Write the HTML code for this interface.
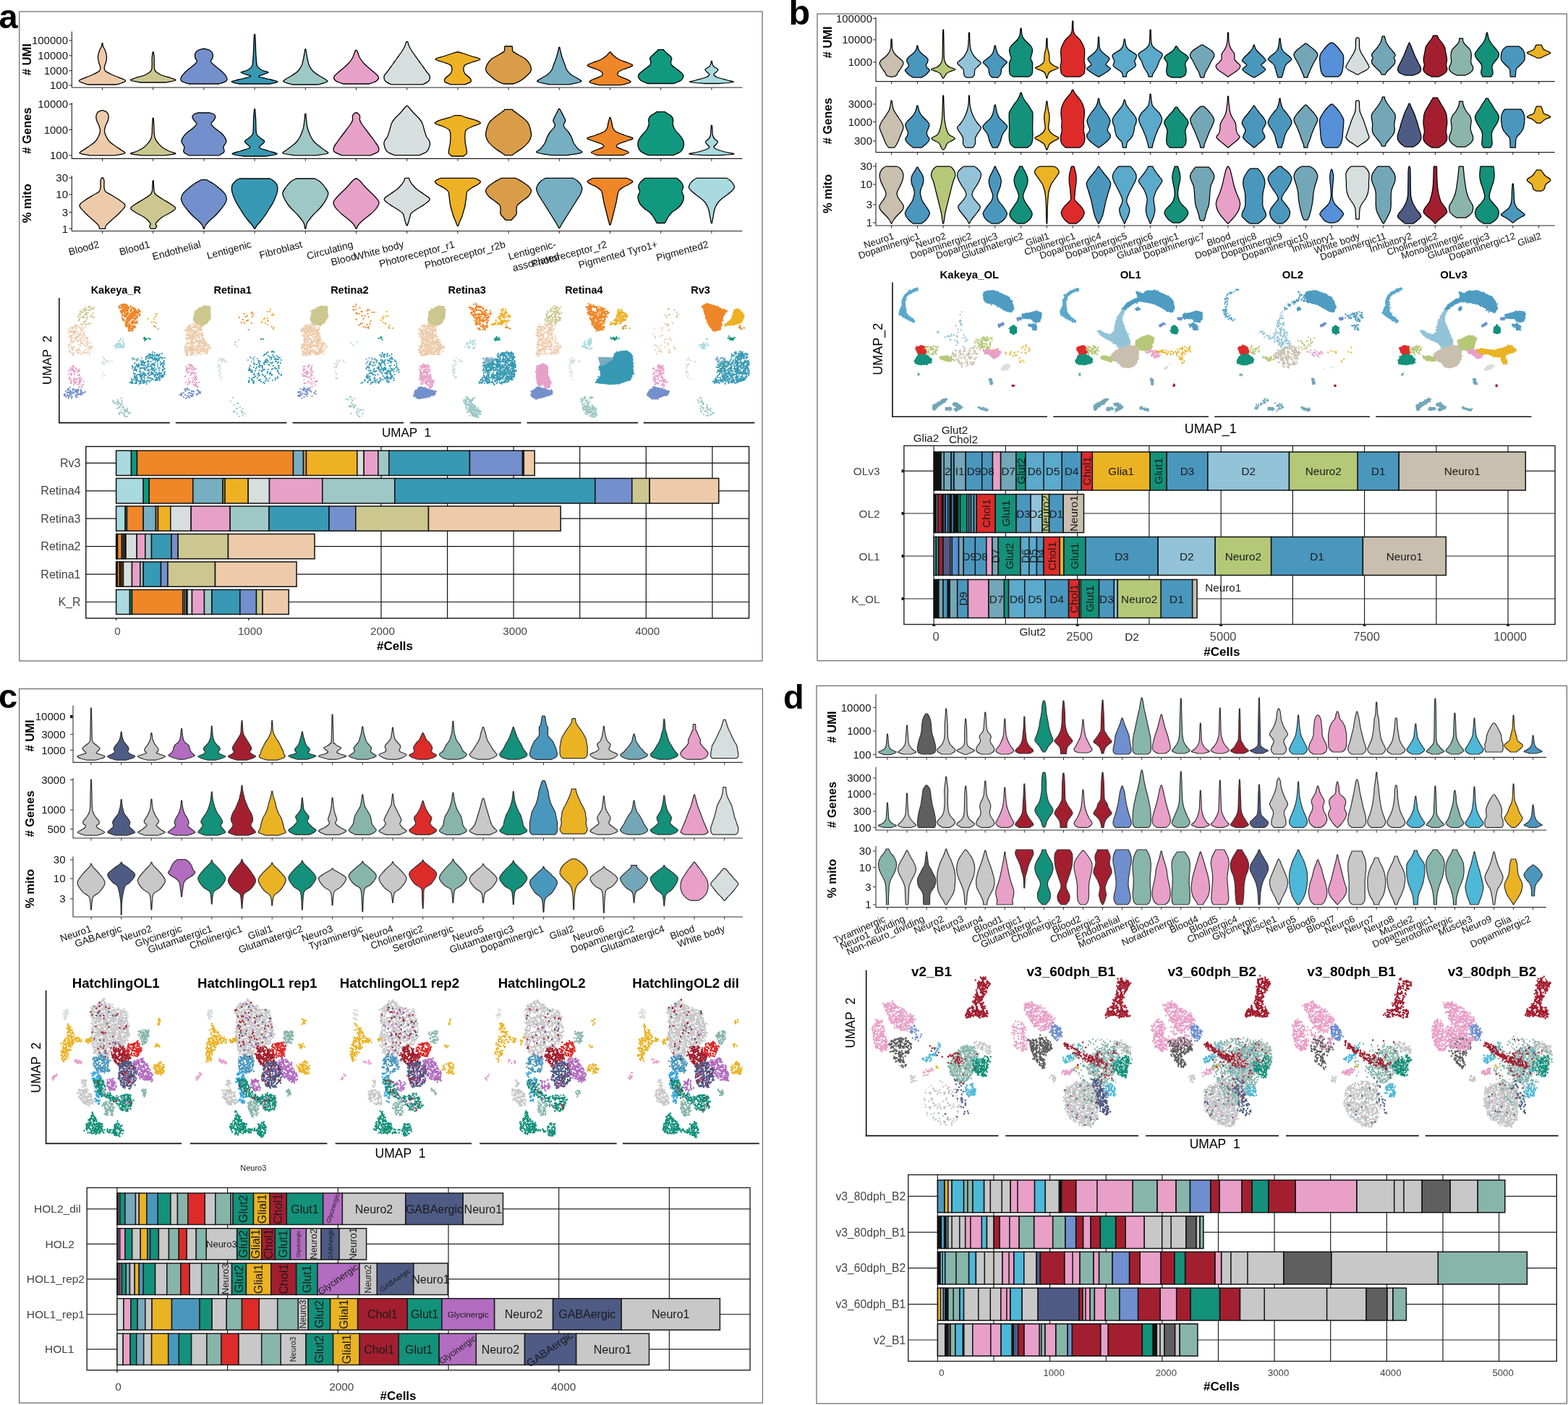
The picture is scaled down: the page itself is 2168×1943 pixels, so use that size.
<!DOCTYPE html>
<html><head><meta charset="utf-8"><title>Figure</title>
<style>html,body{margin:0;padding:0;background:#fff;} svg{display:block;} text{font-family:'Liberation Sans', Arial, Helvetica, sans-serif;}</style>
</head><body>
<svg xmlns="http://www.w3.org/2000/svg" width="2168" height="1943" viewBox="0 0 2168 1943">
<defs><pattern id="p0" width="20" height="20" patternUnits="userSpaceOnUse"><path d="M-1 8zm0 3zm0 1zm1-13zm0 3zm0 2zm0 3zm0 2zm0 2zm0 5zm0 3zm1-18zm0 3zm0 0zm0 17zm1-18zm0 13zm1-15zm0 3zm0 0zm0 5zm0 3zm0 1zm0 0zm0 4zm1-16zm0 4zm0 0zm0 8zm0 2zm0 1zm1-10zm0 2zm0 1zm0 1zm0 1zm1-11zm0 12zm0 0zm0 1zm0 1zm0 1zm0 2zm0 3zm1-18zm0 2zm0 1zm0 5zm0 1zm0 2zm1-14zm0 3zm0 1zm0 1zm0 1zm0 3zm0 6zm0 0zm0 2zm0 2zm0 1zm1-20zm0 3zm0 1zm0 3zm0 12zm0 1zm1-12zm0 1zm0 10zm1-19zm0 1zm0 12zm0 1zm0 2zm0 4zm0 1zm1-20zm0 0zm0 4zm0 4zm0 0zm0 7zm0 5zm0 0zm1-19zm0 8zm0 3zm0 1zm0 2zm0 0zm0 6zm1-22zm0 5zm0 4zm0 10zm0 1zm1-17zm0 1zm0 1zm0 1zm0 2zm0 2zm0 0zm0 2zm1-9zm0 7zm0 2zm0 1zm0 1zm0 4zm1-12zm0 2zm0 0zm0 7zm0 5zm1-16zm0 4zm0 1zm0 0zm0 2zm0 7zm0 1zm1-13zm0 3zm0 3zm0 1zm1-13zm0 3zm0 2zm0 3zm0 2zm0 2zm0 5zm0 3zm1-18zm0 3zm0 0zm0 17z" stroke="#C8C8C8" stroke-width="2.5" stroke-linecap="round"/></pattern><pattern id="p1" width="20" height="20" patternUnits="userSpaceOnUse"><path d="M-1 1zm0 14zm0 3zm0 3zm1-20zm0 1zm0 2zm0 1zm0 3zm0 5zm0 4zm1-17zm0 1zm0 3zm0 1zm0 1zm0 1zm0 1zm0 11zm0 1zm0 1zm1-18zm0 4zm0 2zm0 0zm0 1zm0 0zm0 4zm1-12zm0 4zm0 11zm0 1zm1-14zm0 0zm0 2zm0 10zm0 1zm0 1zm1-13zm0 4zm0 0zm0 1zm0 1zm0 1zm0 0zm0 6zm1-18zm0 3zm0 4zm0 1zm0 7zm0 0zm0 1zm0 4zm1-19zm0 1zm0 4zm0 0zm0 1zm0 1zm0 5zm0 8zm1-11zm0 1zm0 4zm0 1zm1-16zm0 4zm0 6zm0 4zm0 2zm0 3zm0 1zm1-6zm0 3zm0 1zm0 1zm1-18zm0 3zm0 1zm0 4zm0 5zm0 0zm0 7zm1-15zm0 1zm0 2zm0 2zm0 4zm1-12zm0 10zm0 3zm1-17zm0 3zm0 10zm0 4zm0 1zm0 2zm1-17zm0 1zm0 2zm0 2zm0 5zm0 1zm1-13zm0 3zm0 2zm0 1zm0 6zm0 6zm0 2zm1-19zm0 1zm0 0zm0 3zm0 3zm0 7zm0 6zm1-16zm0 7zm0 2zm0 1zm1-14zm0 3zm0 11zm0 3zm0 3zm1-20zm0 1zm0 2zm0 1zm0 3zm0 5zm0 4zm1-16zm0 3zm0 2zm0 2zm0 13z" stroke="#EAB323" stroke-width="2.5" stroke-linecap="round"/></pattern><pattern id="p2" width="20" height="20" patternUnits="userSpaceOnUse"><path d="M-1 11zm0 1zm0 1zm0 5zm0 1zm1-19zm0 1zm0 1zm0 1zm0 0zm0 0zm0 8zm0 1zm0 2zm0 2zm0 4zm1-19zm0 6zm0 4zm0 0zm0 2zm0 4zm0 4zm1-19zm0 3zm0 3zm0 7zm0 2zm1-13zm0 3zm0 1zm0 2zm0 3zm1-13zm0 0zm0 1zm0 4zm0 8zm0 5zm0 1zm0 1zm0 0zm0 1zm1-19zm0 0zm0 6zm0 0zm0 3zm1-4zm0 6zm0 3zm0 1zm1-18zm0 0zm0 2zm0 2zm0 1zm0 2zm0 1zm0 6zm0 2zm0 0zm0 1zm0 0zm0 2zm0 1zm0 0zm1-5zm0 2zm1-17zm0 3zm0 6zm0 2zm0 8zm0 1zm1-5zm1-10zm0 1zm0 0zm0 1zm0 5zm0 2zm0 2zm1-3zm0 2zm0 1zm1-9zm0 3zm0 1zm0 2zm0 3zm0 2zm1-16zm0 0zm0 2zm0 12zm0 3zm0 3zm0 0zm1-22zm0 7zm0 0zm0 2zm0 9zm0 2zm1-18zm0 5zm0 5zm0 2zm0 1zm1-11zm0 4zm0 1zm0 3zm0 0zm0 3zm1-15zm0 1zm0 5zm0 0zm0 7zm0 5zm0 2zm0 1zm1-12zm0 1zm0 2zm0 1zm0 1zm0 5zm0 1zm1-19zm0 1zm0 1zm0 1zm0 0zm0 0zm0 8zm0 1zm0 2zm0 2zm0 4zm1-19zm0 6zm0 4zm0 2zm0 4zm0 4z" stroke="#88B5AA" stroke-width="2.5" stroke-linecap="round"/></pattern><pattern id="p3" width="20" height="20" patternUnits="userSpaceOnUse"><path d="M-1 4zm0 2zm0 6zm0 3zm0 1zm0 2zm1-19zm0 2zm0 2zm0 4zm0 2zm0 0zm0 2zm0 3zm0 1zm0 4zm0 2zm1-21zm0 4zm0 4zm0 3zm0 9zm1-18zm0 12zm1-11zm0 2zm0 6zm1-10zm0 4zm0 0zm0 5zm0 2zm0 1zm0 0zm0 1zm0 4zm1-18zm0 0zm0 5zm0 1zm0 0zm0 1zm0 8zm0 0zm0 3zm0 2zm0 0zm1-21zm0 8zm0 6zm0 3zm0 2zm0 1zm1-15zm0 0zm0 0zm0 3zm0 11zm1-19zm0 1zm0 3zm0 3zm0 2zm0 11zm0 1zm1-19zm0 1zm0 0zm0 1zm0 1zm0 2zm0 0zm0 4zm0 7zm0 4zm1-22zm0 9zm0 1zm0 3zm0 2zm0 2zm0 1zm0 2zm1-17zm0 5zm0 5zm0 2zm0 1zm1-15zm0 4zm0 1zm0 11zm0 2zm0 2zm1-20zm0 0zm0 3zm0 17zm0 0zm1-18zm0 0zm0 1zm0 3zm0 1zm0 11zm0 1zm1-20zm0 2zm0 3zm0 15zm0 2zm1-17zm0 4zm0 2zm1-10zm0 2zm0 9zm0 2zm0 5zm0 2zm1-18zm0 4zm0 1zm0 1zm0 1zm0 0zm0 5zm1-15zm0 5zm0 0zm0 2zm0 6zm0 3zm0 1zm0 2zm0 1zm1-20zm0 2zm0 2zm0 4zm0 2zm0 0zm0 2zm0 3zm0 1zm0 4zm0 2zm1-21zm0 4zm0 4zm0 3zm0 9z" stroke="#A31F30" stroke-width="2.5" stroke-linecap="round"/></pattern><pattern id="p4" width="20" height="20" patternUnits="userSpaceOnUse"><path d="M-1 8zm0 10zm1-16zm0 0zm0 2zm0 6zm0 9zm1-17zm0 2zm0 0zm0 1zm1-2zm0 0zm0 1zm0 8zm0 4zm0 2zm1-18zm0 3zm0 2zm0 4zm0 0zm0 4zm0 7zm1-19zm0 3zm0 2zm0 3zm0 1zm0 0zm0 2zm0 0zm0 9zm1-19zm0 4zm0 1zm0 6zm0 4zm0 0zm1-17zm0 2zm0 2zm0 1zm0 3zm0 5zm0 0zm0 4zm0 3zm1-18zm0 1zm0 10zm0 1zm1-13zm0 1zm0 8zm0 3zm0 8zm1-9zm0 1zm0 2zm0 3zm0 0zm1-18zm0 2zm0 1zm0 1zm0 1zm0 6zm0 1zm0 8zm1-16zm0 6zm0 3zm0 1zm0 1zm0 1zm0 0zm0 3zm1-17zm0 5zm0 3zm0 2zm0 3zm0 0zm0 3zm1-12zm0 11zm1-14zm0 6zm0 3zm0 1zm0 5zm1-19zm0 0zm0 5zm0 6zm0 1zm0 1zm0 3zm0 4zm0 0zm1-16zm0 0zm0 1zm0 3zm0 5zm0 4zm1-17zm0 0zm0 3zm0 1zm0 5zm0 0zm0 5zm0 6zm0 0zm0 0zm1-7zm0 1zm0 1zm0 3zm1-9zm0 1zm0 9zm1-16zm0 0zm0 2zm0 6zm0 9zm1-15z" stroke="#DD2B2A" stroke-width="2.5" stroke-linecap="round"/></pattern><pattern id="p5" width="20" height="20" patternUnits="userSpaceOnUse"><path d="M-1 4zm0 9zm0 1zm0 2zm1-17zm0 2zm0 1zm0 8zm0 6zm0 3zm0 2zm1-14zm0 4zm0 1zm0 0zm1-13zm0 2zm0 9zm0 0zm0 1zm0 2zm0 6zm0 2zm1-20zm0 0zm0 2zm0 0zm0 5zm0 2zm0 8zm0 3zm0 0zm1-19zm0 1zm0 6zm0 2zm0 1zm0 1zm0 1zm0 0zm0 3zm1-15zm0 3zm0 2zm0 3zm0 0zm0 8zm1-16zm0 4zm0 0zm0 5zm0 2zm0 3zm1-12zm0 5zm0 1zm0 1zm0 6zm0 2zm0 0zm1-10zm0 4zm0 3zm0 0zm1-13zm0 1zm0 1zm0 3zm0 1zm0 0zm0 3zm1-13zm0 3zm0 7zm0 1zm0 9zm1-14zm0 2zm0 1zm0 9zm1-10zm0 1zm0 1zm0 1zm0 0zm0 2zm0 3zm0 0zm0 0zm0 4zm1-16zm0 9zm0 2zm0 4zm1-13zm0 12zm0 1zm1-18zm0 5zm0 3zm0 6zm0 2zm0 4zm1-21zm0 6zm0 3zm0 1zm0 6zm0 4zm1-19zm0 2zm0 3zm0 10zm0 0zm0 1zm0 4zm1-17zm0 3zm0 1zm0 2zm0 0zm0 4zm1-12zm0 3zm0 9zm0 1zm0 2zm0 5zm1-22zm0 2zm0 1zm0 8zm0 6zm0 3zm0 2zm1-14zm0 4zm0 1z" stroke="#B26CC0" stroke-width="2.5" stroke-linecap="round"/></pattern><pattern id="p6" width="20" height="20" patternUnits="userSpaceOnUse"><path d="M-1 9zm0 5zm1-13zm0 6zm0 0zm0 2zm0 2zm0 0zm0 5zm1-13zm0 0zm0 1zm0 2zm0 1zm0 3zm0 1zm0 0zm0 2zm1-14zm0 3zm0 3zm0 0zm0 2zm0 1zm0 1zm0 10zm1-10zm0 9zm0 0zm1-12zm0 1zm0 1zm0 10zm1-18zm0 3zm0 3zm0 2zm0 1zm0 4zm0 1zm0 2zm0 1zm0 0zm0 3zm1-12zm0 6zm0 1zm0 0zm0 2zm0 1zm1-16zm0 1zm0 1zm0 12zm1-15zm0 1zm0 2zm0 7zm0 3zm1-13zm0 1zm0 2zm0 2zm0 6zm0 0zm0 9zm1-11zm0 6zm0 0zm0 2zm1-16zm0 0zm0 0zm0 4zm0 3zm0 4zm1-13zm0 0zm0 0zm0 1zm0 5zm0 4zm0 4zm0 4zm0 1zm0 1zm0 0zm0 0zm0 1zm1-19zm0 2zm0 3zm0 2zm0 4zm0 1zm1-7zm0 4zm0 3zm1-13zm0 9zm0 7zm0 4zm1-21zm0 1zm0 13zm0 1zm0 4zm0 1zm0 1zm1-19zm0 3zm0 3zm0 2zm0 2zm0 1zm1-11zm0 6zm0 3zm0 2zm0 4zm0 0zm0 1zm1-9zm0 1zm0 4zm1-13zm0 6zm0 0zm0 2zm0 2zm0 0zm0 5zm1-13zm0 3zm0 1zm0 3zm0 1zm0 0zm0 2z" stroke="#4E5B85" stroke-width="2.5" stroke-linecap="round"/></pattern><pattern id="p7" width="20" height="20" patternUnits="userSpaceOnUse"><path d="M-1 0zm0 1zm0 3zm0 9zm0 6zm0 1zm0 1zm1-22zm0 1zm0 5zm0 11zm0 1zm0 2zm0 1zm1-18zm0 5zm0 9zm0 2zm1-17zm0 0zm0 2zm0 3zm0 4zm0 6zm0 0zm0 1zm0 4zm0 0zm1-20zm0 3zm0 1zm0 0zm0 2zm0 7zm0 4zm0 0zm1-11zm0 2zm0 1zm0 3zm0 1zm0 0zm0 0zm0 3zm1-17zm0 1zm0 3zm0 13zm0 2zm0 1zm0 1zm1-16zm0 6zm0 0zm0 1zm0 3zm0 2zm1-16zm0 0zm0 8zm0 0zm0 1zm0 11zm1-21zm0 8zm0 0zm0 12zm1-16zm0 1zm0 3zm0 4zm0 2zm0 1zm0 3zm0 1zm1-14zm0 3zm0 2zm0 0zm0 8zm1-11zm0 7zm0 0zm0 1zm0 2zm1-18zm0 3zm0 6zm0 1zm0 0zm0 5zm0 5zm1-20zm0 1zm0 1zm0 0zm0 2zm0 3zm0 1zm0 4zm0 8zm0 1zm0 1zm1-22zm0 5zm0 8zm0 1zm0 4zm0 2zm1-15zm0 2zm0 1zm1-5zm0 9zm0 0zm0 1zm0 4zm0 1zm0 1zm1-14zm0 1zm0 4zm0 5zm0 4zm1-13zm0 10zm0 3zm1-18zm0 1zm0 0zm0 3zm0 9zm0 6zm0 1zm0 1zm0 0zm1-22zm0 1zm0 5zm0 11zm0 1zm0 2zm0 1zm1-18zm0 5zm0 11z" stroke="#4A97BE" stroke-width="2.5" stroke-linecap="round"/></pattern><pattern id="p8" width="20" height="20" patternUnits="userSpaceOnUse"><path d="M-1 1zm0 3zm0 1zm0 3zm0 0zm0 1zm0 0zm0 2zm0 3zm0 0zm0 7zm1-19zm1 0zm0 2zm0 1zm0 6zm0 1zm0 1zm0 5zm1-15zm0 0zm0 2zm0 3zm0 4zm0 0zm1-13zm0 1zm0 4zm0 1zm0 0zm0 5zm0 5zm0 1zm0 1zm0 2zm0 1zm1-12zm0 2zm0 7zm1-18zm0 7zm0 6zm0 7zm1-20zm0 0zm0 1zm0 0zm0 0zm0 8zm0 4zm0 5zm0 2zm0 0zm0 1zm0 0zm0 0zm1-21zm0 1zm0 1zm0 4zm0 2zm0 0zm0 11zm0 1zm0 1zm0 1zm1-19zm0 2zm0 3zm0 7zm0 2zm1-16zm0 2zm0 4zm0 5zm0 1zm0 5zm0 0zm0 3zm1-16zm0 1zm0 1zm0 9zm0 4zm1-17zm0 1zm0 2zm0 0zm0 0zm0 6zm0 1zm0 4zm1-1zm0 3zm1-17zm0 1zm0 2zm0 0zm0 9zm0 0zm0 8zm1-20zm0 8zm0 2zm0 0zm0 0zm0 3zm0 1zm0 1zm1-14zm0 6zm0 3zm1-7zm0 4zm0 3zm0 0zm0 3zm0 2zm0 2zm1-16zm0 2zm0 5zm0 8zm1-13zm0 3zm0 6zm1-12zm0 3zm0 1zm0 3zm0 0zm0 1zm0 0zm0 1zm0 1zm0 3zm0 0zm0 7zm1-19zm1 2zm0 1zm0 6zm0 1zm0 6z" stroke="#3BA8E0" stroke-width="2.5" stroke-linecap="round"/></pattern><pattern id="p9" width="20" height="20" patternUnits="userSpaceOnUse"><path d="M-1 0zm0 5zm0 9zm0 4zm0 2zm1-19zm0 2zm0 4zm0 2zm0 4zm0 0zm0 6zm0 2zm1-21zm0 6zm0 1zm0 1zm0 3zm0 1zm0 3zm0 2zm0 3zm1-20zm0 0zm0 6zm0 3zm0 11zm0 0zm1-21zm0 1zm0 18zm0 1zm0 1zm1-10zm0 3zm0 2zm0 0zm0 1zm1-15zm0 1zm0 0zm0 5zm0 1zm0 6zm0 7zm1-18zm0 3zm0 6zm0 1zm1-9zm0 3zm0 9zm1-15zm0 14zm0 3zm0 3zm1-22zm0 1zm0 0zm0 3zm0 5zm0 1zm0 1zm0 1zm0 3zm0 1zm0 4zm0 1zm0 0zm1-14zm0 3zm0 5zm0 1zm1-15zm0 0zm0 1zm0 0zm0 2zm0 1zm0 5zm0 2zm0 4zm0 2zm0 3zm0 0zm0 1zm1-21zm0 3zm0 2zm0 15zm1-19zm0 2zm0 0zm0 3zm0 3zm0 5zm0 1zm0 3zm0 0zm0 3zm1-19zm0 1zm0 8zm0 3zm0 4zm1-15zm0 5zm0 6zm1-13zm0 16zm0 2zm0 2zm1-21zm0 2zm0 4zm0 4zm0 3zm0 2zm0 1zm0 4zm1-20zm0 4zm0 1zm0 1zm0 1zm0 1zm0 8zm0 2zm0 1zm0 1zm1-20zm0 0zm0 5zm0 4zm0 1zm0 4zm0 4zm0 2zm0 0zm1-19zm0 2zm0 4zm0 2zm0 4zm0 0zm0 6zm0 2zm1-21zm0 6zm0 5zm0 1zm0 5zm0 3z" stroke="#13917A" stroke-width="2.5" stroke-linecap="round"/></pattern><pattern id="p10" width="20" height="20" patternUnits="userSpaceOnUse"><path d="M-1 1zm0 11zm0 1zm0 2zm1-15zm0 7zm0 1zm0 1zm0 11zm1-12zm0 3zm1-12zm0 6zm0 0zm0 7zm0 7zm1-16zm0 3zm0 6zm0 3zm0 2zm1-18zm0 6zm0 9zm0 3zm0 2zm1-13zm0 1zm0 9zm1-11zm0 1zm0 10zm1-13zm0 5zm0 2zm0 4zm1-12zm0 2zm0 1zm0 1zm0 6zm0 3zm0 0zm1-15zm0 9zm0 0zm0 7zm0 4zm1-15zm0 9zm0 4zm1-14zm0 7zm0 2zm0 5zm1-13zm0 1zm0 4zm0 5zm0 2zm0 2zm1-20zm0 1zm0 2zm0 12zm0 5zm0 1zm1-12zm0 5zm0 5zm1-7zm1-3zm0 4zm0 4zm1-17zm0 9zm0 6zm0 5zm1-12zm0 6zm0 2zm0 2zm1-16zm0 11zm0 1zm0 2zm1-15zm0 7zm0 1zm0 1zm0 11zm1-12zm0 3z" stroke="#C8C8C8" stroke-width="2.5" stroke-linecap="round"/></pattern><pattern id="p11" width="20" height="20" patternUnits="userSpaceOnUse"><path d="M-1 5zm0 4zm1-1zm0 8zm1-17zm0 2zm0 14zm0 4zm0 2zm1-11zm0 3zm0 0zm1-13zm0 12zm0 0zm0 8zm1-15zm1-6zm0 5zm0 1zm0 4zm0 5zm0 5zm1-13zm0 8zm1-13zm0 1zm0 1zm0 8zm0 6zm0 1zm0 3zm1-20zm0 0zm0 2zm0 7zm0 1zm0 2zm0 2zm0 1zm0 5zm0 0zm1-22zm0 5zm0 3zm0 9zm0 3zm1-3zm0 3zm1-20zm0 8zm0 9zm0 3zm1-18zm0 0zm0 5zm0 3zm0 3zm0 9zm0 0zm1-22zm0 8zm0 3zm0 5zm0 3zm0 1zm1-11zm1 7zm0 2zm1-16zm0 3zm0 5zm0 1zm0 6zm0 2zm1-17zm0 1zm0 0zm0 4zm0 2zm0 1zm0 5zm0 7zm1-18zm0 3zm0 6zm0 5zm0 1zm1-13zm0 4zm1-1zm0 8zm1-17zm0 2zm0 14zm0 4zm0 2z" stroke="#EAB323" stroke-width="2.5" stroke-linecap="round"/></pattern><pattern id="p12" width="20" height="20" patternUnits="userSpaceOnUse"><path d="M-1 8zm0 6zm1-12zm0 0zm0 2zm0 1zm1 1zm0 2zm0 1zm0 0zm0 1zm0 4zm1-5zm0 0zm0 2zm0 1zm1-11zm0 4zm0 2zm0 6zm0 8zm1-19zm0 1zm0 16zm1-17zm0 0zm0 2zm0 2zm0 2zm0 2zm0 8zm0 1zm1-18zm0 7zm0 2zm0 11zm1-17zm0 2zm0 5zm0 7zm1-11zm0 5zm0 1zm1-4zm1-5zm0 8zm0 6zm1-13zm0 1zm0 4zm0 1zm0 6zm1-13zm0 3zm0 1zm0 3zm0 0zm1-9zm0 4zm0 1zm0 0zm0 3zm1-11zm0 9zm0 3zm0 0zm0 8zm1-19zm0 1zm0 4zm0 13zm0 2zm0 1zm1-16zm0 11zm1-16zm0 1zm0 4zm0 7zm0 6zm0 2zm2-12zm0 6zm1-12zm0 0zm0 2zm0 1zm1 1zm0 2zm0 1zm0 5z" stroke="#4A97BE" stroke-width="2.5" stroke-linecap="round"/></pattern><pattern id="p13" width="20" height="20" patternUnits="userSpaceOnUse"><path d="M-1 1zm0 9zm0 1zm0 2zm0 5zm0 3zm1-22zm0 5zm0 3zm0 2zm0 10zm2-16zm0 8zm0 3zm0 2zm1-9zm0 1zm0 1zm0 1zm1-1zm0 4zm0 3zm0 0zm1-6zm0 1zm0 8zm1-7zm0 6zm0 0zm1-19zm0 2zm0 5zm0 3zm0 7zm0 2zm0 1zm0 2zm1-21zm0 1zm0 0zm0 4zm0 1zm0 6zm0 8zm0 1zm0 0zm1-15zm0 2zm0 2zm0 4zm0 4zm1-19zm0 8zm0 2zm0 3zm0 2zm0 5zm1-4zm1-16zm0 9zm0 3zm0 8zm1-20zm0 1zm0 6zm0 11zm0 2zm0 1zm1-17zm0 5zm1-9zm0 7zm0 1zm0 6zm0 6zm1-16zm0 1zm0 10zm1-4zm0 8zm0 0zm1-18zm0 3zm0 6zm0 1zm0 1zm0 1zm0 8zm1-19zm0 9zm0 1zm0 2zm0 5zm0 3zm1-22zm0 5zm0 3zm0 2zm0 10z" stroke="#13917A" stroke-width="2.5" stroke-linecap="round"/></pattern><pattern id="p14" width="20" height="20" patternUnits="userSpaceOnUse"><path d="M-1 14zm1-5zm0 2zm1-5zm0 12zm1-17zm1 0zm0 6zm0 3zm0 4zm0 7zm2-17zm0 10zm0 2zm1-12zm0 7zm0 7zm1-8zm0 1zm1-2zm0 5zm0 0zm0 1zm1-15zm0 4zm0 2zm0 4zm0 10zm1-19zm1 6zm0 7zm0 3zm1-10zm0 7zm0 2zm1-15zm0 20zm1-22zm0 0zm0 14zm0 5zm0 1zm0 0zm1-17zm1 4zm0 7zm1-13zm0 20zm1-17zm0 4zm0 1zm0 4zm0 2zm0 0zm1 0zm0 4zm1-9zm0 2zm1-5zm0 12z" stroke="#EAB323" stroke-width="2.5" stroke-linecap="round"/></pattern><pattern id="p15" width="20" height="20" patternUnits="userSpaceOnUse"><path d="M-1 2zm0 4zm0 3zm0 0zm0 2zm0 1zm0 2zm1-15zm0 1zm0 7zm0 3zm0 2zm0 7zm0 1zm1-21zm0 10zm0 4zm0 6zm1-15zm0 1zm0 0zm0 5zm0 4zm1-15zm0 1zm0 6zm0 1zm0 1zm0 6zm0 5zm0 1zm1-21zm0 0zm0 2zm0 3zm0 1zm0 4zm0 1zm0 0zm0 2zm0 7zm0 0zm0 2zm1-21zm0 1zm0 11zm0 5zm0 1zm0 2zm1-18zm0 1zm0 2zm0 1zm0 4zm0 0zm0 3zm0 4zm0 1zm1-18zm0 5zm0 3zm0 1zm0 3zm0 1zm0 3zm0 4zm1-6zm0 0zm0 1zm0 0zm0 1zm1-16zm0 0zm0 0zm0 3zm0 4zm0 2zm0 1zm0 1zm0 9zm0 0zm0 0zm1-16zm0 1zm0 0zm0 5zm0 0zm0 8zm1-13zm0 1zm0 9zm0 0zm0 0zm0 2zm1-17zm0 10zm0 0zm0 7zm0 1zm0 2zm1-13zm0 3zm0 2zm0 0zm0 3zm0 0zm0 3zm1-15zm0 4zm0 7zm0 4zm1-19zm0 6zm0 8zm0 2zm0 4zm1-9zm0 5zm1-10zm0 8zm0 0zm0 5zm1-16zm0 6zm0 1zm0 2zm0 0zm1-9zm0 4zm0 2zm0 1zm0 0zm0 2zm0 1zm0 2zm1-15zm0 1zm0 7zm0 3zm0 2zm0 7zm0 1zm1-21zm0 10zm0 4zm0 6z" stroke="#E8A0C8" stroke-width="2.5" stroke-linecap="round"/></pattern><pattern id="p16" width="20" height="20" patternUnits="userSpaceOnUse"><path d="M-1 3zm0 4zm0 5zm0 1zm0 1zm0 3zm1-14zm2 2zm0 2zm0 10zm1-18zm0 0zm0 2zm0 4zm0 1zm0 8zm0 0zm0 1zm0 1zm0 3zm0 0zm0 0zm0 0zm1-13zm0 0zm0 1zm0 0zm0 1zm0 8zm1-17zm0 1zm0 2zm0 2zm0 1zm0 2zm0 0zm0 2zm0 6zm0 3zm0 1zm0 1zm1-21zm0 2zm0 5zm0 13zm0 2zm1-20zm0 12zm0 3zm1-9zm0 2zm0 9zm1-9zm0 8zm1-14zm0 4zm0 2zm1-4zm1-5zm0 4zm0 0zm0 10zm0 2zm0 4zm1-21zm0 4zm0 1zm0 3zm0 1zm0 11zm1-19zm0 14zm0 6zm1-19zm0 7zm0 1zm1-3zm0 7zm0 1zm1-12zm0 9zm0 0zm1-7zm0 13zm1-14zm0 4zm0 5zm0 1zm0 1zm0 3zm1-14z" stroke="#5F5F5F" stroke-width="2.5" stroke-linecap="round"/></pattern><pattern id="p17" width="20" height="20" patternUnits="userSpaceOnUse"><path d="M-1 7zm1 4zm4-8zm1 8zm1 2zm1-2zm1-10zm0 20zm2-16zm1 1zm1 3zm2-1zm2 5zm1-3zm2-3zm1 4z" stroke="#C8C8C8" stroke-width="2.5" stroke-linecap="round"/></pattern><pattern id="p18" width="20" height="20" patternUnits="userSpaceOnUse"><path d="M-1 -1zm0 16zm0 4zm0 0zm1-8zm0 1zm1-12zm0 5zm0 7zm0 8zm1-12zm0 8zm1-15zm0 4zm0 5zm0 11zm2-21zm0 6zm0 14zm1-18zm1 7zm1-6zm0 6zm0 4zm0 4zm3-15zm0 2zm0 0zm0 5zm1 5zm0 3zm1-15zm0 5zm0 4zm1-9zm0 1zm0 3zm0 5zm0 3zm1-11zm0 6zm0 0zm0 1zm0 6zm1-16zm0 4zm0 2zm0 5zm0 3zm0 4zm0 0zm0 2zm1-9zm2-12zm0 1zm0 15zm0 4zm0 0zm0 1zm1-9zm0 1zm1-12zm0 5zm0 7zm0 8z" stroke="#E8A0C8" stroke-width="2.5" stroke-linecap="round"/></pattern><pattern id="p19" width="20" height="20" patternUnits="userSpaceOnUse"><path d="M-1 0zm0 5zm0 13zm0 2zm1-16zm0 1zm0 1zm0 3zm0 5zm0 5zm1-17zm0 5zm0 3zm0 5zm0 4zm1-19zm0 3zm0 2zm0 2zm0 2zm0 3zm0 8zm1-16zm0 5zm0 9zm1-19zm0 10zm0 1zm0 3zm0 4zm0 0zm0 1zm0 1zm1-19zm0 1zm0 3zm0 7zm0 9zm1-20zm0 4zm0 0zm0 2zm0 0zm0 1zm0 1zm0 1zm0 3zm0 4zm0 2zm0 2zm1-19zm0 2zm0 2zm0 0zm0 5zm0 5zm0 6zm1-21zm0 0zm0 2zm0 2zm0 13zm0 1zm0 2zm0 0zm1-20zm0 5zm0 6zm0 9zm1-18zm0 8zm0 6zm0 2zm1-18zm0 4zm0 0zm0 2zm0 3zm0 2zm0 3zm0 1zm0 3zm0 0zm0 2zm1-13zm0 2zm0 3zm0 3zm1-15zm0 4zm0 0zm0 2zm0 8zm0 0zm0 6zm1-20zm0 5zm0 7zm0 8zm1-21zm0 2zm0 0zm0 7zm0 2zm0 1zm0 0zm0 5zm0 0zm0 3zm1-20zm0 0zm0 1zm0 4zm0 2zm0 1zm0 0zm0 1zm0 5zm0 6zm0 0zm0 0zm0 1zm1-11zm0 4zm1-12zm0 14zm0 2zm0 4zm1-21zm0 5zm0 4zm0 7zm0 2zm0 2zm1-16zm0 1zm0 1zm0 3zm0 5zm0 5zm1-17zm0 5zm0 3zm0 5zm0 4z" stroke="#6F8FCF" stroke-width="2.5" stroke-linecap="round"/></pattern><pattern id="p20" width="20" height="20" patternUnits="userSpaceOnUse"><path d="M0 4zm0 10zm0 3zm1-12zm0 1zm0 0zm0 1zm0 4zm1-9zm0 4zm0 1zm0 4zm0 3zm0 1zm0 3zm1-17zm0 8zm0 3zm0 9zm1-21zm0 4zm0 4zm0 1zm0 1zm0 3zm0 1zm0 5zm0 1zm1-20zm0 0zm0 2zm0 5zm0 1zm0 1zm0 1zm0 3zm0 2zm0 5zm0 0zm1-17zm0 3zm0 1zm0 0zm0 4zm0 3zm1-12zm0 1zm0 3zm0 2zm0 2zm0 7zm0 0zm0 1zm1-9zm0 1zm0 1zm0 2zm0 2zm1-16zm0 1zm0 2zm0 3zm0 1zm0 1zm0 2zm0 4zm0 6zm0 1zm1-17zm0 2zm0 6zm1 0zm0 6zm0 2zm1-11zm1-9zm0 0zm0 1zm0 2zm0 3zm0 1zm0 0zm0 2zm0 2zm0 2zm0 2zm0 1zm0 2zm0 2zm0 0zm0 0zm0 0zm0 1zm1-19zm0 5zm0 3zm0 1zm1-5zm0 1zm0 9zm1 1zm1-14zm0 0zm0 7zm0 0zm0 0zm0 4zm0 1zm0 0zm1-14zm0 2zm0 1zm0 1zm0 2zm0 5zm0 6zm0 1zm0 2zm1-19zm0 1zm0 4zm0 0zm0 10zm1-12zm0 10zm0 3zm1-12zm0 1zm0 0zm0 1zm0 4z" stroke="#5F5F5F" stroke-width="2.5" stroke-linecap="round"/></pattern><pattern id="p21" width="20" height="20" patternUnits="userSpaceOnUse"><path d="M-1 0zm0 10zm0 10zm1-21zm0 9zm0 3zm0 1zm0 1zm0 2zm0 4zm1-17zm0 2zm0 1zm0 2zm0 5zm0 6zm0 0zm1-18zm0 6zm0 4zm0 3zm0 0zm0 1zm0 2zm0 2zm0 2zm1-16zm0 1zm0 2zm0 2zm0 1zm0 3zm0 1zm0 0zm0 3zm1-11zm0 1zm0 3zm0 5zm0 1zm0 0zm0 0zm1-15zm0 1zm0 3zm0 2zm0 5zm0 1zm0 5zm0 3zm1-21zm0 1zm0 2zm0 5zm0 1zm0 0zm0 2zm0 2zm0 7zm0 1zm1-16zm0 8zm1-10zm0 3zm0 3zm0 1zm0 7zm1-12zm0 7zm0 2zm0 1zm0 2zm1-17zm0 8zm0 5zm0 0zm0 3zm0 4zm1-2zm1-15zm0 6zm0 3zm0 2zm0 1zm1-12zm0 3zm0 1zm0 0zm0 8zm1-14zm0 2zm0 0zm0 2zm0 4zm0 0zm0 0zm0 12zm1-22zm0 20zm1-20zm0 6zm0 0zm0 1zm0 6zm0 1zm0 2zm0 0zm0 3zm0 0zm0 0zm0 1zm0 0zm1-17zm0 2zm0 1zm0 1zm0 2zm1-7zm0 0zm0 8zm0 0zm0 1zm0 11zm0 0zm1-21zm0 10zm0 0zm0 10zm1-21zm0 9zm0 3zm0 1zm0 1zm0 2zm0 4zm1-15zm0 1zm0 7zm0 6zm0 0z" stroke="#4DB8D8" stroke-width="2.5" stroke-linecap="round"/></pattern><pattern id="p22" width="20" height="20" patternUnits="userSpaceOnUse"><path d="M-1 15zm1-1zm3 3zm2-12zm1-5zm0 20zm2-18zm3 15zm1-13zm2 7zm1-11zm0 20zm2-12zm0 6zm1-1zm1 2zm1-1z" stroke="#88B5AA" stroke-width="2.5" stroke-linecap="round"/></pattern><pattern id="p23" width="20" height="20" patternUnits="userSpaceOnUse"><path d="M-1 9zm1-7zm0 4zm0 0zm0 4zm1 7zm1-10zm0 1zm0 2zm0 5zm1-10zm0 8zm0 3zm0 1zm0 0zm1-10zm0 2zm1 7zm0 1zm1-18zm0 3zm0 1zm0 0zm0 2zm0 2zm0 5zm0 4zm0 3zm1-14zm0 5zm0 2zm0 6zm1-13zm0 7zm0 3zm0 1zm1-13zm0 1zm0 12zm1-9zm0 7zm0 3zm1-10zm0 1zm0 0zm0 5zm0 1zm1-14zm0 15zm0 2zm0 3zm1-16zm0 8zm0 0zm0 0zm0 6zm0 1zm1-7zm1-10zm0 4zm0 6zm0 4zm1-12zm0 1zm0 9zm1-12zm0 1zm0 16zm1-18zm0 0zm0 6zm0 8zm0 1zm0 2zm0 3zm0 0zm1-21zm0 6zm0 3zm0 4zm0 7zm1-18zm0 4zm0 0zm0 4z" stroke="#88B5AA" stroke-width="2.5" stroke-linecap="round"/></pattern><pattern id="p24" width="20" height="20" patternUnits="userSpaceOnUse"><path d="M-1 3zm1-3zm0 0zm0 3zm0 1zm0 3zm0 0zm0 10zm0 3zm0 0zm1-20zm0 20zm1-19zm0 0zm0 16zm0 4zm0 0zm1-12zm0 8zm1 2zm1-17zm0 0zm0 1zm0 3zm0 1zm0 0zm0 3zm0 6zm0 1zm1-15zm0 2zm0 7zm0 7zm1-15zm0 4zm0 2zm0 8zm1-14zm0 4zm0 9zm0 1zm1-11zm0 2zm0 1zm0 0zm1-5zm0 2zm0 5zm0 1zm0 3zm1-2zm0 5zm1-19zm0 4zm0 4zm0 3zm0 2zm0 2zm0 1zm0 4zm1-11zm0 5zm0 1zm0 1zm0 0zm0 2zm1-17zm0 4zm0 2zm0 14zm1-19zm0 13zm0 0zm0 7zm1-17zm0 2zm0 2zm0 7zm1-10zm0 2zm0 6zm0 1zm1-3zm1-8zm1-3zm0 0zm0 3zm0 1zm0 3zm0 0zm0 10zm0 3zm0 0zm1-20zm0 20z" stroke="#A31F30" stroke-width="2.5" stroke-linecap="round"/></pattern><pattern id="p25" width="20" height="20" patternUnits="userSpaceOnUse"><path d="M-1 9zm0 4zm0 1zm1-5zm0 6zm1-10zm0 0zm0 9zm1-8zm1-5zm0 13zm1-15zm0 14zm0 0zm0 4zm0 2zm1-20zm0 14zm0 6zm1-8zm1 3zm1-11zm0 13zm1-15zm0 8zm0 3zm0 6zm1-13zm0 5zm0 0zm1-6zm0 5zm0 4zm0 2zm1 0zm1-15zm0 2zm0 2zm0 16zm1-17zm0 3zm0 7zm0 1zm1-12zm0 10zm0 5zm1 0zm1-12zm0 5zm1-9zm0 1zm1 0zm0 7zm0 4zm0 1zm1-5zm0 6z" stroke="#88B5AA" stroke-width="2.5" stroke-linecap="round"/></pattern><pattern id="p26" width="20" height="20" patternUnits="userSpaceOnUse"><path d="M0 3zm0 1zm0 5zm0 5zm2-12zm1 14zm1-17zm0 3zm0 7zm0 10zm1-16zm0 10zm1-4zm1 0zm0 1zm1 7zm1-12zm0 5zm0 2zm1-12zm0 7zm0 13zm1-20zm0 1zm0 6zm0 1zm0 0zm0 4zm0 8zm0 1zm1-19zm0 4zm0 7zm1-9zm0 1zm0 4zm0 2zm0 0zm1 1zm0 2zm1 2zm1-1zm1-13zm0 2zm0 1zm0 5zm1-11zm0 4zm0 4zm0 10zm0 2zm1-6zm0 2zm0 3zm1-15zm0 1zm0 5zm0 5z" stroke="#4E5B85" stroke-width="2.5" stroke-linecap="round"/></pattern><pattern id="p27" width="20" height="20" patternUnits="userSpaceOnUse"><path d="M-1 1zm0 0zm0 7zm0 3zm0 5zm0 5zm1-18zm0 0zm0 16zm1-16zm0 3zm0 7zm0 2zm1-12zm0 11zm0 4zm2-19zm0 15zm0 5zm1-5zm0 1zm1-14zm0 1zm0 4zm0 1zm0 8zm0 6zm1-17zm0 10zm1-14zm0 2zm0 0zm0 6zm0 3zm0 9zm1-17zm0 3zm0 3zm0 9zm1-10zm1 9zm1-11zm0 2zm1-2zm0 4zm1 1zm0 3zm2-12zm1 5zm0 3zm0 1zm0 1zm1 0zm1-11zm0 0zm0 7zm0 3zm0 5zm0 5zm1-18zm0 0zm0 16zm1-13zm0 9z" stroke="#5F5F5F" stroke-width="2.5" stroke-linecap="round"/></pattern></defs>
<rect x="0" y="0" width="2168" height="1943" fill="#fff"/>
<rect x="26.7" y="16" width="1027.3" height="898" fill="none" stroke="#6f6f6f" stroke-width="1.3" />
<g font-size="47" font-weight="bold"><text x="-1.5" y="38.5">a</text></g>
<g stroke="#000" stroke-width="1.3" stroke-linejoin="round"><path fill="#EDCBAA" d="M121.5,117h40c1.8-.7 9.3-2.8 11-4s1.7-1.5 -1-3s-10.7-4 -15-6s-9-4 -11-6s-1.2-4 -1-6s1.5-3.7 2-6s1.2-5.3 1-8s-1.2-5.7 -2-8s-2.4-4.3 -3-6s-.4-3.3 -.5-4H141c-.1,.7 .1,2.3 -.5,4s-2.2,3.7 -3,6s-1.8,5.3 -2,8s.5,5.7 1,8s1.8,4 2,6s1,4 -1,6s-6.7,4 -11,6s-12.3,4.5 -15,6s-2.7,1.8 -1,3s9.2,3.3 11,4z"/><path fill="#CCC78F" d="M193.7,114h36c2.2-.5 11.8-2 13-3s-2.8-1.8 -6-3s-9.7-2.7 -13-4s-5.3-2.7 -7-4s-2.4-2 -3-4s-.4-5.3 -.5-8s.2-5.3 0-8s-.8-6.7 -1-8H211.2c-.2,1.3 -.8,5.3 -1,8s.1,5.3 0,8s.1,6 -.5,8s-1.3,2.7 -3,4s-3.7,2.7 -7,4s-9.8,2.8 -13,4s-7.2,2 -6,3s10.8,2.5 13,3z"/><path fill="#7490CC" d="M260.9,116h42c1.7-.7 8.3-2.3 10-4s1.2-3.7 0-6s-4.2-5.3 -7-8s-7.6-5.8 -10-8s-4.2-3.3 -4.5-5s2.1-3.2 2.5-5s.5-4.3 0-6s-1.3-2.9 -3-4s-5.8-2.1 -7-2.5H279.9c-1.2,.4 -5.3,1.4 -7,2.5s-2.5,2.3 -3,4s-.4,4.2 0,6s2.8,3.3 2.5,5s-2.1,2.8 -4.5,5s-7.2,5.3 -10,8s-5.8,5.7 -7,8s-1.7,4.3 0,6s8.3,3.3 10,4z"/><path fill="#3899B4" d="M330.1,116h44c1.7-.5 10-2 10-3s-5.7-1.8 -10-3s-14.3-2.8 -16-4s3.8-2 6-3s7.3-2 7-3s-6.5-1.7 -9-3s-4.8-3 -6-5s-1.1-3.3 -1.5-7s-.8-10 -1-15s-.3-11.2 -.5-15s-.4-6.2 -.5-7.5H351.6c-.1,1.2 -.3,3.8 -.5,7.5s-.2,10 -.5,15s-.6,11.3 -1,15s-.2,5 -1.5,7s-3.5,3.7 -6,5s-8.7,2 -9,3s4.8,2 7,3s7.7,1.8 6,3s-11.7,2.8 -16,4s-10,2 -10,3s8.3,2.5 10,3z"/><path fill="#9EC8C6" d="M404.3,117h36c2-.7 10.3-2.8 12-4s0-1.5 -2-3s-7-4 -10-6s-5.8-3.7 -8-6s-3.8-5 -5-8s-1.8-6.3 -2.5-10s-1.7-10 -2-12H421.8c-.3,2 -1.2,8.3 -2,12s-1.2,7 -2.5,10s-2.8,5.7 -5,8s-5,4 -8,6s-8,4.5 -10,6s-3.7,1.8 -2,3s10,3.3 12,4z"/><path fill="#E7A1C8" d="M474.5,116h36c1.7-.7 7.8-2.5 10-4s3-3.5 3-5s-1.2-2.2 -3-4s-5.2-4.5 -8-7s-6.5-5.3 -9-8s-4.5-5.3 -6-8s-2.2-6.2 -3-8s-1.2-2.2 -1.5-2.6H492c-.2,.4 -.8,.8 -1.5,2.6s-1.5,5.3 -3,8s-3.5,5.3 -6,8s-6.2,5.5 -9,8s-6.2,5.2 -8,7s-3,2.5 -3,4s.8,3.5 3,5s8.3,3.3 10,4z"/><path fill="#D6DFDD" d="M540.7,116.8h44c1.3-.8 6.4-2.8 8-4.8s2-4.8 1.5-7s-2.9-3.8 -4.5-6s-3.3-4.7 -5-7s-3.3-4.7 -5-7s-3.3-4.7 -5-7s-3.5-4.7 -5-7s-3-4.8 -4-7s-1.7-5.3 -2-6.4H561.7c-.3,1.1 -1,4.2 -2,6.4s-2.5,4.7 -4,7s-3.3,4.7 -5,7s-3.3,4.7 -5,7s-3.3,4.7 -5,7s-3.4,4.8 -5,7s-4,3.8 -4.5,6s-.1,5 1.5,7s6.7,4 8,4.8z"/><path fill="#EFB124" d="M622.9,116.8h20c1.3-.6 6.8-2.3 8-3.8s.3-3.2 -1-5s-5.5-4 -7-6s-2-4 -2-6s0-4.3 2-6s6.5-2.7 10-4s11-2.7 11-4s-7.2-2.7 -11-4s-8.8-3 -12-4s-5.8-1.7 -7-2H631.9c-1.2,.3 -3.8,1 -7,2s-8.2,2.7 -12,4s-11,2.7 -11,4s7.5,2.7 11,4s8,2.3 10,4s2,4 2,6s-.5,4 -2,6s-5.7,4.2 -7,6s-2.2,3.5 -1,5s6.7,3.2 8,3.8z"/><path fill="#D99D49" d="M696.1,116h14c1.5-.7 6.2-2.3 9-4s5.5-3.7 8-6s6-5.3 7-8s.2-5.3 -1-8s-3.3-5.7 -6-8s-7-4.2 -10-6s-6.6-3.5 -8-5s-.3-2.8 -.5-4s-.4-2.5 -.5-3H698.1c-.1,.5 -.3,1.8 -.5,3s.9,2.5 -.5,4s-5,3.2 -8,5s-7.3,3.7 -10,6s-4.8,5.3 -6,8s-2,5.3 -1,8s4.5,5.7 7,8s5.2,4.3 8,6s7.5,3.3 9,4z"/><path fill="#76AEC2" d="M759.3,116.8h28c2.7-.6 14-2.5 16-3.8s-1.7-2.3 -4-4s-7.3-3.8 -10-6s-4.7-4.8 -6-7s-1.3-4.2 -2-6s-1.2-3 -2-5s-1.8-4.5 -2.5-7s-1.5-5.9 -2-8s-.8-3.9 -1-4.7H772.8c-.2,.8 -.5,2.6 -1,4.7s-1.2,5.5 -2,8s-1.8,5 -2.5,7s-1.3,3.2 -2,5s-.7,3.8 -2,6s-3.3,4.8 -6,7s-7.7,4.3 -10,6s-6,2.7 -4,4s13.3,3.2 16,3.8z"/><path fill="#EF8627" d="M829.5,117.7h28c2.3-.6 12.3-2.4 14-3.7s-1.3-2.5 -4-4s-9.8-3.4 -12-5s-2-3.2 -1-4.7s3.7-2.8 7-4.3s11.8-3.5 13-5s-2.8-2.5 -6-4s-9.7-3.3 -13-5s-5.1-3.3 -7-5s-3.8-4.2 -4.5-5H843c-.8,.8 -2.6,3.3 -4.5,5s-3.7,3.3 -7,5s-9.8,3.5 -13,5s-7.2,2.5 -6,4s9.7,3.5 13,5s6,2.8 7,4.3s1.2,3.1 -1,4.7s-9.3,3.5 -12,5s-5.7,2.7 -4,4s11.7,3.1 14,3.7z"/><path fill="#11997F" d="M895.7,115.5h36c1.7-.8 7.8-2.6 10-4.5s3.7-4.7 3-7s-4.3-4.7 -7-7s-7.3-5 -9-7s-1-3.3 -1-5s1.7-3.3 1-5s-3.2-3.3 -5-5s-4.5-3.9 -5.5-5s-.4-1.2 -.5-1.4H909.7c-.1,.2 .5,.3 -.5,1.4s-3.8,3.3 -5.5,5s-4.3,3.3 -5,5s1,3.3 1,5s.7,3 -1,5s-6.3,4.7 -9,7s-6.3,4.7 -7,7s.8,5.1 3,7s8.3,3.8 10,4.5z"/><path fill="#A9DADF" d="M973.9,115.5h20c3.3-.3 18-1.2 20-2s-4.3-1.4 -8-2.5s-10.8-2.7 -14-4s-4.7-2.8 -5-4s2-1.8 3-3s3.5-2.7 3-4s-4.7-2.7 -6-4s-1.6-2.8 -2-4s-.4-2.8 -.5-3.4H983.4c-.1,.6 -.1,2.2 -.5,3.4s-.7,2.7 -2,4s-5.5,2.7 -6,4s2,2.8 3,4s3.3,1.8 3,3s-1.8,2.7 -5,4s-10.3,2.9 -14,4s-10,1.8 -8,2.5s16.7,1.7 20,2z"/></g>
<path d="M99.3 43.5V121.5M98.8 121H1026.5" stroke="#222" stroke-width="1.1" fill="none"/>
<path d="M95.3 56H99.3M95.3 76.9H99.3M95.3 97.7H99.3M95.3 118H99.3M141.5 121V124.5M211.7 121V124.5M281.9 121V124.5M352.1 121V124.5M422.3 121V124.5M492.5 121V124.5M562.7 121V124.5M632.9 121V124.5M703.1 121V124.5M773.3 121V124.5M843.5 121V124.5M913.7 121V124.5M983.9 121V124.5" stroke="#222" stroke-width="1" fill="none"/>
<g font-size="15" text-anchor="end" fill="#111"><text x="94" y="61.2">100000</text><text x="94" y="82.1">10000</text><text x="94" y="102.9">1000</text><text x="94" y="123.2">100</text></g>
<g font-size="16.5" text-anchor="middle" font-weight="bold"><text x="42.7" y="82.25" transform="rotate(-90 42.7 82.25)"># UMI</text></g>
<g stroke="#000" stroke-width="1.3" stroke-linejoin="round"><path fill="#EDCBAA" d="M123.5,214.8h36c2.2-.5 11.5-1.7 13-2.8s-1.8-2.3 -4-4s-6.2-4 -9-6s-6-4 -8-6s-2.9-4 -4-6s-2-4.3 -2.5-6s-.7-2.3 -.5-4s.7-3.7 1.5-6s2.8-5.7 3.5-8s.8-4.2 .5-6s-1.2-3.8 -2.5-5s-4.2-1.9 -5-2.3H140.5c-.8,.4 -3.8,1.1 -5,2.3s-2.2,3.2 -2.5,5s-.2,3.7 .5,6s2.7,5.7 3.5,8s1.3,4.3 1.5,6s0,2.3 -.5,4s-1.4,4 -2.5,6s-2,4 -4,6s-5.2,4 -8,6s-6.8,4.3 -9,6s-5.5,2.9 -4,4s10.8,2.3 13,2.8z"/><path fill="#CCC78F" d="M195.7,214.8h32c2.5-.4 14-1.3 15-2.3s-6-2.1 -9-3.5s-6.5-3.2 -9-5s-4.3-4 -6-6s-3.1-3.8 -4-6s-1.2-4.2 -1.5-7s-.1-6.4 -.3-10s-.6-9.8 -.7-11.7H211.2c-.1,1.9 -.5,8.1 -.7,11.7s0,7.2 -.3,10s-.6,4.8 -1.5,7s-2.3,4 -4,6s-3.5,4.2 -6,6s-6,3.6 -9,5s-10,2.5 -9,3.5s12.5,1.9 15,2.3z"/><path fill="#7490CC" d="M260.9,214.8h42c1.2-.8 6-2.8 7-4.8s-1.5-4.7 -1-7s3.7-4.8 4-7s-.8-4 -2-6s-2.7-3.8 -5-6s-6.7-4.8 -9-7s-4.8-4.2 -5-6s3-3.3 4-5s2.2-3.6 2-5s-1.7-2.7 -3-3.5s-4.2-1.2 -5-1.5H273.9c-.8,.2 -3.7,.7 -5,1.5s-2.8,2.1 -3,3.5s1,3.3 2,5s4.2,3.2 4,5s-2.7,3.8 -5,6s-6.7,4.8 -9,7s-3.8,4 -5,6s-2.3,3.8 -2,6s3.5,4.7 4,7s-2,5 -1,7s5.8,4 7,4.8z"/><path fill="#3899B4" d="M336.1,216h32c2.5-.5 14.3-1.8 15-3s-7.2-2.7 -11-4s-9.8-3 -12-4s-1.7-1 -1-2.2s3.9-3.5 5-4.8s2.2-1.8 1.5-3s-3.8-2.5 -5.5-4s-4-3.2 -5-5s-.8-2.5 -1-6s-.2-10.1 -.5-15s-.8-11.8 -1-14.2H351.6c-.2,2.4 -.8,9.3 -1,14.2s-.2,11.5 -.5,15s0,4.2 -1,6s-3.2,3.5 -5,5s-4.8,2.8 -5.5,4s.4,1.7 1.5,3s4.3,3.6 5,4.8s1.2,1.2 -1,2.2s-8.2,2.7 -12,4s-11.7,2.8 -11,4s12.5,2.5 15,3z"/><path fill="#9EC8C6" d="M406.3,214.8h32c2.5-.5 13.2-1.7 15-2.8s-2-2.3 -4-4s-5.5-4 -8-6s-5.2-4 -7-6s-2.8-3.7 -4-6s-2.6-5.5 -3.5-8s-1.4-4.2 -2-7s-1-7.1 -1.3-10s-.6-6.2 -.7-7.5H421.8c-.1,1.2 -.4,4.6 -.7,7.5s-.8,7.2 -1.3,10s-1.1,4.5 -2,7s-2.2,5.7 -3.5,8s-2.2,4 -4,6s-4.5,4 -7,6s-6,4.3 -8,6s-5.8,2.9 -4,4s12.5,2.3 15,2.8z"/><path fill="#E7A1C8" d="M472.5,214.8h40c1.7-.8 8.2-3 10-4.8s1.7-3.7 1-6s-3.2-5.3 -5-8s-4-5.3 -6-8s-4-5.3 -6-8s-4.5-5.7 -6-8s-2.5-4 -3-6s.6-4.3 0-6s-2.9-3.3 -3.5-4H491c-.6,.7 -2.9,2.3 -3.5,4s.5,4 0,6s-1.5,3.7 -3,6s-4,5.3 -6,8s-4,5.3 -6,8s-4.2,5.3 -6,8s-4.3,5.7 -5,8s-.8,4.2 1,6s8.3,4 10,4.8z"/><path fill="#D6DFDD" d="M545.7,214.7h34c1.7-.8 7.7-2.8 10-4.7s3.2-4.7 4-7s1.2-4.7 .5-7s-3.2-4.3 -4.5-7s-2-5.8 -3-9s-1.7-7.2 -3-10s-3-4.7 -5-7s-5-4.8 -7-7s-3.6-4.4 -5-6s-2.9-3.1 -3.5-3.7H562.2c-.6,.6 -2.1,2.1 -3.5,3.7s-3,3.8 -5,6s-5,4.7 -7,7s-3.7,4.2 -5,7s-2,6.8 -3,10s-1.8,6.3 -3,9s-3.8,4.7 -4.5,7s-.2,4.7 .5,7s1.7,5.1 4,7s8.3,3.9 10,4.7z"/><path fill="#EFB124" d="M624.9,216h16c.8-.7 3.8-2.3 4.5-4s-.2-3.7 -.5-6s-1.2-5 -1.5-8s-.7-7 -.5-10s-.2-5.8 1.5-8s5.2-3.4 8.5-5s10.8-2.9 11.5-4.4s-3.9-3.2 -7.5-4.6s-10.7-2.9 -14-4s-5-2 -6-2.4H628.9c-1,.4 -2.7,1.3 -6,2.4s-10.4,2.6 -14,4s-8.2,3.1 -7.5,4.6s8.2,2.8 11.5,4.4s6.8,2.8 8.5,5s1.3,5 1.5,8s-.2,7 -.5,10s-1.2,5.7 -1.5,8s-1.2,4.3 -.5,6s3.8,3.3 4.5,4z"/><path fill="#D99D49" d="M698.1,214.7h10c.8-.6 2.5-1.9 5-3.7s7-4.5 10-7s6.1-5.2 8-8s3.2-6 3.5-9s-.8-6.2 -1.5-9s-1.3-5.5 -3-8s-4.5-4.8 -7-7s-5.8-4.3 -8-6s-4.4-3.1 -5.5-4s-.8-1.4 -1-1.7H697.6c-.2,.3 .1,.8 -1,1.7s-3.2,2.3 -5.5,4s-5.5,3.8 -8,6s-5.3,4.5 -7,7s-2.2,5.2 -3,8s-1.8,6 -1.5,9s1.6,6.2 3.5,9s5,5.5 8,8s7.5,5.2 10,7s4.2,3.1 5,3.7z"/><path fill="#76AEC2" d="M763.3,214.7h20c3.5-.6 18.3-2.2 21-3.7s-3.2-2.8 -5-5s-4.5-5.3 -6-8s-1.8-5.5 -3-8s-2.3-4.7 -4-7s-4.8-5.2 -6-7s-1.2-2.5 -1-4s2.5-3.2 2.5-5s-1.6-4 -2.5-6s-2.1-4.2 -3-6s-2.1-3.8 -2.5-4.5H772.8c-.4,.8 -1.6,2.8 -2.5,4.5s-2.1,4 -3,6s-2.5,4.2 -2.5,6s2.2,3.5 2.5,5s.2,2.2 -1,4s-4.3,4.7 -6,7s-2.8,4.5 -4,7s-1.5,5.3 -3,8s-4.2,5.8 -6,8s-7.7,3.6 -5,5s17.5,3.1 21,3.7z"/><path fill="#EF8627" d="M826.5,214.7h34c1.5-.6 8.8-2.4 9-3.7s-5.2-2.7 -8-4s-8-2.7 -9-4s.2-2.5 3-4s10.8-3.7 14-5s6.5-1.8 5.5-3s-7.6-2.5 -11.5-4s-9.3-3.3 -12-5s-3.1-3 -4-5s-.9-4.6 -1.5-7s-1.7-6.4 -2-7.7H843c-.3,1.3 -1.4,5.2 -2,7.7s-.6,5 -1.5,7s-1.3,3.3 -4,5s-8.1,3.5 -12,5s-10.5,2.8 -11.5,4s2.2,1.7 5.5,3s11.2,3.5 14,5s4,2.7 3,4s-6.2,2.7 -9,4s-8.2,2.7 -8,4s7.5,3.1 9,3.7z"/><path fill="#11997F" d="M896.7,214.7h34c1.7-.8 7.7-2.9 10-4.7s3.2-3.7 4-6s1.2-5.3 .5-8s-2.6-5.3 -4.5-8s-5.2-5.3 -7-8s-3-5.7 -3.5-8s.8-4.2 .5-6s-.7-3.5 -2-5s-4.4-2.9 -6-4s-2.9-2 -3.5-2.4H908.2c-.6,.4 -1.9,1.3 -3.5,2.4s-4.7,2.5 -6,4s-1.8,3.2 -2,5s1,3.7 .5,6s-1.8,5.3 -3.5,8s-5.1,5.3 -7,8s-3.8,5.3 -4.5,8s-.2,5.7 .5,8s1.7,4.2 4,6s8.3,3.9 10,4.7z"/><path fill="#A9DADF" d="M973.9,214.7h20c3.5-.3 19.7-.9 21-1.7s-8.8-1.8 -13-3s-9.5-2.8 -12-4s-3-2 -3-3s2.1-1.8 3-3s2.8-2.7 2.5-4s-3.3-2.5 -4.5-4s-2-3 -2.5-5s-.3-4.7 -.5-7s-.4-5.5 -.5-6.6H983.4c-.1,1.1 -.3,4.3 -.5,6.6s0,5 -.5,7s-1.3,3.5 -2.5,5s-4.2,2.7 -4.5,4s1.6,2.8 2.5,4s3,2 3,3s-.5,1.8 -3,3s-7.8,2.8 -12,4s-14.3,2.2 -13,3s17.5,1.4 21,1.7z"/></g>
<path d="M99.3 142V219.9M98.8 219.4H1026.5" stroke="#222" stroke-width="1.1" fill="none"/>
<path d="M95.3 144H99.3M95.3 179.4H99.3M95.3 214.9H99.3M141.5 219.4V222.9M211.7 219.4V222.9M281.9 219.4V222.9M352.1 219.4V222.9M422.3 219.4V222.9M492.5 219.4V222.9M562.7 219.4V222.9M632.9 219.4V222.9M703.1 219.4V222.9M773.3 219.4V222.9M843.5 219.4V222.9M913.7 219.4V222.9M983.9 219.4V222.9" stroke="#222" stroke-width="1" fill="none"/>
<g font-size="15" text-anchor="end" fill="#111"><text x="94" y="149.2">10000</text><text x="94" y="184.6">1000</text><text x="94" y="220.1">100</text></g>
<g font-size="16.5" text-anchor="middle" font-weight="bold"><text x="42.7" y="180.7" transform="rotate(-90 42.7 180.7)"># Genes</text></g>
<g stroke="#000" stroke-width="1.3" stroke-linejoin="round"><path fill="#EDCBAA" d="M137.5,316.3h8c.2-.7 -.2-2.6 1-4.3s3.7-3.8 6-6s5.5-4.7 8-7s4.9-4.5 7-7s5.8-5.5 5.5-8s-4.4-4.7 -7.5-7s-7.8-5 -11-7s-6.8-3.2 -8.5-5s-1.7-3.5 -2-6s.2-6.8 0-9s-1.2-3.3 -1.5-4H140.5c-.2,.7 -1.2,1.8 -1.5,4s.3,6.5 0,9s-.2,4.2 -2,6s-5.2,3 -8.5,5s-7.9,4.7 -11,7s-7.2,4.5 -7.5,7s3.4,5.5 5.5,8s4.5,4.7 7,7s5.7,4.8 8,7s4.8,4.3 6,6s.8,3.6 1,4.3z"/><path fill="#CCC78F" d="M208.7,316.3h6c.3-.6 1.9-2.2 2-3.3s-1.8-2.1 -1.5-3.4s1.9-3 3.5-4.6s3.2-3.2 6-5s8-4 11-6s7-4 7-6s-4.2-4 -7-6s-6.8-4 -10-6s-6.9-4.2 -9-6s-2.8-1.7 -3.5-5s-.8-12.5 -1-15H211.2c-.2,2.5 -.2,11.7 -1,15s-1.4,3.2 -3.5,5s-5.8,4 -9,6s-7.2,4 -10,6s-7,4 -7,6s4,4 7,6s8.2,4.2 11,6s4.4,3.4 6,5s3.2,3.3 3.5,4.6s-1.6,2.3 -1.5,3.4s1.7,2.8 2,3.3z"/><path fill="#7490CC" d="M281.4,316.3h1c.2-.7 .4-2.6 1.5-4.3s2.7-3.7 5-6s6.3-5.3 9-8s4.8-5.3 7-8s4.6-5.5 6-8s2.5-4.7 2.5-7s-.9-4.7 -2.5-7s-4.3-4.7 -7-7s-6.3-5.2 -9-7s-5.5-3.1 -7-4s-1.7-1.1 -2-1.3H277.9c-.3,.2 -.5,.4 -2,1.3s-4.3,2.2 -7,4s-6.3,4.7 -9,7s-5.4,4.7 -7,7s-2.5,4.7 -2.5,7s1.1,4.5 2.5,7s3.8,5.3 6,8s4.3,5.3 7,8s6.7,5.7 9,8s3.9,4.3 5,6s1.2,3.6 1.5,4.3z"/><path fill="#3899B4" d="M351.6,316.3h1c.4-.7 1.1-2.4 2.5-4.3s4-4.5 6-7s4.2-5.3 6-8s3.3-5.3 5-8s3.5-5.2 5-8s2.9-6.2 4-9s2.2-5.3 2.5-8s.4-5.7 -.5-8s-3.3-4.5 -5-6s-4.2-2.5 -5-3H331.1c-.8,.5 -3.3,1.5 -5,3s-4.1,3.7 -5,6s-.8,5.3 -.5,8s1.4,5.2 2.5,8s2.5,6.2 4,9s3.3,5.3 5,8s3.2,5.3 5,8s4,5.5 6,8s4.6,5.1 6,7s2.1,3.6 2.5,4.3z"/><path fill="#9EC8C6" d="M421.8,316.3h1c.2-1.2 .6-5.1 1.5-7.3s2.5-4 4-6s3-3.8 5-6s4.8-4.7 7-7s4.2-4.5 6-7s3.8-5.3 5-8s2.8-5.3 2.5-8s-2.6-5.3 -4.5-8s-4.7-6 -7-8s-5.8-3.3 -7-4H409.3c-1.2,.7 -4.7,2 -7,4s-5.1,5.3 -7,8s-4.2,5.3 -4.5,8s1.2,5.3 2.5,8s3.2,5.5 5,8s3.8,4.7 6,7s5,4.8 7,7s3.5,4 5,6s3.1,3.8 4,6s1.2,6.1 1.5,7.3z"/><path fill="#E7A1C8" d="M492,316.3h1c.4-.9 .9-3.2 2.5-5.3s4.2-4.5 7-7s7-5.3 10-8s6.1-5.3 8-8s3.7-5.5 3.5-8s-2.4-4.5 -4.5-7s-5.5-5.5 -8-8s-4.8-4.7 -7-7s-4.2-5.2 -6-7s-3.8-3.3 -4.5-4H491c-.8,.7 -2.8,2.2 -4.5,4s-3.8,4.7 -6,7s-4.5,4.5 -7,7s-5.9,5.5 -8,8s-4.3,4.5 -4.5,7s1.6,5.3 3.5,8s5,5.3 8,8s7.2,5.5 10,8s5.4,4.9 7,7s2.1,4.4 2.5,5.3z"/><path fill="#D6DFDD" d="M562.2,311.8h1c.3-1 1.4-3.8 2-5.8s.9-4.1 1.5-6s.3-3.5 2-5.3s4.8-3.6 8-5.7s8.1-4.7 11-7s6.7-4.4 6.5-6.6s-4.6-4.2 -7.5-6.4s-7.3-4.8 -10-7s-4.3-4 -6-6s-3.2-4.4 -4-6s-.8-3 -1-3.6H559.7c-.2,.6 -.2,2 -1,3.6s-2.3,4 -4,6s-3.3,3.8 -6,6s-7.1,4.8 -10,7s-7.3,4.2 -7.5,6.4s3.6,4.3 6.5,6.6s7.8,4.9 11,7s6.3,3.9 8,5.7s1.4,3.4 2,5.3s.9,4 1.5,6s1.7,4.8 2,5.8z"/><path fill="#EFB124" d="M632.4,312.6h1c.4-1.1 1.6-4.3 2.5-6.6s2.2-4.7 3-7s1.3-4.7 2-7s1.5-4.7 2-7s.7-4.7 1-7s.7-4.8 1-7s-.2-4.2 1-6s3.5-3.3 6-5s6.9-3.5 9-5s4-2.7 3.5-4s-4.9-3.2 -6.5-4s-2.5-.5 -3-.6H610.9c-.5,.1 -1.4-.2 -3,.6s-6,2.7 -6.5,4s1.4,2.5 3.5,4s6.5,3.3 9,5s4.8,3.2 6,5s.7,3.8 1,6s.7,4.7 1,7s.5,4.7 1,7s1.3,4.7 2,7s1.2,4.7 2,7s2.1,4.7 3,7s2.1,5.5 2.5,6.6z"/><path fill="#D99D49" d="M699.1,304.3h8c.5-.6 1.8-1.9 3-3.3s3.3-3.2 4-5s-.2-4 0-6s-.3-4 1-6s4.5-4 7-6s5.9-3.7 8-6s4.3-5.7 4.5-8s-1.6-4 -3.5-6s-5.5-4.3 -8-6s-5.3-3.1 -7-4s-2.5-1.3 -3-1.6H693.1c-.5,.3 -1.3,.7 -3,1.6s-4.5,2.3 -7,4s-6.1,4 -8,6s-3.7,3.7 -3.5,6s2.4,5.7 4.5,8s5.5,4 8,6s5.7,4 7,6s.8,4 1,6s-.7,4.2 0,6s2.8,3.6 4,5s2.5,2.8 3,3.3z"/><path fill="#76AEC2" d="M772.8,315.4h1c.6-1.1 2.1-4 3.5-6.4s3.3-5.3 5-8s3.3-5.3 5-8s3.3-5.3 5-8s3.3-5.3 5-8s3.8-5.5 5-8s2.3-4.8 2.5-7s-.4-4 -1.5-6s-3.2-4.4 -5-6s-5-3 -6-3.6H754.3c-1,.6 -4.2,2 -6,3.6s-3.9,4 -5,6s-1.7,3.8 -1.5,6s1.2,4.5 2.5,7s3.3,5.3 5,8s3.3,5.3 5,8s3.3,5.3 5,8s3.3,5.3 5,8s3.6,5.6 5,8s2.9,5.3 3.5,6.4z"/><path fill="#EF8627" d="M843,311.2h1c.3-1.2 1.3-4.7 2-7.2s1.3-5.3 2-8s1.3-5.3 2-8s1.4-5.3 2-8s.9-5.3 1.5-8s.7-5.8 2-8s3.7-3.5 6-5s5.8-2.7 8-4s5.7-2.7 5.5-4s-4.9-3.2 -6.5-4s-2.5-.5 -3-.6H821.5c-.5,.1 -1.4-.2 -3,.6s-6.3,2.7 -6.5,4s3.2,2.7 5.5,4s5.7,2.5 8,4s4.7,2.8 6,5s1.4,5.3 2,8s.9,5.3 1.5,8s1.3,5.3 2,8s1.3,5.3 2,8s1.3,5.5 2,8s1.7,6 2,7.2z"/><path fill="#11997F" d="M908.2,308.5h11c.4-.8 1.6-2.9 2.5-4.5s1.8-3.3 3-5s2.2-3.3 4-5s4.8-3.2 7-5s4.5-4 6-6s2.4-4 3-6s.8-4 .5-6s-2.4-4 -2.5-6s2-4 2-6s-.8-4.2 -2-6s-3.8-3.9 -5-5s-1.7-1.3 -2-1.6H891.7c-.3,.3 -.8,.5 -2,1.6s-3.8,3.2 -5,5s-2,4 -2,6s2.1,4 2,6s-2.2,4 -2.5,6s-.1,4 .5,6s1.5,4 3,6s3.8,4.2 6,6s5.2,3.3 7,5s2.8,3.3 4,5s2.1,3.4 3,5s2.1,3.8 2.5,4.5z"/><path fill="#A9DADF" d="M983.4,308.5h1c.2-.9 .7-3.8 1-5.5s.7-3.2 1-5s.5-4 1-6s1.1-4 2-6s2.1-4.2 3.5-6s2.8-3.2 5-5s5.5-4 8-6s5.4-4.3 7-6s2.5-2.5 2.5-4.2s-1.4-4.2 -2.5-5.8s-2.7-2.9 -4-4s-3.3-2.2 -4-2.6H962.9c-.7,.4 -2.7,1.5 -4,2.6s-2.9,2.4 -4,4s-2.5,4.1 -2.5,5.8s.9,2.5 2.5,4.2s4.5,4 7,6s5.8,4.2 8,6s3.6,3.2 5,5s2.6,4 3.5,6s1.5,4 2,6s.7,4.2 1,6s.7,3.2 1,5s.8,4.6 1,5.5z"/></g>
<path d="M99.3 243V320M98.8 319.5H1026.5" stroke="#222" stroke-width="1.1" fill="none"/>
<path d="M95.3 246H99.3M95.3 269H99.3M95.3 293.6H99.3M95.3 316.3H99.3M141.5 319.5V323M211.7 319.5V323M281.9 319.5V323M352.1 319.5V323M422.3 319.5V323M492.5 319.5V323M562.7 319.5V323M632.9 319.5V323M703.1 319.5V323M773.3 319.5V323M843.5 319.5V323M913.7 319.5V323M983.9 319.5V323" stroke="#222" stroke-width="1" fill="none"/>
<g font-size="15" text-anchor="end" fill="#111"><text x="94" y="251.2">30</text><text x="94" y="274.2">10</text><text x="94" y="298.8">3</text><text x="94" y="321.5">1</text></g>
<g font-size="16.5" text-anchor="middle" font-weight="bold"><text x="42.7" y="281.25" transform="rotate(-90 42.7 281.25)">% mito</text></g>
<g font-size="13.9" text-anchor="end" fill="#111"><text x="138" y="342" transform="rotate(-15 138 342)">Blood2</text><text x="208.2" y="342" transform="rotate(-15 208.2 342)">Blood1</text><text x="278.4" y="342" transform="rotate(-15 278.4 342)">Endothelial</text><text x="348.6" y="342" transform="rotate(-15 348.6 342)">Lentigenic</text><text x="418.8" y="342" transform="rotate(-15 418.8 342)">Fibroblast</text><text x="489" y="342" transform="rotate(-15 489 342)">Circulating</text><text x="493.4" y="358.42" transform="rotate(-15 493.4 358.42)">Blood</text><text x="559.2" y="342" transform="rotate(-15 559.2 342)">White body</text><text x="629.4" y="342" transform="rotate(-15 629.4 342)">Photoreceptor_r1</text><text x="699.6" y="342" transform="rotate(-15 699.6 342)">Photoreceptor_r2b</text><text x="769.8" y="342" transform="rotate(-15 769.8 342)">Lentigenic-</text><text x="774.2" y="358.42" transform="rotate(-15 774.2 358.42)">associated</text><text x="840" y="342" transform="rotate(-15 840 342)">Photoreceptor_r2</text><text x="910.2" y="342" transform="rotate(-15 910.2 342)">Pigmented Tyro1+</text><text x="980.4" y="342" transform="rotate(-15 980.4 342)">Pigmented2</text></g>
<path transform="translate(81.8 411.9)" d="M17 41zm0 0zm2 0zm1 0zm2-2zm1 2zm0-4zm1 2zm2 0zm2 2zm2-5zm1 5zm0-5zm1 2zm1-2zm3 1zm0 3zm-2 7zm0-5zm-2 2zm-1 2zm-1-3zm0 1zm-5 3zm-1 0zm0-4zm-2 4zm0-2zm-1 2zm0-1zm-1 0zm0 1zm-1-5zm-1 4zm0-3zm-1 4zm0-1zm-1 1zm0-1zm-1-4zm-1 5zm0 0zm-1-3zm0 4zm2 5zm0-1zm2 0zm1 0zm1-3zm2 0zm1 2zm4-1zm0 3zm1-2zm2-3zm0 4zm0-4zm0 1zm0 2zm3 1zm0-1zm1 2zm1-3zm1-2zm1 4zm3 6zm0-3zm-1 0zm0 1zm-2-1zm0 4zm-3-1zm0-3zm-3 1zm-1 1zm0 1zm-2-4zm0 5zm0 0zm-2-4zm-1 0zm0 1zm0-2zm-1 4zm-1-3zm0 1zm-2 3zm-2-3zm-1-1zm0-1zm0 3zm0-3zm-1 5zm-2-4zm-1 10zm2-1zm1-3zm2 0zm1 0zm1 1zm5-2zm1 0zm1 5zm3-2zm0-3zm1 3zm0-1zm1 1zm2 1zm3-2zm2-1zm0 3zm0 1zm1-4zm0 2zm4-1zm2 5zm0 0zm-1 3zm0 0zm-1-2zm-1-1zm0 4zm0 0zm-1-3zm-1 1zm-1 0zm-3-2zm-1-1zm-6 0zm-3 4zm-6-2zm-2 3zm0-2zm-2 1zm0-3zm-3 2zm-1-2zm1 7zm1-1zm0 1zm1 2zm2-4zm0 0zm1 5zm1-1zm4-4zm0 1zm1 2zm0-3zm1 5zm0 0zm1-1zm0-4zm1 1zm1 0zm3 4zm1-2zm2 0zm1-3zm0 0zm0 5zm2-2zm1 1zm1-4zm2 3zm0 3zm-12 0zm-10 1zm-1 0z" stroke="#EDCBAA" stroke-width="2.2" stroke-linecap="round" fill="none"/>
<path transform="translate(81.8 411.9)" d="M33 16zm2 0zm0 0zm1 0zm0 1zm0-4zm1 4zm1-1zm2-3zm1 4zm0-5zm2 0zm0 3zm0 0zm0 2zm1-2zm2-1zm1 2zm1-3zm-1 8zm-7 0zm-2 2zm0-3zm-1 1zm-1 2zm-1-5zm-2 2zm-2-1zm-1 2zm-1 1zm0 1zm0-5zm-1 4zm-2 4zm1-1zm1 3zm3-1zm1 0zm2-1zm0-1zm0 2zm3 1zm2-2zm0 3zm5-3zm0-1zm1-1zm2 3zm1 0zm-5 8zm0 0zm-6-3zm-2 1zm-1 1zm-6-4zm-1 2zm10 5zm1-1zm3 0zm0 0z" stroke="#CCC78F" stroke-width="2.2" stroke-linecap="round" fill="none"/>
<path transform="translate(81.8 411.9)" d="M20 94zm-2 1zm-5 6zm2-2zm1-2zm1 3zm1-2zm0 2zm1-2zm0 2zm1-4zm0 5zm0-1zm2 1zm1-4zm1 2zm2 2zm1-1zm1-1zm0 7zm0-4zm0 5zm-2 0zm-1-4zm-4-1zm0 2zm0 2zm-4 1zm0-2zm-1 1zm0-2zm-3 2zm1 6zm0-2zm1 0zm1 3zm4 0zm1-2zm0 1zm2 0zm1 0zm1 1zm2-2zm1 2zm1-3zm1 3zm1-1zm3 4zm-4-1zm-1 2zm-1 2zm0-4zm-1 2zm-3-1zm-1 2zm-1-3zm-1 3zm0-1zm-1-2zm-3 0zm0 3zm-1 0zm0-2zm4 4zm6 0zm1 3zm2 1zm2-3zm1 2zm1-3z" stroke="#E7A1C8" stroke-width="2.2" stroke-linecap="round" fill="none"/>
<path transform="translate(81.8 411.9)" d="M15 124zm21 6zm-2 1zm-3 0zm0-2zm-1-2zm0 1zm0 2zm0 1zm-3-4zm-1 3zm0-2zm-1-1zm0 0zm0 4zm0-1zm0-2zm0-1zm-1 4zm0-2zm-1-2zm0 2zm-1-1zm0 1zm-1 2zm-1-5zm-1 0zm0 5zm0-3zm-2 2zm-1 1zm-1-2zm0-1zm-1 2zm-1-4zm0 5zm-1 0zm0-4zm0-1zm0 2zm-1 3zm-2-2zm-2 6zm0 0zm0-1zm1 0zm0-1zm1 3zm1 1zm0 0zm0 0zm1-3zm1 1zm1 1zm0 1zm1-5zm0 3zm2 1zm0-3zm0 1zm0-1zm1 0zm1 4zm1-5zm4 5zm0-2zm0-1zm2 0zm0 3zm1-3zm0-1zm2 0zm0 0zm2-1zm0 2zm1-2zm1 0zm0 1zm-15 6zm-4 0z" stroke="#7490CC" stroke-width="2.2" stroke-linecap="round" fill="none"/>
<path transform="translate(81.8 411.9)" d="M99 11zm-5 0zm0-1zm-2-1zm0 2zm0-1zm-1-1zm0 1zm-1 1zm-1-2zm0 0zm-1 1zm-1 1zm0-2zm0 2zm-2-1zm0 0zm-2 1zm0 0zm0 2zm0 1zm0-1zm1 1zm1 0zm0 0zm1-1zm1 3zm0-3zm0 0zm0 4zm1-4zm0-1zm1 3zm0 1zm1-3zm1 0zm0 0zm0 2zm0 1zm0 1zm1-3zm0 2zm0-3zm1 2zm0 2zm0-3zm0 0zm0 0zm1 1zm0 2zm0-3zm0-1zm0 2zm0 2zm0-3zm0-1zm1-1zm0 4zm0-2zm0-1zm0-1zm1 1zm0 2zm0 0zm2 2zm0 0zm0-4zm2 2zm0 1zm1-2zm0-1zm1 1zm1 1zm0 1zm0-2zm0 1zm0-1zm2 1zm0 2zm0 0zm1 0zm0 0zm3 0zm1 0zm0-1zm2 3zm0 4zm-1-4zm0-1zm0 1zm-1 1zm0 2zm0-4zm-1 2zm-1 1zm-1 0zm0-1zm0-1zm0-1zm-1 1zm0 3zm0-3zm-1 0zm0 2zm0-2zm-1-1zm0 4zm0-4zm0 5zm0-4zm0 1zm0 3zm0-1zm-1-4zm0 4zm0-2zm0 0zm-1 0zm0 1zm0 1zm-1 1zm0 0zm0 0zm0-2zm-1 0zm0-3zm-1 5zm0-1zm0 1zm0-4zm0-1zm-1 4zm-2-1zm-1 2zm0-4zm0 2zm0-3zm0 4zm-1 1zm0-2zm-1-3zm0 3zm0 1zm0 0zm-1-4zm0 0zm0 5zm-1-5zm0 2zm-1 2zm0-1zm-1-2zm0-1zm-1 1zm0-1zm0 1zm-1 0zm0 3zm0-4zm0 0zm0 0zm0 3zm-1 0zm0 0zm-1-2zm0-1zm0 1zm0-1zm0 0zm2 7zm0 3zm1-4zm0 0zm1 5zm1-5zm0 2zm1-1zm1 1zm1 0zm0-1zm1 4zm0-2zm1 2zm0-1zm1-1zm0 1zm0-1zm0-2zm1 3zm0-3zm1 3zm0-3zm0 2zm0 0zm0-3zm0 2zm1-2zm0 3zm0-2zm0 3zm0-4zm0 5zm0-2zm1-2zm1 3zm0-2zm0-2zm0 0zm0 2zm1 1zm0-3zm1 1zm0 4zm1-1zm0 0zm1-3zm0-1zm1 5zm0-2zm1-2zm1-1zm0 4zm0-2zm0-1zm3 0zm0-1zm-3 11zm0-3zm-1 1zm-1 2zm0 0zm-1-5zm0 4zm0 1zm0-1zm-1-2zm0 1zm-1 1zm-1 0zm0-2zm0 2zm-1 0zm0-2zm-1 3zm0-2zm0 0zm-2-3zm0 0zm-1 2zm0 0zm0 3zm0-4zm0-1zm-2 0zm0 2zm0-2zm0 4zm-1-1zm0 0zm0 0zm-1-1zm0 2zm0-4zm0 0zm0 0zm-1 3zm0 1zm-2-3zm0 0zm-1 1zm0-1zm0 1zm0-2zm-1 0zm4 6zm0 1zm0-1zm0 3zm0-3zm0 2zm0-2zm1 0zm0 3zm0 1zm1-3zm0 2zm0-3zm1 3zm0-2zm1 2zm0 2zm0-2zm1-3zm0 4zm0-2zm0 1zm1-1zm0 0zm0 2zm1-1zm0-1zm2 1zm0-3zm0 3zm1 2zm0-1zm0-1zm0-3zm1 5zm1-2zm0 0zm0 0zm1 0zm0 0zm0 2zm-3 2zm0 1zm-1 2zm0-4zm-1 3zm0-3zm-1 1zm-1 2zm0-3zm-1 4zm0-4zm-1 1zm0 0zm0 1zm0 1z" stroke="#EF8627" stroke-width="2.2" stroke-linecap="round" fill="none"/>
<path transform="translate(81.8 411.9)" d="M135 22zm-1 1zm-11 6zm8 0zm2-3zm1 9zm-3-2zm-3 1z" stroke="#EFB124" stroke-width="2.2" stroke-linecap="round" fill="none"/>
<path transform="translate(81.8 411.9)" d="M131 39zm2 1zm4 3z" stroke="#D99D49" stroke-width="2.2" stroke-linecap="round" fill="none"/>
<path transform="translate(81.8 411.9)" d="M88 57zm-3 1zm0-2zm-6 9zm0-1zm0 0zm2 1zm0-2zm1 2zm0-2zm0-3zm1 5zm0-5zm1 3zm1 1zm1 1zm1-5zm2 3zm0-2zm0 4zm1-1zm0 3zm0 0zm-1 1zm-1-1zm-1 2zm0-2zm0 1zm0-1zm-1 0zm0 1zm-1-2zm-1 0zm0 3zm0-2zm0 2zm-1-1zm-2 0zm-2-1zm0-1zm0 4zm0-2zm-1-2zm0 0zm-2 1z" stroke="#A9DADF" stroke-width="2.2" stroke-linecap="round" fill="none"/>
<path transform="translate(81.8 411.9)" d="M126 57zm-2-1zm-3 1zm-1 0zm-1-1zm0 2zm-1 1zm0-3zm0-1zm-1 1z" stroke="#11997F" stroke-width="2.2" stroke-linecap="round" fill="none"/>
<path transform="translate(81.8 411.9)" d="M61 82zm-2 7zm3-5zm0 4zm1-3zm0 0zm2 2zm1 2zm1-2zm2 1zm4-1zm-10 4zm-1 0zm-1-1zm-1 1zm3 16zm-2-3zm-1 4z" stroke="#D6DFDD" stroke-width="2.2" stroke-linecap="round" fill="none"/>
<path transform="translate(81.8 411.9)" d="M129 75zm3 1zm10 1zm4 6zm-3 0zm-1 0zm-2-1zm-1-4zm0 5zm-1-3zm-1 1zm0-2zm-2 1zm0-2zm-1 2zm-1 3zm-1-1zm0 1zm0-4zm-2 1zm-1 2zm0 1zm0-1zm0-4zm-1 5zm0-1zm0-3zm0 0zm-2 4zm0-5zm0 2zm0 1zm-1 0zm0-3zm-1 0zm-1 2zm0 3zm0-3zm0 0zm-1 1zm-1 0zm-1 1zm0 1zm-7 5zm2 0zm1-1zm1 2zm2 0zm1-4zm0 0zm0 0zm2 4zm1-1zm0-1zm1 1zm0-4zm3 4zm0 0zm0 0zm2-4zm1 2zm0 0zm1-1zm2 4zm0-3zm0 3zm0-5zm0 0zm0 1zm1 0zm1 1zm0-2zm1 4zm0-1zm1-3zm0 0zm0 2zm1 0zm0-2zm2 5zm2-5zm3 4zm0-1zm0 5zm0 0zm0-1zm-1 3zm0-4zm-1 5zm0-5zm-1 2zm-1-1zm-1 2zm-4 1zm0-3zm-4 1zm0 2zm-1-3zm-1 2zm-1-2zm-1 1zm-1 2zm-1 0zm-2 1zm0-4zm-1 4zm0-3zm-1 1zm-3 1zm-1-3zm-1 2zm-1 0zm0-3zm-2 0zm0 1zm0 2zm-1-1zm-2 2zm-1-3zm0 2zm-1 2zm0-1zm-1 0zm0-1zm0 0zm-1-1zm0 1zm-1 2zm-4 0zm-1-1zm0 3zm2 3zm1-3zm0 3zm1-1zm0-2zm0 3zm2 1zm0-2zm2-3zm3 2zm0-1zm0 4zm2-4zm0 0zm1 0zm2 0zm1 0zm0 2zm1-2zm0 0zm0 3zm2-4zm0 1zm1 3zm2-1zm0 2zm3-2zm1-2zm0-1zm1 1zm0 2zm1 0zm0 1zm0-2zm2-1zm0 3zm0-3zm2 2zm0 0zm3-2zm1 3zm1-3zm4 4zm0-2zm0 2zm1-2zm0-3zm2 2zm0 8zm0-4zm0 1zm-1 1zm-1 3zm-1 0zm-1-1zm-1-2zm-1 0zm-1 3zm0 0zm0-2zm-1-2zm-1 2zm-1 2zm-1-2zm-1 1zm0-3zm-1 3zm-1 1zm0-5zm-2 4zm0-2zm-1 1zm0-1zm-1 0zm0-2zm-1 2zm0 2zm0-2zm-2 3zm-1-5zm0 2zm-1 1zm-1 0zm-2 2zm-1-1zm-1-2zm-1 1zm0 1zm-1-1zm0-1zm0-1zm-1 4zm-1 0zm-1-3zm0 2zm-1-4zm-1 0zm0 4zm-1 0zm-1 0zm-2 1zm-2-2zm0 0zm-1 2zm-1-3zm-3 8zm0 0zm3 1zm1-2zm0-2zm1 0zm1 3zm0-2zm1-1zm1 4zm0-2zm4-3zm0 1zm1 0zm0 3zm1-4zm0 5zm0-4zm0 2zm0-2zm1-1zm2 2zm1 1zm0-3zm4 2zm0 0zm2-2zm0 0zm0 3zm2 0zm1 0zm2 1zm1 1zm2-5zm0 1zm0-1zm1 0zm1 3zm0 2zm1-3zm1 2zm1-1zm1-2zm1 2zm0 1zm0 1zm0-5zm2 1zm0-1zm1 2zm0-1zm1 0zm1 0zm-5 5zm-3 0zm-2 0zm-1 0zm-6 0zm-2 2zm-1-1zm-2-1zm-1 2zm0 3zm-2-2zm-1 0zm0-3zm0 2zm-1 1zm-1 1zm0-3zm0-1zm0 2zm-3-1zm0 3zm0-2zm0 0zm-1 0zm0 2zm-1 1zm0-4zm-1 0zm-2-1zm-1 4zm0-2zm-1 2zm0-3zm0-1zm-1 4zm-3 0zm-1-2zm0-2zm-1 4zm0-2zm-2 1z" stroke="#3899B4" stroke-width="2.2" stroke-linecap="round" fill="none"/>
<path transform="translate(81.8 411.9)" d="M114 83zm-13 0zm1 2zm2-1zm0 1zm3 0zm0 2zm2-3zm0 2zm4 0zm-8 4zm-1 1z" stroke="#76AEC2" stroke-width="2.2" stroke-linecap="round" fill="none"/>
<path transform="translate(81.8 411.9)" d="M87 142zm-1-3zm-4 4zm-1-2zm-6 2zm-1-1zm1 2zm1 2zm2-1zm2-1zm0 4zm1-2zm1-2zm1 2zm1 3zm0 0zm1-2zm0 1zm1-1zm1-2zm1 4zm6 4zm0 1zm-3 0zm-1 1zm-1-3zm-1 0zm0-1zm-2 4zm-2-4zm-1 1zm-1 0zm-2 1zm3 8zm0-2zm1 0zm1-1zm2 1zm2 1zm1-4zm0 5zm1-3zm0-1zm1-1zm1 1zm1-1zm1 1zm1 3zm1-1zm1 0zm-4 5zm0 0zm-1 0zm-2 0zm-1-1z" stroke="#9EC8C6" stroke-width="2.2" stroke-linecap="round" fill="none"/>
<path d="M81.8 584.6H234.8" stroke="#111" stroke-width="1.6" fill="none"/>
<g font-size="14.5" text-anchor="middle" font-weight="bold"><text x="160.3" y="405.5">Kakeya_R</text></g>
<path transform="translate(242.8 411.9)" d="M32 35zm-15 6zm0-1zm2 0zm0-1zm0-1zm0 2zm1-1zm0 1zm1-3zm2 4zm0 0zm0-1zm1 1zm0-5zm1 1zm1 3zm0 1zm0-2zm0-1zm1 0zm1 3zm0-5zm0 3zm0 2zm1-1zm0-1zm1-3zm0 2zm0 2zm1-3zm1 4zm0-4zm1 3zm0 1zm0-1zm0-4zm1 3zm0 0zm0-1zm0-1zm0 3zm1-1zm0-1zm0 1zm1 1zm0-1zm1 0zm0 1zm-1 5zm0-2zm-1-1zm0 2zm0-1zm0 2zm-2-1zm0-1zm0 0zm0 2zm-1-2zm0 2zm-1-2zm0 0zm0 1zm0-1zm-1 4zm0-1zm0 0zm-1-4zm-1 4zm0 0zm-2-1zm0 2zm-1-2zm-1 2zm-1-3zm0 3zm0-3zm-1 3zm0-3zm-1 2zm0 0zm0-4zm0 3zm0-1zm-1-2zm0 3zm-1-2zm-1 3zm0-2zm0-1zm0-1zm-1 4zm0 1zm0-2zm-1-3zm0 5zm0-5zm0 5zm0-2zm0 1zm0 1zm-1-3zm0 1zm-1-1zm-2 1zm3 5zm0 2zm0-2zm1 1zm1 0zm0 0zm1 2zm0-1zm0-1zm0 0zm1 1zm0-4zm0 0zm1 2zm1-1zm0 3zm1 0zm1 1zm1 0zm0-2zm0 1zm0-2zm1 2zm0 0zm0-3zm1 2zm0 0zm0-1zm1-2zm0 1zm1 3zm1 0zm0-4zm0 1zm1 2zm1 0zm0 0zm0 2zm1-1zm0 1zm0 0zm0-2zm1-3zm0 2zm2-1zm0 2zm0-2zm1 2zm0-1zm0 1zm0 2zm1-2zm0 0zm0-3zm1 4zm0 0zm2 7zm0 0zm-1-2zm-1-2zm0 2zm0 1zm0-1zm-1 1zm0-1zm0 1zm-2 1zm-1-4zm0 0zm-1 1zm0-1zm0 4zm-1 0zm0-5zm-3 2zm0 3zm0-4zm0 4zm0-3zm-1 2zm0 1zm-1-5zm-1 1zm0 1zm-1-1zm0-1zm0 2zm-1 1zm0-3zm0 4zm-1 0zm0-2zm-1 2zm0-2zm0 2zm0-1zm0-3zm0 5zm-1-2zm-1-2zm0-1zm0 2zm-2-1zm0 1zm-1 2zm0-2zm0 1zm0 0zm0 0zm-1 1zm-1-2zm-1-1zm0 9zm2-1zm0-1zm0 2zm1-2zm0 0zm1 1zm2-1zm1 2zm0-4zm0 3zm0-2zm0 2zm1 1zm1-4zm0 2zm0-2zm1 2zm0 2zm0 0zm1-1zm0-1zm0 0zm2-1zm0 0zm0 1zm2-2zm1 1zm0-1zm0 0zm1 2zm0-2zm0 0zm1 4zm0-2zm1-2zm0 3zm0 2zm1-4zm0 4zm0-3zm0-2zm1 2zm0 0zm1-2zm1 3zm0-1zm0 1zm0 0zm1-1zm1 0zm0 3zm0-3zm0 2zm0-4zm1 4zm0 0zm0-1zm0-2zm1 1zm1 3zm0-1zm1-2zm1 3zm2 0zm2 4zm-1-1zm-1 2zm0 0zm0-4zm-2 0zm0 3zm0 0zm-1 1zm-1-4zm-1 5zm-1-2zm0 1zm0-2zm0-1zm0-1zm-1 0zm0 1zm0 4zm-1-1zm0-4zm0 5zm0-5zm-1 2zm0 3zm0 0zm-2-4zm0 3zm0-4zm0 1zm-1 4zm-1-3zm0 3zm0-4zm-1 0zm0 4zm-1-5zm0 3zm0 2zm-1-5zm0 5zm0 0zm0-4zm-1-1zm-1 2zm0 2zm-1-2zm-1 3zm-1-1zm0-4zm-1 3zm0-3zm0 1zm0-1zm0 5zm-1-2zm0 0zm0 0zm-1-1zm0 0zm0 3zm0 0zm-1-1zm0-4zm0 4zm-1 0zm0-2zm0 3zm0-3zm-1 1zm0 2zm0-4zm0 0zm0 0zm0 2zm-1 1zm-2-1zm0-2zm0 3zm-1-2zm-1 3zm-1-3zm0 0zm0-1zm0 3zm0 3zm1 1zm0-1zm0 2zm0 1zm1 1zm0-5zm1 1zm0 3zm0-2zm0 0zm1 0zm0 0zm1 0zm1-2zm1 0zm1 1zm0 4zm0 0zm0-1zm1-3zm0-1zm0 3zm0-2zm0 1zm0 1zm1 0zm0-2zm0-1zm1 5zm0-5zm1 4zm0-4zm0 4zm0-1zm1-2zm2 0zm0-1zm1 4zm1-2zm1-1zm0 4zm0-4zm1 2zm1 0zm0 1zm1-4zm1 2zm0 0zm0 0zm1 1zm0-3zm2 2zm1 0zm0-2zm1 5zm1-3zm0 3zm1-4zm0-1zm0 1zm1-1zm0 4zm1-2zm0-1zm0 4zm0-2zm1-3zm-10 6zm-4 0zm-4 1zm-3-1zm-1 0zm-1 0zm0 1zm-1-1zm0 1zm-4-1zm0 1zm-1-1zm0 2zm-1-1z" stroke="#EDCBAA" stroke-width="2.2" stroke-linecap="round" fill="none"/>
<path d="M269.8 430.4L282 423.3L290.1 424.3L291.1 438.5L286.1 446.7L280 449.7L269.8 445.7L267.8 442.6z" fill="#CCC78F" stroke="#CCC78F" stroke-width="1.6" stroke-linejoin="round"/>
<path transform="translate(242.8 411.9)" d="M41 11zm-10 5zm1-1zm1-1zm1 1zm4-2zm3-1zm0 0zm3 0zm1 0zm1 0zm2 2zm-5 9zm-1-3zm-11 0zm-4-1zm-2 9zm1-3zm0 0zm1 0zm2 3zm18-2zm1 3zm-2 1zm0 1zm0-1zm-1 0zm-2 5zm-1-1zm0 1zm-12 0zm-2-1zm-1 0zm0-1zm9 3zm1 2zm0-1zm2-1z" stroke="#CCC78F" stroke-width="2.2" stroke-linecap="round" fill="none"/>
<path transform="translate(242.8 411.9)" d="M23 94zm-1-1zm-1 1zm-1-2zm0 1zm-2 0zm-4 2zm1 4zm0 2zm0-3zm1-1zm0 2zm0 1zm1-2zm1-1zm2 1zm1-2zm1 3zm1 0zm1-3zm1 1zm0 3zm1-2zm2 0zm0 6zm-2 2zm-1-2zm0-1zm-1 0zm-1 1zm-1 1zm-1-2zm0 4zm-3-5zm-1 2zm-2-2zm-2 7zm1-1zm4 4zm5-1zm2 2zm1-4zm1 1zm0 2zm0-1zm1-1zm1-2zm0 4zm4 5zm-3 0zm-2 1zm0-4zm-2 3zm-2-2zm-1 2zm-3-1zm-1 0zm0 2zm-1-3zm-1 4zm-3-2zm3 3zm8 0zm1 1zm1-1zm1 1zm0-1zm1 1zm0 2zm2 0z" stroke="#E7A1C8" stroke-width="2.2" stroke-linecap="round" fill="none"/>
<path transform="translate(242.8 411.9)" d="M16 125zm18 6zm0-1zm-2 1zm0-2zm-1-1zm-1 0zm-5 2zm0-1zm-2 0zm-1 0zm-3 2zm0-4zm0 4zm0-4zm-2 0zm0 0zm-2-1zm-1 3zm-1-3zm0 2zm-2 3zm-5 3zm1 0zm1-2zm0 3zm1-2zm2 4zm2-3zm3 1zm2 1zm0-4zm3 4zm0-4zm0 3zm1-3zm0 0zm1 3zm0 1zm1-3zm0 2zm0-1zm5-1zm0 1zm2-1zm3-1zm-15 6zm-3 0zm0 0zm-2 1z" stroke="#7490CC" stroke-width="2.2" stroke-linecap="round" fill="none"/>
<path transform="translate(242.8 411.9)" d="M107 23zm-1-3zm-1 1zm-10 1zm-7 5zm9-1zm2-1zm7 1zm-1 9zm-5-4zm-2 1zm-3 3zm-2-5zm-2 4zm10 10z" stroke="#EF8627" stroke-width="2.2" stroke-linecap="round" fill="none"/>
<path transform="translate(242.8 411.9)" d="M131 16zm4 6zm-5-3zm-3 0zm-4 9zm4 0zm6-4zm2 0zm-7 8zm-1-1zm-3 4zm-2-5zm-3 4zm0-1zm8 4z" stroke="#EFB124" stroke-width="2.2" stroke-linecap="round" fill="none"/>
<path transform="translate(242.8 411.9)" d="M133 40zm3 1zm-1 2z" stroke="#D99D49" stroke-width="2.2" stroke-linecap="round" fill="none"/>
<path transform="translate(242.8 411.9)" d="M87 58zm-5 7zm0-3zm1-1zm2 6z" stroke="#A9DADF" stroke-width="2.2" stroke-linecap="round" fill="none"/>
<path transform="translate(242.8 411.9)" d="M121 57zm-3 0zm0 0z" stroke="#11997F" stroke-width="2.2" stroke-linecap="round" fill="none"/>
<path transform="translate(242.8 411.9)" d="M59 87zm1-2zm2-1zm1 1zm0 2zm0-1zm1 2zm0-3zm0 4zm1-1zm0-2zm0 0zm1-2zm0 1zm1 0zm1 2zm0 2zm1-2zm2 2zm-9 4zm-1 2zm-1-2zm-1 1zm0-2zm-1 4zm2 4zm1-3zm1 2zm0 6zm0-1zm-2 3zm0-5zm1 6zm1 4zm2-2z" stroke="#D6DFDD" stroke-width="2.2" stroke-linecap="round" fill="none"/>
<path transform="translate(242.8 411.9)" d="M126 76zm2-1zm5 0zm0-1zm2 0zm1 1zm8 8zm-2-1zm-2-2zm-4 1zm0 1zm-2-3zm-1 3zm-1 1zm-2-1zm-2-2zm-3-2zm-2 0zm-1 2zm-7 8zm0-1zm2 1zm6 1zm1 0zm0-2zm0 1zm1-3zm0 2zm0 2zm0-2zm1 2zm1-3zm1 2zm4-3zm2 4zm3-4zm1-1zm0 4zm1-3zm0 3zm2-3zm1 4zm0-4zm4 1zm-1 4zm-2 4zm-1 0zm-1-4zm-6 4zm0 0zm-2-4zm-2 0zm-1 3zm-2-1zm0 0zm-5 0zm-1-1zm0-1zm-2 4zm0 1zm-2-1zm0 0zm-2-2zm0 1zm-1 2zm0-5zm-3 2zm-3 0zm0-1zm-1-1zm-5 4zm-2 6zm1-2zm0-1zm0 3zm1 1zm0-2zm2 1zm1 1zm2-5zm2 5zm1-3zm1-2zm4 0zm0 4zm3 1zm1-1zm0-3zm1 3zm1-1zm1 0zm5 0zm5 0zm1-1zm3-1zm1 0zm1 1zm2 3zm0-1zm1-3zm1 0zm3 10zm0-1zm-3-1zm-1-2zm-9 3zm0 1zm-2-4zm0 0zm0 2zm-1 0zm-3-3zm0 2zm-6 3zm-1-1zm-1-4zm-3 5zm-1-2zm0-1zm-1 1zm-5 0zm-1 1zm-2-3zm-1 0zm-3 8zm3 2zm1-2zm2-1zm2-2zm0 1zm3 2zm1-3zm3 5zm6-4zm1-1zm1 3zm1 2zm4-2zm0 0zm8 0zm0 2zm3-4zm0 2zm-7 3zm-6 1zm-4 0zm-1 3zm-2-1zm-3-1zm0 0zm-2-2zm-1 0zm-7 2zm0 2zm0-3zm-1 2zm-1-3zm-4 1zm-1 2zm0-2z" stroke="#3899B4" stroke-width="2.2" stroke-linecap="round" fill="none"/>
<path transform="translate(242.8 411.9)" d="M109 82zm-5 1zm-1-1zm-3 4zm5 2zm2-4zm1 2zm5-2zm1 3zm-6 4z" stroke="#76AEC2" stroke-width="2.2" stroke-linecap="round" fill="none"/>
<path transform="translate(242.8 411.9)" d="M79 138zm-3 5zm5 5zm4-2zm2 0zm6 7zm-4-2zm-4 2zm-1 0zm-4 4zm1 1zm1-1zm3 3zm6-3zm0-1zm1 4zm1-2zm3 2zm-3 3zm-5 1z" stroke="#9EC8C6" stroke-width="2.2" stroke-linecap="round" fill="none"/>
<path d="M242.8 584.6H396.5" stroke="#111" stroke-width="1.6" fill="none"/>
<g font-size="14.5" text-anchor="middle" font-weight="bold"><text x="321.65" y="405.5">Retina1</text></g>
<path transform="translate(404.5 411.9)" d="M29 35zm-2 0zm-11 6zm0 0zm1-2zm1 0zm1 1zm0-2zm0 3zm0-4zm2 3zm1-2zm0 1zm1 1zm0-1zm0-1zm1 0zm0 1zm0 1zm1 1zm1-1zm0-4zm1 5zm0 0zm0-3zm2-2zm0 0zm0 2zm0-1zm1 3zm0 1zm0-3zm1-2zm0 0zm2 1zm0 3zm2-3zm0 0zm0 0zm1 0zm0 4zm1-5zm0 1zm0 6zm-1 0zm0-1zm0 2zm0 1zm-1 1zm0 1zm0-3zm0 0zm-1 2zm0-2zm-1 1zm0 2zm-1-3zm0 1zm0 1zm-1-3zm0 3zm-1-3zm0 1zm0-1zm-1-1zm0 4zm-1-4zm0 3zm0 1zm-1 0zm0-1zm0-2zm-1 2zm0-2zm0 0zm0-1zm-1 2zm0-2zm0 0zm0 5zm-1-5zm0 3zm-1 1zm0-1zm0-2zm-1 4zm-1-5zm0 2zm0 1zm-1 2zm0-4zm-1 0zm0 3zm0-3zm-1 1zm0 2zm0 1zm0-5zm0 0zm-1 3zm0 0zm0 2zm0-3zm-2-1zm0 1zm-1 0zm0-2zm0 1zm0 3zm0 1zm-1-3zm0 1zm0 0zm-1-1zm0 2zm2 6zm1 1zm0-1zm1 1zm0-4zm1 3zm0-3zm1-1zm1 0zm0 3zm0-1zm1-2zm0 2zm1 2zm1 0zm1-4zm0 0zm0 4zm0-3zm0 2zm1-1zm1-2zm0 0zm1 3zm0 1zm1 0zm0 0zm0 0zm0-2zm0 2zm0-1zm0-1zm1-1zm1-1zm0 2zm1 0zm0-1zm0 2zm1-2zm0 4zm1-4zm1-1zm0 1zm0 0zm0 4zm1-5zm0 1zm0 2zm0 2zm1-2zm0-2zm1 3zm0-3zm1 4zm0 0zm0-1zm1 1zm0-4zm2 9zm-2-2zm0 1zm0-2zm0 4zm0-4zm-1 2zm0-3zm0 0zm0 5zm-1-2zm0 1zm-1-2zm0-1zm0 3zm0 1zm-1-4zm0 2zm0 1zm-1-1zm0 1zm0-2zm-2-1zm0-1zm0 5zm0-5zm0 5zm-1-1zm0-3zm-1 1zm0-1zm-1-1zm0 0zm-1 5zm-1 0zm-1-1zm0-2zm0 3zm-2-2zm0 0zm-1 0zm0-3zm0 2zm-1 3zm0-1zm0-3zm-1-1zm0 0zm-1 3zm0 0zm0 1zm0 0zm-1-4zm0 2zm0-2zm0 0zm-1 2zm0 1zm0 1zm0 1zm-1-2zm0 2zm-3 6zm2 0zm0-1zm1-2zm0-2zm0 3zm0 1zm0 1zm1 0zm0-4zm0 0zm1-1zm0 0zm0 0zm0 0zm1 4zm0 1zm0-2zm0-1zm1 3zm1-4zm0-1zm0 0zm1 1zm0 0zm0 4zm1-2zm1 1zm1 1zm0-2zm1-3zm0 2zm1-1zm0 3zm1-4zm0 2zm1-2zm0 5zm1 0zm0-5zm2 2zm1-2zm0 4zm0-1zm1 0zm0-2zm0 2zm2 0zm0 0zm0-1zm0 0zm0 2zm0-1zm0-2zm1 0zm0-1zm0 4zm1-3zm1 1zm1 3zm0-3zm0 2zm1-2zm0 0zm0 3zm1-1zm0 1zm0-3zm1 0zm0 3zm0 0zm1-2zm2 1zm2 4zm-2-1zm0 0zm-1 4zm-1-2zm-2-2zm0 0zm0 0zm-1 4zm0-3zm-1 0zm0 1zm0 0zm0 1zm-1 0zm0-2zm0-1zm-1 4zm0 0zm-2 0zm0-2zm0-2zm0 2zm0-3zm-2 2zm0-2zm0 1zm0-1zm-1 0zm-1 1zm0 3zm-1-4zm-1 1zm-2 0zm0 0zm-1 1zm0-1zm-1 2zm0 0zm0-2zm-1-1zm-1 0zm0 1zm0 3zm0-1zm0-1zm0-1zm-1-1zm0 1zm0 0zm-1 1zm-1 3zm0-1zm0-2zm0-2zm0 1zm-1 4zm0-3zm0 2zm0-1zm0 2zm-1-1zm0 1zm-2-5zm0 4zm0-3zm0 4zm-1 0zm0-2zm-1-1zm-1-1zm-1 3zm0 1zm0-4zm0 1zm-1 2zm2 4zm0 0zm1 2zm0-1zm1-1zm1 2zm0-4zm1 3zm0 1zm0-1zm0-3zm0 4zm0-4zm1 3zm1-2zm0 2zm1 1zm0-4zm0 4zm0 1zm1-2zm0 0zm0-1zm1 2zm1 0zm0-3zm0 3zm0-2zm0 3zm1-1zm0-3zm0 4zm0-5zm0 0zm1 2zm1-1zm0 0zm0 0zm0-1zm1 3zm0-1zm0-2zm0 1zm0 2zm1-3zm0 4zm1-1zm0-1zm1 1zm1 2zm0-2zm0-1zm0-1zm0 3zm0 0zm1 0zm1 0zm1 0zm0-1zm0 0zm1 2zm0-4zm0-1zm0 1zm1 3zm0-1zm1-3zm0 2zm0 3zm0-4zm1-1zm0 4zm1-3zm0 2zm1-2zm1 2zm1-1zm0 4zm-8 1zm0-1zm-1 0zm-1 0zm-2 0zm-6 0zm-1 1zm-1-1zm-3 0zm0 2zm-1-2zm-1 0zm-1 1zm0 0zm-1 0zm-1-1zm-1 1zm0-1z" stroke="#EDCBAA" stroke-width="2.2" stroke-linecap="round" fill="none"/>
<path d="M431.5 430.4L443.7 423.3L451.8 424.3L452.8 438.5L447.8 446.7L441.7 449.7L431.5 445.7L429.5 442.6z" fill="#CCC78F" stroke="#CCC78F" stroke-width="1.6" stroke-linejoin="round"/>
<path transform="translate(404.5 411.9)" d="M28 17zm1 0zm1-1zm0 1zm1 0zm4-3zm0 0zm0-1zm0 1zm1 0zm7-2zm1 1zm0-1zm1 0zm2 2zm1-2zm0 5zm0-2zm0 8zm0-2zm-5-1zm-13-2zm-5 0zm1 11zm19-3zm2 2zm0-3zm2 0zm-5 9zm0-2zm-3-2zm-8 3zm-4 0zm-4-3zm7 6zm2 0zm5 1zm0 1z" stroke="#CCC78F" stroke-width="2.2" stroke-linecap="round" fill="none"/>
<path transform="translate(404.5 411.9)" d="M27 94zm-4-1zm-1 1zm-1 0zm-4 1zm-2 0zm0 4zm0 2zm1-3zm0 1zm1 0zm3 2zm2-5zm3 2zm0 2zm1-2zm0 0zm0-2zm1 5zm1 2zm-1 4zm0 0zm-1-2zm0 2zm0-1zm-1-3zm-3 1zm-1 1zm0-3zm-1 1zm-1 3zm0-2zm0-1zm-2 0zm-1 4zm-2-2zm0 0zm0 3zm0 0zm2 5zm0-5zm1 0zm2 1zm0 0zm1 0zm2 1zm2 0zm2-2zm0 5zm0-1zm4-1zm4 4zm-1 1zm0 0zm-1-1zm-1 1zm-2 3zm-2-3zm-1 3zm-2-2zm-2-2zm0 0zm-1 2zm-3 1zm-1 0zm-1 0zm9 5zm3 0zm4-2zm0 0z" stroke="#E7A1C8" stroke-width="2.2" stroke-linecap="round" fill="none"/>
<path transform="translate(404.5 411.9)" d="M16 124zm5 1zm3 0zm8 4zm-2 2zm-4-1zm-1-1zm-1-1zm-1 0zm-1-2zm-1 1zm-1 2zm0 2zm-1-3zm-1-2zm0 4zm-2-4zm0 0zm0 2zm-1-1zm0-1zm0 2zm-1-1zm-3-1zm0 4zm-2 0zm-1 0zm0 1zm0 4zm0 1zm0 0zm0 0zm1 0zm0 0zm1-2zm0 2zm1-4zm0 3zm2-1zm1-2zm2 5zm1-4zm1 1zm2 2zm0-3zm1 0zm6 3zm3-4zm2 1zm-19 6z" stroke="#7490CC" stroke-width="2.2" stroke-linecap="round" fill="none"/>
<path transform="translate(404.5 411.9)" d="M88 9zm-4 7zm0-4zm1 5zm2-5zm1 4zm5-2zm11 2zm2 1zm7 3zm-3 0zm-6 2zm-1-4zm-7 1zm-1 0zm-3 3zm-3 0zm0-1zm-1 0zm8 4zm2 4zm2-4zm5 1zm3 6zm-12 3zm-8-5zm4 8zm2-2zm4 4zm3 1zm2-4zm1 4zm1-1zm2-4zm-2 6z" stroke="#EF8627" stroke-width="2.2" stroke-linecap="round" fill="none"/>
<path transform="translate(404.5 411.9)" d="M130 19zm-5 9zm0 1zm0-3zm4 0zm3-1zm-4 10zm-3-1zm-3-3zm7 5z" stroke="#EFB124" stroke-width="2.2" stroke-linecap="round" fill="none"/>
<path transform="translate(404.5 411.9)" d="M133 41zm1-3zm5 4zm-5 0z" stroke="#D99D49" stroke-width="2.2" stroke-linecap="round" fill="none"/>
<path transform="translate(404.5 411.9)" d="M81 62zm3 3zm5-4z" stroke="#A9DADF" stroke-width="2.2" stroke-linecap="round" fill="none"/>
<path transform="translate(404.5 411.9)" d="M124 58zm-1-3zm-1 1zm0 0zm0-2zm-3 2z" stroke="#11997F" stroke-width="2.2" stroke-linecap="round" fill="none"/>
<path transform="translate(404.5 411.9)" d="M61 88zm0-1zm3-1zm0 0zm0 2zm1-1zm1 0zm4 1zm0-2zm2 3zm-9 2zm-1 0zm0 2zm-1 1zm-1-3zm-2 0zm0 4zm0 2zm1-1zm1 0zm1 0zm0 9zm0 0zm0 1zm-1-1zm-1-3zm1 10zm0-2zm2 2zm0-1z" stroke="#D6DFDD" stroke-width="2.2" stroke-linecap="round" fill="none"/>
<path transform="translate(404.5 411.9)" d="M124 76zm0 1zm7 0zm6 5zm0-4zm-3 2zm0 0zm-3 1zm0-2zm-3 0zm-1 3zm0-4zm-1 3zm0-2zm0 2zm0 0zm-3 1zm0-2zm-2-1zm-13 10zm4 0zm3-3zm1 3zm0-3zm0 3zm1-2zm5-1zm2 0zm0 2zm1 0zm0 1zm2-2zm0 2zm1-3zm3 0zm2 1zm1-1zm1-2zm0 4zm1-4zm1 4zm1-3zm0-1zm0 1zm3 1zm1 2zm1 0zm1 3zm0 3zm-3-1zm-5 1zm0-4zm0 0zm-2 4zm-2-4zm-4 3zm-1-2zm-4-1zm-1 4zm0-2zm-1-1zm0 2zm-1-3zm-1 5zm0-4zm-5 2zm-1-3zm-2 4zm0-1zm-3-1zm-1-1zm0 1zm0-2zm-1 3zm-2 2zm-2 3zm1-2zm2 0zm0 4zm1-3zm2 3zm4 0zm0 0zm1-2zm2 3zm1 0zm1-4zm1 0zm1 2zm1-2zm1 3zm1-1zm1-3zm0 0zm1 2zm1 1zm0 2zm1-3zm0 2zm1-2zm0-2zm1 3zm0-1zm1-1zm0 2zm2 2zm2-1zm2-3zm1 4zm0 0zm1-3zm0 1zm1 0zm0 1zm1-1zm2-1zm2-2zm1 5zm1-4zm1 2zm1 1zm0 3zm-6 3zm-1-4zm-4 5zm0-2zm-1-3zm0 2zm0-2zm-1 0zm0 3zm-1-3zm-2 2zm0 1zm0-2zm-1 0zm0 0zm-1 2zm-1-1zm-4 1zm-1-2zm-2-1zm-3 4zm-4 1zm0-5zm-2 4zm0-4zm-1 4zm-1-2zm0 1zm-1-1zm-1 0zm-1-2zm-1 3zm-3 1zm-3 7zm2-4zm1 0zm0 2zm0-3zm1 2zm1-2zm0 3zm2-2zm0 3zm0-3zm6 1zm0 3zm1-2zm3 2zm0 0zm4-2zm1 1zm3 1zm0 0zm0-5zm2 2zm1 2zm1-1zm1-2zm0 1zm1 2zm0 1zm0-5zm1 2zm1 1zm2 0zm1-3zm0 4zm0-2zm1 0zm1-1zm0-1zm2 3zm0 0zm0 3zm-7 3zm0-2zm-2 1zm-1-1zm-8-1zm-1 1zm-1 1zm-1 2zm-1-2zm-3 1zm0-2zm-1-1zm0 0zm-2 2zm-1 1zm-2 0zm-1-3zm0 5zm-2-5zm-2 2zm0 1zm-4-2zm-3 2zm-2 1z" stroke="#3899B4" stroke-width="2.2" stroke-linecap="round" fill="none"/>
<path transform="translate(404.5 411.9)" d="M110 83zm-4 0zm-4 2zm1 4zm1-1zm4 1zm1-1zm1-3zm3 0zm1-1zm1 2zm-13 5z" stroke="#76AEC2" stroke-width="2.2" stroke-linecap="round" fill="none"/>
<path transform="translate(404.5 411.9)" d="M79 137zm2 0zm4 2zm-2 3zm-1-1zm-5-1zm0 1zm-3-1zm6 9zm1-4zm0 4zm2-2zm1 2zm3-1zm11 7zm-3 0zm-2 0zm-3-2zm-4-3zm-1 2zm-1-1zm-3-1zm-1 1zm-1-1zm-1 0zm3 10zm7-2zm0 0zm1 2zm1-4zm2 2zm5 2zm-4 4zm-1 0zm-2-2z" stroke="#9EC8C6" stroke-width="2.2" stroke-linecap="round" fill="none"/>
<path d="M404.5 584.6H558.2" stroke="#111" stroke-width="1.6" fill="none"/>
<g font-size="14.5" text-anchor="middle" font-weight="bold"><text x="483.35" y="405.5">Retina2</text></g>
<path transform="translate(566.8 411.9)" d="M28 35zm-12 5zm1-1zm1 0zm0 0zm1 0zm0 0zm0-1zm1-1zm0 3zm0-1zm1 1zm0 0zm1-1zm2 0zm0 1zm1 0zm0 0zm0-4zm0 2zm0 3zm0-4zm0 4zm1-5zm0 3zm0-2zm0 3zm0-3zm0 2zm1 2zm0-2zm0-3zm0 2zm0-1zm0 4zm1-4zm0 3zm0-3zm1 2zm1 0zm0-1zm0 2zm0 0zm1-2zm0-1zm0 3zm0 1zm0 0zm0 0zm0-3zm1-1zm0 1zm1 0zm0 3zm0-1zm0 0zm1 0zm0 0zm0 0zm0-1zm1-3zm0 1zm1 3zm0-2zm0-2zm0 7zm0 2zm-1 0zm0 1zm-1 0zm0-3zm-1 2zm-1-1zm0 3zm-1-5zm0 3zm-1-2zm0 3zm0-3zm-1 3zm0-3zm-1 3zm0-1zm0-2zm0 0zm-1 0zm-1 4zm-1-1zm0-4zm0 1zm-1 3zm-1-3zm0 0zm0-1zm0 5zm-1-2zm0 0zm0 1zm-1-1zm0 0zm-1 0zm0-2zm0 2zm0-2zm-1-1zm0 4zm-1-1zm-1 1zm0 1zm-1-3zm-1-1zm0 4zm0-4zm0 3zm0-1zm0 0zm-1-1zm0 1zm0 0zm0-1zm-2-1zm0 6zm2 4zm0-2zm0 1zm0-1zm1-2zm1-1zm0 1zm1 2zm0 1zm0-3zm1 0zm0 0zm0 2zm0 1zm0-3zm1 2zm0 0zm1-2zm1-1zm0 1zm0 0zm1 3zm0-1zm0 1zm1 1zm0-4zm0 3zm1-3zm0 2zm0 2zm0-4zm1 0zm0 1zm0 3zm1-3zm1-2zm0 2zm0 2zm0-1zm1-2zm0 1zm0 3zm0-4zm1 2zm0 2zm0 0zm0-2zm1-2zm1 2zm0 0zm0 0zm0 2zm0-5zm0 2zm1 0zm0 2zm0-4zm0 1zm0-1zm0 4zm1 1zm0-1zm2 0zm0-1zm1 1zm0-3zm4 9zm-1 1zm-1-2zm0 0zm0 1zm0-4zm-1 5zm-1-1zm0-4zm-2 1zm-1-1zm-1 1zm0 3zm0-1zm0 1zm0 1zm0-1zm-1-1zm0-1zm-1 0zm-1 2zm0-3zm-1-1zm-1 0zm0 2zm-1 2zm0-1zm0 0zm0 0zm-1-1zm0 3zm0-3zm0 0zm-1 2zm0 0zm0 0zm0-3zm0 0zm0 3zm0 1zm-1-2zm0 0zm0-3zm-1 5zm0-1zm-1-4zm0 2zm0 2zm0 0zm0-4zm0 4zm-1 0zm0-3zm0 2zm0 2zm0-3zm-1 0zm0 3zm-1-4zm0 3zm0-3zm0-1zm0 3zm-1-1zm0-2zm0 0zm0 3zm0-2zm-1 4zm-1-4zm1 5zm0 4zm0 1zm1-3zm0-1zm0 4zm1-2zm1-2zm1 2zm0 0zm0 1zm0 0zm1 1zm0-1zm1-3zm0-1zm1 4zm0-2zm0 3zm1-2zm0 0zm1 2zm0-4zm1 0zm0 4zm0-4zm1 0zm0-1zm1 2zm0 1zm0 0zm0 2zm0-2zm0 0zm0 2zm1-1zm0-1zm0-1zm1-1zm0-1zm1 5zm0-4zm0 2zm0-3zm1 2zm0-1zm0 2zm1 0zm0 1zm1-4zm0 2zm0 0zm0-1zm1 0zm0 3zm1-1zm0 1zm0 0zm1 0zm0-3zm0-1zm1 5zm0-3zm0-1zm1 0zm0 3zm1-3zm0 1zm0 0zm1 3zm0-3zm1-2zm0 5zm0-1zm1 0zm5 5zm-1-1zm0 0zm-1 1zm0-2zm0 2zm0-1zm-1 0zm-1 3zm0-4zm0 1zm0-1zm-1 1zm0-2zm0 4zm0-4zm-1 2zm0 2zm0-1zm0-2zm-1 0zm0-1zm0 4zm0-2zm0 3zm-1 0zm0-5zm0 5zm0-1zm-1-4zm0 4zm0-4zm0 2zm0 3zm-2-4zm0 3zm0-3zm-1 4zm0-1zm-1-1zm-1-1zm0 0zm0-1zm-1 4zm0-3zm0-2zm0 4zm-1 0zm0 1zm-1-1zm-1 0zm0-1zm-1 2zm0-3zm0-2zm0 2zm0 1zm0 2zm-1-1zm0 1zm-1-2zm0 1zm0-4zm-1 2zm0 0zm0 3zm0-5zm0 1zm-1 1zm0-2zm-1 3zm0-3zm0 5zm0-4zm0-1zm-1 4zm0-3zm0 3zm-1-4zm0 1zm0 1zm0 3zm0 0zm0-4zm-1 0zm0 1zm0 1zm0-1zm-1-2zm-1 5zm-1-4zm-1 1zm0-1zm-1 0zm0 3zm0-4zm-1 1zm0 1zm-1 3zm0-1zm0-3zm0 1zm-1-1zm0 4zm-1 1zm1 3zm0-3zm0 3zm1-1zm0 2zm0-4zm1 2zm0 0zm1 3zm0-1zm1-1zm0-2zm0-1zm1 2zm0 1zm0-1zm0 1zm1-2zm0-1zm0 0zm0 0zm1 0zm0 0zm0 5zm0-4zm0 0zm1 1zm0 3zm1-4zm0 1zm0-1zm0 3zm1 0zm0 0zm0-1zm1 1zm0 0zm0 0zm0-2zm1-2zm0 4zm0-4zm1 2zm0 0zm0-1zm1 2zm1-3zm0 3zm0 1zm0 0zm0-2zm0 1zm1 1zm0-2zm1 3zm0-4zm0 2zm1 0zm0-3zm1 3zm0 2zm1 0zm1-3zm0 1zm1-2zm0 0zm0 2zm0 0zm0-2zm1-1zm0 1zm0 1zm1-1zm0-1zm1 5zm0-5zm0 0zm0 4zm1-3zm0 3zm0-4zm0 2zm1 1zm0-3zm1 1zm0 4zm1-5zm0 5zm3-3zm-5 5zm-1-1zm-3 0zm0 0zm-2 0zm-2 0zm-1 0zm-2 0zm-3 0zm-1 0zm-1 0zm-2 1zm0-1zm-1 1zm-1 0zm0-1zm-1 1zm-1 0zm-1 0zm0-1zm0 2zm-2-1zm0 0z" stroke="#EDCBAA" stroke-width="2.2" stroke-linecap="round" fill="none"/>
<path d="M593.8 430.4L606 423.3L614.1 424.3L615.1 438.5L610.1 446.7L604 449.7L593.8 445.7L591.8 442.6z" fill="#CCC78F" stroke="#CCC78F" stroke-width="1.6" stroke-linejoin="round"/>
<path transform="translate(566.8 411.9)" d="M30 15zm3 0zm0 0zm2-1zm2-1zm1-1zm5 0zm3 0zm0 0zm1 3zm1 1zm0 0zm1 1zm-1 5zm0-2zm0 1zm-19-3zm-2 1zm0 2zm0-2zm-1 1zm18 6zm1 7zm-1 1zm0-2zm-1 3zm-1 0zm0-1zm-2 0zm-4-2zm-1-2zm-8 4zm0-1zm-1-1zm3 4zm4 1zm2 0zm6 0z" stroke="#CCC78F" stroke-width="2.2" stroke-linecap="round" fill="none"/>
<path transform="translate(566.8 411.9)" d="M27 95zm0 0zm-2-1zm0 0zm0-1zm0 2zm-1-2zm0 1zm-1 0zm-2 1zm0-2zm-1 1zm-1-1zm0-1zm-1 3zm0-3zm-2 2zm0 0zm0 1zm-2 0zm-1 4zm1 1zm0 0zm1 1zm0 0zm1-5zm0 2zm0-2zm1 1zm0-1zm2 0zm0 4zm1-1zm0-3zm0 5zm0-2zm2 0zm0 0zm0 1zm0-4zm0 0zm1 1zm0 0zm2 3zm0-1zm0-2zm0 2zm1 1zm0 0zm2-1zm0 7zm-1 1zm0-5zm-2 1zm-1 4zm0-2zm0-3zm-1 5zm0-5zm0 0zm0 3zm-1-2zm0-1zm0 0zm0 0zm-1 0zm0 0zm-1 5zm0-5zm0 2zm0-2zm0 1zm-1-1zm-1 2zm-1 0zm0 2zm-1-1zm0-2zm-1 1zm0 0zm0 1zm0 2zm-1-4zm0 4zm-1 5zm1-3zm1 2zm0-3zm0 4zm0 1zm1-3zm0 2zm0-4zm0 0zm0 2zm0 1zm1-3zm0 0zm0 4zm1-2zm1-2zm0 5zm0-5zm0 4zm1-4zm0 4zm0-2zm0-2zm0 4zm1-3zm1 2zm0-2zm1 0zm0 0zm0 3zm1-2zm0 1zm1 0zm0-1zm0 0zm0 0zm1 2zm0-4zm0 5zm1-1zm0-3zm0-1zm1 2zm0 0zm1 1zm0-1zm0 0zm0-2zm1 5zm3 1zm0 2zm-1 1zm0-2zm0 4zm-1-4zm-1 1zm0-2zm0 2zm0 1zm-1 1zm0 1zm0-1zm0 1zm0-2zm0 1zm-1-4zm-1 3zm0-1zm0 0zm0 1zm0 0zm0-2zm-1-1zm-1 0zm0 1zm0 0zm-1 2zm-1 2zm0-4zm0 3zm0-2zm-1-2zm-1 4zm0 0zm0-1zm0-2zm-3 1zm0 3zm0-2zm0-2zm0 1zm-1-1zm0-1zm-1 5zm0 0zm-1 0zm0-3zm0 0zm9 4zm1 0zm0 1zm2 3zm0 0zm0-2zm1 0zm0 1zm0-3zm0 4zm1-4zm0 4zm0-1zm1 1zm0 0zm1-4zm0 2z" stroke="#E7A1C8" stroke-width="2.2" stroke-linecap="round" fill="none"/>
<path d="M573.5 542.2L581.6 535.1L588.7 537.2L601.9 541.2L600.9 545.3L588.7 549.4L578.5 551.4L573 547.3z" fill="#7490CC" stroke="#7490CC" stroke-width="1.6" stroke-linejoin="round"/>
<path transform="translate(566.8 411.9)" d="M12 125zm0-1zm2 0zm7 0zm15 5zm-9-2zm0 0zm-1 1zm-6 1zm-6 0zm-2-3zm-1 0zm-3 2zm0 1zm0 2zm-1-2zm0 1zm-2 6zm1-1zm0-2zm1 2zm17 2zm3 0zm4-2zm1-1zm1 0zm1 0zm1-2zm0 0zm-13 6zm-5 0zm-8 0z" stroke="#7490CC" stroke-width="2.2" stroke-linecap="round" fill="none"/>
<path transform="translate(566.8 411.9)" d="M95 11zm-3 0zm0-1zm-1-2zm0 1zm-3 0zm-6 4zm1 1zm1-1zm0 0zm1 3zm0 0zm1-2zm0 0zm0 2zm1-1zm1 1zm2-1zm1-2zm0 4zm0-3zm1 2zm1-3zm0 4zm0-4zm0-1zm1 0zm1 1zm0 4zm1 0zm0-4zm0 0zm1 0zm0-1zm0 0zm1 5zm0-5zm1 1zm0 0zm2 1zm0 2zm1-1zm3 2zm1 0zm6 4zm-1-3zm0 5zm0-2zm-3 2zm0-1zm-3 1zm0-2zm-1-3zm0 2zm-1 2zm0 1zm-1-4zm0 4zm-1-1zm0-2zm0 1zm-1-1zm0 3zm-1-4zm0 3zm-1 1zm0 0zm0-5zm0 0zm-2 5zm0-1zm-1 1zm0-1zm-2 1zm-1 0zm0 0zm-2-4zm0-1zm0 4zm-1 1zm0-3zm-1-2zm-1 1zm0 0zm-1 2zm0 1zm-1-2zm-1 1zm2 3zm2 0zm0 2zm0-2zm1 0zm0 3zm1-3zm1 4zm0-4zm0 3zm0 1zm1-1zm1 1zm0 0zm1-1zm1-2zm0 2zm0 1zm0-1zm0-3zm0 0zm0 4zm1 1zm1-1zm0-2zm0 3zm2-3zm1 3zm2-1zm1-3zm1 2zm0-2zm0 1zm2-2zm0 3zm1 1zm0-1zm1 0zm0 1zm0-2zm2 0zm-2 5zm0 1zm-1 3zm0 0zm-1-2zm0 2zm0-5zm-1 0zm-1 1zm-1 0zm-1 0zm0 2zm0-1zm-2 1zm0-2zm0 0zm0 2zm0-2zm-1 0zm0 0zm-1 0zm0 0zm-1 2zm-1-2zm-1 4zm0-2zm0 1zm-2-3zm0 0zm0-1zm0 5zm-1-2zm0-1zm0 2zm0-4zm-1 5zm0-2zm0 2zm-2-4zm2 6zm1 0zm1 0zm3 0zm1-1zm1 3zm0-3zm0 0zm2 4zm0-1zm1 0zm0-2zm0 1zm1 1zm0 2zm2-2zm1 0zm0 1zm2-1zm0-1zm0 3zm-3 1zm0 2zm-1-2zm0 1zm0 0zm-2 1zm-4 0zm-1-1zm0-1zm0 2zm-2-2z" stroke="#EF8627" stroke-width="2.2" stroke-linecap="round" fill="none"/>
<path transform="translate(566.8 411.9)" d="M126 17zm2 0zm1-1zm0 0zm0-1zm3 1zm2 5zm-1-2zm0 1zm-1 0zm0 2zm0-3zm0 2zm0-1zm-1 3zm0-3zm-1 3zm-2-4zm0 4zm0-1zm0 0zm0 0zm0-4zm-1 3zm-1 2zm-1-1zm-3 5zm1 2zm1 0zm0-4zm0 4zm0-3zm1 3zm0-1zm1-3zm1-1zm1 3zm1-3zm0 1zm1 2zm1 1zm0-3zm3 2zm0-1zm2-2zm0 0zm1 0zm0 3zm0 0zm0-3zm0 1zm1 0zm1 1zm-2 5zm-2 1zm-1 1zm0 0zm0 1zm-1-2zm0 0zm-1 0zm-1-1zm0 0zm-1 1zm0 2zm0 0zm0-3zm0 1zm0 0zm-1 0zm0 2zm-1-1zm-1 2zm0-4zm-1 0zm0 2zm-1 0zm0 2zm0-1zm-3 1zm0-1zm0 1zm-3-4zm0 1zm0 3zm-2 0zm0 0zm-4 2zm1 0zm1-1zm0 1zm2 0zm0-1zm1 0zm3 1zm1-1zm2 0zm2 1zm0-1zm2 0z" stroke="#EFB124" stroke-width="2.2" stroke-linecap="round" fill="none"/>
<path transform="translate(566.8 411.9)" d="M132 41zm1-4zm0 3zm1 0zm0 1zm1 0zm4 2zm-2-1z" stroke="#D99D49" stroke-width="2.2" stroke-linecap="round" fill="none"/>
<path transform="translate(566.8 411.9)" d="M89 59zm-1 0zm-4 0zm-6 5zm1 0zm0-2zm1 1zm3-2zm0-1zm0 3zm3-2zm0 1zm0 2zm1-4zm0 5zm2-2zm1 1zm0-4zm0 4zm0 3zm-1 3zm-1-1zm0 0zm-1 1zm-5-3zm0 1zm0 2zm-1-2zm-1-1zm-4 1z" stroke="#A9DADF" stroke-width="2.2" stroke-linecap="round" fill="none"/>
<path transform="translate(566.8 411.9)" d="M124 58zm-1-2zm0-1zm0 0zm0 1zm-1 1zm0 1zm-1 0zm-1 0zm0-4zm0 3zm0 0zm0-1zm-1 2zm0-3zm-1 4zm0-2zm-1 0z" stroke="#11997F" stroke-width="2.2" stroke-linecap="round" fill="none"/>
<path transform="translate(566.8 411.9)" d="M64 83zm-4 3zm1 1zm2 0zm0 1zm3 1zm2-4zm1 2zm0-1zm1 1zm1 1zm0-1zm2 1zm-9 4zm-2 0zm0-1zm0 0zm-1 4zm-2 0zm0-2zm0 6zm1 0zm0 1zm1 0zm0-2zm1 2zm0-2zm0 6zm-1-2zm0 2zm0-1zm-1 4zm0-3zm-1-2zm2 6zm1 3zm1-1zm0-1zm1 2zm0-2z" stroke="#D6DFDD" stroke-width="2.2" stroke-linecap="round" fill="none"/>
<path transform="translate(566.8 411.9)" d="M122 77zm5 0zm0-1zm1 1zm1-1zm0 1zm0-1zm1 0zm1 1zm1-1zm2 0zm0-2zm1 3zm0-1zm1 1zm1-1zm2 1zm0-1zm1 1zm0-2zm0 2zm1-1zm2 1zm2 5zm-1 1zm-1-3zm0 3zm0-5zm0 3zm0 0zm-1 0zm0 1zm-1-4zm0 3zm-1 0zm0-2zm-1 3zm0 1zm0 0zm0-2zm-1-1zm0 3zm-1-3zm0-2zm0 2zm0-2zm-1 1zm-1 3zm-2 0zm0-1zm0-2zm-1 2zm0-1zm-1 0zm0 0zm0-2zm0 1zm-1 0zm-1 4zm0-2zm0-3zm0 2zm0-2zm0 2zm-1-1zm0 0zm-1-1zm-1 1zm0 1zm-1-1zm0 4zm0-5zm-1 2zm0 3zm-1-1zm-1-4zm0 4zm0-1zm-1-1zm-11 8zm3 0zm0 1zm1-2zm0 1zm1 0zm0-2zm0 2zm1-1zm2-2zm1 1zm0 1zm1 2zm0-4zm1 4zm0-2zm0-2zm1 4zm0-2zm0-2zm0 3zm2 0zm0 1zm0-3zm0 1zm1 1zm0-3zm0 3zm0 0zm1 0zm1 0zm1-2zm0-1zm0 0zm0 3zm1-2zm0-1zm0 3zm1 1zm0 0zm0-4zm1 4zm0-3zm1 2zm0 1zm0-5zm0 3zm2 1zm0-3zm0 1zm1 1zm0-2zm0-1zm1 2zm0 0zm1 2zm0-4zm0 0zm1 2zm1 1zm2-3zm0 3zm0-1zm0 2zm1-4zm0 5zm1-5zm0 2zm0 0zm1 3zm1 0zm0-2zm0 0zm1 7zm0-2zm-1 1zm0 1zm0 1zm-1-3zm0-2zm-1 3zm0 0zm0-2zm0 1zm0-2zm0 5zm0-1zm0-3zm-1 3zm0-4zm0 2zm-1-1zm0 4zm0 0zm0-2zm-1-3zm0 4zm0-4zm-1 0zm0 4zm0-3zm0 1zm-1 1zm-1 1zm0-2zm0 1zm-1 0zm-1-2zm0-1zm-1 5zm0-5zm0 4zm-1 1zm0-1zm0-4zm-1 2zm-1 1zm0-1zm-1 2zm-2-2zm0 2zm0 1zm0-2zm-1 2zm-1 0zm-1-4zm0 4zm0-4zm0 3zm0-1zm-1-1zm0 3zm0-3zm0 0zm0 2zm-1-1zm0 1zm0-2zm-1 2zm0-3zm0 2zm0 2zm0-1zm0-2zm-1-2zm0 4zm0-4zm0 5zm0-2zm-1 0zm0 2zm0 0zm0 0zm0-1zm0-2zm-1 1zm0 1zm0-2zm0 0zm-1 0zm-1 0zm-1-2zm0 1zm-1 0zm0 1zm0-2zm0 3zm-1-3zm0 2zm0 2zm-1 0zm0-4zm-1 0zm0 1zm0 0zm0 2zm0 0zm-1-2zm-1 3zm0 1zm0-5zm0 3zm0-2zm-1 0zm0 2zm0-3zm-1 1zm0 0zm0 1zm0 2zm0 0zm-1-2zm0-1zm-1 2zm0 2zm-1-2zm-1 1zm-1-1zm0 0zm-1 1zm-1 0zm0 6zm1-2zm0 0zm0 3zm0-4zm2 3zm0-4zm1 4zm0-2zm0-2zm0 4zm1-4zm0 2zm0-1zm0-1zm1 4zm0 0zm1 1zm0-5zm0 5zm1 0zm0-5zm0 3zm0 0zm0 0zm0 2zm1-1zm1-3zm0 3zm0-2zm0 2zm1-3zm0 0zm0 4zm0 0zm0-3zm0-2zm1 3zm0 0zm1-2zm0 1zm0 0zm0-2zm1 2zm0-1zm0-1zm1 5zm0-2zm0 2zm0 0zm0 0zm0-5zm0 0zm1 0zm1 4zm0 0zm0 0zm0-3zm1 2zm1 0zm0 0zm0-3zm1 4zm0 1zm0-4zm1-1zm0 0zm1 4zm0 0zm0 0zm1 1zm0-3zm1 3zm0-2zm0 1zm0 0zm0-3zm1 1zm0-2zm1 0zm0 0zm1 1zm0 3zm1-3zm1 3zm0 0zm0 1zm0-5zm0 5zm0-1zm1-1zm0 2zm1-2zm0-2zm1 2zm0-1zm1-1zm1 2zm0 2zm0-5zm0 0zm0 0zm0 4zm0-4zm1 5zm0 0zm0-2zm0 0zm0-1zm1 3zm0-4zm0-1zm1 4zm1 0zm1-2zm1-1zm1 3zm0 1zm0-2zm1 2zm0-1zm0-1zm0 0zm0-2zm1 0zm0 3zm1 1zm1-1zm0 1zm0-5zm1 5zm0 0zm-2 1zm0 4zm0 0zm-1-2zm-1 3zm0-2zm0 2zm0-1zm0-4zm-1 4zm0-4zm0 0zm0 3zm-1-2zm0 0zm0 0zm0 3zm0-4zm0 3zm-1 2zm0-4zm0-1zm0 3zm-2-1zm0-1zm0 2zm0 0zm-1-2zm0 3zm0 0zm0 0zm-1-2zm0 0zm-1-2zm0 3zm0 0zm-1 0zm0 0zm-1-2zm0 3zm0-1zm0-3zm0 1zm-1-1zm0 3zm-1-3zm0 4zm0 1zm0-5zm0 2zm-1 1zm0 1zm0-3zm-1 0zm-1 4zm0-4zm0 2zm0 0zm-1-2zm0-1zm-1 4zm0-2zm0 0zm-1 2zm0 1zm0-1zm0-4zm0 2zm0-1zm0 1zm0-1zm-1 2zm0 2zm0-5zm0 4zm-1-1zm-1-2zm0 3zm-1 1zm0-2zm0 2zm0-2zm-1 0zm0-2zm-1 3zm-1 1zm0 0zm-1 0zm-2 0zm0-1zm0 1zm0-2zm0-1zm-2 2zm0 0zm-3-2zm-1 3zm0-1zm0 0zm0-3zm-1 3zm-1-3zm0 0zm0 2zm-1-3zm-2 1zm-2 1zm0 3zm0-3zm-4 9zm2-2zm0 2zm1-3zm2 0zm0-1zm0-1zm0 1zm1 2zm0 2zm0-1zm0 1zm0-2zm1-1zm0 2zm1-3zm0 3zm0-2zm0-2zm1 4zm1-1zm0 0zm0 0zm0 0zm0-3zm0 5zm1-3zm0 0zm0 3zm0-3zm0-1zm2 2zm1-1zm0 0zm1 0zm0-2zm0 1zm1-1zm0 5zm1-2zm0-2zm1 2zm0 0zm0-1zm1-1zm1 2zm0 0zm0 0zm2-3zm0 4zm0-3zm0 1zm1 3zm0 0zm1-1zm0 1zm0-4zm0 1zm1 2zm0 1zm0 0zm1-2zm0-2zm1 1zm0 3zm0-1zm0 1zm2-2zm0 1zm0-2zm1 1zm0-3zm1 2zm0-1zm1-1zm0 5zm2-3zm0 1zm0 0zm1-1zm0 3zm1-3zm0-2zm0 4zm0-3zm1 4zm0-3zm0-2zm1 3zm0-2zm0 3zm1-2zm1 2zm0-4zm1 2zm0 1zm0 1zm0-3zm1 2zm0 2zm0-5zm0 3zm1-1zm0-1zm0 4zm0-2zm1-2zm0 4zm1-4zm0-1zm1 2zm0-2zm-7 6zm-1 1zm0 1zm-2 0zm-1-1zm0 1zm0-1zm-1-1zm-1 2zm0 1zm-1-1zm0 0zm-1 1zm-2-1zm0 3zm0-2zm0 0zm-2 1zm0 0zm-1-1zm0-3zm-3 2zm-1 2zm0-4zm0 4zm-1-4zm-1 1zm0 1zm-1-2zm-1 5zm-1-2zm0 0zm-1-1zm0 1zm0 0zm-1-1zm0 0zm-2 1zm-1-3zm0 3zm0-2zm0 2zm0 0zm-1-1zm0 0zm-1 1zm0 1zm-1 0zm0 0zm0-3zm-1 0zm0 2zm-1-3zm0 1zm-1-1zm-1 4zm-1-3zm-1-1zm0 0zm-1 3zm0-1zm-1 2zm-1-4zm0 3zm-2 1zm0-2zm21 4z" stroke="#3899B4" stroke-width="2.2" stroke-linecap="round" fill="none"/>
<path transform="translate(566.8 411.9)" d="M113 83zm-3 0zm-3 0zm-1 0zm-5 1zm1 5zm0-5zm2 2zm0 1zm0 2zm1-5zm0 0zm0 5zm1-1zm0-2zm1 0zm0-1zm1 3zm0 0zm1 0zm0-2zm0-1zm1 3zm0 0zm0-2zm1 0zm0 0zm1-1zm1 1zm0 1zm1-2zm0 1zm1 0zm1-1zm1-1zm0 2zm-8 4zm-1 0zm-4 1zm0 0zm0 1zm0-2zm-1 1zm-1-1zm-1 0z" stroke="#76AEC2" stroke-width="2.2" stroke-linecap="round" fill="none"/>
<path transform="translate(566.8 411.9)" d="M78 137zm1 0zm10 1zm-1 1zm-1 2zm0-1zm0-1zm-1 2zm0 1zm0-1zm-2 0zm0 2zm0-1zm-2-1zm0 1zm-1-2zm0-1zm0 1zm0-1zm-2 0zm0 2zm0-3zm0 1zm-1 2zm0 2zm-1-1zm-2-2zm0 0zm0 2zm0 0zm-1 1zm1 2zm1 1zm1-2zm0 4zm0-4zm0 4zm1-1zm0-3zm0 1zm1 4zm0-2zm1 0zm0 0zm0 1zm0-1zm1-3zm1 5zm0-2zm1-2zm0 3zm0-4zm1 1zm1-1zm0 2zm0 2zm1 0zm0 1zm0-1zm0-1zm1 0zm1 1zm2 1zm5 6zm-1 0zm0-3zm-1 2zm-1 0zm0 1zm-1 0zm0-4zm-1 4zm0-2zm0 2zm-1-2zm0-2zm0 0zm0-1zm0 3zm0 2zm-1-5zm0 4zm0 1zm0-4zm-1 4zm0-3zm0 3zm0-1zm0 0zm-1-3zm0 1zm0 0zm-1 0zm0 0zm0 2zm0-1zm0-1zm0-1zm0-1zm-1 5zm-1-3zm0-2zm0 4zm-1 1zm0-1zm0-4zm0 0zm0 4zm0-3zm-1 4zm0-1zm-2-2zm-1 2zm-1-3zm2 7zm2-1zm1-1zm0 1zm0 0zm1 1zm0-1zm2-1zm0 2zm0 2zm1-1zm0-1zm0-1zm1 3zm0-1zm1 0zm1 1zm0-3zm0 2zm1 2zm0-5zm0 0zm0 5zm0-1zm1 1zm0-4zm1 0zm0 3zm0-3zm1 4zm0-1zm0 0zm0-3zm1 1zm0-2zm0 1zm0 1zm0-1zm0 0zm0 1zm1 0zm0-1zm1 0zm0 4zm0-2zm1-3zm0 2zm1 3zm0-3zm-3 7zm-1-3zm-1 2zm0 1zm-1-1zm0-2zm-1 2zm0-1zm-1-1zm-1 0zm0 2zm-1-2zm0 0zm-1 1zm0-1zm-1 0zm-3 1z" stroke="#9EC8C6" stroke-width="2.2" stroke-linecap="round" fill="none"/>
<path d="M566.8 584.6H720.5" stroke="#111" stroke-width="1.6" fill="none"/>
<g font-size="14.5" text-anchor="middle" font-weight="bold"><text x="645.65" y="405.5">Retina3</text></g>
<path transform="translate(728.5 411.9)" d="M15 40zm0 0zm2 0zm1-3zm1 4zm0-1zm2 0zm1 0zm2 0zm0 1zm1-5zm0 0zm1 2zm1 1zm0-3zm0 1zm1 3zm1-2zm1-2zm0 1zm0 4zm2-3zm0 0zm1 3zm0-3zm1 3zm0-3zm1 2zm0 0zm1-2zm2 5zm-2 1zm0 1zm-2 0zm0-3zm-1 3zm0 0zm0-2zm0-1zm-1 2zm0-2zm0 1zm-1 1zm0 0zm0-1zm0 3zm-1 1zm0 0zm-1-1zm0-2zm-3-2zm-1 0zm0 5zm-1-4zm-1 0zm0 3zm0-3zm-2 1zm-1 1zm0 1zm0-2zm0 1zm-1-1zm0-2zm-2 3zm0 2zm0 0zm0-5zm-2 3zm0 2zm0-3zm-1-1zm0 1zm-1 8zm1-2zm0-2zm1 3zm0 1zm1-4zm1 4zm1-3zm0 0zm0-1zm0 5zm1-4zm0 0zm0 3zm1 0zm0-1zm0-1zm0 0zm1 1zm0-1zm1 1zm0 0zm0-1zm0 3zm1-3zm0 2zm2-4zm2 0zm0 0zm1 0zm1 2zm1-1zm0 0zm0 4zm0-1zm0 1zm2-3zm1 2zm1-2zm0-2zm1 2zm0-2zm0 5zm4 0zm1 6zm0-1zm-1-2zm-3 0zm-1 2zm0 0zm0-4zm0 3zm-2-1zm-1 0zm-2 1zm0 1zm-1-4zm-1 1zm-1 2zm0-1zm-1 3zm-1-1zm0-1zm0 1zm-2-4zm-1 3zm0-1zm-1 1zm0 2zm0-2zm0-1zm-1 0zm-1 1zm0 1zm0-1zm-2 1zm0-1zm0-3zm0 5zm-1-1zm-1-4zm-1 11zm1-2zm0-1zm1 2zm0-3zm1 4zm1 0zm0-4zm2 4zm0-2zm0 2zm1-3zm0 1zm0 0zm1-2zm0 2zm1-3zm0 0zm0 4zm1-1zm0 1zm1-2zm1 0zm1 2zm0-4zm0 3zm1 1zm0 0zm1 0zm0-4zm1 1zm0 0zm0 1zm0-1zm1-1zm0 1zm0 1zm0 0zm0 0zm2-1zm0 1zm0-2zm0 5zm1-2zm1 2zm2-5zm2 2zm1 0zm2 1zm1 0zm0 2zm4 2zm-1 2zm0-3zm0 3zm-1-1zm0 0zm-1 3zm0 0zm-1-1zm-1-2zm0-1zm0 0zm-1 4zm0-3zm0 3zm0 0zm-1 0zm-1-4zm-1 0zm-1 4zm0-1zm-3-4zm0 2zm-1 3zm-1 0zm0-4zm0 0zm0-1zm-1 1zm0 2zm0-1zm-1-1zm-1 0zm0 0zm0 4zm-1-4zm-1 0zm-1 0zm0 4zm0-2zm0 1zm-1-2zm0 2zm-1-3zm0 0zm0 3zm-1 1zm-1-5zm0 5zm0-5zm0 3zm-1-1zm0-2zm-1 5zm-1 0zm-1 0zm-2-5zm0 0zm0 0zm0 1zm-1 2zm-1 0zm-1 6zm0 1zm1 1zm0 0zm1-5zm0 0zm1 4zm0-2zm0-1zm0 4zm1-5zm0 5zm1-3zm0-1zm0 1zm1 1zm0-1zm1-2zm1 0zm0 0zm1 0zm0 5zm2-3zm0 0zm1-1zm0 3zm1 1zm0 0zm3 0zm3-5zm0 5zm0-5zm2 0zm0 3zm1 2zm0-1zm1-1zm0 0zm1 0zm1 0zm0-2zm1 0zm0 0zm0 3zm2-3zm0-1zm0 5zm0 0zm1-4zm0 2zm0 1zm1-2zm1 1zm-6 3zm-4 0zm-8 0zm-7 0zm0 0zm-1 0zm-2 0zm0 3zm-1-3zm-1 1z" stroke="#EDCBAA" stroke-width="2.2" stroke-linecap="round" fill="none"/>
<path transform="translate(728.5 411.9)" d="M38 11zm-6 6zm0 0zm0 0zm1 0zm1-2zm2-2zm1 2zm2 1zm1-1zm0-3zm0 1zm1 0zm0 2zm0 1zm0-3zm1 0zm2 1zm1 2zm2-3zm1 7zm-2 2zm-1 0zm-1 1zm0 0zm0-2zm0 1zm0-1zm-1-3zm0 2zm-1-1zm0 1zm0-2zm-1 4zm0-3zm0 1zm0-1zm0 2zm-1 2zm-1-4zm0 1zm0 0zm-1-1zm0 3zm0-1zm-1-2zm0 0zm-2 3zm0 1zm0-5zm-2 1zm-4 1zm0-2zm0 2zm-1 2zm-1 1zm0 5zm0-4zm1 1zm0 2zm0-3zm1 5zm1-2zm1-1zm0 2zm0-3zm1 1zm1-1zm1 0zm0 1zm0-2zm1 3zm1 1zm0 1zm2-3zm1-1zm0-1zm0 3zm1 0zm0-1zm0 1zm1 2zm2-3zm1 1zm1 0zm0 0zm0 2zm1 0zm1-1zm-1 3zm-2 0zm-1 0zm0 0zm-1 2zm-1-3zm0 3zm-1 1zm0 1zm0-3zm-1-2zm-1 3zm-2-2zm-1 3zm-1-3zm-1 2zm0-3zm0 4zm-2-2zm0 3zm-1 0zm0-4zm-1 1zm-1 1zm-2-1zm0-1zm0 1zm-1-2zm8 6zm6 0zm0 1z" stroke="#CCC78F" stroke-width="2.2" stroke-linecap="round" fill="none"/>
<path d="M742.3 506.7L748.4 503.6L756.5 505.6L757.5 521.9L761.6 528L759.6 536.1L753.5 536.1L751.4 530L744.3 533.1L741.8 521.9z" fill="#E7A1C8" stroke="#E7A1C8" stroke-width="1.6" stroke-linejoin="round"/>
<path transform="translate(728.5 411.9)" d="M28 95zm-4-3zm-1-1zm0 2zm-3-1zm-6 2zm0 6zm0 1zm0-3zm0 2zm3-1zm3 0zm9-2zm0 6zm-1 4zm0-1zm-6-4zm-8 4zm-2-4zm1 7zm1 3zm0 0zm16-3zm1 2zm2 5zm0 2zm-1 1zm-11-1zm-6 0zm0-1zm0 2zm0-3zm-1 1zm3 4zm1-1zm1 1zm0-1zm1 1zm4-1zm1 0zm1 3zm1 0zm4-1zm0 2z" stroke="#E7A1C8" stroke-width="2.2" stroke-linecap="round" fill="none"/>
<path d="M735.2 542.2L743.3 535.1L750.4 537.2L763.6 541.2L762.6 545.3L750.4 549.4L740.2 551.4L734.7 547.3z" fill="#7490CC" stroke="#7490CC" stroke-width="1.6" stroke-linejoin="round"/>
<path transform="translate(728.5 411.9)" d="M18 124zm17 6zm-1 1zm0-2zm0-2zm-1 4zm-1-2zm-3 0zm-3-3zm-1 0zm-1 0zm-1 0zm0 0zm-7 1zm-3-1zm-3 1zm-2 2zm-2 0zm0 6zm0-1zm1 1zm0-2zm1 4zm0 0zm0 0zm16-1zm2-4zm5 2zm0 1zm4-2zm-18 5zm-4 2z" stroke="#7490CC" stroke-width="2.2" stroke-linecap="round" fill="none"/>
<path transform="translate(728.5 411.9)" d="M92 10zm-3 1zm-1-2zm-1 1zm-1 1zm-1-3zm-3 5zm1 0zm1-1zm0 4zm1-2zm0 2zm0 1zm1-5zm0 0zm1 3zm0 1zm0-2zm1-1zm0 3zm0-1zm0-3zm0 4zm1-4zm0 3zm0 2zm1-4zm1-1zm2 1zm0-1zm0 0zm1 0zm0 0zm1 1zm1-1zm0 1zm0 1zm1 3zm0-3zm0 2zm0-2zm2-2zm0 5zm0-1zm1-1zm2 1zm0-3zm1 1zm0 0zm1 2zm0-1zm0-1zm1 3zm1-2zm0 2zm0-1zm2-1zm5 6zm0-1zm-1 1zm-1-3zm0 4zm0-3zm-1 0zm0 3zm0 0zm-1-3zm0 0zm0 4zm-1 0zm0-2zm-1-3zm0 1zm0 0zm0 2zm-1 0zm0-3zm0 2zm-1 0zm0 2zm0 0zm-1-1zm0 0zm0 2zm-1-1zm0-3zm0-1zm0 3zm-2-3zm0 5zm-1-5zm0 0zm0 3zm0 1zm-1-4zm-1 2zm0-1zm0-1zm0 2zm-1 3zm0-5zm-1 2zm0 2zm0-2zm0 2zm-2-1zm0-1zm0 1zm-1 1zm0-2zm-1 0zm0-1zm0 2zm-1-2zm0 2zm0 1zm-1 0zm0-3zm0 3zm-1-4zm0 0zm-1 2zm0-1zm0 3zm0 1zm0-5zm-1 5zm0-2zm-1 2zm0-3zm0-1zm0 4zm-1 0zm0-1zm0 0zm-1-2zm3 8zm1-2zm0 3zm1-5zm0 0zm0 5zm0 0zm1-5zm0 0zm0 5zm1-5zm0 3zm0 0zm1 1zm0 1zm0-5zm0 0zm1 2zm0 1zm0 0zm0 0zm0 0zm1-3zm0 5zm1-3zm0 1zm1 1zm0-4zm0 0zm0 1zm1 4zm0-2zm0-3zm1 3zm1 1zm0-2zm0 2zm0 0zm1 0zm0-3zm1 2zm0-2zm0 3zm0-3zm0 2zm1-2zm0 3zm1 1zm0-3zm0-2zm0 3zm1-2zm0 1zm1 1zm0-2zm1 2zm1-1zm0-1zm1 3zm0-1zm0 1zm0 0zm1-2zm0 0zm0-2zm0 2zm2 0zm-3 4zm-1 3zm0-3zm0 5zm0-3zm-1-1zm0 1zm0-1zm0 1zm-1 1zm-1-1zm0 3zm-1-5zm-1 2zm0-1zm-1 4zm0-4zm0 0zm0 0zm0 4zm-1-4zm0 3zm0 0zm0-2zm0 0zm0 1zm-1-2zm0-1zm0 4zm0-2zm-1 0zm0-1zm0 1zm0 0zm0-2zm0 5zm-1-1zm0 0zm0-1zm0 0zm0-3zm0 3zm0-3zm-1 5zm0-2zm-1 2zm0 0zm-1-1zm0-3zm-1 3zm0 0zm0 1zm-1-1zm0-2zm0 0zm0-1zm0 3zm0-3zm-1 2zm0-2zm-1 0zm0 1zm0 3zm0-2zm0-1zm-1-2zm0 1zm-1-1zm2 6zm0 1zm1-1zm1 2zm0-2zm1 5zm0-2zm1-1zm0 2zm0-1zm1-2zm0 4zm0-2zm1-3zm0 1zm0 3zm0-2zm1-2zm0 4zm0-1zm0 2zm0-3zm1 1zm0 2zm0-1zm0-3zm1 4zm0-4zm0 2zm0 2zm0-4zm1 1zm0 3zm0 0zm0-2zm1-3zm0 2zm0 3zm1-5zm0 3zm0-3zm0 3zm1-1zm0 2zm0-1zm0 0zm1-3zm0 0zm1 0zm0 5zm1-2zm0 2zm1-1zm0 2zm-2 2zm-1-1zm0 1zm-1 0zm0-1zm0-1zm0 2zm0-2zm-1 1zm0-1zm0 2zm0 0zm-1-2zm-1 3zm-1 0zm0-2zm0-1zm0 3zm0-1zm-1-1zm-1 1zm-1-2zm0 4zm-1-3zm0-1z" stroke="#EF8627" stroke-width="2.2" stroke-linecap="round" fill="none"/>
<path transform="translate(728.5 411.9)" d="M126 17zm2-1zm3 0zm0 0zm0 1zm7 6zm-1-1zm-1 1zm-1-2zm-1-1zm0 1zm0-1zm0 0zm-1 0zm-1 1zm-1-3zm0 2zm0-1zm0-1zm-1 1zm0 2zm0-1zm0 2zm-1 0zm0-1zm-1-1zm0 1zm-1 0zm0 0zm0 2zm0-5zm0 3zm-1-1zm0 2zm0-3zm-3 10zm1-5zm0 3zm1-2zm0-1zm0 3zm1-3zm0 2zm0 0zm0 0zm1 3zm1-5zm0 1zm0 3zm0-1zm1 1zm0 1zm1-3zm0 3zm0-4zm0 4zm1 0zm0-5zm1 0zm0 3zm1 1zm0 1zm0 0zm0-3zm0-1zm0 0zm1-1zm0 5zm0-3zm1-2zm0 1zm1 1zm0-2zm1 1zm0 4zm0-3zm1 1zm0-2zm0-1zm1 1zm-3 6zm-1-1zm0 1zm-1 0zm-1-1zm0 2zm0-2zm-1 0zm-1 2zm0 0zm0 1zm0-3zm-1 4zm0 1zm0 0zm-1-3zm0 3zm-1-3zm0 0zm0 3zm0-3zm-1 0zm0-1zm-1 0zm-1-1zm0 5zm0-3zm-1 0zm0 1zm0 2zm0-1zm-1-3zm0 2zm-1-3zm0 5zm0-4zm-2 0zm0 4zm-2 0zm-2-1zm-1 3zm2-1zm0 1zm3-1zm1 1zm0-1zm1 0zm0 0zm1 1zm1-1z" stroke="#EFB124" stroke-width="2.2" stroke-linecap="round" fill="none"/>
<path transform="translate(728.5 411.9)" d="M133 40zm2-1zm1-1zm1 1zm5 3zm-5 0zm-3 0zm-1 1zm-1-1zm0 0z" stroke="#D99D49" stroke-width="2.2" stroke-linecap="round" fill="none"/>
<path transform="translate(728.5 411.9)" d="M89 57zm0 2zm0 0zm-1 0zm0 0zm-1-3zm0 0zm0 2zm-2 0zm-6 7zm0-2zm1-1zm0-2zm1 5zm0 0zm1-1zm0 0zm2-4zm0 1zm1 0zm0 1zm0-1zm0 4zm0-1zm1-1zm0-2zm1 3zm0-4zm0 0zm0 2zm0 3zm1-5zm0 4zm1-1zm0-2zm1 9zm-2 0zm-1-3zm0 0zm-1 4zm0 0zm-2-3zm0 1zm-1 1zm0-1zm-1 0zm0 1zm-1-2zm-1-1zm0 1zm-1-2zm-1 2zm-1-1zm-1 0zm0 0z" stroke="#A9DADF" stroke-width="2.2" stroke-linecap="round" fill="none"/>
<path transform="translate(728.5 411.9)" d="M127 56zm-3 1zm0-3zm0 1zm-1 1zm-1 2zm0-1zm0-1zm-1 2zm0-1zm0 1zm-1-1zm0-2zm0 1zm-1-1zm0 1zm-2 1zm-1-2z" stroke="#11997F" stroke-width="2.2" stroke-linecap="round" fill="none"/>
<path transform="translate(728.5 411.9)" d="M63 83zm0 0zm-1 0zm0 0zm-2 2zm0 3zm0 0zm0 0zm1-1zm0 2zm0-2zm2 2zm0-2zm0-1zm1 0zm0 2zm1-2zm0 3zm0-2zm2-1zm4 3zm2-2zm0 1zm-8 2zm-3 0zm0 1zm-2 0zm0 0zm-1 4zm0-2zm0 4zm1 4zm1-2zm2 6zm-1-3zm-2 1zm0 1zm0 4zm2 0zm1 5z" stroke="#D6DFDD" stroke-width="2.2" stroke-linecap="round" fill="none"/>
<path d="M823.6 529L831.7 518.9L828.7 506.7L836.8 501.6L847 496.5L851.1 488.4L865.3 485.3L873.4 490.4L874.4 506.7L875.5 514.8L871.4 525L857.2 530L843.9 531.1L831.7 530z" fill="#3899B4" stroke="#3899B4" stroke-width="1.6" stroke-linejoin="round"/>
<path transform="translate(728.5 411.9)" d="M124 75zm1 0zm0 1zm4-2zm3 0zm1 0zm5 1zm1-1zm1 1zm2 1zm4 5zm-3-1zm-1 0zm-6 3zm-9-2zm-1 0zm-2 1zm-3-4zm-1 5zm-10 5zm0 0zm1 1zm1-1zm0 1zm3 0zm4-5zm26 0zm1 0zm0 3zm0-2zm0 4zm0-3zm1 9zm0-4zm-1 2zm0-1zm-1 1zm-1 1zm-19 0zm-2-1zm-13-3zm-5 2zm-4 3zm-1 4zm0-3zm34 4zm12 0zm0 1zm2 4zm-2-3zm0 3zm-2 2zm-11-1zm-16 0zm-13-1zm-2-2zm0 3zm0-4zm0 1zm-5 10zm2-4zm1 2zm1 2zm2-5zm5 3zm0 2zm2-5zm32 3zm1-1zm0 3zm1-4zm0 0zm1 0zm-4 5zm-5 1zm-3 1zm-3 0zm-2 1zm-1 2zm-1-1zm-3 1zm-4 0zm-4-5zm-2 5zm0 0zm0 0zm-12-1zm-5-1z" stroke="#3899B4" stroke-width="2.2" stroke-linecap="round" fill="none"/>
<path d="M827.7 494.5L836.8 494.5L847 496.5L836.8 502.6L830.7 505.6z" fill="#76AEC2" stroke="#76AEC2" stroke-width="1.6" stroke-linejoin="round"/>
<path transform="translate(728.5 411.9)" d="M116 83zm-1 0zm-2 0zm-2 0zm-1 0zm-6 0zm-3 0zm10 2zm2 3zm1-2zm1-2zm1 1zm1-1zm1 0zm-8 7zm-3 1zm0-2zm-1 1zm-3 1zm0 1zm-1-1z" stroke="#76AEC2" stroke-width="2.2" stroke-linecap="round" fill="none"/>
<path transform="translate(728.5 411.9)" d="M80 137zm1 0zm8 0zm1 0zm1 1zm-2 1zm-1-1zm0 1zm-1-1zm-1 5zm-3-2zm0 2zm-1-1zm0 1zm-1-5zm0 4zm-1-4zm0 1zm0-1zm0 1zm-1 0zm0-1zm0 2zm-1 1zm-1 2zm0 0zm-1-4zm0 3zm-1-1zm0-1zm0 4zm0 0zm2 2zm0 3zm0-2zm0 2zm0 0zm0-2zm1 0zm2-1zm0 3zm3-1zm0-4zm0 5zm1-4zm0 4zm1-4zm0 2zm0-1zm0 3zm0 0zm1-3zm4 3zm1 0zm5 4zm-2 1zm0-2zm-1 0zm-1 1zm0-2zm0 4zm-1-4zm0-1zm0 3zm-1-2zm0 3zm0 1zm0-3zm-2 1zm0 0zm0 1zm-1-2zm0 0zm0 0zm0 2zm0-3zm-1 0zm-1 3zm0-4zm-1 4zm0 1zm0-4zm0 1zm0 0zm-1-2zm0 5zm0-4zm0-1zm-1 5zm0-3zm0 2zm0-4zm-1 4zm0-3zm0 4zm-1-4zm0-1zm0 5zm-1-2zm0-2zm0 3zm-1-2zm0 3zm0-1zm-1-2zm4 6zm0 2zm0-1zm1-3zm0 5zm1-3zm0-1zm1 4zm0-4zm0 2zm0 1zm0-2zm1-1zm0-1zm0 3zm0-2zm1 0zm0-1zm1 0zm0 3zm0 0zm1 0zm0 0zm0-2zm1 2zm1-2zm0-1zm0 1zm0 2zm1 1zm1 0zm0 1zm0-2zm1 2zm0-2zm1-3zm0 2zm0-2zm0 4zm1-4zm0 3zm0 1zm0-1zm1 0zm0-3zm0 0zm1 6zm-1 0zm0 0zm-1 0zm0 1zm0 1zm-1 0zm-2 1zm0-3zm0 1zm-1-1zm0 3zm-1-3zm-1 0zm0 0zm0 2zm0-2zm0 1zm-2 0z" stroke="#9EC8C6" stroke-width="2.2" stroke-linecap="round" fill="none"/>
<path d="M728.5 584.6H882.2" stroke="#111" stroke-width="1.6" fill="none"/>
<g font-size="14.5" text-anchor="middle" font-weight="bold"><text x="807.35" y="405.5">Retina4</text></g>
<path transform="translate(889.7 411.9)" d="M26 41zm4-5zm2 1zm1 2zm0-1zm1-2zm1 2zm0 6zm0 1zm-9-3zm-1 3zm-10-3zm-2 8zm3 3zm7 0zm3-1zm13 7zm-2-2zm-1-1zm-4 1zm-3 1zm-13-3zm0 10zm13-3zm5 1zm0 2zm10 6zm-1-2zm-1-1zm-7 3zm-5-3zm-6-2zm-1 4zm-3-1zm-2-3zm-2 6zm3 5zm2-3zm1-1zm2 1zm1 1zm0 0zm10 0zm1-1zm1 2z" stroke="#EDCBAA" stroke-width="2.2" stroke-linecap="round" fill="none"/>
<path transform="translate(889.7 411.9)" d="M34 16zm1-1zm8 2zm5 6zm-2-3zm-10 3zm-6 1zm2 3zm2-3zm12 3zm0-2zm-6 10z" stroke="#CCC78F" stroke-width="2.2" stroke-linecap="round" fill="none"/>
<path transform="translate(889.7 411.9)" d="M27 94zm-1 1zm-1 0zm-1-1zm-2-1zm0 1zm-1 0zm-1-1zm0 1zm0 0zm-7 4zm1-1zm1 2zm0 0zm3 1zm2 0zm0-4zm0 1zm1 4zm1-1zm0-4zm0 1zm1 2zm0-3zm0 3zm1-2zm0 4zm1-5zm1 2zm0-2zm0 5zm1-1zm0-3zm1 2zm0 4zm0 1zm0-1zm-2 2zm-1-1zm0 0zm0 1zm0 1zm0 0zm-2-1zm0 2zm0-5zm0 1zm0 1zm-1 0zm-1 2zm-2 1zm0-4zm-2-1zm0 0zm-2 1zm0 2zm-2 1zm1 7zm0-3zm1 0zm0 1zm1-3zm0 4zm1 1zm0-5zm0 0zm1 0zm1 1zm1 3zm0-2zm0 3zm0-5zm4 2zm1 0zm0-1zm1 0zm1 3zm0 1zm0-2zm0 1zm0-1zm2 2zm0 0zm4 3zm-1 1zm-1 0zm0 0zm-1-3zm0 2zm0-1zm-2 0zm0 2zm0 0zm-2 2zm0-4zm-2-1zm-1 1zm-1 0zm-1 3zm-1 1zm0 0zm0-1zm-2 0zm0-1zm-1 2zm0-2zm-1-2zm-1-1zm0 2zm1 4zm9 1zm0 0zm0 0zm1 4zm0-4zm2-1zm0 1zm0 3zm1-3zm0 0z" stroke="#E7A1C8" stroke-width="2.2" stroke-linecap="round" fill="none"/>
<path d="M896.4 542.2L904.5 535.1L911.6 537.2L924.8 541.2L923.8 545.3L911.6 549.4L901.4 551.4L895.9 547.3z" fill="#7490CC" stroke="#7490CC" stroke-width="1.6" stroke-linejoin="round"/>
<path transform="translate(889.7 411.9)" d="M13 125zm1-2zm8 2zm13 4zm0 1zm0 0zm-2 0zm-3-3zm-5-1zm-16 2zm0-1zm0 1zm-1 1zm-3 5zm1-1zm0-1zm1 0zm11 0zm6 5zm4-2zm1-1zm0 1zm0-1zm3 1zm1-2zm-13 5zm0 2zm-2-1zm-1 1zm-1-1zm-3 1zm0 0z" stroke="#7490CC" stroke-width="2.2" stroke-linecap="round" fill="none"/>
<path d="M971.6 423.3L977.7 419.7L987.9 423.3L1004.1 430.4L998 440.6L996 455.8L986.8 457.9L979.7 448.7L974.6 433.5z" fill="#EF8627" stroke="#EF8627" stroke-width="1.6" stroke-linejoin="round"/>
<path transform="translate(889.7 411.9)" d="M98 11zm-1 0zm-11-2zm-4 2zm0 0zm-1 2zm10-1zm9 0zm1 5zm2-5zm0 1zm1 1zm2 1zm1 0zm4 1zm0 0zm2 1zm2 2zm0-1zm-3 3zm-1 2zm0-3zm-26 2zm0-2zm-1-1zm2 9zm1 0zm0 1zm5-4zm6-1zm11 4zm1 3zm-1-1zm-1 3zm-18 1zm-1-4zm0 3zm0-1zm-1 1zm0 0zm4 4zm1 2zm0 1zm5 1zm7-4zm0 1zm1 2zm2-3zm0 1zm-2 5zm0 0zm-6 1zm-3 1zm0 0zm-1 0z" stroke="#EF8627" stroke-width="2.2" stroke-linecap="round" fill="none"/>
<path d="M1002.1 449.7L1012.3 440.6L1015.3 428.4L1020.4 426.9L1028.5 436.5L1025.5 445.7L1016.3 448.7L1008.2 449.7z" fill="#EFB124" stroke="#EFB124" stroke-width="1.6" stroke-linejoin="round"/>
<path transform="translate(889.7 411.9)" d="M130 16zm4 1zm4 6zm-1-1zm-1-2zm-1 1zm-10-1zm-1 1zm-1 4zm0 2zm0 2zm1-4zm3 2zm4 0zm7 1zm1-4zm-2 6zm0 0zm-2 3zm-2 1zm-1 1zm-11-5zm-2 2zm-1 1zm0 0zm0 1zm-5 5zm0-1zm0-1zm2-1zm3 1zm2 0zm0 0zm1 0zm4 0z" stroke="#EFB124" stroke-width="2.2" stroke-linecap="round" fill="none"/>
<path transform="translate(889.7 411.9)" d="M132 41zm1-2zm0 2zm0-3zm1 3zm0-2zm5 2zm0 1zm-3 1zm-1-1zm-1 1zm0-1z" stroke="#D99D49" stroke-width="2.2" stroke-linecap="round" fill="none"/>
<path transform="translate(889.7 411.9)" d="M89 57zm-2 0zm-9 8zm2 0zm2-1zm0 0zm0 0zm0 1zm0-1zm1-2zm0 1zm1 2zm0-1zm1 1zm1-1zm2-2zm1 3zm1 1zm-3 1zm-2 3zm0-4zm0 0zm-1 2zm-1 2zm0-4zm-1 4zm0-2zm0 1zm0-1zm0-1zm-1 1zm0-2zm0 0zm-2 3zm-2-3z" stroke="#A9DADF" stroke-width="2.2" stroke-linecap="round" fill="none"/>
<path transform="translate(889.7 411.9)" d="M118 53zm8 2zm-1 1zm-1 2zm0-2zm-1 0zm0 2zm-1 0zm-1-2zm0 0zm0 0zm-1-1zm0 1zm0 2zm-1-2zm-2 0z" stroke="#11997F" stroke-width="2.2" stroke-linecap="round" fill="none"/>
<path transform="translate(889.7 411.9)" d="M62 82zm-2 4zm2-1zm2 1zm0 0zm2 1zm5 1zm0 0zm1 1zm-9 2zm-1 1zm0 0zm-1 1zm0 2zm-2-3zm0 6zm0-2zm1 5zm2 6zm-1-4zm-2-1zm0 2zm2 6zm0-2zm3 4z" stroke="#D6DFDD" stroke-width="2.2" stroke-linecap="round" fill="none"/>
<path transform="translate(889.7 411.9)" d="M126 76zm1-1zm0 2zm1-2zm0 1zm3 1zm1 0zm1-3zm1 3zm0 0zm1-1zm0-1zm0 1zm0 0zm0 1zm1 0zm1 0zm0 0zm0-2zm4 2zm1 0zm0 0zm2 1zm0 4zm-1-3zm0-1zm0 4zm-1 0zm0 1zm0-5zm-2 2zm-1 3zm0-1zm0-4zm0 2zm-1-1zm0 0zm-1-1zm0 3zm0-2zm0 4zm-1-4zm-1 2zm0 0zm0-3zm0 3zm0 1zm-1 0zm0-3zm0 2zm-1-3zm0 3zm-1-3zm0 1zm0 1zm-1 3zm0-1zm0-1zm0-1zm-1 1zm0 2zm-2-5zm0 3zm0 2zm-3-3zm0-1zm-2 1zm-1-1zm0 3zm0-4zm-15 11zm1 0zm2 0zm2-1zm0 1zm2 0zm0-1zm2 0zm1 1zm1 0zm1 0zm1-2zm1-2zm2 4zm1-3zm0 1zm0 2zm3-2zm0-1zm0 1zm0 1zm0-4zm2 4zm0-1zm1 1zm0-3zm0 4zm1-3zm0 3zm0 0zm1-5zm0 0zm1 0zm0 0zm0 1zm1 4zm0-2zm1 2zm0-4zm0 0zm0-1zm4 5zm0-5zm0 0zm1 3zm0 2zm1-1zm0-1zm0 2zm1-1zm0-4zm1 5zm0-1zm1-1zm1 0zm1 2zm0 3zm-1 1zm0-3zm0 2zm0 1zm-1-3zm0 3zm0-1zm0 2zm-1 0zm0-2zm0 0zm-1 2zm-2 1zm0-5zm0 0zm-1 3zm0 1zm0-3zm-1 0zm0-1zm0 3zm0 2zm0-5zm0 1zm-1 0zm0 0zm0 0zm0-1zm-1 3zm-1 0zm0-1zm0-1zm-1 3zm-1 0zm0 0zm-1 1zm0-5zm0 5zm0 0zm-1-3zm-1 1zm0-2zm0 3zm0 1zm-1-4zm0-1zm0 3zm-1 1zm0-4zm-1 0zm-1 5zm0 0zm0-4zm-1 2zm-2-2zm-1 4zm0-5zm0 4zm0-4zm0 1zm-1 2zm-1-1zm-1 0zm0 0zm-1-2zm0 0zm-1 2zm0-2zm0 1zm0 3zm-1-3zm-1 4zm0-1zm-1-1zm-1 2zm0-5zm0 0zm-1 4zm0-3zm-1-1zm0 1zm0 2zm0-1zm-1 1zm0-1zm0-1zm0 0zm0 3zm-1 1zm-1-4zm0-1zm-1 4zm0-3zm0 1zm0 0zm-1 0zm0 0zm-1 3zm0-2zm-2 0zm-2 3zm0 0zm2 4zm0-4zm0 4zm0 0zm0 1zm1-5zm1 4zm0 0zm1-2zm1 2zm0-2zm1 2zm0-3zm0 0zm1 1zm0 3zm0 0zm1-4zm1 2zm0-3zm0 3zm1 2zm0-3zm1 1zm0 0zm0-1zm1 3zm0 0zm1-5zm1 4zm1-1zm0 0zm1-1zm0 3zm1-3zm1-1zm0 2zm0-3zm1 4zm0 1zm0 0zm0-3zm1-2zm0 2zm0 3zm1 0zm2-3zm1-2zm0 3zm0-2zm1 1zm0 3zm1-1zm0 0zm1-2zm0-1zm0 4zm0-1zm1-4zm0 4zm0-2zm1-1zm0 2zm0-3zm0 2zm0 3zm0-5zm0 2zm1 1zm1 1zm1-4zm1 0zm0 2zm2-1zm1 3zm0-3zm1 4zm0-1zm1 0zm0-2zm0 0zm1 3zm0-5zm0 1zm0 1zm0 1zm0 1zm1-4zm0 0zm0 2zm0-2zm2 1zm0 1zm0-1zm0-1zm0 5zm1-3zm0 1zm0 1zm0 0zm1 1zm0 0zm0 0zm0 5zm0-3zm-1 4zm0-3zm-1 0zm0 0zm-1 1zm0-1zm-1 2zm-1-3zm0 1zm0 0zm-1 0zm0 1zm-1-2zm0 0zm-1 0zm0 0zm0 2zm0 0zm0-2zm0-1zm-1 2zm-1 2zm0-3zm-1 0zm0 1zm0-1zm-1-1zm0 1zm0-1zm-1 3zm-1-2zm0 2zm0-2zm-1 1zm-1-2zm-1 0zm0 4zm0-2zm0-2zm-1 1zm0-1zm-1 0zm0 4zm-1 0zm-1 0zm0-1zm0 1zm-1-4zm-1 4zm-1-2zm-1 3zm-1-1zm0-1zm0 1zm0 0zm-1-3zm0-1zm0 4zm-1-1zm-1-2zm-1 2zm-1-1zm-1 3zm0 0zm0-2zm-1 0zm0-3zm0 0zm0 5zm0-5zm-1 4zm0-3zm-1-1zm-1 3zm-1 2zm-1-5zm0 2zm-2-2zm0 1zm-1 3zm0-1zm0-3zm-2 5zm0 0zm-1-4zm-3 10zm1-2zm1 2zm1-4zm1 1zm0 0zm3 1zm0-1zm0 1zm0 0zm1 2zm1 0zm1-4zm0 0zm0 0zm0-1zm1 2zm0 2zm0 0zm0-4zm0 3zm0 1zm0-4zm1 0zm0 0zm0 2zm0-2zm1 2zm0 0zm0 1zm0 2zm0-4zm0 2zm1 2zm0-1zm0-1zm1 1zm0-4zm0 3zm1-1zm1 3zm0-4zm0 0zm0 4zm0-5zm0 1zm1 3zm0-2zm0-2zm1 4zm1 0zm1-4zm0 3zm0 0zm1-1zm1 3zm0-5zm0 2zm0-1zm0-1zm1 5zm0-5zm1 3zm0 1zm0-4zm0 5zm3-3zm0 0zm1-1zm0 2zm0 2zm1 0zm0-3zm0-2zm0 2zm0 2zm1-3zm0 0zm1 2zm0 0zm1 1zm0 0zm0-4zm2 5zm0-2zm1 2zm0-4zm1 0zm0 3zm1-1zm0-3zm0 2zm0 3zm0-2zm2 1zm0 1zm0-2zm2 1zm0-1zm0-2zm1-1zm1 1zm-4 5zm-1 0zm-2 0zm-1 0zm0 1zm-1 0zm-1 0zm0 0zm-1-1zm-1 0zm0 2zm-1-1zm0 2zm0-3zm0 3zm0-3zm-1 0zm0 3zm0-1zm0 0zm-2 2zm-1-4zm0 3zm-1-1zm-1-1zm-1 0zm0 1zm0 0zm0 1zm0-2zm0 2zm0 0zm-1-1zm0-2zm-1 2zm0 0zm0 1zm-2-3zm-1 4zm0-1zm0 1zm0-3zm0 1zm0 2zm-1-1zm-1-3zm-1 1zm-2 3zm0-3zm0 4zm-1-5zm-2 2zm0-1zm-1-1zm0 1zm-1-1zm-1 2zm0-2zm-1 0zm-1 4zm-1-4zm0 2zm-1 1zm-1 0zm0-3zm0 3zm0 0zm-1 0zm0-1zm0-1zm-1 0zm0 0zm0 0zm-1 2zm0-1zm-1-1zm0 3zm0-3zm-2 1z" stroke="#3899B4" stroke-width="2.2" stroke-linecap="round" fill="none"/>
<path transform="translate(889.7 411.9)" d="M110 83zm-2 0zm0 0zm-1 0zm-5-1zm-2 3zm1-1zm1 4zm0-2zm0 1zm1-3zm0 4zm1 0zm1-2zm2 3zm0-5zm1 4zm2-2zm0 0zm1 2zm0 1zm0-4zm0-1zm1 2zm1 0zm0-2zm-7 7zm0-1zm-1 0zm-2 1z" stroke="#76AEC2" stroke-width="2.2" stroke-linecap="round" fill="none"/>
<path transform="translate(889.7 411.9)" d="M80 142zm0-3zm-2-1zm-2 4zm-1-1zm1 4zm3-1zm2 0zm1 3zm0-2zm1 2zm0-2zm5 3zm5 5zm-1 2zm-2 0zm-1-1zm0 0zm0-1zm-1-3zm0 2zm-1 0zm-4 0zm-1 2zm0 0zm-1-3zm-2-1zm0 3zm0 3zm1 2zm3 3zm2-4zm0 0zm1 0zm1-1zm2 3zm4-2zm0 4zm2-1zm1-1zm1 0zm-4 3zm-3 0zm-1 1zm-2 0z" stroke="#9EC8C6" stroke-width="2.2" stroke-linecap="round" fill="none"/>
<path d="M889.7 584.6H1043.4" stroke="#111" stroke-width="1.6" fill="none"/>
<g font-size="14.5" text-anchor="middle" font-weight="bold"><text x="968.55" y="405.5">Rv3</text></g>
<path d="M81.8 411.9V585.4" stroke="#111" stroke-width="1.6" fill="none"/>
<g font-size="17" text-anchor="middle"><text x="70.5" y="498" transform="rotate(-90 70.5 498)">UMAP  2</text><text x="562" y="603.5">UMAP  1</text></g>
<path d="M527 617.5V855M618.6 617.5V855M710.1 617.5V855M801.7 617.5V855M893.3 617.5V855M984.9 617.5V855M160.6 855V858M343.8 855V858M118.8 640.3H1035.6M118.8 678.8H1035.6M118.8 717.2H1035.6M118.8 755.6H1035.6M118.8 794.1H1035.6M118.8 832.5H1035.6" stroke="#111" stroke-width="1.2" fill="none"/>
<g stroke="#111" stroke-width="1.5"><path fill="#A9DADF" d="M160.6 623.2H181.5V657.4H160.6z"/><path fill="#11997F" d="M181.5 623.2H189.5V657.4H181.5z"/><path fill="#EF8627" d="M189.5 623.2H405.5V657.4H189.5z"/><path fill="#76AEC2" d="M405.5 623.2H419.5V657.4H405.5z"/><path fill="#D99D49" d="M419.5 623.2H423.5V657.4H419.5z"/><path fill="#EFB124" d="M423.5 623.2H493.8V657.4H423.5z"/><path fill="#D6DFDD" d="M493.8 623.2H503.2V657.4H493.8z"/><path fill="#E7A1C8" d="M503.2 623.2H522.8V657.4H503.2z"/><path fill="#9EC8C6" d="M522.8 623.2H537.8V657.4H522.8z"/><path fill="#3899B4" d="M537.8 623.2H649.5V657.4H537.8z"/><path fill="#7490CC" d="M649.5 623.2H722.5V657.4H649.5z"/><path fill="#CCC78F" d="M722.5 623.2H724.3V657.4H722.5z"/><path fill="#EDCBAA" d="M724.3 623.2H739.2V657.4H724.3z"/></g>
<g font-size="16" text-anchor="end" fill="#444"><text x="111.5" y="645.8">Rv3</text></g>
<g stroke="#111" stroke-width="1.5"><path fill="#A9DADF" d="M160.6 661.6H198.2V695.9H160.6z"/><path fill="#11997F" d="M198.2 661.6H206.2V695.9H198.2z"/><path fill="#EF8627" d="M206.2 661.6H266.8V695.9H206.2z"/><path fill="#76AEC2" d="M266.8 661.6H308.2V695.9H266.8z"/><path fill="#D99D49" d="M308.2 661.6H311V695.9H308.2z"/><path fill="#EFB124" d="M311 661.6H343.2V695.9H311z"/><path fill="#D6DFDD" d="M343.2 661.6H372.5V695.9H343.2z"/><path fill="#E7A1C8" d="M372.5 661.6H445.8V695.9H372.5z"/><path fill="#9EC8C6" d="M445.8 661.6H545.8V695.9H445.8z"/><path fill="#3899B4" d="M545.8 661.6H822.8V695.9H545.8z"/><path fill="#7490CC" d="M822.8 661.6H873.8V695.9H822.8z"/><path fill="#CCC78F" d="M873.8 661.6H898.2V695.9H873.8z"/><path fill="#EDCBAA" d="M898.2 661.6H993.8V695.9H898.2z"/></g>
<g font-size="16" text-anchor="end" fill="#444"><text x="111.5" y="684.25">Retina4</text></g>
<g stroke="#111" stroke-width="1.5"><path fill="#A9DADF" d="M160.6 700.1H173.2V734.3H160.6z"/><path fill="#11997F" d="M173.2 700.1H175.5V734.3H173.2z"/><path fill="#EF8627" d="M175.5 700.1H198.2V734.3H175.5z"/><path fill="#76AEC2" d="M198.2 700.1H215.5V734.3H198.2z"/><path fill="#D99D49" d="M215.5 700.1H218.5V734.3H215.5z"/><path fill="#EFB124" d="M218.5 700.1H235.8V734.3H218.5z"/><path fill="#D6DFDD" d="M235.8 700.1H264.2V734.3H235.8z"/><path fill="#E7A1C8" d="M264.2 700.1H318.2V734.3H264.2z"/><path fill="#9EC8C6" d="M318.2 700.1H372V734.3H318.2z"/><path fill="#3899B4" d="M372 700.1H455V734.3H372z"/><path fill="#7490CC" d="M455 700.1H491.8V734.3H455z"/><path fill="#CCC78F" d="M491.8 700.1H592.5V734.3H491.8z"/><path fill="#EDCBAA" d="M592.5 700.1H775.2V734.3H592.5z"/></g>
<g font-size="16" text-anchor="end" fill="#444"><text x="111.5" y="722.7">Retina3</text></g>
<g stroke="#111" stroke-width="1.5"><path fill="#A9DADF" d="M160.6 738.5H161.5V772.8H160.6z"/><path fill="#11997F" d="M161.5 738.5H162.5V772.8H161.5z"/><path fill="#EF8627" d="M162.5 738.5H168.5V772.8H162.5z"/><path fill="#76AEC2" d="M168.5 738.5H170.5V772.8H168.5z"/><path fill="#D99D49" d="M170.5 738.5H172.5V772.8H170.5z"/><path fill="#EFB124" d="M172.5 738.5H174V772.8H172.5z"/><path fill="#D6DFDD" d="M174 738.5H189.2V772.8H174z"/><path fill="#E7A1C8" d="M189.2 738.5H200.8V772.8H189.2z"/><path fill="#9EC8C6" d="M200.8 738.5H209.5V772.8H200.8z"/><path fill="#3899B4" d="M209.5 738.5H237V772.8H209.5z"/><path fill="#7490CC" d="M237 738.5H246.2V772.8H237z"/><path fill="#CCC78F" d="M246.2 738.5H315.5V772.8H246.2z"/><path fill="#EDCBAA" d="M315.5 738.5H435V772.8H315.5z"/></g>
<g font-size="16" text-anchor="end" fill="#444"><text x="111.5" y="761.15">Retina2</text></g>
<g stroke="#111" stroke-width="1.5"><path fill="#A9DADF" d="M160.6 777H161.3V811.2H160.6z"/><path fill="#11997F" d="M161.3 777H162.3V811.2H161.3z"/><path fill="#EF8627" d="M162.3 777H165.5V811.2H162.3z"/><path fill="#76AEC2" d="M165.5 777H166.5V811.2H165.5z"/><path fill="#D99D49" d="M166.5 777H168.5V811.2H166.5z"/><path fill="#EFB124" d="M168.5 777H170.5V811.2H168.5z"/><path fill="#D6DFDD" d="M170.5 777H182.5V811.2H170.5z"/><path fill="#E7A1C8" d="M182.5 777H193.8V811.2H182.5z"/><path fill="#9EC8C6" d="M193.8 777H198.2V811.2H193.8z"/><path fill="#3899B4" d="M198.2 777H222.5V811.2H198.2z"/><path fill="#7490CC" d="M222.5 777H232V811.2H222.5z"/><path fill="#CCC78F" d="M232 777H297.5V811.2H232z"/><path fill="#EDCBAA" d="M297.5 777H410V811.2H297.5z"/></g>
<g font-size="16" text-anchor="end" fill="#444"><text x="111.5" y="799.6">Retina1</text></g>
<g stroke="#111" stroke-width="1.5"><path fill="#A9DADF" d="M160.6 815.4H179.5V849.6H160.6z"/><path fill="#11997F" d="M179.5 815.4H182.5V849.6H179.5z"/><path fill="#EF8627" d="M182.5 815.4H253V849.6H182.5z"/><path fill="#76AEC2" d="M253 815.4H255.5V849.6H253z"/><path fill="#D99D49" d="M255.5 815.4H258V849.6H255.5z"/><path fill="#EFB124" d="M258 815.4H259V849.6H258z"/><path fill="#D6DFDD" d="M259 815.4H265.5V849.6H259z"/><path fill="#E7A1C8" d="M265.5 815.4H282.5V849.6H265.5z"/><path fill="#9EC8C6" d="M282.5 815.4H293V849.6H282.5z"/><path fill="#3899B4" d="M293 815.4H331.8V849.6H293z"/><path fill="#7490CC" d="M331.8 815.4H354.5V849.6H331.8z"/><path fill="#CCC78F" d="M354.5 815.4H363V849.6H354.5z"/><path fill="#EDCBAA" d="M363 815.4H399.2V849.6H363z"/></g>
<g font-size="16" text-anchor="end" fill="#444"><text x="111.5" y="838.05">K_R</text></g>
<rect x="118.8" y="617.5" width="916.8" height="237.5" fill="none" stroke="#111" stroke-width="1.4" />
<g font-size="15.2" text-anchor="middle" fill="#444"><text x="162.6" y="877.5">0</text><text x="345.78" y="877.5">1000</text><text x="528.96" y="877.5">2000</text><text x="712.14" y="877.5">3000</text><text x="895.32" y="877.5">4000</text></g>
<g font-size="17" text-anchor="middle" font-weight="bold"><text x="546" y="899">#Cells</text></g>
<rect x="1130" y="19.2" width="1036.3" height="894.5" fill="none" stroke="#6f6f6f" stroke-width="1.3" />
<g font-size="48.5" font-weight="bold"><text x="1090.5" y="34.3">b</text></g>
<g stroke="#000" stroke-width="1.25" stroke-linejoin="round"><path fill="#C9BFAE" d="M1229.6,106h6c.7-.3 3-1 4-2s1.2-2.7 2-4s2-2.5 3-4s2.3-3.5 3-5s1.6-2.7 1.4-4s-1.2-2.7 -2.4-4s-3.5-2.7 -5-4s-2.9-2.7 -4-4s-1.8-2.5 -2.5-4s-1.2-2.2 -1.5-5s-.4-10 -.5-12H1232.1c-.1,2 -.2,9.2 -.5,12s-.8,3.5 -1.5,5s-1.4,2.7 -2.5,4s-2.5,2.7 -4,4s-3.8,2.7 -5,4s-2.2,2.7 -2.4,4s.7,2.5 1.4,4s2,3.5 3,5s2.2,2.7 3,4s1,3 2,4s3.3,1.7 4,2z"/><path fill="#4A97BE" d="M1262.4,107h12c.8-.5 3.5-1.8 5-3s3-2.8 4-4s2.3-1.8 2-3s-3.2-2.8 -4-4s-1.2-1.8 -1-3s1.6-2.7 2-4s1-2.7 .5-4s-2.1-2.7 -3.5-4s-3.6-2.7 -5-4s-2.7-2.7 -3.5-4s-1.2-2.8 -1.5-4s-.4-2.5 -.5-3H1267.9c-.1,.5 -.2,1.8 -.5,3s-.7,2.7 -1.5,4s-2.1,2.7 -3.5,4s-3.6,2.7 -5,4s-3,2.7 -3.5,4s.1,2.7 .5,4s1.8,2.8 2,4s-.2,1.8 -1,3s-3.7,2.8 -4,4s1,1.8 2,3s2.5,2.8 4,4s4.2,2.5 5,3z"/><path fill="#B5C878" d="M1303.7,108h1c.3-.5 1.4-2 2-3s.4-2 1.5-3s2.9-2 5-3s7.6-2 7.6-3s-5.7-2 -7.6-3s-2.9-1.8 -4-3s-1.9-2.3 -2.5-4s-1-1.7 -1.3-6s-.3-13.5 -.4-20s-.3-15.8 -.4-19H1303.8c-.1,3.2 -.3,12.5 -.4,19s-.1,15.7 -.4,20s-.7,4.3 -1.3,6s-1.4,2.8 -2.5,4s-2.1,2 -4,3s-7.6,2 -7.6,3s5.5,2 7.6,3s3.9,2 5,3s.9,2 1.5,3s1.7,2.5 2,3z"/><path fill="#92C3D8" d="M1336,107h8c.5-.5 2.4-1.8 3-3s.3-2.7 .5-4s-.2-2.7 .5-4s2.6-2.5 4-4s4.4-3.5 4.4-5s-2.8-2.5 -4.4-4s-3.7-3.3 -5-5s-2.2-3.3 -3-5s-1.5-2.8 -2-5s-.8-4.2 -1-8s-.4-12.5 -.5-15H1339.5c-.1,2.5 -.2,11.2 -.5,15s-.5,5.8 -1,8s-1.2,3.3 -2,5s-1.7,3.3 -3,5s-3.4,3.5 -5,5s-4.4,2.5 -4.4,4s3,3.5 4.4,5s3.2,2.7 4,4s.3,2.7 .5,4s-.1,2.8 .5,4s2.5,2.5 3,3z"/><path fill="#4A97BE" d="M1371.8,107h8c.5-.5 2.2-1.8 3-3s1.2-2.5 1.5-4s-.2-3.3 .5-5s2.7-3.5 4-5s3.8-2.7 3.6-4s-3-2.7 -4.6-4s-3.6-2.7 -5-4s-2.6-2.3 -3.5-4s-1.5-4.2 -2-6s-.8-4.2 -1-5H1375.3c-.2,.8 -.5,3.2 -1,5s-1.1,4.3 -2,6s-2.1,2.7 -3.5,4s-3.4,2.7 -5,4s-4.4,2.7 -4.6,4s2.3,2.5 3.6,4s3.2,3.3 4,5s.2,3.5 .5,5s.8,2.8 1.5,4s2.5,2.5 3,3z"/><path fill="#13917A" d="M1400.6,106h22c.7-.5 3.2-1.7 4-3s.8-3.2 1-5s0-4.2 0-6s.4-3.2 0-5s-2.3-4 -2.5-6s1.1-4 1.5-6s1.2-4.2 1-6s-.8-3.3 -2-5s-3.5-3.5 -5-5s-2.8-2.5 -4-4s-2.3-3.3 -3-5s-.8-3.2 -1-5s-.4-5 -.5-6H1411.1c-.1,1 -.2,4.2 -.5,6s-.3,3.3 -1,5s-1.8,3.5 -3,5s-2.5,2.5 -4,4s-3.8,3.3 -5,5s-1.8,3.2 -2,5s.6,4 1,6s1.7,4 1.5,6s-2.1,4.2 -2.5,6s0,3.2 0,5s-.2,4.2 0,6s.2,3.7 1,5s3.3,2.5 4,3z"/><path fill="#EAB323" d="M1446.9,108h1c.2-.7 .5-2.7 1-4s.8-2.8 2-4s3.4-2 5.5-3s6.8-2 7-3s-4.2-1.8 -6-3s-3.9-2.7 -5-4s-1.2-2.5 -1.5-4s.2-3.2 0-5s-.6-4 -1-6s-1.2-2.8 -1.5-6s-.4-10.8 -.5-13H1446.9c-.1,2.2 -.2,9.8 -.5,13s-1.1,4 -1.5,6s-.8,4.2 -1,6s.2,3.5 0,5s-.4,2.7 -1.5,4s-3.2,2.8 -5,4s-6.2,2 -6,3s4.9,2 7,3s4.2,1.8 5.5,3s1.5,2.7 2,4s.8,3.3 1,4z"/><path fill="#DD2B2A" d="M1473.2,106h20c.9-.7 4.4-2.5 5.5-4s.8-3.2 1-5s.6-4.2 .5-6s-.8-3.2 -1-5s-.1-4 0-6s.5-3.8 .5-6s.1-4.7 -.5-7s-2-5 -3-7s-1.8-3.5 -3-5s-2.8-2.7 -4-4s-2.7-2.5 -3.5-4s-1.2-2 -1.5-5s-.4-10.8 -.5-13H1482.7c-.1,2.2 -.2,10 -.5,13s-.7,3.5 -1.5,5s-2.2,2.7 -3.5,4s-2.8,2.5 -4,4s-2,3 -3,5s-2.4,4.7 -3,7s-.5,4.8 -.5,7s.4,4 .5,6s.2,4.2 0,6s-.9,3.2 -1,5s.2,4.2 .5,6s-.1,3.5 1,5s4.6,3.3 5.5,4z"/><path fill="#4A97BE" d="M1518.5,106h1c.9-.5 3.6-1.8 5.5-3s4.2-2.7 6-4s4.3-2.8 4.5-4s-2.4-2 -3.5-3s-3-1.8 -3-3s2.2-2.7 3-4s2.3-2.7 2-4s-2.5-2.7 -4-4s-3.5-2.5 -5-4s-3.2-3.2 -4-5s-.8-3.2 -1-6s-.4-9.2 -.5-11H1518.5c-.1,1.8 -.2,8.2 -.5,11s-.2,4.2 -1,6s-2.5,3.5 -4,5s-3.5,2.7 -5,4s-3.7,2.7 -4,4s1.2,2.7 2,4s3,2.8 3,4s-1.9,2 -3,3s-3.7,1.8 -3.5,3s2.8,2.7 4.5,4s4.1,2.8 6,4s4.6,2.5 5.5,3z"/><path fill="#5BA9CB" d="M1552.3,106h5c.1-.7 .1-2.8 .5-4s.7-1.8 2-3s4.2-2.7 6-4s3.8-2.8 4.5-4s-.2-1.8 -.5-3s-1.2-2.7 -1-4s1.6-2.7 2-4s1.3-2.7 .5-4s-3.6-2.7 -5.5-4s-4.5-2.5 -6-4s-2.2-2.7 -3-5s-1.2-7.5 -1.5-9H1554.3c-.2,1.5 -.8,6.7 -1.5,9s-1.5,3.5 -3,5s-4.1,2.7 -6,4s-4.7,2.7 -5.5,4s.1,2.7 .5,4s1.8,2.7 2,4s-.8,2.8 -1,4s-1.2,1.8 -.5,3s2.8,2.7 4.5,4s4.7,2.8 6,4s1.6,1.8 2,3s.4,3.3 .5,4z"/><path fill="#5BA9CB" d="M1588.1,106h5c.2-.7 .4-2.7 1-4s1.6-2.5 2.5-4s2.2-3.3 3-5s1.4-3.5 2-5s.8-2.5 1.5-4s2.3-3.5 3-5s1.7-2.7 1.1-4s-2.8-2.7 -4.6-4s-4.3-2.5 -6-4s-3.2-3 -4-5s-.8-3.5 -1-7s-.4-11.7 -.5-14H1590.1c-.1,2.3 -.2,10.5 -.5,14s-.2,5 -1,7s-2.3,3.5 -4,5s-4.2,2.7 -6,4s-4,2.7 -4.6,4s.4,2.5 1.1,4s2.2,3.5 3,5s.9,2.5 1.5,4s1.2,3.3 2,5s2.1,3.5 3,5s1.9,2.7 2.5,4s.8,3.3 1,4z"/><path fill="#13917A" d="M1619.4,107h14c.8-.5 3.9-1.8 5-3s1.2-2.5 1.5-4s.2-3.3 0-5s-.9-3.5 -1-5s-.1-2.7 .5-4s2.4-2.8 3-4s1.2-1.8 .5-3s-2.8-2.7 -4.5-4s-4.5-2.8 -6-4s-2.2-1.8 -3-3s-1.7-3.3 -2-4H1625.4c-.3,.7 -1.2,2.8 -2,4s-1.5,1.8 -3,3s-4.2,2.7 -6,4s-3.8,2.8 -4.5,4s-.1,1.8 .5,3s2.4,2.7 3,4s.6,2.5 .5,4s-.8,3.3 -1,5s-.2,3.5 0,5s.4,2.8 1.5,4s4.2,2.5 5,3z"/><path fill="#73A7B8" d="M1659.7,107h5c.2-.7 .6-2.7 1-4s.8-2.5 1.5-4s2.1-3.3 3-5s1.7-3.3 2.5-5s1.6-3.3 2.5-5s2.4-3.5 3-5s1.1-2.5 .6-4s-2-3.5 -3.6-5s-4.2-2.8 -6-4s-3.5-2.3 -4.5-3s-1.2-.8 -1.5-1H1661.2c-.2,.2 -.5,.3 -1.5,1s-2.8,1.8 -4.5,3s-4.4,2.5 -6,4s-3.1,3.5 -3.6,5s0,2.5 .6,4s2.1,3.3 3,5s1.7,3.3 2.5,5s1.6,3.3 2.5,5s2.2,3.5 3,5s1.1,2.7 1.5,4s.8,3.3 1,4z"/><path fill="#E8A0C8" d="M1697.5,106h1c.9-.7 3.6-2.7 5.5-4s4.3-2.7 6-4s3.2-2.7 4-4s1.2-2.7 .5-4s-3.2-2.7 -4.5-4s-2.5-2.5 -3-4s.2-3.5 0-5s-.3-2.7 -1-4s-2.1-2.5 -3-4s-1.8-3 -2.5-5s-1.2-3.8 -1.5-7s-.4-10 -.5-12H1697.5c-.1,2 -.2,8.8 -.5,12s-.8,5 -1.5,7s-1.6,3.5 -2.5,5s-2.3,2.7 -3,4s-.8,2.5 -1,4s.5,3.5 0,5s-1.8,2.7 -3,4s-3.8,2.7 -4.5,4s-.2,2.7 .5,4s2.3,2.7 4,4s4.1,2.7 6,4s4.6,3.3 5.5,4z"/><path fill="#4A97BE" d="M1733.3,107h1c.9-.5 3.6-1.8 5.5-3s4.3-2.7 6-4s3.8-2.8 4-4s-2-2 -3-3s-3-2 -3-3s1.9-2 3-3s3.2-1.8 3.4-3s-1.3-2.7 -2.4-4s-2.5-2.5 -4-4s-3.7-3.5 -5-5s-2.2-2.5 -3-4s-1.2-4.2 -1.5-5H1733.3c-.2,.8 -.8,3.5 -1.5,5s-1.7,2.5 -3,4s-3.5,3.5 -5,5s-2.9,2.7 -4,4s-2.6,2.8 -2.4,4s2.3,2 3.4,3s3,2 3,3s-2,2 -3,3s-3.2,1.8 -3,3s2.3,2.7 4,4s4.1,2.8 6,4s4.6,2.5 5.5,3z"/><path fill="#4A97BE" d="M1767.1,107h5c.2-.7 1.1-2.7 1.5-4s.6-2.5 1-4s1-3.5 1.5-5s.6-2.7 1.5-4s2.6-2.7 4-4s4.2-2.7 4.4-4s-2-2.7 -3.4-4s-3.5-2.7 -5-4s-3-2.5 -4-4s-1.4-2.2 -2-5s-1.2-10 -1.5-12H1769.1c-.2,2 -.9,9.2 -1.5,12s-1,3.5 -2,5s-2.5,2.7 -4,4s-3.6,2.7 -5,4s-3.6,2.7 -3.4,4s3,2.7 4.4,4s3.1,2.7 4,4s1,2.5 1.5,4s1.1,3.5 1.5,5s.6,2.7 1,4s1.2,3.3 1.5,4z"/><path fill="#73A7B8" d="M1802.9,107h5c.2-.7 .5-2.7 1-4s1.4-2.7 2-4s.8-2.5 1.5-4s1.7-3.3 2.5-5s1.6-3.3 2.5-5s2.3-3.3 3-5s1.7-3.3 1.4-5s-1.8-3.3 -3.4-5s-4.3-3.7 -6-5s-2.9-2.2 -4-3s-2.1-1.7 -2.5-2H1804.9c-.4,.3 -1.4,1.2 -2.5,2s-2.3,1.7 -4,3s-4.4,3.3 -6,5s-3.1,3.3 -3.4,5s.7,3.3 1.4,5s2.1,3.3 3,5s1.7,3.3 2.5,5s1.8,3.5 2.5,5s.9,2.7 1.5,4s1.5,2.7 2,4s.8,3.3 1,4z"/><path fill="#5590D8" d="M1832.2,106h18c.6-.5 2.6-1.8 3.5-3s1.5-2.5 2-4s.8-3.3 1-5s.4-3.3 .5-5s.3-3.5 .4-5s.2-2.5 .1-4s-.2-3.3 -1-5s-2.2-3.3 -3.5-5s-2.7-3.5 -4-5s-2.8-3 -4-4s-2.5-1.7 -3-2H1840.2c-.5,.3 -1.8,1 -3,2s-2.7,2.5 -4,4s-2.8,3.3 -4,5s-2.8,3.3 -3.5,5s-.8,3.5 -1,5s0,2.5 .1,4s.2,3.3 .4,5s.2,3.3 .5,5s.5,3.5 1,5s1.1,2.8 2,4s2.9,2.5 3.5,3z"/><path fill="#D6DFDD" d="M1876,103h2c.8-.5 3.2-2 5-3s4.3-1.8 6-3s3.7-2.5 4-4s-1.2-3.3 -2-5s-2-3.3 -3-5s-2-3.3 -3-5s-2.2-3.3 -3-5s-1.6-3.3 -2-5s-.4-3.2 -.5-5s.1-4.3 0-6s-.2-3.2 -.5-4s-.8-.8 -1-1H1876c-.2,.2 -.8,.2 -1,1s-.4,2.3 -.5,4s.1,4.2 0,6s-.1,3.3 -.5,5s-1.2,3.3 -2,5s-2,3.3 -3,5s-2,3.3 -3,5s-2.2,3.3 -3,5s-2.3,3.5 -2,5s2.3,2.8 4,4s4.2,2 6,3s4.2,2.5 5,3z"/><path fill="#73A7B8" d="M1910.3,103h5c.4-.7 1.4-2.7 2.5-4s2.7-2.7 4-4s2.8-2.7 4-4s2.5-2.7 3-4s.2-2.8 0-4s-1.6-1.8 -1.5-3s2.2-2.5 1.9-4s-2-3.2 -3.4-5s-3.5-4 -5-6s-3.1-4.2 -4-6s-1.1-3.5 -1.5-5s-.8-3.3 -1-4H1911.3c-.2,.7 -.6,2.5 -1,4s-.6,3.2 -1.5,5s-2.5,4 -4,6s-3.6,4.2 -5,6s-3.1,3.5 -3.4,5s1.8,2.8 1.9,4s-1.2,1.8 -1.5,3s-.5,2.7 0,4s1.8,2.7 3,4s2.7,2.7 4,4s2.9,2.7 4,4s2.1,3.3 2.5,4z"/><path fill="#4E5B85" d="M1942.6,104h12c1.2-.5 5.3-1.8 7-3s2.6-2.7 3-4s0-2.5 -.5-4s-1.7-3.3 -2.5-5s-1.7-3.3 -2.5-5s-1.8-3.3 -2.5-5s-1.3-3.3 -2-5s-1.4-3.5 -2-5s-1-2.8 -1.5-4s-1.2-2.2 -1.5-3s-.4-1.7 -.5-2H1948.1c-.1,.3 -.2,1.2 -.5,2s-1,1.8 -1.5,3s-.9,2.5 -1.5,4s-1.3,3.3 -2,5s-1.2,3.3 -2,5s-1.7,3.3 -2.5,5s-1.7,3.3 -2.5,5s-2,3.5 -2.5,5s-.9,2.7 -.5,4s1.3,2.8 3,4s5.8,2.5 7,3z"/><path fill="#A31F30" d="M1979.4,106h10c1-.5 4.2-1.8 6-3s3.6-2.7 4.5-4s1.1-2.5 1-4s-1.4-3.3 -1.5-5s.8-3.3 1-5s.2-3.3 0-5s-.7-3.3 -1-5s-.7-3.3 -1-5s-.3-3.3 -1-5s-1.8-3.3 -3-5s-2.9-3.5 -4-5s-2-3 -2.5-4s-.4-1.7 -.5-2H1981.4c-.1,.3 0,1 -.5,2s-1.4,2.5 -2.5,4s-2.8,3.3 -4,5s-2.3,3.3 -3,5s-.7,3.3 -1,5s-.7,3.3 -1,5s-.8,3.3 -1,5s-.2,3.3 0,5s1.1,3.3 1,5s-1.4,3.5 -1.5,5s.1,2.7 1,4s2.8,2.8 4.5,4s5,2.5 6,3z"/><path fill="#8BB5AA" d="M2014.2,104h12c1-.5 4.3-1.8 6-3s3.3-2.7 4-4s.6-2.7 .4-4s-1.4-2.7 -1.9-4s-.9-2.5 -1-4s.4-3.3 .5-5s.2-3.3 0-5s-.3-3.5 -1-5s-1.8-2.7 -3-4s-2.8-2.7 -4-4s-2.4-2.8 -3-4s-.4-2.2 -.5-3s0-1.7 0-2H2017.7c0,.3 .1,1.2 0,2s.1,1.8 -.5,3s-1.8,2.7 -3,4s-2.8,2.7 -4,4s-2.3,2.5 -3,4s-.8,3.3 -1,5s-.1,3.3 0,5s.6,3.5 .5,5s-.5,2.7 -1,4s-1.7,2.7 -1.9,4s-.3,2.7 .4,4s2.3,2.8 4,4s5,2.5 6,3z"/><path fill="#13917A" d="M2050,106h12c.3-.7 1.7-2.7 2-4s.2-2.7 0-4s-.9-2.7 -1-4s0-2.7 .5-4s1.5-2.7 2.5-4s2.5-2.7 3.5-4s2-2.7 2.5-4s.7-2.7 .4-4s-1.3-2.5 -2.4-4s-2.7-3.3 -4-5s-2.8-3.3 -4-5s-2.2-3.3 -3-5s-1.1-3.3 -1.5-5s-.8-4.2 -1-5H2055.5c-.2,.8 -.6,3.3 -1,5s-.8,3.3 -1.5,5s-1.8,3.3 -3,5s-2.7,3.3 -4,5s-2.9,3.5 -4,5s-2.1,2.7 -2.4,4s-.1,2.7 .4,4s1.5,2.7 2.5,4s2.5,2.7 3.5,4s2,2.7 2.5,4s.6,2.7 .5,4s-.8,2.7 -1,4s-.3,2.7 0,4s1.7,3.3 2,4z"/><path fill="#4A97BE" d="M2088.3,106h7c.1-.7 .2-2.7 .3-4s0-2.8 .2-4s.2-1.8 1-3s2.7-2.7 4-4s2.8-2.7 4-4s2.4-2.7 3-4s.4-2.5 .4-4s0-3.3 -.4-5s-1.2-3.7 -2-5s-2-2.2 -3-3s-2.5-1.7 -3-2H2083.8c-.5,.3 -2,1.2 -3,2s-2.2,1.7 -3,3s-1.6,3.3 -2,5s-.4,3.5 -.4,5s-.2,2.7 .4,4s1.8,2.7 3,4s2.7,2.7 4,4s3.2,2.8 4,4s.8,1.8 1,3s.1,2.7 .2,4s.2,3.3 .3,4z"/><path fill="#EAB323" d="M2124.6,80h6c.4-.2 1.2-.8 2.5-1.5s3.7-1.6 5.5-2.5s5.4-2.1 5.4-3s-3.8-1.7 -5.4-2.5s-3.5-1.6 -4.5-2.5s-1-2 -1.5-3s-1.2-2.5 -1.5-3H2124.1c-.2,.5 -1,2 -1.5,3s-.5,2.1 -1.5,3s-2.8,1.7 -4.5,2.5s-5.4,1.6 -5.4,2.5s3.6,2.1 5.4,3s4.2,1.8 5.5,2.5s2.1,1.2 2.5,1.5z"/></g>
<path d="M1211 24V113.1M1210.5 112.6H2149.8" stroke="#222" stroke-width="1.1" fill="none"/>
<path d="M1207 25.4H1211M1207 55H1211M1207 86H1211M1232.6 112.6V116.1M1268.4 112.6V116.1M1304.2 112.6V116.1M1340 112.6V116.1M1375.8 112.6V116.1M1411.6 112.6V116.1M1447.4 112.6V116.1M1483.2 112.6V116.1M1519 112.6V116.1M1554.8 112.6V116.1M1590.6 112.6V116.1M1626.4 112.6V116.1M1662.2 112.6V116.1M1698 112.6V116.1M1733.8 112.6V116.1M1769.6 112.6V116.1M1805.4 112.6V116.1M1841.2 112.6V116.1M1877 112.6V116.1M1912.8 112.6V116.1M1948.6 112.6V116.1M1984.4 112.6V116.1M2020.2 112.6V116.1M2056 112.6V116.1M2091.8 112.6V116.1M2127.6 112.6V116.1" stroke="#222" stroke-width="1" fill="none"/>
<g font-size="15" text-anchor="end" fill="#111"><text x="1206" y="30.6">100000</text><text x="1206" y="60.2">10000</text><text x="1206" y="91.2">1000</text></g>
<g font-size="16.5" text-anchor="middle" font-weight="bold"><text x="1150" y="58.5" transform="rotate(-90 1150 58.5)"># UMI</text></g>
<g stroke="#000" stroke-width="1.25" stroke-linejoin="round"><path fill="#C9BFAE" d="M1228.6,204h8c.5-.7 2.2-2.7 3-4s1.3-2.5 2-4s1.3-3.3 2-5s1.2-3.2 2-5s1.9-4.2 2.5-6s1.2-3.2 .9-5s-1.3-4 -2.4-6s-2.7-4 -4-6s-2.8-4.2 -4-6s-2.2-3.2 -3-5s-1.1-3.8 -1.5-6s-.8-5.8 -1-7H1232.1c-.2,1.2 -.6,4.8 -1,7s-.8,4.2 -1.5,6s-1.8,3.2 -3,5s-2.7,4 -4,6s-2.9,4 -4,6s-2.1,4.2 -2.4,6s.3,3.2 .9,5s1.8,4.2 2.5,6s1.3,3.3 2,5s1.3,3.5 2,5s1.2,2.7 2,4s2.5,3.3 3,4z"/><path fill="#4A97BE" d="M1262.4,204h12c.8-.7 3.5-2.7 5-4s3.1-2.7 4-4s1.8-2.7 1.6-4s-2-2.5 -2.6-4s-1.2-3.3 -1-5s1.4-3.2 2-5s1.9-4.2 1.6-6s-2-3.2 -3.6-5s-4.3-4 -6-6s-3.1-4.2 -4-6s-1.1-3.5 -1.5-5s-.8-3.3 -1-4H1267.9c-.2,.7 -.6,2.5 -1,4s-.6,3.2 -1.5,5s-2.3,4 -4,6s-4.4,4.2 -6,6s-3.3,3.2 -3.6,5s1,4.2 1.6,6s1.8,3.3 2,5s-.4,3.5 -1,5s-2.4,2.7 -2.6,4s.7,2.7 1.6,4s2.5,2.7 4,4s4.2,3.3 5,4z"/><path fill="#B5C878" d="M1303.7,207h1c.4-.5 1.8-1.8 2.5-3s.8-2.8 1.5-4s1.1-2 2.5-3s4.5-2 6-3s3.7-1.8 3-3s-5.3-2.7 -7-4s-2.2-2.3 -3-4s-1.4-3.8 -2-6s-1.1-4.5 -1.5-7s-.8-4.7 -1-8s-.3-7 -.5-12s-.5-15 -.6-18H1303.8c-.1,3 -.4,13 -.6,18s-.2,8.7 -.5,12s-.6,5.5 -1,8s-.9,4.8 -1.5,7s-1.2,4.3 -2,6s-1.3,2.7 -3,4s-6.3,2.8 -7,4s1.5,2 3,3s4.6,2 6,3s1.8,1.8 2.5,3s.8,2.8 1.5,4s2.1,2.5 2.5,3z"/><path fill="#92C3D8" d="M1335,204h10c.5-.7 2.4-2.7 3-4s.4-2.5 .5-4s-.4-3.3 0-5s1.4-3.2 2.5-5s3.1-4.3 4-6s1.9-2.5 1.4-4s-3-3.2 -4.4-5s-2.8-4 -4-6s-2.1-3.8 -3-6s-1.8-4.5 -2.5-7s-1.2-4.7 -1.5-8s-.5-10 -.6-12H1339.6c-.1,2 -.2,8.7 -.6,12s-.8,5.5 -1.5,8s-1.6,4.8 -2.5,7s-1.8,4 -3,6s-2.6,4.2 -4,6s-3.9,3.5 -4.4,5s.5,2.3 1.4,4s2.9,4.2 4,6s2.1,3.3 2.5,5s-.1,3.5 0,5s-.1,2.7 .5,4s2.5,3.3 3,4z"/><path fill="#4A97BE" d="M1372.3,204h7c.4-.8 1.8-3.3 2.5-5s1.4-3.2 2-5s.8-4.2 1.5-6s1.4-3.3 2.5-5s3.2-3.5 4-5s1.3-2.5 .6-4s-2.8-3.2 -4.6-5s-4.5-4 -6-6s-2.2-3.8 -3-6s-1.1-5 -1.5-7s-.8-4.2 -1-5H1375.3c-.2,.8 -.6,3 -1,5s-.8,4.8 -1.5,7s-1.5,4 -3,6s-4.2,4.2 -6,6s-3.9,3.5 -4.6,5s-.2,2.5 .6,4s2.9,3.3 4,5s1.8,3.2 2.5,5s.9,4.2 1.5,6s1.2,3.3 2,5s2.1,4.2 2.5,5z"/><path fill="#13917A" d="M1402.6,204h18c.8-.7 3.8-2.3 5-4s1.6-3.7 2-6s.4-5.3 .4-8s-.4-5.3 -.4-8s.1-5.3 .2-8s.2-5.5 .2-8s.2-5 -.4-7s-2-3.3 -3-5s-1.8-3.3 -3-5s-2.8-3.3 -4-5s-2.2-3.5 -3-5s-1.1-2.8 -1.5-4s-.8-2.5 -1-3H1411.1c-.2,.5 -.6,1.8 -1,3s-.8,2.5 -1.5,4s-1.8,3.3 -3,5s-2.8,3.3 -4,5s-2,3.3 -3,5s-2.4,3 -3,5s-.4,4.5 -.4,7s.1,5.3 .2,8s.2,5.3 .2,8s-.4,5.3 -.4,8s0,5.7 .4,8s.8,4.3 2,6s4.2,3.3 5,4z"/><path fill="#EAB323" d="M1446.9,207h1c.2-.7 .9-2.7 1.5-4s.7-2.7 2-4s3.9-2.7 6-4s6.5-2.7 6.5-4s-4.6-2.7 -6.5-4s-3.8-2.5 -5-4s-2.1-3.3 -2.5-5s-.2-3 0-5s.8-4.7 1-7s.2-4.7 0-7s-1.1-4.7 -1.5-7s-.8-5 -1-7s-.4-4.2 -.5-5H1446.9c-.1,.8 -.2,3 -.5,5s-.6,4.7 -1,7s-1.2,4.7 -1.5,7s-.2,4.7 0,7s.8,5 1,7s.4,3.3 0,5s-1.2,3.5 -2.5,5s-3.1,2.7 -5,4s-6.5,2.7 -6.5,4s4.4,2.7 6.5,4s4.7,2.7 6,4s1.4,2.7 2,4s1.2,3.3 1.5,4z"/><path fill="#DD2B2A" d="M1473.2,204h20c.8-.8 3.9-3.3 5-5s1.2-3.2 1.5-5s.2-3.8 0-6s-1.3-4.8 -1.5-7s.5-3.8 .5-6s-.6-4.5 -.5-7s.8-5.3 1-8s.3-5.5 0-8s-1.2-4.8 -2-7s-1.8-4.2 -3-6s-2.7-3.3 -4-5s-2.9-3.3 -4-5s-2.1-4.2 -2.5-5H1482.7c-.4,.8 -1.4,3.3 -2.5,5s-2.7,3.3 -4,5s-2.8,3.2 -4,5s-2.2,3.8 -3,6s-1.7,4.5 -2,7s-.2,5.3 0,8s.9,5.5 1,8s-.5,4.8 -.5,7s.7,3.8 .5,6s-1.2,4.8 -1.5,7s-.2,4.2 0,6s.4,3.3 1.5,5s4.2,4.2 5,5z"/><path fill="#4A97BE" d="M1518.5,204h1c.9-.7 3.6-2.5 5.5-4s4.3-3.3 6-5s3.3-3.5 4-5s.5-2.7 0-4s-2.4-2.7 -3-4s-.8-2.5 -.5-4s1.4-3.2 2-5s1.6-4.2 1.5-6s-1.2-3.3 -2-5s-1.8-3.3 -3-5s-2.8-3.3 -4-5s-2.6-3.3 -3.5-5s-1.5-3.2 -2-5s-.8-5 -1-6H1518.5c-.2,1 -.5,4.2 -1,6s-1.1,3.3 -2,5s-2.2,3.3 -3.5,5s-2.8,3.3 -4,5s-2.2,3.3 -3,5s-1.9,3.2 -2,5s.9,4.2 1.5,6s1.8,3.5 2,5s.1,2.7 -.5,4s-2.5,2.7 -3,4s-.7,2.5 0,4s2.3,3.3 4,5s4.1,3.5 6,5s4.6,3.3 5.5,4z"/><path fill="#5BA9CB" d="M1552.3,204h5c.1-.7 .2-2.7 .5-4s.2-2.7 1-4s2.8-2.5 4-4s2.7-3.2 3.5-5s1.1-4 1.5-6s.5-4.2 1-6s1.6-3.3 2-5s.7-3.3 .4-5s-1.3-3.3 -2.4-5s-2.7-3.3 -4-5s-2.8-3.3 -4-5s-2.6-3 -3.5-5s-1.7-5.8 -2-7H1554.3c-.3,1.2 -1.1,5 -2,7s-2.2,3.3 -3.5,5s-2.7,3.3 -4,5s-2.9,3.3 -4,5s-2.1,3.3 -2.4,5s0,3.3 .4,5s1.5,3.2 2,5s.6,4 1,6s.7,4.2 1.5,6s2.2,3.5 3.5,5s3.2,2.7 4,4s.8,2.7 1,4s.4,3.3 .5,4z"/><path fill="#5BA9CB" d="M1588.1,204h5c.2-.8 .6-3.3 1-5s1-3.3 1.5-5s.9-3.3 1.5-5s1.2-3.2 2-5s1.6-4 2.5-6s2.2-4 3-6s1.8-4.2 2-6s-.3-3.3 -1-5s-1.7-3.3 -3-5s-3.5-3.3 -5-5s-3.1-3.2 -4-5s-1.1-3.3 -1.5-6s-.8-8.3 -1-10H1590.1c-.2,1.7 -.6,7.3 -1,10s-.6,4.2 -1.5,6s-2.5,3.3 -4,5s-3.7,3.3 -5,5s-2.3,3.3 -3,5s-1.2,3.2 -1,5s1.2,4 2,6s2.1,4 3,6s1.8,4.2 2.5,6s1.4,3.3 2,5s1,3.3 1.5,5s1.1,3.3 1.5,5s.8,4.2 1,5z"/><path fill="#13917A" d="M1617.4,204h18c.6-.7 2.8-2.7 3.5-4s.8-2.5 1-4s.1-3.3 0-5s-.3-3.3 -.5-5s-.7-3.3 -.5-5s.8-3.3 1.5-5s2.2-3.5 2.5-5s.1-2.7 -.5-4s-1.8-2.5 -3-4s-2.7-3.5 -4-5s-2.9-2.7 -4-4s-1.8-3 -2.5-4s-1.2-1.7 -1.5-2H1625.4c-.2,.3 -.8,1 -1.5,2s-1.4,2.7 -2.5,4s-2.7,2.5 -4,4s-2.8,3.5 -4,5s-2.4,2.7 -3,4s-.8,2.5 -.5,4s1.8,3.3 2.5,5s1.3,3.3 1.5,5s-.3,3.3 -.5,5s-.4,3.3 -.5,5s-.2,3.5 0,5s.2,2.7 1,4s2.9,3.3 3.5,4z"/><path fill="#73A7B8" d="M1659.7,204h5c.1-.7 .2-2.7 .5-4s.9-2.5 1.5-4s1.3-3.3 2-5s1.3-3.3 2-5s1.2-3.3 2-5s1.7-3.2 2.5-5s1.9-4.2 2.5-6s1.1-3.3 .9-5s-1.3-3.3 -2.4-5s-2.6-3.3 -4-5s-3.2-3.7 -4.5-5s-2.9-2.5 -3.5-3H1660.2c-.6,.5 -2.2,1.7 -3.5,3s-3.1,3.3 -4.5,5s-2.9,3.3 -4,5s-2.2,3.3 -2.4,5s.3,3.2 .9,5s1.7,4.2 2.5,6s1.8,3.3 2.5,5s1.3,3.3 2,5s1.3,3.3 2,5s1.4,3.5 2,5s1.2,2.7 1.5,4s.4,3.3 .5,4z"/><path fill="#E8A0C8" d="M1697.5,204h1c.8-.7 2.9-2.7 4.5-4s3.4-2.7 5-4s3.5-2.8 4.5-4s1.8-1.8 1.5-3s-2.2-2.7 -3-4s-1.2-2.5 -1.5-4s-.3-3.3 -.5-5s0-3.3 -.5-5s-1.6-3.3 -2.5-5s-2.2-3.3 -3-5s-1.5-3.2 -2-5s-.7-3.7 -1-6s-.8-5.2 -1-8s-.4-7.5 -.5-9H1697.5c-.1,1.5 -.2,6.2 -.5,9s-.7,5.7 -1,8s-.5,4.2 -1,6s-1.2,3.3 -2,5s-2.1,3.3 -3,5s-2,3.3 -2.5,5s-.3,3.3 -.5,5s-.2,3.5 -.5,5s-.8,2.7 -1.5,4s-2.8,2.8 -3,4s.5,1.8 1.5,3s2.9,2.7 4.5,4s3.4,2.7 5,4s3.8,3.3 4.5,4z"/><path fill="#4A97BE" d="M1733.3,204h1c.8-.7 2.8-2.5 4.5-4s4.3-3.3 6-5s3.5-3.5 4-5s-.5-2.7 -1-4s-1.8-2.7 -2-4s-.1-2.5 .5-4s2.3-3.5 3-5s1.2-2.5 .9-4s-1.3-3.3 -2.4-5s-2.7-3.3 -4-5s-2.8-3.5 -4-5s-2.1-2.7 -3-4s-2.1-3.3 -2.5-4H1733.3c-.4,.7 -1.6,2.7 -2.5,4s-1.8,2.5 -3,4s-2.7,3.3 -4,5s-2.9,3.3 -4,5s-2.1,3.5 -2.4,5s.2,2.5 .9,4s2.4,3.5 3,5s.8,2.7 .5,4s-1.5,2.7 -2,4s-1.5,2.5 -1,4s2.3,3.3 4,5s4.2,3.5 6,5s3.8,3.3 4.5,4z"/><path fill="#4A97BE" d="M1767.1,204h5c.2-.7 .6-2.7 1-4s1.1-2.5 1.5-4s.6-3.3 1-5s.8-3.3 1.5-5s1.5-3.3 2.5-5s2.4-3.2 3.5-5s2.7-4.2 2.9-6s-.7-3.3 -1.4-5s-1.8-3.3 -3-5s-2.7-3.3 -4-5s-2.9-3 -4-5s-1.9-4.7 -2.5-7s-.8-5.8 -1-7H1769.1c-.2,1.2 -.4,4.7 -1,7s-1.4,5 -2.5,7s-2.7,3.3 -4,5s-2.8,3.3 -4,5s-2.3,3.3 -3,5s-1.6,3.2 -1.4,5s1.8,4.2 2.9,6s2.5,3.3 3.5,5s1.8,3.3 2.5,5s1.1,3.3 1.5,5s.6,3.5 1,5s1.1,2.7 1.5,4s.8,3.3 1,4z"/><path fill="#73A7B8" d="M1802.9,204h5c.1-.7 .2-2.7 .5-4s.9-2.5 1.5-4s1.4-3.3 2-5s.9-3.3 1.5-5s1.2-3.2 2-5s1.7-4.2 2.5-6s1.8-3.3 2.5-5s1.6-3.3 1.4-5s-1.3-3.3 -2.4-5s-2.6-3.3 -4-5s-3.2-3.7 -4.5-5s-2.2-2.2 -3-3s-1.7-1.7 -2-2H1804.9c-.3,.3 -1.2,1.2 -2,2s-1.8,1.7 -3,3s-3.1,3.3 -4.5,5s-2.9,3.3 -4,5s-2.2,3.3 -2.4,5s.8,3.3 1.4,5s1.7,3.2 2.5,5s1.8,4.2 2.5,6s1.4,3.3 2,5s.9,3.3 1.5,5s1.4,3.5 2,5s1.2,2.7 1.5,4s.4,3.3 .5,4z"/><path fill="#5590D8" d="M1832.7,204h17c.6-.7 2.6-2.5 3.5-4s1.5-3.2 2-5s.8-4 1-6s.3-4 .5-6s.3-4 .5-6s.4-4 .5-6s.3-4.2 -.1-6s-1.5-3.3 -2.4-5s-1.8-3.3 -3-5s-2.7-3.5 -4-5s-3-3 -4-4s-1.7-1.7 -2-2H1840.2c-.3,.3 -1,1 -2,2s-2.7,2.5 -4,4s-2.8,3.3 -4,5s-2.1,3.3 -3,5s-2,3.2 -2.4,5s-.2,4 -.1,6s.3,4 .5,6s.3,4 .5,6s.2,4 .5,6s.5,4.2 1,6s1.1,3.5 2,5s2.9,3.3 3.5,4z"/><path fill="#D6DFDD" d="M1876.5,203h1c.9-.7 3.6-2.7 5.5-4s4.3-2.5 6-4s3.6-3.3 4-5s-.9-3.2 -1.5-5s-1.3-4 -2-6s-1.3-4 -2-6s-1.2-4 -2-6s-1.7-4 -2.5-6s-2-4.2 -2.5-6s-.5-3.2 -.7-5s-.2-4.3 -.3-6s0-3.2 -.2-4s-.7-.8 -.8-1H1875.5c-.1,.2 -.6,.2 -.8,1s-.1,2.3 -.2,4s-.1,4.2 -.3,6s-.2,3.2 -.7,5s-1.7,4 -2.5,6s-1.8,4 -2.5,6s-1.3,4 -2,6s-1.3,4 -2,6s-1.4,4.2 -2,6s-1.9,3.3 -1.5,5s2.3,3.5 4,5s4.1,2.7 6,4s4.6,3.3 5.5,4z"/><path fill="#73A7B8" d="M1910.3,202h5c.2-.7 .6-2.5 1.5-4s2.7-3.3 4-5s2.8-3.3 4-5s2.4-3.3 3-5s.5-3.3 .5-5s-.5-3.3 -.5-5s.3-3.3 .5-5s.8-3.3 .9-5s.2-3.3 -.4-5s-2.2-3.2 -3.5-5s-3.1-4 -4.5-6s-3-4.3 -4-6s-1.6-2.8 -2-4s-.4-2.5 -.5-3H1911.3c-.1,.5 -.1,1.8 -.5,3s-1,2.3 -2,4s-2.6,4 -4,6s-3.2,4.2 -4.5,6s-2.9,3.3 -3.5,5s-.5,3.3 -.4,5s.7,3.3 .9,5s.5,3.3 .5,5s-.5,3.3 -.5,5s-.1,3.3 .5,5s1.8,3.3 3,5s2.7,3.3 4,5s3.1,3.5 4,5s1.2,3.3 1.5,4z"/><path fill="#4E5B85" d="M1942.6,203h12c.9-.7 3.9-2.5 5.5-4s3.2-3.3 4-5s1-3.2 .9-5s-.8-4 -1.4-6s-1.4-4 -2-6s-.9-4 -1.5-6s-1.3-4 -2-6s-1.2-4 -2-6s-1.7-4.2 -2.5-6s-1.8-3.5 -2.5-5s-1.1-3.2 -1.5-4s-.6-.8 -.7-1H1948.2c-.1,.2 -.3,.2 -.6,1s-.8,2.5 -1.5,4s-1.7,3.2 -2.5,5s-1.8,4 -2.5,6s-1.3,4 -2,6s-1.4,4 -2,6s-.9,4 -1.5,6s-1.4,4 -2,6s-1.3,4.2 -1.4,6s.1,3.3 .9,5s2.4,3.5 4,5s4.6,3.3 5.5,4z"/><path fill="#A31F30" d="M1979.4,204h10c1-.7 4.2-2.5 6-4s3.6-3.2 4.5-5s1-4 .9-6s-1.2-4 -1.4-6s.3-4 .5-6s.8-4 .9-6s0-4 -.2-6s-.2-4 -.7-6s-1.1-4 -2-6s-2.3-4 -3.5-6s-2.5-4.3 -3.5-6s-1.9-3 -2.5-4s-.8-1.7 -1-2H1981.4c-.2,.3 -.4,1 -1,2s-1.5,2.3 -2.5,4s-2.3,4 -3.5,6s-2.6,4 -3.5,6s-1.5,4 -2,6s-.5,4 -.7,6s-.3,4 -.2,6s.7,4 .9,6s.7,4 .5,6s-1.3,4 -1.4,6s0,4.2 .9,6s2.8,3.5 4.5,5s5,3.3 6,4z"/><path fill="#8BB5AA" d="M2014.2,203h12c1-.7 4.3-2.5 6-4s3.3-3.3 4-5s.6-3.3 .4-5s-1.3-3.2 -1.9-5s-1.3-4 -1.5-6s.3-4 .5-6s.8-4 .5-6s-1-4.2 -2-6s-2.8-3.3 -4-5s-2.2-3.3 -3-5s-1.6-3.7 -2-5s-.4-2.2 -.5-3s0-1.7 0-2H2017.7c0,.3 .1,1.2 0,2s-.1,1.7 -.5,3s-1.2,3.3 -2,5s-1.8,3.3 -3,5s-3,3.2 -4,5s-1.8,4 -2,6s.3,4 .5,6s.7,4 .5,6s-.9,4.2 -1.5,6s-1.7,3.3 -1.9,5s-.3,3.3 .4,5s2.3,3.5 4,5s5,3.3 6,4z"/><path fill="#13917A" d="M2051,204h10c.3-.7 1.7-2.5 2-4s.1-3.3 0-5s-.4-3.3 -.5-5s-.2-3.3 0-5s.8-3.3 1.5-5s2-3.3 3-5s2.2-3.3 3-5s1.6-3.5 2-5s.7-2.5 .4-4s-1.4-3.3 -2.4-5s-2.3-3.2 -3.5-5s-2.3-4.2 -3.5-6s-2.6-3.5 -3.5-5s-1.7-3.3 -2-4H2054.5c-.3,.7 -1.1,2.5 -2,4s-2.3,3.2 -3.5,5s-2.3,4.2 -3.5,6s-2.5,3.3 -3.5,5s-2.1,3.5 -2.4,5s0,2.5 .4,4s1.2,3.3 2,5s2,3.3 3,5s2.2,3.3 3,5s1.2,3.3 1.5,5s.1,3.3 0,5s-.4,3.3 -.5,5s-.3,3.5 0,5s1.7,3.3 2,4z"/><path fill="#4A97BE" d="M2088.1,204h7.4c0-.8 0-3.3 .1-5s0-3.5 .2-5s.2-2.7 1-4s2.3-2.7 3.5-4s2.5-2.5 3.5-4s1.9-3.3 2.5-5s.8-3.3 1-5s.4-3.2 .5-5s.2-4.2 0-6s-.8-3.5 -1.5-5s-1.9-3.2 -2.5-4s-.8-.8 -1-1H2080.8c-.2,.2 -.4,.2 -1,1s-1.8,2.5 -2.5,4s-1.2,3.2 -1.5,5s-.1,4.2 0,6s.2,3.3 .5,5s.4,3.3 1,5s1.5,3.5 2.5,5s2.3,2.7 3.5,4s2.8,2.7 3.5,4s.8,2.5 1,4s.1,3.3 .2,5s.1,4.2 .1,5z"/><path fill="#EAB323" d="M2124.6,170h6c.3-.3 1-1.2 2-2s2.2-2 4-3s6.3-2.1 7-3s-1.5-1.7 -3-2.5s-4.8-1.4 -6-2.5s-1.1-2.8 -1.5-4s-.6-2 -1-3s-1.2-2.5 -1.5-3H2124.6c-.2,.5 -1.1,2 -1.5,3s-.6,1.8 -1,3s-.2,2.9 -1.5,4s-4.5,1.7 -6,2.5s-3.7,1.6 -3,2.5s5.2,2 7,3s3,2.2 4,3s1.7,1.7 2,2z"/></g>
<path d="M1211 120V211.1M1210.5 210.6H2149.8" stroke="#222" stroke-width="1.1" fill="none"/>
<path d="M1207 144H1211M1207 168.6H1211M1207 195H1211M1232.6 210.6V214.1M1268.4 210.6V214.1M1304.2 210.6V214.1M1340 210.6V214.1M1375.8 210.6V214.1M1411.6 210.6V214.1M1447.4 210.6V214.1M1483.2 210.6V214.1M1519 210.6V214.1M1554.8 210.6V214.1M1590.6 210.6V214.1M1626.4 210.6V214.1M1662.2 210.6V214.1M1698 210.6V214.1M1733.8 210.6V214.1M1769.6 210.6V214.1M1805.4 210.6V214.1M1841.2 210.6V214.1M1877 210.6V214.1M1912.8 210.6V214.1M1948.6 210.6V214.1M1984.4 210.6V214.1M2020.2 210.6V214.1M2056 210.6V214.1M2091.8 210.6V214.1M2127.6 210.6V214.1" stroke="#222" stroke-width="1" fill="none"/>
<g font-size="15" text-anchor="end" fill="#111"><text x="1206" y="149.2">3000</text><text x="1206" y="173.8">1000</text><text x="1206" y="200.2">300</text></g>
<g font-size="16.5" text-anchor="middle" font-weight="bold"><text x="1150" y="167.5" transform="rotate(-90 1150 167.5)"># Genes</text></g>
<g stroke="#000" stroke-width="1.25" stroke-linejoin="round"><path fill="#C9BFAE" d="M1232.1,309h1c.4-.8 1.4-3.3 2.5-5s2.5-3.3 4-5s3.5-3.3 5-5s3.3-3.3 4-5s.9-3.3 .4-5s-2.2-3.2 -3.4-5s-3.1-4.2 -4-6s-1.5-3.3 -1.5-5s.8-3.2 1.5-5s2-3.8 3-6s2.3-4.7 3-7s1.4-4.8 1.4-7s-.5-4.2 -1.4-6s-2.7-3.8 -4-5s-3.3-1.7 -4-2H1225.6c-.7,.3 -2.7,.8 -4,2s-3.1,3.2 -4,5s-1.4,3.8 -1.4,6s.7,4.7 1.4,7s2,4.8 3,7s2.2,4.2 3,6s1.5,3.3 1.5,5s-.6,3.2 -1.5,5s-2.8,4.2 -4,6s-2.9,3.3 -3.4,5s-.3,3.3 .4,5s2.5,3.3 4,5s3.5,3.3 5,5s2.9,3.3 4,5s2.1,4.2 2.5,5z"/><path fill="#4A97BE" d="M1262.4,309h12c.8-.7 3.5-2.5 5-4s3-3.3 4-5s2-3.3 2-5s-1-3.2 -2-5s-2.7-4 -4-6s-3-4 -4-6s-1.5-4.2 -2-6s-1-3.2 -1-5s.4-4 1-6s1.9-3.8 2.5-6s1.1-4.8 1-7s-.8-4.2 -1.5-6s-2.1-3.5 -3-5s-1.9-3 -2.5-4s-.8-1.7 -1-2H1267.9c-.2,.3 -.4,1 -1,2s-1.6,2.5 -2.5,4s-2.2,3.2 -3,5s-1.4,3.8 -1.5,6s.4,4.8 1,7s1.9,4 2.5,6s1,4.2 1,6s-.5,3.2 -1,5s-1,4 -2,6s-2.7,4 -4,6s-3,4.2 -4,6s-2,3.3 -2,5s1,3.3 2,5s2.5,3.5 4,5s4.2,3.3 5,4z"/><path fill="#B5C878" d="M1303.7,309h1c.2-1 .7-3.8 1-6s.6-4.7 1-7s.9-4.5 1.5-7s1.3-5.3 2-8s1.3-5.3 2-8s1.3-5.3 2-8s1.3-5.5 2-8s1.2-4.7 2-7s2.3-4.8 2.6-7s-.3-4.2 -1.1-6s-2.4-3.8 -3.5-5s-2.5-1.7 -3-2H1295.2c-.5,.3 -1.9,.8 -3,2s-2.7,3.2 -3.5,5s-1.4,3.8 -1.1,6s1.8,4.7 2.6,7s1.3,4.5 2,7s1.3,5.3 2,8s1.3,5.3 2,8s1.3,5.3 2,8s1.4,5.5 2,8s1.1,4.7 1.5,7s.7,4.8 1,7s.8,5 1,6z"/><path fill="#92C3D8" d="M1339.5,309h1c.4-.8 1.4-3.3 2.5-5s2.7-3.3 4-5s2.8-3.3 4-5s2.8-3.5 3.5-5s1.1-2.5 .5-4s-2.5-3.2 -4-5s-3.8-4.2 -5-6s-2-3.2 -2-5s1-4 2-6s2.7-3.8 4-6s2.9-4.7 4-7s2.2-4.8 2.4-7s-.3-4.2 -1.4-6s-3.7-3.8 -5-5s-2.5-1.7 -3-2H1333c-.5,.3 -1.7,.8 -3,2s-3.9,3.2 -5,5s-1.6,3.8 -1.4,6s1.3,4.7 2.4,7s2.7,4.8 4,7s3,4 4,6s2,4.2 2,6s-.8,3.2 -2,5s-3.5,4.2 -5,6s-3.4,3.5 -4,5s-.2,2.5 .5,4s2.2,3.3 3.5,5s2.7,3.3 4,5s2.9,3.3 4,5s2.1,4.2 2.5,5z"/><path fill="#4A97BE" d="M1370.8,309h10c1-.7 4.3-2.5 6-4s3.1-3.3 4-5s1.8-3.3 1.6-5s-1.5-3.2 -2.6-5s-2.5-4 -4-6s-3.8-3.8 -5-6s-2-4.7 -2-7s1.2-4.7 2-7s1.9-4.7 2.5-7s1.1-4.8 1-7s-.8-4 -1.5-6s-2.1-4.2 -3-6s-1.9-3.7 -2.5-5s-.8-2.5 -1-3H1375.3c-.2,.5 -.4,1.7 -1,3s-1.6,3.2 -2.5,5s-2.2,4 -3,6s-1.4,3.8 -1.5,6s.4,4.7 1,7s1.8,4.7 2.5,7s2,4.7 2,7s-.8,4.8 -2,7s-3.5,4 -5,6s-2.9,4.2 -4,6s-2.4,3.3 -2.6,5s.7,3.3 1.6,5s2.3,3.5 4,5s5,3.3 6,4z"/><path fill="#13917A" d="M1406.6,309h10c.9-.7 3.9-2.5 5.5-4s3.2-3.3 4-5s1.2-3.3 1-5s-1.4-3.2 -2.5-5s-2.7-4 -4-6s-3-3.8 -4-6s-2-4.7 -2-7s1.2-4.7 2-7s2.2-4.7 3-7s1.4-4.8 1.5-7s-.4-4 -1-6s-1.6-4.2 -2.5-6s-2.3-3.7 -3-5s-.8-2.5 -1-3H1409.6c-.2,.5 -.3,1.7 -1,3s-2.1,3.2 -3,5s-1.9,4 -2.5,6s-1.1,3.8 -1,6s.8,4.7 1.5,7s2.2,4.7 3,7s2,4.7 2,7s-1,4.8 -2,7s-2.7,4 -4,6s-2.9,4.2 -4,6s-2.2,3.3 -2.5,5s.2,3.3 1,5s2.4,3.5 4,5s4.6,3.3 5.5,4z"/><path fill="#EAB323" d="M1447,309h.8c0-1.5 .1-5.8 .2-9s.1-6.7 .2-10s.2-6.7 .4-10s.4-7 .8-10s.8-5.5 1.5-8s1.4-4.8 2.5-7s2.8-4.2 4-6s2.4-3.3 3.5-5s2.7-3.5 3.1-5s.2-2.7 -.6-4s-2.5-3.2 -4-4s-4.2-.8 -5-1H1440.4c-.8,.2 -3.5,.2 -5,1s-3.2,2.7 -4,4s-1,2.5 -.6,4s2,3.3 3.1,5s2.2,3.2 3.5,5s2.9,3.8 4,6s1.8,4.5 2.5,7s1.1,5 1.5,8s.6,6.7 .8,10s.3,6.7 .4,10s.1,6.8 .2,10s.2,7.5 .2,9z"/><path fill="#DD2B2A" d="M1478.2,309h10c.8-.7 3.5-2.5 5-4s3-3.2 4-5s2-4.2 2-6s-1-3.3 -2-5s-2.5-3.3 -4-5s-3.8-3.5 -5-5s-2.2-2.3 -2.5-4s.3-3.8 .5-6s.2-4.7 .5-7s.8-4.7 1-7s.5-4.7 .5-7s-.2-4.8 -.5-7s-1.1-4.3 -1.5-6s-.8-3.2 -1-4s-.4-.8 -.5-1H1481.7c-.1,.2 -.2,.2 -.5,1s-.6,2.3 -1,4s-1.2,3.8 -1.5,6s-.5,4.7 -.5,7s.2,4.7 .5,7s.8,4.7 1,7s.3,4.8 .5,7s.8,4.3 .5,6s-1.2,2.5 -2.5,4s-3.5,3.3 -5,5s-3,3.3 -4,5s-2,3.2 -2,5s1,4.2 2,6s2.5,3.5 4,5s4.2,3.3 5,4z"/><path fill="#4A97BE" d="M1518.5,309h1c.4-.8 1.7-3.2 2.5-5s1.8-4 2.5-6s1-3.8 1.5-6s1-4.7 1.5-7s.9-4.7 1.5-7s1.3-4.7 2-7s1.3-4.8 2-7s1.6-4.2 2-6s.9-3.3 .6-5s-1.5-3.3 -2.6-5s-2.7-3.3 -4-5s-2.8-3.5 -4-5s-2.1-2.7 -3-4s-2.1-3.3 -2.5-4H1518.5c-.4,.7 -1.6,2.7 -2.5,4s-1.8,2.5 -3,4s-2.7,3.3 -4,5s-2.9,3.3 -4,5s-2.3,3.3 -2.6,5s.2,3.2 .6,5s1.3,3.8 2,6s1.3,4.7 2,7s1.4,4.7 2,7s1,4.7 1.5,7s1,4.8 1.5,7s.8,4 1.5,6s1.7,4.2 2.5,6s2.1,4.2 2.5,5z"/><path fill="#5BA9CB" d="M1554.3,309h1c.2-.7 .8-2.5 1.5-4s1.8-3.2 2.5-5s1.6-4.2 2-6s.8-3.3 .5-5s-1.3-3.3 -2-5s-1.8-3.3 -2-5s0-3.2 .5-5s1.6-4 2.5-6s2-4 3-6s2-4 3-6s2.3-4.2 3-6s1.3-3.3 1.4-5s-.2-3.3 -.9-5s-1.9-3.5 -3-5s-2.8-3.2 -3.5-4s-.8-.8 -1-1H1546.8c-.2,.2 -.2,.2 -1,1s-2.4,2.5 -3.5,4s-2.4,3.3 -3,5s-1,3.3 -.9,5s.7,3.2 1.4,5s2,4 3,6s2,4 3,6s2.1,4 3,6s2,4.2 2.5,6s.8,3.3 .5,5s-1.3,3.3 -2,5s-1.8,3.3 -2,5s.1,3.2 .5,5s1.2,4.2 2,6s1.8,3.5 2.5,5s1.2,3.3 1.5,4z"/><path fill="#5BA9CB" d="M1590.1,309h1c.2-.7 .8-2.3 1.5-4s1.8-4 2.5-6s1.2-4 1.5-6s.2-4 0-6s-.8-4 -1-6s-.7-4 -.5-6s.8-3.8 1.5-6s1.8-4.8 3-7s2.8-4 4-6s3.4-4.2 3.4-6s-2.2-3.3 -3.4-5s-2.8-3.3 -4-5s-2.6-3.5 -3.5-5s-1.5-3.2 -2-4s-.8-.8 -1-1H1588.1c-.2,.2 -.5,.2 -1,1s-1.1,2.5 -2,4s-2.2,3.3 -3.5,5s-2.8,3.3 -4,5s-3.4,3.2 -3.4,5s2.2,4 3.4,6s2.8,3.8 4,6s2.2,4.8 3,7s1.3,4 1.5,6s-.2,4 -.5,6s-.8,4 -1,6s-.2,4 0,6s.8,4 1.5,6s1.8,4.3 2.5,6s1.2,3.3 1.5,4z"/><path fill="#13917A" d="M1621.4,308h10c.9-.7 3.9-2.5 5.5-4s3-3.3 4-5s2-3.3 1.9-5s-1.2-3.3 -2.4-5s-3.5-3.3 -5-5s-3-3.3 -4-5s-1.5-3.3 -2-5s-.7-3.2 -.8-5s.1-4 .3-6s.6-3.8 1-6s1.2-4.8 1.5-7s.6-4 .5-6s-.6-4.2 -1-6s-1.1-3.7 -1.5-5s-.8-2.5 -1-3H1624.4c-.2,.5 -.6,1.7 -1,3s-1.1,3.2 -1.5,5s-.9,4 -1,6s.2,3.8 .5,6s1.1,4.8 1.5,7s.8,4 1,6s.4,4.2 .3,6s-.3,3.3 -.8,5s-1,3.3 -2,5s-2.5,3.3 -4,5s-3.8,3.3 -5,5s-2.3,3.3 -2.4,5s.9,3.3 1.9,5s2.4,3.5 4,5s4.6,3.3 5.5,4z"/><path fill="#73A7B8" d="M1659.7,305h5c.2-.7 1.1-2.5 1.5-4s.5-3.2 1-5s1.3-4 2-6s1.5-3.8 2-6s.8-4.7 1-7s.3-4.7 .5-7s.2-4.8 .5-7s.4-4 1-6s1.8-4.2 2.5-6s1.6-3.3 1.9-5s.2-3.3 -.4-5s-2-3.5 -3-5s-2.3-3.2 -3-4s-.8-.8 -1-1H1653.2c-.2,.2 -.3,.2 -1,1s-2,2.5 -3,4s-2.4,3.3 -3,5s-.7,3.3 -.4,5s1.2,3.2 1.9,5s1.9,4 2.5,6s.8,3.8 1,6s.3,4.7 .5,7s.2,4.7 .5,7s.5,4.8 1,7s1.3,4 2,6s1.5,4.2 2,6s.6,3.5 1,5s1.2,3.3 1.5,4z"/><path fill="#E8A0C8" d="M1697.5,309h1c.8-.8 2.9-3.2 4.5-5s3.5-4 5-6s3-4 4-6s1.6-4.2 2-6s.8-3.2 .6-5s-.8-3.8 -1.6-6s-2.1-4.7 -3-7s-1.8-4.7 -2.5-7s-1.4-4.7 -2-7s-1-4.8 -1.5-7s-1-4 -1.5-6s-.8-4.2 -1.5-6s-2.1-4.2 -2.5-5H1697.5c-.4,.8 -1.8,3.2 -2.5,5s-1,4 -1.5,6s-1,3.8 -1.5,6s-.9,4.7 -1.5,7s-1.2,4.7 -2,7s-1.6,4.7 -2.5,7s-2.2,4.8 -3,7s-1.4,4.2 -1.6,6s.2,3.2 .6,5s1,4 2,6s2.5,4 4,6s3.4,4.2 5,6s3.8,4.2 4.5,5z"/><path fill="#4A97BE" d="M1727.8,309h12c.8-.7 3.3-2.5 5-4s4.1-3.3 5-5s.7-3.3 .4-5s-1.7-3.2 -2.4-5s-1.7-4 -2-6s0-4 0-6s-.1-4 0-6s.2-4 .5-6s1.1-4 1.5-6s.9-4 1-6s-.1-4.2 -.5-6s-1.2-3.3 -2-5s-1.9-3.5 -3-5s-2.8-3.2 -3.5-4s-.8-.8 -1-1H1728.8c-.2,.2 -.2,.2 -1,1s-2.4,2.5 -3.5,4s-2.2,3.3 -3,5s-1.6,3.2 -2,5s-.6,4 -.5,6s.6,4 1,6s1.2,4 1.5,6s.4,4 .5,6s0,4 0,6s.3,4 0,6s-1.3,4.2 -2,6s-2.1,3.3 -2.4,5s-.5,3.3 .4,5s3.3,3.5 5,5s4.2,3.3 5,4z"/><path fill="#4A97BE" d="M1765.6,309h8c.8-.7 3.6-2.5 5-4s2.7-3.2 3.5-5s1.5-4.2 1.5-6s-.7-3.3 -1.5-5s-2.2-3.3 -3.5-5s-2.9-3.5 -4-5s-2.3-2.5 -2.5-4s.6-3.2 1.5-5s2.7-4 4-6s2.8-4 4-6s2.3-4.2 3-6s1.5-3.3 1.4-5s-.8-3.3 -1.9-5s-2.9-3.5 -4.5-5s-3.7-2.8 -5-4s-2.5-2.5 -3-3H1767.6c-.5,.5 -1.7,1.8 -3,3s-3.4,2.5 -5,4s-3.4,3.3 -4.5,5s-1.8,3.3 -1.9,5s.7,3.2 1.4,5s1.8,4 3,6s2.7,4 4,6s3.1,4.2 4,6s1.7,3.5 1.5,5s-1.4,2.5 -2.5,4s-2.8,3.3 -4,5s-2.7,3.3 -3.5,5s-1.5,3.2 -1.5,5s.7,4.2 1.5,6s2.1,3.5 3.5,5s4.2,3.3 5,4z"/><path fill="#73A7B8" d="M1802.9,304h5c.3-.7 1.4-2.5 2-4s1-3.2 1.5-5s1-3.8 1.5-6s1.1-4.7 1.5-7s.8-4.7 1-7s.2-4.8 .5-7s.6-4 1-6s.9-4 1.5-6s1.4-4 2-6s1.4-4.2 1.4-6s-.7-3.5 -1.4-5s-1.5-2.8 -2.5-4s-2.2-2.2 -3.5-3s-3.3-1.7 -4-2H1800.4c-.7,.3 -2.8,1.2 -4,2s-2.5,1.8 -3.5,3s-1.8,2.5 -2.5,4s-1.4,3.2 -1.4,5s.8,4 1.4,6s1.4,4 2,6s1.1,4 1.5,6s.8,3.8 1,6s.2,4.7 .5,7s.6,4.7 1,7s1,4.8 1.5,7s1,4.2 1.5,6s.9,3.5 1.5,5s1.7,3.3 2,4z"/><path fill="#5590D8" d="M1837.2,308h8c1-.5 4.3-1.7 6-3s2.9-3.5 4-5s2.4-2.7 2.4-4s-1.3-2.7 -2.4-4s-2.7-2.7 -4-4s-2.8-2.7 -4-4s-2.2-2.5 -3-4s-1.1-3.3 -1.5-5s-.6-3.2 -.7-5s.1-3.8 .2-6s.3-4.7 .5-7s.5-5 .7-7s.3-3.3 .3-5s-.2-3.5 -.5-5s-.7-3 -1-4s-.6-1.7 -.7-2H1840.8c-.1,.3 -.3,1 -.6,2s-.8,2.5 -1,4s-.5,3.3 -.5,5s.1,3 .3,5s.5,4.7 .7,7s.4,4.8 .5,7s.3,4.2 .2,6s-.3,3.3 -.7,5s-.8,3.5 -1.5,5s-1.8,2.7 -3,4s-2.7,2.7 -4,4s-2.9,2.7 -4,4s-2.4,2.7 -2.4,4s1.3,2.5 2.4,4s2.3,3.7 4,5s5,2.5 6,3z"/><path fill="#D6DFDD" d="M1874.7,303h4.6c0-.8 .1-3.2 .2-5s.1-4.2 .3-6s.2-3.3 .7-5s1.5-3.3 2.5-5s2.4-3.3 3.5-5s2.2-3.2 3-5s1.5-3.8 2-6s.8-4.7 1-7s-.1-4.7 0-7s.5-4.8 .5-7s.3-4.2 -.2-6s-1.8-3.7 -2.8-5s-2.3-2.3 -3-3s-.8-.8 -1-1H1868c-.2,.2 -.3,.3 -1,1s-2,1.7 -3,3s-2.3,3.2 -2.8,5s-.2,3.8 -.2,6s.4,4.7 .5,7s-.2,4.7 0,7s.5,4.8 1,7s1.2,4.2 2,6s1.9,3.3 3,5s2.5,3.3 3.5,5s2,3.3 2.5,5s.5,3.2 .7,5s.2,4.2 .3,6s.2,4.2 .2,5z"/><path fill="#73A7B8" d="M1912.3,309h1c.5-.8 2.1-3.3 3-5s1.7-3.3 2.5-5s1.8-3.3 2.5-5s1.2-3.2 1.5-5s.4-4 .5-6s0-3.8 0-6s-.1-4.8 0-7s.1-4 .5-6s1.2-4 2-6s1.9-4.2 2.5-6s.9-3.2 .9-5s-.2-4.2 -.9-6s-2-3.5 -3-5s-2.2-3 -3-4s-1.2-1.7 -1.5-2H1904.8c-.2,.3 -.8,1 -1.5,2s-2,2.5 -3,4s-2.4,3.2 -3,5s-.9,4.2 -.9,6s.3,3.2 .9,5s1.8,4 2.5,6s1.6,4 2,6s.4,3.8 .5,6s0,4.8 0,7s-.1,4 0,6s.2,4.2 .5,6s.8,3.3 1.5,5s1.7,3.3 2.5,5s1.6,3.3 2.5,5s2.5,4.2 3,5z"/><path fill="#4E5B85" d="M1942.6,309h12c.8-.7 3.3-2.5 5-4s4.3-3.5 5-5s-.2-2.5 -1-4s-2.7-3.2 -4-5s-2.9-4.2 -4-6s-1.8-3.3 -2.5-5s-1.1-3.3 -1.5-5s-.8-2.8 -1-5s-.1-5.3 -.2-8s-.1-5.3 -.1-8s-.1-5.3 -.1-8s0-5.8 -.1-8s-.1-3.7 -.3-5s-.6-2.5 -.7-3H1948.1c-.1,.5 -.5,1.7 -.7,3s-.2,2.8 -.3,5s-.1,5.3 -.1,8s-.1,5.3 -.1,8s-.1,5.3 -.1,8s0,5.8 -.2,8s-.6,3.3 -1,5s-.8,3.3 -1.5,5s-1.4,3.2 -2.5,5s-2.7,4.2 -4,6s-3.2,3.5 -4,5s-1.7,2.5 -1,4s3.3,3.5 5,5s4.2,3.3 5,4z"/><path fill="#A31F30" d="M1983.9,309h1c.6-.7 1.9-2.5 3.5-4s4-3.2 6-5s5.2-4.2 6-6s-.2-3.3 -1-5s-2.3-3.3 -3.5-5s-2.6-3.2 -3.5-5s-1.4-4 -2-6s-1.1-4 -1.5-6s-.7-3.8 -1-6s-.5-4.7 -.7-7s-.2-4.7 -.3-7s-.2-4.8 -.2-7s-.1-4.3 -.1-6s-.2-3.3 -.2-4H1982.4c0,.7 -.2,2.3 -.2,4s-.1,3.8 -.1,6s-.1,4.7 -.2,7s-.1,4.7 -.3,7s-.4,4.8 -.7,7s-.6,4 -1,6s-.9,4 -1.5,6s-1.1,4.2 -2,6s-2.3,3.3 -3.5,5s-2.8,3.3 -3.5,5s-1.8,3.2 -1,5s4,4.2 6,6s4.4,3.5 6,5s2.9,3.3 3.5,4z"/><path fill="#8BB5AA" d="M2013.7,301h13c.8-.5 3.1-1.8 4.5-3s3.1-2.5 4-4s1.2-3.3 1.4-5s.2-3.3 -.4-5s-2-3.2 -3-5s-2.2-4 -3-6s-1.4-3.8 -2-6s-1.1-4.7 -1.5-7s-.7-4.7 -1-7s-.7-4.7 -1-7s-.5-4.8 -.7-7s-.5-4.5 -.6-6s-.2-2.5 -.2-3H2017.2c0,.5 -.1,1.5 -.2,3s-.4,3.8 -.6,6s-.4,4.7 -.7,7s-.7,4.7 -1,7s-.6,4.7 -1,7s-.9,4.8 -1.5,7s-1.2,4 -2,6s-2,4.2 -3,6s-2.4,3.3 -3,5s-.6,3.3 -.4,5s.5,3.5 1.4,5s2.6,2.8 4,4s3.8,2.5 4.5,3z"/><path fill="#13917A" d="M2051,309h10c1-.7 4.3-2.5 6-4s3.1-3.2 4-5s1.4-4.2 1.4-6s-.5-3.3 -1.4-5s-2.6-3.3 -4-5s-3.2-3.3 -4.5-5s-2.5-3.3 -3-5s-.2-3.2 0-5s.9-4 1.5-6s1.3-4 2-6s1.5-4 2-6s.8-4 1-6s.1-4.2 0-6s-.3-3.5 -.5-5s-.4-3.3 -.5-4H2047c-.1,.7 -.3,2.5 -.5,4s-.4,3.2 -.5,5s-.2,4 0,6s.5,4 1,6s1.3,4 2,6s1.4,4 2,6s1.2,4.2 1.5,6s.5,3.3 0,5s-1.8,3.3 -3,5s-3.1,3.3 -4.5,5s-3.1,3.3 -4,5s-1.4,3.2 -1.4,5s.5,4.2 1.4,6s2.3,3.5 4,5s5,3.3 6,4z"/><path fill="#4A97BE" d="M2091.3,308h1c.6-.5 1.9-1.8 3.5-3s3.9-2.7 6-4s6.1-2.7 6.4-4s-2.8-2.7 -4.4-4s-3.7-2.7 -5-4s-2.2-2.7 -3-4s-1.1-2.5 -1.5-4s-.5-3.2 -.7-5s-.2-3.7 -.3-6s-.1-5.3 -.3-8s-.6-6.7 -.7-8H2091.3c-.1,1.3 -.5,5.3 -.7,8s-.2,5.7 -.3,8s-.1,4.2 -.3,6s-.3,3.5 -.7,5s-.8,2.7 -1.5,4s-1.7,2.7 -3,4s-3.4,2.7 -5,4s-4.7,2.7 -4.4,4s4.3,2.7 6.4,4s4.4,2.8 6,4s2.9,2.5 3.5,3z"/><path fill="#EAB323" d="M2123.6,264h8c.5-.3 2.2-1.2 3-2s1.2-2 1.5-3s-.1-2 .5-3s1.8-2 3-3s3.5-2 4-3s0-2 -1-3s-3.7-2 -5-3s-2.2-2 -3-3s-1.3-2 -2-3s-1.7-2.5 -2-3H2124.6c-.3,.5 -1.3,2 -2,3s-1.2,2 -2,3s-1.7,2 -3,3s-4,2 -5,3s-1.5,2 -1,3s2.8,2 4,3s2.4,2 3,3s.2,2 .5,3s.8,2.2 1.5,3s2.5,1.7 3,2z"/></g>
<path d="M1211 225V312.5M1210.5 312H2149.8" stroke="#222" stroke-width="1.1" fill="none"/>
<path d="M1207 230H1211M1207 255H1211M1207 283H1211M1207 308H1211M1232.6 312V315.5M1268.4 312V315.5M1304.2 312V315.5M1340 312V315.5M1375.8 312V315.5M1411.6 312V315.5M1447.4 312V315.5M1483.2 312V315.5M1519 312V315.5M1554.8 312V315.5M1590.6 312V315.5M1626.4 312V315.5M1662.2 312V315.5M1698 312V315.5M1733.8 312V315.5M1769.6 312V315.5M1805.4 312V315.5M1841.2 312V315.5M1877 312V315.5M1912.8 312V315.5M1948.6 312V315.5M1984.4 312V315.5M2020.2 312V315.5M2056 312V315.5M2091.8 312V315.5M2127.6 312V315.5" stroke="#222" stroke-width="1" fill="none"/>
<g font-size="15" text-anchor="end" fill="#111"><text x="1206" y="235.2">30</text><text x="1206" y="260.2">10</text><text x="1206" y="288.2">3</text><text x="1206" y="313.2">1</text></g>
<g font-size="16.5" text-anchor="middle" font-weight="bold"><text x="1150" y="268" transform="rotate(-90 1150 268)">% mito</text></g>
<g font-size="13.2" text-anchor="end" fill="#111"><text x="1237" y="330" transform="rotate(-18.5 1237 330)">Neuro1</text><text x="1272.8" y="330" transform="rotate(-18.5 1272.8 330)">Dopaminergic1</text><text x="1308.6" y="330" transform="rotate(-18.5 1308.6 330)">Neuro2</text><text x="1344.4" y="330" transform="rotate(-18.5 1344.4 330)">Dopaminergic2</text><text x="1380.2" y="330" transform="rotate(-18.5 1380.2 330)">Dopaminergic3</text><text x="1416" y="330" transform="rotate(-18.5 1416 330)">Glutamatergic2</text><text x="1451.8" y="330" transform="rotate(-18.5 1451.8 330)">Glial1</text><text x="1487.6" y="330" transform="rotate(-18.5 1487.6 330)">Cholinergic1</text><text x="1523.4" y="330" transform="rotate(-18.5 1523.4 330)">Dopaminergic4</text><text x="1559.2" y="330" transform="rotate(-18.5 1559.2 330)">Dopaminergic5</text><text x="1595" y="330" transform="rotate(-18.5 1595 330)">Dopaminergic6</text><text x="1630.8" y="330" transform="rotate(-18.5 1630.8 330)">Glutamatergic1</text><text x="1666.6" y="330" transform="rotate(-18.5 1666.6 330)">Dopaminergic7</text><text x="1702.4" y="330" transform="rotate(-18.5 1702.4 330)">Blood</text><text x="1738.2" y="330" transform="rotate(-18.5 1738.2 330)">Dopaminergic8</text><text x="1774" y="330" transform="rotate(-18.5 1774 330)">Dopaminergic9</text><text x="1809.8" y="330" transform="rotate(-18.5 1809.8 330)">Dopaminergic10</text><text x="1845.6" y="330" transform="rotate(-18.5 1845.6 330)">Inhibitory1</text><text x="1881.4" y="330" transform="rotate(-18.5 1881.4 330)">White body</text><text x="1917.2" y="330" transform="rotate(-18.5 1917.2 330)">Dopaminergic11</text><text x="1953" y="330" transform="rotate(-18.5 1953 330)">Inhibitory2</text><text x="1988.8" y="330" transform="rotate(-18.5 1988.8 330)">Cholinergic2</text><text x="2024.6" y="330" transform="rotate(-18.5 2024.6 330)">Monoaminergic</text><text x="2060.4" y="330" transform="rotate(-18.5 2060.4 330)">Glutamatergic3</text><text x="2096.2" y="330" transform="rotate(-18.5 2096.2 330)">Dopaminergic12</text><text x="2132" y="330" transform="rotate(-18.5 2132 330)">Glial2</text></g>
<path d="M1267.4 398.6L1269.1 400.3L1260.6 404.3L1253.8 408.8L1250.9 416.7L1251.5 424.6L1252.6 432.6L1257.2 438.2L1264.5 443.3L1264 445.6L1259.4 443.9L1249.2 438.2L1243.6 433.7L1244.2 429.2L1247.5 422.4L1247.5 415.6L1250.4 408.8L1256 403.7z" fill="#5BA9CB" stroke="#5BA9CB" stroke-width="1.6" stroke-linejoin="round"/>
<path transform="translate(1233.6 390.4)" d="M35 10zm0-2zm0 3zm0 0zm-1 0zm-1 0zm-2-2zm-2 1zm-1 1zm-4 0zm-5 6zm3-2zm1-2zm3 2zm0-1zm1-1zm0 2zm4-2zm-13 10zm0-1zm0 1zm0-1zm-4 4zm0-1zm2 2zm1 1zm0 0zm1-4zm0 1zm1-1zm-1 11zm-4-5zm-1 5zm-2 3zm1-1zm0 1zm0-1zm3 4zm4-4zm0 3zm0 2zm-4 5zm-2-2zm-1 0zm-1-1zm-1-1zm0-1zm0 3zm5 3zm1 0zm3 2zm2-1zm3 3zm1-4zm3 2zm1 2zm1 2zm-1 1z" stroke="#5BA9CB" stroke-width="2.2" stroke-linecap="round" fill="none"/>
<path d="M1360.2 404.3L1364.8 403.1L1373.8 402L1385.1 406.5L1394.2 411L1398.7 416.7L1401 424.6L1398.7 431.4L1391.9 430.3L1382.9 424.6L1373.8 420.1L1362.5 417.8L1360.2 412.2z" fill="#4E9CC2" stroke="#4E9CC2" stroke-width="1.6" stroke-linejoin="round"/>
<path transform="translate(1233.6 390.4)" d="M127 16zm4-4zm0 0zm3 0zm2 1zm1-1zm3 0zm0 0zm1 0zm1 1zm3 3zm1-3zm4 3zm12 5zm-3-1zm-1-1zm-2 0zm0 0zm-1 0zm-7 4zm-8-1zm-12-4zm-1 5zm-1-5zm1 6zm2 1zm2 1zm0 2zm1-1zm0 1zm2 0zm0 1zm0-2zm4 1zm25-2zm1 0zm2 0zm1 6zm0 3zm0-1zm-1-2zm-19 0zm-1-1zm0 3zm-2-3zm-7 0zm14 5zm2 0zm1 2zm7 2zm3 0zm3-4zm0 2zm1-1z" stroke="#4E9CC2" stroke-width="2.2" stroke-linecap="round" fill="none"/>
<path transform="translate(1233.6 390.4)" d="M96 41zm-2 4zm0 8zm1 0zm1 6zm-1-2zm0 2zm-1-4zm-1-1zm-5 6zm3 5zm4 1zm-4 3zm-27-1zm0 2zm-2-1zm11 7zm3-1zm1-1zm2 1zm2-1zm1-2zm3 1zm4 1zm1 2zm8 1zm1-4zm2 3zm3 4zm-2-1zm0 0zm-1 3zm-11-1zm0 1zm-3-2zm-6 0zm-1-1zm9 8zm2-3zm7 5z" stroke="#92C3D8" stroke-width="2.2" stroke-linecap="round" fill="none"/>
<path d="M1413.4 434.8L1424.8 432.6L1432.7 430.3L1439.5 432.6L1439.5 439.4L1436.1 445L1430.4 445L1425.9 440.5L1419.1 440.5L1413.4 439.4z" fill="#4E9CC2" stroke="#4E9CC2" stroke-width="1.6" stroke-linejoin="round"/>
<path transform="translate(1233.6 390.4)" d="M200 41zm0-1zm6 3zm0 0zm0 2zm-1-1zm-1-2zm-13 1zm-6 0zm-5 1zm0 6zm0-1zm4 0zm2 1zm0-1zm4 1zm0 0zm0 0zm2 0zm0-2zm1 3zm1-1zm0 1zm3 0zm6 2zm1 0zm0-3zm0 4zm-5 2zm-1-1zm-3-1z" stroke="#4E9CC2" stroke-width="2.2" stroke-linecap="round" fill="none"/>
<path d="M1422.5 449L1429.3 448.4L1433.3 450.7L1432.7 456.3L1428.2 456.3L1427 451.8L1422.5 450.7z" fill="#4E9CC2" stroke="#4E9CC2" stroke-width="1.6" stroke-linejoin="round"/>
<path transform="translate(1233.6 390.4)" d="M198 58zm0 0zm-2 1zm-1-1zm-1 1zm-5-1zm0 1zm0 1zm4 1zm5-1zm1 5zm0 0zm-1 1z" stroke="#4E9CC2" stroke-width="2.2" stroke-linecap="round" fill="none"/>
<path d="M1380 450.1L1386.3 446.1L1387.4 447.8L1381.2 451.8z" fill="#6A8FD0" stroke="#6A8FD0" stroke-width="1.6" stroke-linejoin="round"/>
<path transform="translate(1233.6 390.4)" d="M154 59zm0-2zm-2 2zm-5-1zm1 4zm1-1zm2-1z" stroke="#6A8FD0" stroke-width="2.2" stroke-linecap="round" fill="none"/>
<path d="M1406.1 439.9L1411.2 439.1L1411.4 441.6L1406.7 442.2z" fill="#6A8FD0" stroke="#6A8FD0" stroke-width="1.6" stroke-linejoin="round"/>
<path transform="translate(1233.6 390.4)" d="M174 53zm2-4zm1 0zm0 0zm1 1zm0 2z" stroke="#6A8FD0" stroke-width="2.2" stroke-linecap="round" fill="none"/>
<path d="M1397 452.9L1401 450.1L1405 452.9L1405.5 459.7L1402.1 461.4L1397 460.3z" fill="#13917A" stroke="#13917A" stroke-width="1.6" stroke-linejoin="round"/>
<path transform="translate(1233.6 390.4)" d="M162 64zm2-2zm4-2zm1 0zm2 5zm0 0zm1-2zm-1 7zm-1-4zm0 4zm-4 1zm-3-3zm5 4z" stroke="#13917A" stroke-width="2.2" stroke-linecap="round" fill="none"/>
<path transform="translate(1233.6 390.4)" d="M125 76zm1 1zm1-1zm1 1zm3-2zm1 2zm4 0zm1 0zm1 0zm0 3zm-2 3zm-1-5zm0 0zm-2 2zm0 0zm-1-2zm0 2zm-1 1zm-1-3zm0 1zm-1 2zm-1 0zm0-2zm-1 0zm-1 0zm-1 3zm-1-1zm0 0zm0-2zm-1 3zm0 1zm0-5zm0 4zm-1 0zm-2-2zm-1 0zm-1 0zm0 0zm-1 3zm-1-4zm-1 3zm-1 2zm1 4zm4 1zm0 0zm0-4zm0-1zm1 0zm0 4zm0-2zm2 0zm1 1zm0 1zm0-1zm0 0zm1-2zm0-1zm0 2zm1 2zm0-3zm1 0zm0 4zm1 0zm0-4zm0 4zm1 0zm0-1zm0-3zm2 0zm1 1zm0 3zm2 0zm2-3zm0 1zm0-3zm1 2zm-1 4zm-1 1zm-1 0zm-1 1zm0-1zm-2 1zm0-1zm-4-1zm-1 0zm-1 0zm-2 1zm0-1zm-1 3zm-4-2z" stroke="#B5C878" stroke-width="2.2" stroke-linecap="round" fill="none"/>
<path d="M1299.1 493.7L1305.9 492.6L1312.7 493.7L1317.2 497.1L1314.9 499.4L1305.9 498.2L1300.2 496z" fill="#B5C878" stroke="#B5C878" stroke-width="1.6" stroke-linejoin="round"/>
<path transform="translate(1233.6 390.4)" d="M82 107zm-1-2zm0-1zm0 1zm-3-2zm-1 0zm0-1zm-1 0zm-2 0zm-3 1zm-3 0zm-1 2zm8 4zm2 0zm2 0zm2 0z" stroke="#B5C878" stroke-width="2.2" stroke-linecap="round" fill="none"/>
<path transform="translate(1233.6 390.4)" d="M115 95zm-2-5zm0 2zm0 3zm-1-5zm-2 2zm-2 3zm0-4zm-2 3zm-5-2zm0 3zm-1-4zm-1 3zm-5 1zm0 0zm0-1zm-1 1zm-4 0zm-2-1zm-4 5zm1-2zm1 4zm0-2zm1 2zm2-2zm0 2zm5 0zm0-4zm1-1zm0 5zm0-4zm0 4zm0-4zm1 2zm2 0zm2 1zm0-4zm4 5zm1-2zm1 1zm1-2zm0 3zm0 0zm0-4zm1 2zm3 0zm3 0zm1-2zm2 2zm0 0zm0-1zm2 1zm-2 5zm-1 2zm-2 0zm-3-3zm0 1zm-2 0zm0 2zm-1 0zm0 0zm-1-2zm0 0zm0-2zm-3 5zm-2-3zm-1 2zm0-3zm0 3zm-3-2zm-2 1zm-3-1zm-1 3zm-2-1zm-1-3zm-3 0zm0 4zm0 0zm-3-5zm0 2zm0-2zm4 6zm1 0zm4 2zm0-2zm1 0zm1 3zm0-1zm1 2zm0 1zm2-2zm1 2zm3-2zm3-2zm0 2zm1 0zm0 2zm4-1zm0-2zm2 3zm1 0zm0-2zm2-1zm0 3zm-3 1zm-5 0zm-1 0zm-2 2zm-6 1zm0-2z" stroke="#C9BFAE" stroke-width="2.2" stroke-linecap="round" fill="none"/>
<path d="M1360.2 484.7L1367 483.5L1373.8 484.7L1379.5 483.5L1382.9 486.9L1380.6 492.6L1373.8 496L1371.5 493.7L1368.1 490.3L1361.4 488z" fill="#E8A0C8" stroke="#E8A0C8" stroke-width="1.6" stroke-linejoin="round"/>
<path transform="translate(1233.6 390.4)" d="M147 95zm-1-1zm-1-2zm-2 1zm0 0zm0 0zm-1 1zm-1 1zm0 0zm-1-2zm-9 1zm-2 0zm-2 1zm-1 0zm0-2zm2 6zm16 1zm4-4zm0 4zm0-4zm2 2zm0-2zm-6 7zm-2 1zm-5-2z" stroke="#E8A0C8" stroke-width="2.2" stroke-linecap="round" fill="none"/>
<path transform="translate(1233.6 390.4)" d="M181 89zm4 0zm0-2zm5 6zm-1-2zm0 4zm-5-2zm-5-2zm-33 1zm-6 3zm17 4zm0-2zm0 2zm6-1zm0 2zm1-4zm5 2zm0-1zm1 4zm2 0zm2-5zm5 1zm5 1zm1-1zm-18 5z" stroke="#EAB323" stroke-width="2.2" stroke-linecap="round" fill="none"/>
<path transform="translate(1233.6 390.4)" d="M176 105zm1 4zm0 2zm3-3zm2 2z" stroke="#EAB323" stroke-width="2.2" stroke-linecap="round" fill="none"/>
<path d="M1266.2 481.3L1274.2 477.9L1278.7 480.1L1281 486.9L1276.4 491.4L1270.8 490.3L1267.4 484.7z" fill="#DD2B2A" stroke="#DD2B2A" stroke-width="1.6" stroke-linejoin="round"/>
<path transform="translate(1233.6 390.4)" d="M34 89zm5-1zm6 1zm1 5zm-1-3zm-2 0zm-8 0zm-1 0zm0 0zm-1 2zm0-2zm2 5zm0 1zm7 2zm2-1zm1-2zm0 3zm1-3zm1 2z" stroke="#DD2B2A" stroke-width="2.2" stroke-linecap="round" fill="none"/>
<path d="M1265.1 498.2L1268.5 492.6L1275.3 490.3L1283.2 492.6L1287.7 497.1L1286.6 501.6L1278.7 503.9L1269.6 503.9L1265.1 501.6z" fill="#13917A" stroke="#13917A" stroke-width="1.6" stroke-linejoin="round"/>
<path transform="translate(1233.6 390.4)" d="M36 100zm1 1zm4 0zm1-1zm0 1zm1-1zm1 0zm3 1zm1 0zm0 0zm6 5zm-4-3zm-7 4zm-6-5zm-1 3zm-5 4zm2 3zm1 0zm2 1zm7-1zm1 1zm1 0zm9-2zm0-3zm-6 6zm-8 0z" stroke="#13917A" stroke-width="2.2" stroke-linecap="round" fill="none"/>
<path transform="translate(1233.6 390.4)" d="M48 89zm1 0zm1 0zm3 0zm4-1zm2 1zm4 0zm0 2zm-1 3zm-1 0zm0-4zm-1 5zm0-1zm0-1zm0 1zm-3-1zm0-1zm-1 0zm0 1zm-1-1zm0-1zm0-1zm-1 0zm0 0zm0 2zm0 1zm-1-3zm0 4zm0 0zm0-2zm-1-1zm-2 3zm0 0zm0 1zm-1-5zm-2 0zm-1 0zm-1 2zm3 5zm0 1zm0-1zm0 1zm1-2zm0 1zm0 0zm1-1zm0 0zm1 1zm0 3zm3 0zm1-1zm1-1zm0 1zm1 1zm0-3zm0-1zm2 0zm1 3zm0-2zm1 2z" stroke="#B5C878" stroke-width="2.2" stroke-linecap="round" fill="none"/>
<path d="M1384 510.7L1387.4 506.2L1394.2 503.9L1396.5 506.2L1393.1 509.6L1387.4 511.8z" fill="#D6DFDD" stroke="#D6DFDD" stroke-width="1.6" stroke-linejoin="round"/>
<path transform="translate(1233.6 390.4)" d="M157 113zm3 0zm3 3zm-3 2zm-6-2zm-1 1zm0 5zm2-1zm1-1zm1 1zm2-1zm1 0z" stroke="#D6DFDD" stroke-width="2.2" stroke-linecap="round" fill="none"/>
<path d="M1290 560.5L1296.8 557.1L1305.9 551.5L1309.8 552L1305.9 556L1296.8 561.7L1292.3 567.3L1290 566.2z" fill="#73A7B8" stroke="#73A7B8" stroke-width="1.6" stroke-linejoin="round"/>
<path transform="translate(1233.6 390.4)" d="M74 161zm-1 5zm-2 0zm0 0zm-1 0zm0-4zm-1 2zm-1-1zm-5 3zm-6 4zm3-1zm1 0zm1 3zm0 1zm1-5zm0 0zm2 2zm0 1zm3-3zm-8 7zm-4-1zm0 0zm0 0z" stroke="#73A7B8" stroke-width="2.2" stroke-linecap="round" fill="none"/>
<path d="M1307.6 563.9L1314.9 563.9L1316.1 566.2L1308.1 567.3z" fill="#73A7B8" stroke="#73A7B8" stroke-width="1.6" stroke-linejoin="round"/>
<path transform="translate(1233.6 390.4)" d="M80 173zm1 1zm-1 4zm-2-4zm-1 0zm-1 2zm-2 0zm0-2z" stroke="#73A7B8" stroke-width="2.2" stroke-linecap="round" fill="none"/>
<path d="M1317.8 558.3L1322.9 557.1L1329.6 562.8L1328.5 565.1L1321.7 568.4L1319.5 566.2L1324 562.8L1318.3 560.5z" fill="#73A7B8" stroke="#73A7B8" stroke-width="1.6" stroke-linejoin="round"/>
<path transform="translate(1233.6 390.4)" d="M87 167zm-2 0zm-1 2zm3 1zm1 2zm5-2zm0 1zm2 1zm0-1zm2 2zm-3 2zm-2 1zm0 0zm-3-1zm0 3zm-1 0zm-2-3z" stroke="#73A7B8" stroke-width="2.2" stroke-linecap="round" fill="none"/>
<path d="M1353.4 562.8L1359.1 565.1L1365.9 566.2L1364.8 568.4L1354.6 565.1z" fill="#73A7B8" stroke="#73A7B8" stroke-width="1.6" stroke-linejoin="round"/>
<path transform="translate(1233.6 390.4)" d="M119 173zm1 0zm6 0zm6 3zm-3-2zm-2 2zm-2-1zm-1 0zm0 1zm-1-1zm-1-1z" stroke="#73A7B8" stroke-width="2.2" stroke-linecap="round" fill="none"/>
<path d="M1368.1 523.7L1371 523.7L1372.1 531.1L1369.5 531.3z" fill="#73A7B8" stroke="#73A7B8" stroke-width="1.6" stroke-linejoin="round"/>
<path transform="translate(1233.6 390.4)" d="M134 135zm1-1zm0 0zm2 1zm0 2zm2 2zm-2 2zm-1 0z" stroke="#73A7B8" stroke-width="2.2" stroke-linecap="round" fill="none"/>
<path d="M1399.6 532.6L1401.2 532.6L1401.2 534.3L1399.6 534.3z" fill="#A31F30" stroke="#A31F30" stroke-width="1.6" stroke-linejoin="round"/>
<path transform="translate(1233.6 390.4)" d="M169 143zm-1 0z" stroke="#A31F30" stroke-width="2.2" stroke-linecap="round" fill="none"/>
<path d="M1269.4 517.3L1271 517.3L1271 518.8L1269.4 518.8z" fill="#73A7B8" stroke="#73A7B8" stroke-width="1.6" stroke-linejoin="round"/>
<path transform="translate(1233.6 390.4)" d="M36 126zm0 1z" stroke="#73A7B8" stroke-width="2.2" stroke-linecap="round" fill="none"/>
<path d="M1233.6 576.2H1448" stroke="#111" stroke-width="1.6" fill="none"/>
<g font-size="15" text-anchor="middle" font-weight="bold"><text x="1340.4" y="385">Kakeya_OL</text></g>
<path d="M1490 398.6L1491.7 400.3L1483.2 404.3L1476.4 408.8L1473.5 416.7L1474.1 424.6L1475.2 432.6L1479.8 438.2L1487.1 443.3L1486.6 445.6L1482 443.9L1471.8 438.2L1466.2 433.7L1466.8 429.2L1470.1 422.4L1470.1 415.6L1473 408.8L1478.6 403.7z" fill="#5BA9CB" stroke="#5BA9CB" stroke-width="1.6" stroke-linejoin="round"/>
<path transform="translate(1456.2 390.4)" d="M35 11zm-1 0zm0 0zm-4-1zm-14 7zm4-2zm0 1zm2 1zm2-5zm3 0zm5 0zm2 0zm-13 6zm-1 0zm-2 2zm0 2zm0-4zm-1 1zm-1-1zm0 4zm-1-4zm0 0zm-2 7zm1 4zm4-5zm0 0zm1 0zm0 0zm-4 6zm-1 5zm0-3zm-2 3zm-2 5zm2-4zm1 0zm5 1zm5 10zm0 0zm0 0zm-1-1zm0-1zm-2 2zm0-4zm-1-1zm-3 5zm-4-1zm-1-1zm4 3zm2 0zm1 2zm1 0zm3 2zm0-1zm9 4zm-1-1zm-3 1zm0-1zm-1 0z" stroke="#5BA9CB" stroke-width="2.2" stroke-linecap="round" fill="none"/>
<path d="M1582.8 404.3L1587.4 403.1L1596.4 402L1607.7 406.5L1616.8 411L1621.3 416.7L1623.6 424.6L1621.3 431.4L1614.5 430.3L1605.5 424.6L1596.4 420.1L1585.1 417.8L1582.8 412.2z" fill="#4E9CC2" stroke="#4E9CC2" stroke-width="1.6" stroke-linejoin="round"/>
<path transform="translate(1456.2 390.4)" d="M140 11zm0 0zm-13 3zm0 0zm1-1zm1 0zm0 0zm1-1zm1 0zm0 1zm2-1zm2 0zm3 1zm4 0zm0 0zm0-1zm0 4zm3-2zm0-2zm4 4zm4 1zm10 6zm-2-1zm-2-3zm-17 2zm-4 0zm-12-3zm0 1zm2 5zm13 0zm0 2zm10 3zm13-5zm1 2zm0 2zm0-2zm1 1zm0 7zm-18 0zm-2-3zm-1 0zm-1 1zm-1-1zm-3-1zm14 7zm0 0zm0 0zm3 3zm2-1zm3 2zm2-1zm1-1zm1-2zm1 0z" stroke="#4E9CC2" stroke-width="2.2" stroke-linecap="round" fill="none"/>
<path d="M1571.5 403.7L1579.4 406.5L1584 404.8L1585.1 417.8L1577.2 416.7L1573.8 412.2z" fill="#4E9CC2" stroke="#4E9CC2" stroke-width="1.6" stroke-linejoin="round"/>
<path transform="translate(1456.2 390.4)" d="M115 14zm1-1zm0 3zm1 0zm2-2zm2 1zm1 1zm4 1zm2 0zm1 0zm1 6zm-1-5zm-1 5zm-9 0zm0 0zm0 1zm1 1zm8 2zm0-1zm0 1zm0-3z" stroke="#4E9CC2" stroke-width="2.2" stroke-linecap="round" fill="none"/>
<path d="M1573.8 412.2L1577.2 415.6L1568.1 419L1560.2 423.5L1554.5 429.2L1551.1 428L1556.8 421.2L1564.7 415.6z" fill="#4E9CC2" stroke="#4E9CC2" stroke-width="1.6" stroke-linejoin="round"/>
<path transform="translate(1456.2 390.4)" d="M118 22zm-1 0zm0-1zm-3 2zm-12 6zm0 0zm2-1zm7-3zm1-1zm2 0zm1 2zm1 3zm0-3zm1-1zm2 1zm0-2zm1 0zm-13 8zm-1 0zm-1 1zm-1 1zm-2 1zm0-5zm-6 8zm4 0zm0-1zm0-1z" stroke="#4E9CC2" stroke-width="2.2" stroke-linecap="round" fill="none"/>
<path d="M1551.7 428.6L1554.7 429.4L1551.7 436L1550.9 443.9L1554.5 452.9L1559 464.3L1562.4 471.1L1561.3 479L1554.5 484.7L1547.7 481.3L1543.2 474.5L1535.3 471.1L1528.5 467.7L1521.7 463.1L1517.7 457.5L1521.7 457.5L1528.5 462L1535.3 463.1L1540.9 458.6L1541.5 450.7L1544.9 441.6L1548.3 433.7z" fill="#92C3D8" stroke="#92C3D8" stroke-width="1.6" stroke-linejoin="round"/>
<path transform="translate(1456.2 390.4)" d="M98 38zm1 1zm0 0zm-1 4zm-2 2zm0-2zm0 3zm-1-2zm0-2zm-2 1zm-1 3zm-2 0zm-3 7zm1-4zm2-1zm0 0zm1 1zm1 4zm3-5zm0 4zm1 3zm-1-1zm-1 0zm-6 0zm0 1zm-1 1zm-1 3zm2 2zm10 1zm0-2zm4 11zm-1-3zm-16-2zm0 0zm-2 3zm-1 2zm-8 0zm-4-1zm-3-1zm-1 0zm0-2zm-2 0zm-2 1zm4 4zm2 2zm5-2zm1 5zm2-5zm4 0zm7 1zm8 4zm7-2zm1 0zm1-3zm0 4zm2 6zm-19 1zm-1-1zm-2 1zm-1-2zm-2 1zm-2-3zm4 5zm2 1zm1-1zm0 0zm1 1zm1 0zm1 4zm0-2zm0-1zm1 2zm0-2zm14-1zm1-1zm1 1zm-2 5zm-1 1zm-1 1zm-7 1zm-3-3z" stroke="#92C3D8" stroke-width="2.2" stroke-linecap="round" fill="none"/>
<path d="M1636 434.8L1647.4 432.6L1655.3 430.3L1662.1 432.6L1662.1 439.4L1658.7 445L1653 445L1648.5 440.5L1641.7 440.5L1636 439.4z" fill="#4E9CC2" stroke="#4E9CC2" stroke-width="1.6" stroke-linejoin="round"/>
<path transform="translate(1456.2 390.4)" d="M195 41zm2-1zm8 2zm0 0zm-2 3zm-11-3zm-7 1zm0 3zm-3-3zm-1 1zm-1 1zm-1 4zm1 0zm0-1zm0 1zm1 0zm1 2zm1-3zm4 2zm3 0zm4 1zm2 2zm8-1zm0 0zm1-2zm0 0zm1 1zm-3 4zm-1 0zm-1-1zm-6 0z" stroke="#4E9CC2" stroke-width="2.2" stroke-linecap="round" fill="none"/>
<path d="M1645.1 449L1651.9 448.4L1655.9 450.7L1655.3 456.3L1650.8 456.3L1649.6 451.8L1645.1 450.7z" fill="#4E9CC2" stroke="#4E9CC2" stroke-width="1.6" stroke-linejoin="round"/>
<path transform="translate(1456.2 390.4)" d="M197 59zm-1 0zm0 0zm0-1zm-2 0zm0-2zm-2 1zm-4 1zm1 4zm4 1zm1 2zm1-1zm5 1z" stroke="#4E9CC2" stroke-width="2.2" stroke-linecap="round" fill="none"/>
<path d="M1602.6 450.1L1608.9 446.1L1610 447.8L1603.8 451.8z" fill="#6A8FD0" stroke="#6A8FD0" stroke-width="1.6" stroke-linejoin="round"/>
<path transform="translate(1456.2 390.4)" d="M155 58zm-3 0zm-1 1zm-2 0zm-1 0zm0 1zm1 1z" stroke="#6A8FD0" stroke-width="2.2" stroke-linecap="round" fill="none"/>
<path d="M1628.7 439.9L1633.8 439.1L1634 441.6L1629.3 442.2z" fill="#6A8FD0" stroke="#6A8FD0" stroke-width="1.6" stroke-linejoin="round"/>
<path transform="translate(1456.2 390.4)" d="M172 50zm0 0zm1-1zm0 2zm1 0zm3 1z" stroke="#6A8FD0" stroke-width="2.2" stroke-linecap="round" fill="none"/>
<path d="M1570.4 426.9L1573.8 424.9L1575.1 427.5L1571.5 429.4z" fill="#4E9CC2" stroke="#4E9CC2" stroke-width="1.6" stroke-linejoin="round"/>
<path transform="translate(1456.2 390.4)" d="M114 37zm3 1zm1 0zm1 0zm1-1z" stroke="#4E9CC2" stroke-width="2.2" stroke-linecap="round" fill="none"/>
<path d="M1619.6 452.9L1623.6 450.1L1627.6 452.9L1628.1 459.7L1624.7 461.4L1619.6 460.3z" fill="#13917A" stroke="#13917A" stroke-width="1.6" stroke-linejoin="round"/>
<path transform="translate(1456.2 390.4)" d="M165 61zm0 0zm3-1zm1 1zm0 0zm4 5zm-1 2zm-1 3zm-2 0zm0 0zm0 0zm-6-4zm-1 0z" stroke="#13917A" stroke-width="2.2" stroke-linecap="round" fill="none"/>
<path d="M1570.4 471.1L1579.4 466.5L1585.1 464.3L1591.9 465.4L1595.3 468.8L1593 474.5L1591.9 481.3L1586.2 484.7L1574.9 483.5L1570.4 477.9z" fill="#B5C878" stroke="#B5C878" stroke-width="1.6" stroke-linejoin="round"/>
<path transform="translate(1456.2 390.4)" d="M122 77zm1-2zm5 0zm2-2zm1 1zm0 1zm2-1zm0 3zm1-3zm1 2zm3 0zm1 1zm0 4zm-1-3zm-1 0zm-7 4zm-10-4zm-6 7zm1 3zm9 1zm4-1zm7 1zm1 0zm1 0zm1-5zm-2 7zm-1-1zm0 2zm-2 0zm-1 2zm-4 1zm-3-1zm-2 0zm-5-3z" stroke="#B5C878" stroke-width="2.2" stroke-linecap="round" fill="none"/>
<path d="M1521.7 493.7L1528.5 492.6L1535.3 493.7L1539.8 497.1L1537.5 499.4L1528.5 498.2L1522.8 496z" fill="#B5C878" stroke="#B5C878" stroke-width="1.6" stroke-linejoin="round"/>
<path transform="translate(1456.2 390.4)" d="M83 105zm0 2zm-1-2zm0 1zm-10-4zm0 1zm-1-1zm-1 5zm0 0zm-1-5zm-2 2zm0-1zm9 6zm3 1zm1 0zm1-2z" stroke="#B5C878" stroke-width="2.2" stroke-linecap="round" fill="none"/>
<path d="M1536.4 491.4L1543.2 484.7L1551.1 482.4L1560.2 477.9L1569.2 479L1573.8 484.7L1573.8 492.6L1571.5 501.6L1567 506.2L1559 508.4L1551.1 507.3L1547.7 501.6L1539.8 498.2z" fill="#C9BFAE" stroke="#C9BFAE" stroke-width="1.6" stroke-linejoin="round"/>
<path transform="translate(1456.2 390.4)" d="M100 89zm1 0zm1 0zm1-1zm0 0zm0 0zm1-1zm1 0zm7 1zm6 7zm-1-1zm-5-4zm-15 0zm-3 2zm-2-1zm-1 2zm-1 0zm-4 2zm-4 5zm2-2zm14-2zm19 0zm0 1zm1 2zm0-1zm0 8zm-1-1zm-1 1zm0 1zm-6-1zm-11 0zm-16 0zm-2-4zm0 1zm3 5zm6 4zm6-1zm3 0zm1-3zm8 0zm1 4zm4 1zm2-1zm0-2zm0 1zm-2 3zm-2 1zm-1 1zm-4 2zm-2-1zm-3-3zm-4 3zm-4-3z" stroke="#C9BFAE" stroke-width="2.2" stroke-linecap="round" fill="none"/>
<path transform="translate(1456.2 390.4)" d="M144 95zm-3 0zm-1-1zm-2 1zm-1 0zm-2 0zm-1-2zm0 0zm-1 0zm0 2zm0-1zm0-1zm-1 0zm0 2zm-5-1zm1 3zm0 0zm2 1zm1-1zm2 0zm3 3zm0 0zm0 1zm0-5zm1 1zm0 3zm0 0zm0 0zm1 0zm0-3zm0 2zm1 2zm1-1zm0-2zm1 0zm0 0zm0-2zm0 2zm1-2zm0 0zm0 1zm1 4zm0-1zm1-2zm0 0zm0-1zm1-1zm0 2zm0 3zm1-3zm0 3zm1-5zm1 5zm1-5zm-3 6zm0 1zm-1-1zm-1 0zm0 1zm0 0zm-1 0zm-1 0zm0-1zm0 2zm-1-1zm-1 1zm0-1zm-1 0zm0-1zm-3 0z" stroke="#E8A0C8" stroke-width="2.2" stroke-linecap="round" fill="none"/>
<path transform="translate(1456.2 390.4)" d="M182 89zm7 0zm0 4zm0-3zm-1 2zm0-1zm-1 4zm0-1zm-2-3zm-1 4zm-1 0zm-1-1zm-3-4zm0 2zm-1 1zm0 0zm-1-2zm-2 1zm-3 1zm-9 2zm-7-1zm-4 0zm-1 1zm-1-1zm-7 1zm0 1zm1 0zm2 0zm1 0zm2 0zm2 1zm2 0zm2 0zm1 1zm1 1zm1 1zm1-3zm0-1zm3 3zm1 1zm1-4zm2 3zm1-2zm2-1zm2 1zm0 4zm0-2zm1-2zm0 0zm2-1zm3 4zm1-2zm1 3zm0-5zm1 2zm2 1zm1-3zm1 0zm6 0zm-16 7z" stroke="#EAB323" stroke-width="2.2" stroke-linecap="round" fill="none"/>
<path transform="translate(1456.2 390.4)" d="M179 106zm-1-2zm-1 3zm-1 0zm0-3zm0 1zm-1 1zm3 5zm1 1zm2-3zm0 0zm0 1z" stroke="#EAB323" stroke-width="2.2" stroke-linecap="round" fill="none"/>
<path d="M1488.8 481.3L1496.8 477.9L1501.3 480.1L1503.6 486.9L1499 491.4L1493.4 490.3L1490 484.7z" fill="#DD2B2A" stroke="#DD2B2A" stroke-width="1.6" stroke-linejoin="round"/>
<path transform="translate(1456.2 390.4)" d="M37 89zm6-1zm0 0zm5 5zm-2 0zm0 1zm-1-3zm-9-1zm-1 5zm-1-5zm-1 4zm3 5zm0-1zm0 3zm0-3zm0 0zm1 1zm4-2zm6 0z" stroke="#DD2B2A" stroke-width="2.2" stroke-linecap="round" fill="none"/>
<path d="M1487.7 498.2L1491.1 492.6L1497.9 490.3L1505.8 492.6L1510.3 497.1L1509.2 501.6L1501.3 503.9L1492.2 503.9L1487.7 501.6z" fill="#13917A" stroke="#13917A" stroke-width="1.6" stroke-linejoin="round"/>
<path transform="translate(1456.2 390.4)" d="M40 100zm3 0zm1 1zm1 0zm3 0zm6 5zm-2-1zm-6-3zm0 0zm-11 0zm-1 0zm0 2zm0-1zm-1 3zm-2 2zm2 0zm1 3zm1 2zm10 0zm1-2zm4 1zm1 0zm2-3zm0 1zm1 0zm-11 4z" stroke="#13917A" stroke-width="2.2" stroke-linecap="round" fill="none"/>
<path transform="translate(1456.2 390.4)" d="M48 89zm2 0zm5-1zm1 0zm1 1zm1 0zm0 0zm5 6zm-1-5zm0 1zm-1 2zm0 1zm0 0zm-2-3zm0-1zm0 4zm0 1zm-1 0zm0-5zm-2 2zm0-1zm-1 4zm0-3zm0 1zm-2-2zm0 3zm-1-3zm0 4zm0-1zm-2-4zm0 4zm-1 0zm-1-3zm-1 1zm0 0zm0 2zm-1-2zm0 1zm2 5zm1 1zm0-1zm0-1zm1-1zm2 0zm1 2zm1 1zm0-1zm0-1zm1-1zm1 0zm1 0zm0 3zm0-2zm0 2zm1 0zm0 0zm1-2zm0-1zm2 4zm0-1z" stroke="#B5C878" stroke-width="2.2" stroke-linecap="round" fill="none"/>
<path transform="translate(1456.2 390.4)" d="M162 114zm-4 4zm0 0zm0-1zm-2 2zm0-3zm0 2zm-2 1zm0 1zm2 0z" stroke="#D6DFDD" stroke-width="2.2" stroke-linecap="round" fill="none"/>
<path d="M1512.6 560.5L1519.4 557.1L1528.5 551.5L1532.4 552L1528.5 556L1519.4 561.7L1514.9 567.3L1512.6 566.2z" fill="#73A7B8" stroke="#73A7B8" stroke-width="1.6" stroke-linejoin="round"/>
<path transform="translate(1456.2 390.4)" d="M76 162zm-1 0zm-2 2zm-2 2zm0-1zm-2-2zm-1 1zm-5 3zm-2 0zm-4 5zm1-2zm1-1zm2 4zm1-1zm1-4zm2 4zm1-3zm3 0zm0 0zm2-1zm-13 8zm0 1zm-1-3z" stroke="#73A7B8" stroke-width="2.2" stroke-linecap="round" fill="none"/>
<path d="M1530.2 563.9L1537.5 563.9L1538.7 566.2L1530.7 567.3z" fill="#73A7B8" stroke="#73A7B8" stroke-width="1.6" stroke-linejoin="round"/>
<path transform="translate(1456.2 390.4)" d="M77 173zm4 0zm2 2zm-1 1zm0-2zm-5 4zm-2-3zm-1 2z" stroke="#73A7B8" stroke-width="2.2" stroke-linecap="round" fill="none"/>
<path d="M1540.4 558.3L1545.5 557.1L1552.2 562.8L1551.1 565.1L1544.3 568.4L1542.1 566.2L1546.6 562.8L1540.9 560.5z" fill="#73A7B8" stroke="#73A7B8" stroke-width="1.6" stroke-linejoin="round"/>
<path transform="translate(1456.2 390.4)" d="M84 168zm1 0zm5 5zm0-5zm2 1zm1 0zm1 2zm1 1zm0-1zm1 1zm0 1zm-2 1zm-4 3zm0-3zm-2 3zm-2 2zm0-3z" stroke="#73A7B8" stroke-width="2.2" stroke-linecap="round" fill="none"/>
<path d="M1576 562.8L1581.7 565.1L1588.5 566.2L1587.4 568.4L1577.2 565.1z" fill="#73A7B8" stroke="#73A7B8" stroke-width="1.6" stroke-linejoin="round"/>
<path transform="translate(1456.2 390.4)" d="M123 172zm0 1zm8 2zm-1 0zm0 2zm-1 0zm-2-3zm0 3zm-5-3zm-1 1zm-1 0z" stroke="#73A7B8" stroke-width="2.2" stroke-linecap="round" fill="none"/>
<path d="M1590.8 523.7L1593.6 523.7L1594.7 531.1L1592.1 531.3z" fill="#73A7B8" stroke="#73A7B8" stroke-width="1.6" stroke-linejoin="round"/>
<path transform="translate(1456.2 390.4)" d="M135 133zm0 3zm3-1zm0 1zm0 5zm-1 0zm0 1zm-1-1z" stroke="#73A7B8" stroke-width="2.2" stroke-linecap="round" fill="none"/>
<path d="M1622.2 532.6L1623.8 532.6L1623.8 534.3L1622.2 534.3z" fill="#A31F30" stroke="#A31F30" stroke-width="1.6" stroke-linejoin="round"/>
<path transform="translate(1456.2 390.4)" d="M168 142zm-1-1z" stroke="#A31F30" stroke-width="2.2" stroke-linecap="round" fill="none"/>
<path d="M1492 517.3L1493.6 517.3L1493.6 518.8L1492 518.8z" fill="#73A7B8" stroke="#73A7B8" stroke-width="1.6" stroke-linejoin="round"/>
<path transform="translate(1456.2 390.4)" d="M37 126zm0 3z" stroke="#73A7B8" stroke-width="2.2" stroke-linecap="round" fill="none"/>
<path d="M1456.2 576.2H1671" stroke="#111" stroke-width="1.6" fill="none"/>
<g font-size="15" text-anchor="middle" font-weight="bold"><text x="1563.3" y="385">OL1</text></g>
<path transform="translate(1679.2 390.4)" d="M33 10zm0 1zm-2-1zm-1 1zm0-1zm0 1zm-12 6zm1-1zm2-2zm1 1zm0 1zm0-2zm2 1zm0-1zm3-1zm-8 10zm-1-1zm-1-4zm0 3zm0-3zm-1 4zm-1 1zm-1 0zm1 4zm0 1zm1-4zm1 3zm1-1zm0 4zm-1 4zm0-3zm-2 3zm-1-4zm-2 9zm0-1zm1 2zm0-1zm0-1zm0 0zm0 1zm2 1zm0-1zm0-2zm1 0zm0 4zm0-2zm1 0zm4 7zm0 0zm-2 1zm-1-4zm-1 4zm-1-2zm0-1zm0 2zm-1-4zm-1 1zm0 2zm-1-2zm2 5zm3 0zm1 3zm2-2zm0 1zm2-1zm0 2zm1-1zm0 2zm2 1zm2-2z" stroke="#5BA9CB" stroke-width="2.2" stroke-linecap="round" fill="none"/>
<path d="M1805.8 404.3L1810.4 403.1L1819.4 402L1830.7 406.5L1839.8 411L1844.3 416.7L1846.6 424.6L1844.3 431.4L1837.5 430.3L1828.5 424.6L1819.4 420.1L1808.1 417.8L1805.8 412.2z" fill="#4E9CC2" stroke="#4E9CC2" stroke-width="1.6" stroke-linejoin="round"/>
<path transform="translate(1679.2 390.4)" d="M126 17zm1 0zm1-3zm1 0zm0 0zm2-1zm5-1zm2 2zm3-2zm0 1zm4 1zm4 1zm2 1zm2 1zm0-1zm1 1zm1 0zm7 4zm-3 0zm-4-3zm-5 3zm-12 2zm-12-3zm2 6zm1 2zm0-2zm5 1zm0-1zm1 3zm2 0zm2 0zm4 0zm21-1zm4 6zm-1 1zm0 0zm-1-4zm0 3zm-13 1zm-1 0zm0 0zm-2 0zm-1-1zm-1-1zm0 1zm-3-2zm-1-2zm-3 0zm-1 0zm21 10zm0 0zm1 0zm1 0zm3-4z" stroke="#4E9CC2" stroke-width="2.2" stroke-linecap="round" fill="none"/>
<path transform="translate(1679.2 390.4)" d="M116 13zm1 1zm1 3zm2 0zm6 0zm0 3zm-1-2zm0 4zm-1-3zm0-1zm-1 3zm-2-3zm0 5zm-3-4zm5 7zm1-2zm1 2zm2 0zm1 0zm1-1z" stroke="#4E9CC2" stroke-width="2.2" stroke-linecap="round" fill="none"/>
<path transform="translate(1679.2 390.4)" d="M117 23zm0-2zm-10 7zm2-1zm1 2zm0-3zm1 1zm1 1zm0-1zm1-1zm1-2zm0 1zm0-1zm0 1zm1 1zm1-1zm4 0zm-10 5zm-5 1zm-1 0zm0 2zm-1-2zm-1 1zm0 0zm0-2zm-5 5zm0 3zm1-2zm2 1zm0-1z" stroke="#4E9CC2" stroke-width="2.2" stroke-linecap="round" fill="none"/>
<path transform="translate(1679.2 390.4)" d="M94 41zm0 5zm-2-3zm-1 3zm-3 7zm1 0zm1-1zm0-1zm1-2zm1 0zm1 1zm0-1zm0 0zm2 1zm1 9zm0 0zm0-3zm-1 1zm0-1zm0 3zm-2-1zm0 0zm-2 0zm-1-2zm-1 0zm-1 0zm0-2zm0 4zm-1-3zm-1 4zm-1 6zm2-3zm0-1zm2 0zm0-1zm0 0zm1 4zm2 0zm1-2zm2 3zm6 6zm0 0zm-1-2zm-2 1zm-1-1zm0 2zm0-4zm-1-1zm0 5zm-3-5zm-1 3zm0-3zm-1 0zm0 2zm0 3zm0-2zm-2 2zm-1-1zm-2-1zm-1-1zm0 2zm-3 1zm-13 0zm0-1zm-2 1zm0-3zm-2 0zm-1 1zm-1 0zm4 3zm2 4zm3-2zm1-1zm2 3zm1-1zm0-1zm4 3zm0 0zm0-1zm2 0zm1-2zm1-2zm3 3zm0 2zm1-1zm3-2zm1-1zm2 2zm1-1zm0 1zm2-2zm0 1zm1 3zm0-1zm2-2zm4 8zm-2-1zm-2 0zm0-3zm0 3zm0-1zm-2 2zm0-1zm0-1zm0 0zm-1 1zm0 0zm-2 2zm-1-1zm0-4zm-1 1zm0 4zm-1-3zm-2 0zm-1 3zm0-5zm0 5zm-1-2zm-1 0zm0 1zm0-2zm-1 1zm-2-3zm-1 3zm0 0zm0 2zm-5-5zm-1 0zm-2 0zm14 8zm0 1zm1-2zm0-1zm1 0zm0 0zm1 5zm0-2zm0 1zm1-2zm0 0zm1 1zm0 0zm0-2zm1 0zm1 0zm4 0zm2-1zm0 1zm1 0zm1 2zm1-2zm-1 5zm-5 0zm-1 0zm-1 0zm0 3zm-1-3zm-2 3zm-2-3zm0 0z" stroke="#92C3D8" stroke-width="2.2" stroke-linecap="round" fill="none"/>
<path transform="translate(1679.2 390.4)" d="M200 41zm4 1zm0 3zm-1 0zm0 2zm0-5zm0 3zm-1 1zm-1 0zm-3-2zm0 0zm-1-2zm-1 4zm0 0zm0-4zm0 3zm-2-2zm0 4zm0-1zm-1-2zm0-1zm-1 4zm0-3zm0 3zm-1-3zm0-1zm-1 1zm-2 2zm0-1zm-3 1zm0 1zm-2-1zm-2-2zm0 5zm5-1zm0 0zm0 2zm1-1zm2 0zm0 1zm4-2zm0 0zm2 1zm0 2zm0-1zm0 2zm2-4zm1 3zm0 1zm1-2zm0 2zm1 0zm1 0zm0 1zm2-4zm2 0zm0-1zm-4 6zm-1 0zm-3 0z" stroke="#4E9CC2" stroke-width="2.2" stroke-linecap="round" fill="none"/>
<path transform="translate(1679.2 390.4)" d="M199 59zm-2 0zm-3 0zm-4 1zm1 0zm1 0zm0 0zm2 0zm0 3zm0 2zm1-3zm0 0zm0 0zm1-1zm0 0zm1 4zm0 0zm1-2zm1 2zm0 1z" stroke="#4E9CC2" stroke-width="2.2" stroke-linecap="round" fill="none"/>
<path d="M1825.6 450.1L1831.9 446.1L1833 447.8L1826.8 451.8z" fill="#6A8FD0" stroke="#6A8FD0" stroke-width="1.6" stroke-linejoin="round"/>
<path transform="translate(1679.2 390.4)" d="M154 57zm-7 2zm0 1zm0 0zm1 1zm2-1zm1 0z" stroke="#6A8FD0" stroke-width="2.2" stroke-linecap="round" fill="none"/>
<path d="M1851.7 439.9L1856.8 439.1L1857 441.6L1852.3 442.2z" fill="#6A8FD0" stroke="#6A8FD0" stroke-width="1.6" stroke-linejoin="round"/>
<path transform="translate(1679.2 390.4)" d="M173 50zm0-1zm1 3zm1 0zm1-3zm1 2z" stroke="#6A8FD0" stroke-width="2.2" stroke-linecap="round" fill="none"/>
<path d="M1793.4 426.9L1796.8 424.9L1798.1 427.5L1794.5 429.4z" fill="#4E9CC2" stroke="#4E9CC2" stroke-width="1.6" stroke-linejoin="round"/>
<path transform="translate(1679.2 390.4)" d="M116 35zm-1 4zm2-2zm1 1zm1-1z" stroke="#4E9CC2" stroke-width="2.2" stroke-linecap="round" fill="none"/>
<path d="M1842.6 452.9L1846.6 450.1L1850.6 452.9L1851.1 459.7L1847.7 461.4L1842.6 460.3z" fill="#13917A" stroke="#13917A" stroke-width="1.6" stroke-linejoin="round"/>
<path transform="translate(1679.2 390.4)" d="M164 65zm1 0zm2-4zm2 1zm3 1zm0 7zm0 0zm-1 0zm0 0zm-3 1zm0-1zm-5-4zm5 6z" stroke="#13917A" stroke-width="2.2" stroke-linecap="round" fill="none"/>
<path transform="translate(1679.2 390.4)" d="M130 76zm8 1zm-2 6zm-2 0zm-1-4zm0 1zm-5 1zm0 1zm-8 0zm0-1zm-4 0zm0 8zm5-4zm1-1zm2 4zm0-2zm4 3zm2-3zm2 2zm1-3zm-6 6zm-2 1zm-3 1zm-2-3zm-3 2z" stroke="#B5C878" stroke-width="2.2" stroke-linecap="round" fill="none"/>
<path transform="translate(1679.2 390.4)" d="M82 107zm0 0zm-1 0zm0 0zm-2-2zm-1 1zm0-3zm-1 4zm0 0zm0-3zm-2 3zm0-1zm0-1zm-2 1zm0 1zm-1-3zm0 2zm-1-2zm0 0zm0 0zm0 1zm0-2zm-2 1zm-1 0zm-1-1zm0 1zm7 5zm2-1zm0 0zm2 0z" stroke="#B5C878" stroke-width="2.2" stroke-linecap="round" fill="none"/>
<path transform="translate(1679.2 390.4)" d="M102 89zm1 0zm3-1zm2 1zm2 0zm0 0zm3 5zm0 0zm0-3zm-1 1zm0 2zm0-3zm-1 0zm0 0zm0 2zm0 0zm-1 2zm0-1zm-2 1zm0-1zm-1-1zm0-3zm0 2zm0 0zm-2 0zm-2 0zm-2 3zm0-5zm0 5zm0-3zm0-1zm0 4zm-1-5zm-1 0zm-1 2zm-1 1zm-1 0zm0-1zm0 0zm-1 3zm0 0zm0-3zm0 0zm-1 1zm0 2zm-1 0zm0-2zm-1 2zm-1 0zm-1 0zm-1 0zm-1-1zm-6 7zm1 0zm1-3zm1 1zm0-1zm0 3zm0-2zm1-1zm1-1zm1 3zm1 0zm0-2zm1 0zm1 0zm0-1zm0 3zm0 1zm1 0zm1-2zm0-1zm0 2zm0-2zm0 2zm0-1zm0 1zm1-3zm1 2zm1-3zm0 1zm1 1zm0-2zm0 4zm0-2zm2 3zm2-2zm0-3zm0 1zm1 4zm0-3zm1-2zm1 2zm3 2zm0-1zm1 0zm0-3zm2 2zm0-2zm0 1zm1 4zm0-1zm0-3zm1 4zm0-4zm0 4zm0-1zm1-4zm0 0zm0 4zm0-3zm1-1zm1 2zm0 3zm1-1zm0-4zm1 3zm0-1zm0-1zm1 0zm0 1zm-2 7zm-1-3zm0 0zm-1 4zm-1 0zm0-2zm0-1zm0 0zm-1 2zm-1-3zm-1 4zm-1-3zm-2 4zm-1-1zm0-1zm-1-2zm-2 2zm0-2zm0 0zm-1 3zm-1 1zm0-4zm-1 2zm-1 2zm0-1zm0-4zm0 1zm-1 2zm-2-1zm-1-1zm0 0zm0 3zm0 0zm-1 0zm-1-2zm-1 2zm0-2zm0 0zm-1-2zm0 5zm-2-3zm-1 1zm0-1zm0-2zm-1 2zm-1 1zm0-1zm-1-1zm0 1zm-1 0zm0 1zm0-3zm-1 0zm0 3zm5 5zm2 1zm3-3zm1 0zm0 5zm1 0zm0-1zm0-2zm0 2zm1-3zm0 4zm0-3zm1 1zm1 2zm2-5zm1 1zm0 3zm0-1zm1-1zm0 3zm1 0zm1 0zm3 0zm1-1zm1-1zm0-2zm1 3zm1-1zm1 2zm1-4zm1 3zm0 0zm-4 2zm-1 0zm-4 0zm-2 4zm0-3zm-1 2zm0 1zm0-1zm-1-1zm0 1zm-4 0zm-1 0zm-1-1z" stroke="#C9BFAE" stroke-width="2.2" stroke-linecap="round" fill="none"/>
<path transform="translate(1679.2 390.4)" d="M139 94zm-6 0zm-5 2zm1 0zm0 0zm3 1zm3 3zm1-1zm1-2zm0 4zm2-3zm0-1zm2 3zm1-4zm0 0zm1 5zm1-3zm1 1zm1-2zm0 2zm1-3zm2 1zm0 2zm-5 4zm-6-1z" stroke="#E8A0C8" stroke-width="2.2" stroke-linecap="round" fill="none"/>
<path transform="translate(1679.2 390.4)" d="M189 90zm-28 5zm-4 2zm8-1zm3 0zm0 2zm17-2zm4 1z" stroke="#EAB323" stroke-width="2.2" stroke-linecap="round" fill="none"/>
<path transform="translate(1679.2 390.4)" d="M179 106zm-3 4zm0-1z" stroke="#EAB323" stroke-width="2.2" stroke-linecap="round" fill="none"/>
<path d="M1711.8 481.3L1719.8 477.9L1724.3 480.1L1726.6 486.9L1722 491.4L1716.4 490.3L1713 484.7z" fill="#DD2B2A" stroke="#DD2B2A" stroke-width="1.6" stroke-linejoin="round"/>
<path transform="translate(1679.2 390.4)" d="M35 89zm3 0zm1-2zm4 2zm4 5zm0 1zm-1-2zm-1-3zm-10 5zm-2-4zm2 7zm9 1zm0 1zm1-2zm1-1zm0-1zm1 4zm0-3zm-4 5z" stroke="#DD2B2A" stroke-width="2.2" stroke-linecap="round" fill="none"/>
<path d="M1710.7 498.2L1714.1 492.6L1720.9 490.3L1728.8 492.6L1733.3 497.1L1732.2 501.6L1724.3 503.9L1715.2 503.9L1710.7 501.6z" fill="#13917A" stroke="#13917A" stroke-width="1.6" stroke-linejoin="round"/>
<path transform="translate(1679.2 390.4)" d="M37 100zm0 1zm3 0zm4 0zm1-1zm1 1zm1 0zm7 6zm-2-3zm-4-2zm-2 1zm-14 9zm1-4zm1 3zm1 1zm3 1zm2 0zm6-1zm1 0zm1 0zm5-4zm-8 6zm0 0zm-3 0zm-1 0zm-2 0z" stroke="#13917A" stroke-width="2.2" stroke-linecap="round" fill="none"/>
<path transform="translate(1679.2 390.4)" d="M51 88zm1 1zm10 0zm0 6zm-1 0zm0-4zm-2 1zm-1-1zm-1 3zm-1-2zm-2 1zm-1 1zm-3-1zm0-2zm-3 0zm2 5zm2 1zm1 1zm1-2zm0 1zm1 2zm0-2zm2 2zm0-3zm5 0z" stroke="#B5C878" stroke-width="2.2" stroke-linecap="round" fill="none"/>
<path transform="translate(1679.2 390.4)" d="M163 117zm-3 1zm-9 2z" stroke="#D6DFDD" stroke-width="2.2" stroke-linecap="round" fill="none"/>
<path transform="translate(1679.2 390.4)" d="M70 161zm4 3zm0-1zm-1-1zm0 1zm-1 1zm-2 2zm0 1zm-1-5zm0 2zm0 2zm-1 1zm0-3zm0 0zm-1 0zm-3 3zm0 0zm-7 6zm1-3zm0-1zm0 4zm1 0zm1-1zm0 1zm1-4zm0 2zm3-1zm0-1zm1-1zm1 0zm-7 6zm0 1zm-1-1zm-1 1zm-1-1z" stroke="#73A7B8" stroke-width="2.2" stroke-linecap="round" fill="none"/>
<path d="M1753.2 563.9L1760.5 563.9L1761.7 566.2L1753.7 567.3z" fill="#73A7B8" stroke="#73A7B8" stroke-width="1.6" stroke-linejoin="round"/>
<path transform="translate(1679.2 390.4)" d="M77 173zm5 2zm-1 0zm0 1zm-1 1zm0-3zm-4 1zm-1-1z" stroke="#73A7B8" stroke-width="2.2" stroke-linecap="round" fill="none"/>
<path transform="translate(1679.2 390.4)" d="M84 167zm2 4zm1-1zm1 1zm0-1zm1 1zm0-1zm1-2zm0 4zm2-3zm0 0zm0 2zm1-2zm0 2zm0 2zm2 0zm0-1zm0 0zm-2 2zm-2 1zm-1 0zm-1 0zm0-1zm-1 2zm-2 2z" stroke="#73A7B8" stroke-width="2.2" stroke-linecap="round" fill="none"/>
<path d="M1799 562.8L1804.7 565.1L1811.5 566.2L1810.4 568.4L1800.2 565.1z" fill="#73A7B8" stroke="#73A7B8" stroke-width="1.6" stroke-linejoin="round"/>
<path transform="translate(1679.2 390.4)" d="M121 173zm1 0zm9 1zm-2 4zm0-3zm-1 2zm-1-1zm-1-2zm-2 2zm0 1zm-2-2z" stroke="#73A7B8" stroke-width="2.2" stroke-linecap="round" fill="none"/>
<path d="M1813.8 523.7L1816.6 523.7L1817.7 531.1L1815.1 531.3z" fill="#73A7B8" stroke="#73A7B8" stroke-width="1.6" stroke-linejoin="round"/>
<path transform="translate(1679.2 390.4)" d="M135 133zm1 1zm0 2zm1-1zm0-1zm2 5zm-2 0zm-1 1z" stroke="#73A7B8" stroke-width="2.2" stroke-linecap="round" fill="none"/>
<path d="M1845.2 532.6L1846.8 532.6L1846.8 534.3L1845.2 534.3z" fill="#A31F30" stroke="#A31F30" stroke-width="1.6" stroke-linejoin="round"/>
<path transform="translate(1679.2 390.4)" d="M167 143zm-1 0z" stroke="#A31F30" stroke-width="2.2" stroke-linecap="round" fill="none"/>
<path d="M1715 517.3L1716.6 517.3L1716.6 518.8L1715 518.8z" fill="#73A7B8" stroke="#73A7B8" stroke-width="1.6" stroke-linejoin="round"/>
<path transform="translate(1679.2 390.4)" d="M38 129zm-3-1z" stroke="#73A7B8" stroke-width="2.2" stroke-linecap="round" fill="none"/>
<path d="M1679.2 576.2H1894" stroke="#111" stroke-width="1.6" fill="none"/>
<g font-size="15" text-anchor="middle" font-weight="bold"><text x="1787.4" y="385">OL2</text></g>
<path d="M1936.1 398.6L1937.8 400.3L1929.3 404.3L1922.5 408.8L1919.6 416.7L1920.2 424.6L1921.3 432.6L1925.9 438.2L1933.2 443.3L1932.7 445.6L1928.1 443.9L1917.9 438.2L1912.3 433.7L1912.9 429.2L1916.2 422.4L1916.2 415.6L1919.1 408.8L1924.7 403.7z" fill="#5BA9CB" stroke="#5BA9CB" stroke-width="1.6" stroke-linejoin="round"/>
<path transform="translate(1902.3 390.4)" d="M36 9zm-1-1zm0 2zm-5-1zm0 2zm-1 0zm-1 0zm0-1zm-7 4zm1 3zm0-1zm0 1zm2-2zm1-1zm0 1zm2-2zm0 2zm4-2zm0-1zm1 0zm-14 10zm-1-3zm-1 3zm-2 7zm0-1zm1-2zm2 2zm0 0zm2 0zm1 7zm-1-4zm-2 0zm-5 4zm-1 4zm1-2zm1 0zm3 0zm6 6zm-2 2zm0-2zm0 0zm-1 0zm-1-1zm-4 3zm-3-2zm-2-1zm9 7zm3-1zm1 4zm1 1zm0-1zm1 1zm0-5zm2 1zm1 0zm0 1zm3 3zm-2 3z" stroke="#5BA9CB" stroke-width="2.2" stroke-linecap="round" fill="none"/>
<path d="M2028.9 404.3L2033.5 403.1L2042.5 402L2053.8 406.5L2062.9 411L2067.4 416.7L2069.7 424.6L2067.4 431.4L2060.6 430.3L2051.6 424.6L2042.5 420.1L2031.2 417.8L2028.9 412.2z" fill="#4E9CC2" stroke="#4E9CC2" stroke-width="1.6" stroke-linejoin="round"/>
<path transform="translate(1902.3 390.4)" d="M126 15zm1-2zm1 1zm1 0zm0-2zm1 0zm0 1zm1 0zm6-1zm4 0zm1 1zm6 2zm1-1zm1 2zm10 4zm-1 1zm0-1zm-5-2zm0 1zm-26 2zm-1 2zm0 0zm0-5zm0 6zm1 2zm2 2zm4 1zm2 0zm1-5zm3 2zm4 3zm19-5zm5 6zm-1 4zm-1-2zm-16 2zm-1 0zm0-2zm-4 1zm-2-2zm-4-1zm0 0zm14 9zm1-1zm0-1zm2 4zm2-2zm4 2zm3-1zm2-4zm0 0zm0 2zm1-2zm-4 6z" stroke="#4E9CC2" stroke-width="2.2" stroke-linecap="round" fill="none"/>
<path d="M2017.6 403.7L2025.5 406.5L2030.1 404.8L2031.2 417.8L2023.3 416.7L2019.9 412.2z" fill="#4E9CC2" stroke="#4E9CC2" stroke-width="1.6" stroke-linejoin="round"/>
<path transform="translate(1902.3 390.4)" d="M116 15zm1-1zm5 2zm2-1zm1 2zm0-3zm2 2zm1-2zm0 4zm0 3zm-5 1zm-5-2zm-2 1zm4 3zm0 0zm1 3zm1-1zm4 2zm1 0zm1-4zm1 1z" stroke="#4E9CC2" stroke-width="2.2" stroke-linecap="round" fill="none"/>
<path d="M2019.9 412.2L2023.3 415.6L2014.2 419L2006.3 423.5L2000.6 429.2L1997.2 428L2002.9 421.2L2010.8 415.6z" fill="#4E9CC2" stroke="#4E9CC2" stroke-width="1.6" stroke-linejoin="round"/>
<path transform="translate(1902.3 390.4)" d="M120 23zm-1 0zm-1-2zm-2 1zm0 1zm0 0zm-4 0zm-2 1zm1 5zm0 0zm2-2zm0 2zm1-5zm1 3zm3 0zm1-1zm1 0zm2 0zm0-1zm-15 6zm-1 2zm0-1zm-2 0zm-4-1zm-1 6zm0-1zm3 0z" stroke="#4E9CC2" stroke-width="2.2" stroke-linecap="round" fill="none"/>
<path d="M1997.8 428.6L2000.8 429.4L1997.8 436L1997 443.9L2000.6 452.9L2005.1 464.3L2008.5 471.1L2007.4 479L2000.6 484.7L1993.8 481.3L1989.3 474.5L1981.4 471.1L1974.6 467.7L1967.8 463.1L1963.8 457.5L1967.8 457.5L1974.6 462L1981.4 463.1L1987 458.6L1987.6 450.7L1991 441.6L1994.4 433.7z" fill="#92C3D8" stroke="#92C3D8" stroke-width="1.6" stroke-linejoin="round"/>
<path transform="translate(1902.3 390.4)" d="M99 39zm-3 3zm0 0zm-1 2zm-2-2zm-1 2zm0 2zm-1 0zm-2 1zm-2 4zm1 2zm2-1zm0-4zm1 0zm2 2zm1 1zm0-1zm1 3zm0 4zm-1-3zm0 1zm-6-1zm-1 2zm0 3zm-1-2zm0-3zm0 4zm-2 4zm1 3zm3-2zm1-2zm9 0zm0 3zm3 3zm0 3zm0-1zm-15-3zm-1 1zm-1 2zm-1-3zm-8 5zm-3 0zm0 0zm-3-2zm-2 0zm0-1zm-1 0zm-1-1zm-1 3zm-1-3zm-1 1zm5 6zm2 1zm1 1zm0 1zm0-1zm2-4zm0 4zm1-4zm6 1zm2 0zm0 4zm1-1zm21-3zm3 6zm-1 3zm-28-2zm-1-2zm12 8zm12 1zm1 0zm5 0zm0-1zm0 0zm-3 4zm0 1zm-3 0zm-1 3zm0-1zm-3 1zm-1-1z" stroke="#92C3D8" stroke-width="2.2" stroke-linecap="round" fill="none"/>
<path d="M2082.1 434.8L2093.5 432.6L2101.4 430.3L2108.2 432.6L2108.2 439.4L2104.8 445L2099.1 445L2094.6 440.5L2087.8 440.5L2082.1 439.4z" fill="#4E9CC2" stroke="#4E9CC2" stroke-width="1.6" stroke-linejoin="round"/>
<path transform="translate(1902.3 390.4)" d="M192 41zm2-1zm1 1zm1 0zm6 0zm1 0zm2 0zm2 3zm-1 1zm-1-3zm0 4zm0-1zm-4 0zm-3 1zm-8-4zm0 2zm-2-1zm-2 0zm-3 3zm-4 1zm0-1zm0-1zm3 4zm11 2zm1 2zm11 0zm1-5zm0 2zm-5 4zm-5 0zm0 0z" stroke="#4E9CC2" stroke-width="2.2" stroke-linecap="round" fill="none"/>
<path d="M2091.2 449L2098 448.4L2102 450.7L2101.4 456.3L2096.9 456.3L2095.7 451.8L2091.2 450.7z" fill="#4E9CC2" stroke="#4E9CC2" stroke-width="1.6" stroke-linejoin="round"/>
<path transform="translate(1902.3 390.4)" d="M196 58zm-1-1zm-1 1zm-5 0zm0 0zm1 2zm1 2zm7-1zm1 3zm0-3zm1 0zm0 1zm0 4z" stroke="#4E9CC2" stroke-width="2.2" stroke-linecap="round" fill="none"/>
<path d="M2048.7 450.1L2055 446.1L2056.1 447.8L2049.9 451.8z" fill="#6A8FD0" stroke="#6A8FD0" stroke-width="1.6" stroke-linejoin="round"/>
<path transform="translate(1902.3 390.4)" d="M152 59zm0-3zm-1 2zm-2 0zm-2 3zm2-1zm1 0z" stroke="#6A8FD0" stroke-width="2.2" stroke-linecap="round" fill="none"/>
<path d="M2074.8 439.9L2079.9 439.1L2080.1 441.6L2075.4 442.2z" fill="#6A8FD0" stroke="#6A8FD0" stroke-width="1.6" stroke-linejoin="round"/>
<path transform="translate(1902.3 390.4)" d="M173 50zm1 2zm0-2zm3 2zm0-2zm2 0z" stroke="#6A8FD0" stroke-width="2.2" stroke-linecap="round" fill="none"/>
<path d="M2016.5 426.9L2019.9 424.9L2021.2 427.5L2017.6 429.4z" fill="#4E9CC2" stroke="#4E9CC2" stroke-width="1.6" stroke-linejoin="round"/>
<path transform="translate(1902.3 390.4)" d="M118 34zm-1 0zm-2 2zm0 0zm1 3z" stroke="#4E9CC2" stroke-width="2.2" stroke-linecap="round" fill="none"/>
<path d="M2065.7 452.9L2069.7 450.1L2073.7 452.9L2074.2 459.7L2070.8 461.4L2065.7 460.3z" fill="#13917A" stroke="#13917A" stroke-width="1.6" stroke-linejoin="round"/>
<path transform="translate(1902.3 390.4)" d="M168 59zm0 0zm-1 0zm-2 3zm0 1zm7 2zm0 0zm0 1zm-1 0zm-3 4zm-3-4zm-1 2zm-1 0z" stroke="#13917A" stroke-width="2.2" stroke-linecap="round" fill="none"/>
<path d="M2016.5 471.1L2025.5 466.5L2031.2 464.3L2038 465.4L2041.4 468.8L2039.1 474.5L2038 481.3L2032.3 484.7L2021 483.5L2016.5 477.9z" fill="#B5C878" stroke="#B5C878" stroke-width="1.6" stroke-linejoin="round"/>
<path transform="translate(1902.3 390.4)" d="M126 75zm2 0zm2-1zm4 0zm0 1zm4 2zm1 0zm-1 1zm-1 5zm0-5zm-5 4zm-11-3zm-5 1zm-1-1zm-1 4zm-1-2zm18 7zm3 2zm-2 3zm0 0zm-1-1zm0 1zm-2 1zm-1 1zm0-1zm-2-1zm0 0zm-5 0zm-2 0zm0 0zm-2-1zm0-2zm0 0zm-2 1z" stroke="#B5C878" stroke-width="2.2" stroke-linecap="round" fill="none"/>
<path d="M1967.8 493.7L1974.6 492.6L1981.4 493.7L1985.9 497.1L1983.6 499.4L1974.6 498.2L1968.9 496z" fill="#B5C878" stroke="#B5C878" stroke-width="1.6" stroke-linejoin="round"/>
<path transform="translate(1902.3 390.4)" d="M80 106zm-1-1zm-5-3zm-1 0zm-1 5zm-1-4zm-2 1zm-1-1zm-1 0zm-1 2zm0-3zm-1 0zm5 6zm1 0zm3 0zm3 1z" stroke="#B5C878" stroke-width="2.2" stroke-linecap="round" fill="none"/>
<path d="M1982.5 491.4L1989.3 484.7L1997.2 482.4L2006.3 477.9L2015.3 479L2019.9 484.7L2019.9 492.6L2017.6 501.6L2013.1 506.2L2005.1 508.4L1997.2 507.3L1993.8 501.6L1985.9 498.2z" fill="#C9BFAE" stroke="#C9BFAE" stroke-width="1.6" stroke-linejoin="round"/>
<path transform="translate(1902.3 390.4)" d="M101 89zm0 0zm0 0zm2-1zm5 0zm0 0zm2 0zm3 0zm5 7zm-2-3zm0 0zm-2-1zm-17 0zm-1 1zm-1-1zm-5 1zm-10 8zm2-3zm2 1zm0 1zm1-3zm13 5zm0-3zm2 3zm8-3zm11 4zm-1 5zm0-3zm0-2zm0 2zm-1 2zm-28 1zm-3 0zm-2 0zm0 0zm-2-3zm-1-2zm0 1zm0 0zm6 5zm3 2zm1 0zm0 1zm10 0zm15-3zm-4 7zm-9 3zm0-2zm-5 1zm0-1zm-1 1zm0 0zm-2-2z" stroke="#C9BFAE" stroke-width="2.2" stroke-linecap="round" fill="none"/>
<path d="M2028.9 484.7L2035.7 483.5L2042.5 484.7L2048.2 483.5L2051.6 486.9L2049.3 492.6L2042.5 496L2040.2 493.7L2036.8 490.3L2030.1 488z" fill="#E8A0C8" stroke="#E8A0C8" stroke-width="1.6" stroke-linejoin="round"/>
<path transform="translate(1902.3 390.4)" d="M144 94zm-2 0zm-1 1zm-1-2zm-1 1zm-1 0zm-5-1zm-2 2zm-2 0zm-1 3zm3 0zm3 2zm1 0zm0 1zm12-5zm1 4zm-2 4zm0-1zm-1-1zm-1 2zm-1 1zm0-1zm-1-2zm-2 2zm-1 0z" stroke="#E8A0C8" stroke-width="2.2" stroke-linecap="round" fill="none"/>
<path d="M2041.4 484.7L2048.2 482.4L2056.1 483.5L2067.4 484.7L2074.2 482.4L2078.7 481.3L2086.7 477.9L2091.2 479L2095.7 484.7L2092.3 486.9L2085.5 489.2L2078.7 492.6L2073.1 493.7L2065.2 492.6L2057.2 489.2L2051.6 489.2L2045.9 488z" fill="#EAB323" stroke="#EAB323" stroke-width="1.6" stroke-linejoin="round"/>
<path transform="translate(1902.3 390.4)" d="M183 87zm0 1zm5 0zm6 6zm-1-2zm0 2zm0 0zm0 0zm-2-2zm-7 2zm-4-4zm-2 1zm-8 1zm0 0zm-1 1zm-1 0zm-4 1zm-1 0zm-5 0zm-5-1zm-3 0zm-4-1zm-1 0zm-3 1zm-2 2zm1 1zm1 0zm1 0zm1 2zm1 0zm1 1zm1-1zm0-2zm5 3zm1-1zm2 0zm0 1zm1-2zm3 3zm9-1zm8-2zm2 4zm12-4zm2-1zm-13 6zm-3 1zm-1 0zm-1 0zm-5 0zm-1-1zm0 1zm0-1zm-5 1z" stroke="#EAB323" stroke-width="2.2" stroke-linecap="round" fill="none"/>
<path d="M2075.4 495.4L2079.9 493.7L2083.3 498.2L2083.3 502.8L2079.9 502.8L2076.5 499.4z" fill="#EAB323" stroke="#EAB323" stroke-width="1.6" stroke-linejoin="round"/>
<path transform="translate(1902.3 390.4)" d="M179 104zm0 3zm-4-2zm0 5zm1 0zm0 2zm1 1zm2-2zm1-1zm1 2zm0 1z" stroke="#EAB323" stroke-width="2.2" stroke-linecap="round" fill="none"/>
<path d="M1934.9 481.3L1942.9 477.9L1947.4 480.1L1949.7 486.9L1945.1 491.4L1939.5 490.3L1936.1 484.7z" fill="#DD2B2A" stroke="#DD2B2A" stroke-width="1.6" stroke-linejoin="round"/>
<path transform="translate(1902.3 390.4)" d="M37 89zm0 0zm1-1zm3 0zm3 1zm2 0zm0 6zm-12-3zm-1-1zm2 6zm0-1zm6 4zm0 0zm0 1zm3 0zm0 0zm1-2zm0-1zm1 1z" stroke="#DD2B2A" stroke-width="2.2" stroke-linecap="round" fill="none"/>
<path d="M1933.8 498.2L1937.2 492.6L1944 490.3L1951.9 492.6L1956.4 497.1L1955.3 501.6L1947.4 503.9L1938.3 503.9L1933.8 501.6z" fill="#13917A" stroke="#13917A" stroke-width="1.6" stroke-linejoin="round"/>
<path transform="translate(1902.3 390.4)" d="M40 100zm2 1zm1 0zm2 0zm0-1zm3 1zm6 6zm-2-1zm-2-4zm-9 0zm-5 0zm-1 2zm-1 1zm-1-2zm-2 5zm1 3zm0 2zm0-4zm3 4zm14-1zm2 1zm0-1zm2-1zm1 0zm-12 3zm0 0z" stroke="#13917A" stroke-width="2.2" stroke-linecap="round" fill="none"/>
<path transform="translate(1902.3 390.4)" d="M55 89zm1 0zm0-1zm2 1zm0 0zm2-1zm0 1zm3 1zm-1 3zm0 0zm0-1zm0 2zm-1 0zm0-1zm-1 2zm-1-4zm-1 0zm0 2zm-1 0zm0-2zm0 3zm-1 1zm0-1zm-1-2zm-1 2zm0-2zm0-1zm-1-1zm0 4zm0 0zm-1-3zm0 0zm0 2zm0-1zm0-1zm-1 2zm0 0zm0 2zm0-2zm-1 0zm0-2zm0 0zm-1 2zm-2 1zm0-3zm1 5zm0 0zm1 2zm2-2zm0 1zm0-1zm0 0zm2 2zm0-1zm1 3zm2-4zm2 1zm1 1zm1 0zm1 1z" stroke="#B5C878" stroke-width="2.2" stroke-linecap="round" fill="none"/>
<path d="M2052.7 510.7L2056.1 506.2L2062.9 503.9L2065.2 506.2L2061.8 509.6L2056.1 511.8z" fill="#D6DFDD" stroke="#D6DFDD" stroke-width="1.6" stroke-linejoin="round"/>
<path transform="translate(1902.3 390.4)" d="M164 116zm-4 3zm-1 0zm-1-5zm-1 1zm-2 1zm-2 1zm-3 4zm2 0zm1 0zm2 0zm2-1z" stroke="#D6DFDD" stroke-width="2.2" stroke-linecap="round" fill="none"/>
<path d="M1958.7 560.5L1965.5 557.1L1974.6 551.5L1978.5 552L1974.6 556L1965.5 561.7L1961 567.3L1958.7 566.2z" fill="#73A7B8" stroke="#73A7B8" stroke-width="1.6" stroke-linejoin="round"/>
<path transform="translate(1902.3 390.4)" d="M73 160zm2 5zm0-3zm-2 0zm-2 1zm-2 4zm-1-4zm0 4zm-1-2zm-1 1zm-4 0zm-1 1zm-5 5zm0-2zm4-2zm4 2zm0 1zm2-1zm1-2zm3 0zm-10 8zm-1 0zm-1 1z" stroke="#73A7B8" stroke-width="2.2" stroke-linecap="round" fill="none"/>
<path d="M1976.3 563.9L1983.6 563.9L1984.8 566.2L1976.8 567.3z" fill="#73A7B8" stroke="#73A7B8" stroke-width="1.6" stroke-linejoin="round"/>
<path transform="translate(1902.3 390.4)" d="M75 173zm7 1zm-1 2zm-1-2zm-4 3zm0 0zm-2-3zm-1 2z" stroke="#73A7B8" stroke-width="2.2" stroke-linecap="round" fill="none"/>
<path d="M1986.5 558.3L1991.6 557.1L1998.3 562.8L1997.2 565.1L1990.4 568.4L1988.2 566.2L1992.7 562.8L1987 560.5z" fill="#73A7B8" stroke="#73A7B8" stroke-width="1.6" stroke-linejoin="round"/>
<path transform="translate(1902.3 390.4)" d="M89 166zm-5 2zm0 2zm1 1zm1-1zm0-2zm1 0zm1 0zm1 1zm0 4zm1 0zm5 0zm2-1zm-1 2zm-1 1zm-1-1zm-5 3z" stroke="#73A7B8" stroke-width="2.2" stroke-linecap="round" fill="none"/>
<path d="M2022.1 562.8L2027.8 565.1L2034.6 566.2L2033.5 568.4L2023.3 565.1z" fill="#73A7B8" stroke="#73A7B8" stroke-width="1.6" stroke-linejoin="round"/>
<path transform="translate(1902.3 390.4)" d="M120 173zm1 0zm12 2zm-2 1zm0 0zm-2 1zm-2-1zm-1-1zm-4-1zm0 1zm-2-1z" stroke="#73A7B8" stroke-width="2.2" stroke-linecap="round" fill="none"/>
<path d="M2036.8 523.7L2039.7 523.7L2040.8 531.1L2038.2 531.3z" fill="#73A7B8" stroke="#73A7B8" stroke-width="1.6" stroke-linejoin="round"/>
<path transform="translate(1902.3 390.4)" d="M135 137zm3-3zm0 2zm0-1zm2 4zm0 2zm-2-2zm-3-1z" stroke="#73A7B8" stroke-width="2.2" stroke-linecap="round" fill="none"/>
<path d="M2068.3 532.6L2069.9 532.6L2069.9 534.3L2068.3 534.3z" fill="#A31F30" stroke="#A31F30" stroke-width="1.6" stroke-linejoin="round"/>
<path transform="translate(1902.3 390.4)" d="M167 142zm0 2z" stroke="#A31F30" stroke-width="2.2" stroke-linecap="round" fill="none"/>
<path d="M1938.1 517.3L1939.7 517.3L1939.7 518.8L1938.1 518.8z" fill="#73A7B8" stroke="#73A7B8" stroke-width="1.6" stroke-linejoin="round"/>
<path transform="translate(1902.3 390.4)" d="M38 126zm-2 2z" stroke="#73A7B8" stroke-width="2.2" stroke-linecap="round" fill="none"/>
<path d="M1902.3 576.2H2117.5" stroke="#111" stroke-width="1.6" fill="none"/>
<g font-size="15" text-anchor="middle" font-weight="bold"><text x="2010" y="385">OLv3</text></g>
<path d="M1234 390.4V577" stroke="#111" stroke-width="1.6" fill="none"/>
<g font-size="18" text-anchor="middle"><text x="1219.8" y="482.8" transform="rotate(-90 1219.8 482.8)">UMAP_2</text><text x="1673.7" y="599">UMAP_1</text></g>
<path d="M1291.2 616.4V863.5M1390.4 616.4V863.5M1489.7 616.4V863.5M1588.9 616.4V863.5M1688.2 616.4V863.5M1787.4 616.4V863.5M1886.6 616.4V863.5M1985.9 616.4V863.5M2085.1 616.4V863.5M1249.9 651.4H2150.1M1249.9 710H2150.1M1249.9 769H2150.1M1249.9 828H2150.1" stroke="#222" stroke-width="1.2" fill="none"/>
<g stroke="#111" stroke-width="1.5"><path fill="#EAB323" d="M1291.2 624.9H1292.4V677.9H1291.2zM1510.3 624.9H1590.1V677.9H1510.3z"/><path fill="#111111" d="M1292.4 624.9H1294V677.9H1292.4zM1294 624.9H1296V677.9H1294zM1296 624.9H1298.5V677.9H1296zM1298.5 624.9H1301.1V677.9H1298.5z"/><path fill="#73A7B8" d="M1301.1 624.9H1305.2V677.9H1301.1zM1305.2 624.9H1315.1V677.9H1305.2zM1318.8 624.9H1335.3V677.9H1318.8zM1383.5 624.9H1404.9V677.9H1383.5z"/><path fill="#4A97BE" d="M1315.1 624.9H1318.8V677.9H1315.1zM1335.3 624.9H1357.7V677.9H1335.3zM1357.7 624.9H1372.5V677.9H1357.7zM1468.2 624.9H1495.3V677.9H1468.2zM1613 624.9H1669.9V677.9H1613zM1877.1 624.9H1934.3V677.9H1877.1z"/><path fill="#E8A0C8" d="M1372.5 624.9H1383.5V677.9H1372.5z"/><path fill="#13917A" d="M1404.9 624.9H1418V677.9H1404.9zM1590.1 624.9H1613V677.9H1590.1z"/><path fill="#5BA9CB" d="M1418 624.9H1443.1V677.9H1418zM1443.1 624.9H1468.2V677.9H1443.1z"/><path fill="#DD2B2A" d="M1495.3 624.9H1510.3V677.9H1495.3z"/><path fill="#92C3D8" d="M1669.9 624.9H1782.5V677.9H1669.9z"/><path fill="#B5C878" d="M1782.5 624.9H1877.1V677.9H1782.5z"/><path fill="#C9BFAE" d="M1934.3 624.9H2109.3V677.9H1934.3z"/></g>
<g font-size="15.3" text-anchor="middle" fill="#1a1a1a"><text x="1310.15" y="656.9">2</text><text x="1327.05" y="656.9">I1</text><text x="1346.5" y="656.9">D9</text><text x="1365.1" y="656.9">D8</text><text x="1394.2" y="656.9">D7</text><text x="1416.95" y="651.4" transform="rotate(-90 1416.95 651.4)">Glut2</text><text x="1430.55" y="656.9">D6</text><text x="1455.65" y="656.9">D5</text><text x="1481.75" y="656.9">D4</text><text x="1508.3" y="651.4" transform="rotate(-90 1508.3 651.4)">Chol1</text><text x="1550.2" y="656.9">Glia1</text><text x="1607.05" y="651.4" transform="rotate(-90 1607.05 651.4)">Glut1</text><text x="1641.45" y="656.9">D3</text><text x="1726.2" y="656.9">D2</text><text x="1829.8" y="656.9">Neuro2</text><text x="1905.7" y="656.9">D1</text><text x="2021.8" y="656.9">Neuro1</text></g>
<g font-size="15.4" text-anchor="end" fill="#444"><text x="1216.6" y="656.9">OLv3</text></g>
<path fill="#222" d="M1246.5 649.4H1250V653.4H1246.5z"/>
<g stroke="#111" stroke-width="1.5"><path fill="#111111" d="M1291.2 683.5H1294.2V736.5H1291.2zM1302.3 683.5H1304V736.5H1302.3zM1313 683.5H1315.5V736.5H1313zM1318.5 683.5H1321.4V736.5H1318.5zM1321.4 683.5H1324.6V736.5H1321.4z"/><path fill="#8A9A9A" d="M1294.2 683.5H1296.7V736.5H1294.2z"/><path fill="#A31F30" d="M1296.7 683.5H1302.3V736.5H1296.7z"/><path fill="#4E5B85" d="M1304 683.5H1307.2V736.5H1304z"/><path fill="#5590D8" d="M1307.2 683.5H1310.7V736.5H1307.2z"/><path fill="#73A7B8" d="M1310.7 683.5H1313V736.5H1310.7zM1339.5 683.5H1342.5V736.5H1339.5zM1346.5 683.5H1350.3V736.5H1346.5z"/><path fill="#4A97BE" d="M1315.5 683.5H1318.5V736.5H1315.5zM1342.5 683.5H1346.5V736.5H1342.5zM1404.9 683.5H1425.1V736.5H1404.9zM1450.5 683.5H1470.2V736.5H1450.5z"/><path fill="#13917A" d="M1324.6 683.5H1327.6V736.5H1324.6zM1327.6 683.5H1336.9V736.5H1327.6zM1375.9 683.5H1404.9V736.5H1375.9z"/><path fill="#5BA9CB" d="M1336.9 683.5H1339.5V736.5H1336.9z"/><path fill="#DD2B2A" d="M1350.3 683.5H1375.9V736.5H1350.3z"/><path fill="#92C3D8" d="M1425.1 683.5H1441.1V736.5H1425.1z"/><path fill="#B5C878" d="M1441.1 683.5H1450.5V736.5H1441.1z"/><path fill="#C9BFAE" d="M1470.2 683.5H1498.5V736.5H1470.2z"/></g>
<g font-size="15.3" text-anchor="middle" fill="#1a1a1a"><text x="1368.6" y="710" transform="rotate(-90 1368.6 710)">Chol1</text><text x="1395.9" y="710" transform="rotate(-90 1395.9 710)">Glut1</text><text x="1415" y="715.5">D3</text><text x="1433.1" y="715.5">D2</text><text x="1451.3" y="710" transform="rotate(-90 1451.3 710)">Neuro2</text><text x="1460.35" y="715.5">D1</text><text x="1489.85" y="710" transform="rotate(-90 1489.85 710)">Neuro1</text></g>
<g font-size="15.4" text-anchor="end" fill="#444"><text x="1216.6" y="715.5">OL2</text></g>
<path fill="#222" d="M1246.5 708H1250V712H1246.5z"/>
<g stroke="#111" stroke-width="1.5"><path fill="#73A7B8" d="M1291.2 742.5H1294.2V795.5H1291.2zM1325.4 742.5H1332.3V795.5H1325.4zM1371.7 742.5H1380.3V795.5H1371.7z"/><path fill="#13917A" d="M1294.2 742.5H1297.9V795.5H1294.2zM1380.3 742.5H1411.1V795.5H1380.3zM1470.7 742.5H1501V795.5H1470.7z"/><path fill="#A31F30" d="M1297.9 742.5H1304V795.5H1297.9z"/><path fill="#4E5B85" d="M1304 742.5H1313.9V795.5H1304z"/><path fill="#D6DFDD" d="M1313.9 742.5H1316.3V795.5H1313.9z"/><path fill="#5590D8" d="M1316.3 742.5H1325.4V795.5H1316.3z"/><path fill="#4A97BE" d="M1332.3 742.5H1348.3V795.5H1332.3zM1348.3 742.5H1363.8V795.5H1348.3zM1433.3 742.5H1443.1V795.5H1433.3zM1501 742.5H1601.2V795.5H1501zM1757.5 742.5H1884.4V795.5H1757.5z"/><path fill="#E8A0C8" d="M1363.8 742.5H1371.7V795.5H1363.8z"/><path fill="#5BA9CB" d="M1411.1 742.5H1422.9V795.5H1411.1zM1422.9 742.5H1433.3V795.5H1422.9z"/><path fill="#DD2B2A" d="M1443.1 742.5H1465.3V795.5H1443.1z"/><path fill="#EAB323" d="M1465.3 742.5H1470.7V795.5H1465.3z"/><path fill="#92C3D8" d="M1601.2 742.5H1680.2V795.5H1601.2z"/><path fill="#B5C878" d="M1680.2 742.5H1757.5V795.5H1680.2z"/><path fill="#C9BFAE" d="M1884.4 742.5H1999.3V795.5H1884.4z"/></g>
<g font-size="15.3" text-anchor="middle" fill="#1a1a1a"><text x="1340.3" y="774.5">D9</text><text x="1356.05" y="774.5">D8</text><text x="1381.5" y="769" transform="rotate(-90 1381.5 769)">D7</text><text x="1401.2" y="769" transform="rotate(-90 1401.2 769)">Glut2</text><text x="1422.5" y="769" transform="rotate(-90 1422.5 769)">D6</text><text x="1433.6" y="769" transform="rotate(-90 1433.6 769)">D5</text><text x="1443.7" y="769" transform="rotate(-90 1443.7 769)">D4</text><text x="1459.7" y="769" transform="rotate(-90 1459.7 769)">Chol1</text><text x="1491.35" y="769" transform="rotate(-90 1491.35 769)">Glut1</text><text x="1551.1" y="774.5">D3</text><text x="1640.7" y="774.5">D2</text><text x="1718.85" y="774.5">Neuro2</text><text x="1820.95" y="774.5">D1</text><text x="1941.85" y="774.5">Neuro1</text></g>
<g font-size="15.4" text-anchor="end" fill="#444"><text x="1216.6" y="774.5">OL1</text></g>
<path fill="#222" d="M1246.5 767H1250V771H1246.5z"/>
<g stroke="#111" stroke-width="1.5"><path fill="#111111" d="M1291.2 801.5H1294V854.5H1291.2zM1294 801.5H1297.9V854.5H1294zM1310.2 801.5H1313.1V854.5H1310.2z"/><path fill="#73A7B8" d="M1297.9 801.5H1304V854.5H1297.9zM1313.1 801.5H1323.7V854.5H1313.1zM1366.8 801.5H1388.5V854.5H1366.8z"/><path fill="#4A97BE" d="M1304 801.5H1310.2V854.5H1304zM1323.7 801.5H1338.5V854.5H1323.7zM1445.1 801.5H1477.6V854.5H1445.1zM1519.4 801.5H1540.4V854.5H1519.4zM1605.1 801.5H1648.7V854.5H1605.1z"/><path fill="#E8A0C8" d="M1338.5 801.5H1366.8V854.5H1338.5z"/><path fill="#13917A" d="M1388.5 801.5H1394.6V854.5H1388.5zM1494.3 801.5H1519.4V854.5H1494.3z"/><path fill="#5BA9CB" d="M1394.6 801.5H1416.8V854.5H1394.6zM1416.8 801.5H1445.1V854.5H1416.8z"/><path fill="#DD2B2A" d="M1477.6 801.5H1492.3V854.5H1477.6z"/><path fill="#92C3D8" d="M1492.3 801.5H1494.3V854.5H1492.3zM1540.4 801.5H1545.3V854.5H1540.4z"/><path fill="#B5C878" d="M1545.3 801.5H1605.1V854.5H1545.3z"/><path fill="#C9BFAE" d="M1648.7 801.5H1655.1V854.5H1648.7z"/></g>
<g font-size="15.3" text-anchor="middle" fill="#1a1a1a"><text x="1336.6" y="828" transform="rotate(-90 1336.6 828)">D9</text><text x="1377.65" y="833.5">D7</text><text x="1405.7" y="833.5">D6</text><text x="1430.95" y="833.5">D5</text><text x="1461.35" y="833.5">D4</text><text x="1490.45" y="828" transform="rotate(-90 1490.45 828)">Chol1</text><text x="1512.35" y="828" transform="rotate(-90 1512.35 828)">Glut1</text><text x="1529.9" y="833.5">D3</text><text x="1575.2" y="833.5">Neuro2</text><text x="1626.9" y="833.5">D1</text></g>
<g font-size="15.4" text-anchor="end" fill="#444"><text x="1216.6" y="833.5">K_OL</text></g>
<path fill="#222" d="M1246.5 826H1250V830H1246.5z"/>
<rect x="1249.9" y="616.4" width="900.2" height="247.1" fill="none" stroke="#222" stroke-width="1.4" />
<g font-size="16.5" text-anchor="middle" fill="#444"><text x="1294.2" y="885.5">0</text></g>
<path fill="#222" d="M1289.2 863H1293.2V866H1289.2z"/>
<g font-size="16.5" text-anchor="middle" fill="#444"><text x="1492.67" y="885.5">2500</text></g>
<path fill="#222" d="M1487.7 863H1491.7V866H1487.7z"/>
<g font-size="16.5" text-anchor="middle" fill="#444"><text x="1691.15" y="885.5">5000</text></g>
<path fill="#222" d="M1686.2 863H1690.2V866H1686.2z"/>
<g font-size="16.5" text-anchor="middle" fill="#444"><text x="1889.62" y="885.5">7500</text></g>
<path fill="#222" d="M1884.6 863H1888.6V866H1884.6z"/>
<g font-size="16.5" text-anchor="middle" fill="#444"><text x="2088.1" y="885.5">10000</text></g>
<path fill="#222" d="M2083.1 863H2087.1V866H2083.1z"/>
<g font-size="17" text-anchor="middle" font-weight="bold"><text x="1689.4" y="907">#Cells</text></g>
<g font-size="15.3" text-anchor="middle" fill="#1a1a1a"><text x="1280.5" y="611">Glia2</text><text x="1320" y="600">Glut2</text><text x="1332" y="612.5">Chol2</text><text x="1427.7" y="879">Glut2</text><text x="1565" y="886">D2</text><text x="1691.3" y="818">Neuro1</text></g>
<rect x="26.6" y="952.6" width="1027.8" height="987.5" fill="none" stroke="#6f6f6f" stroke-width="1.3" />
<g font-size="47" font-weight="bold"><text x="-2" y="979">c</text></g>
<g stroke="#333" stroke-width="1.25" stroke-linejoin="round"><path fill="#C8C8C8" d="M120,1051h12c1.3-.3 5.8-1.2 8-2s5.5-2 5-3s-6-2.2 -8-3s-3.8-1.2 -4-2s2.2-2 3-3s2.3-1.8 2-3s-2.7-2.8 -4-4s-2.9-1.8 -4-3s-2-1 -2.5-4s-.3-6.5 -.5-14s-.5-25.8 -.6-31H125.6c-.1,5.2 -.4,23.5 -.6,31s0,11 -.5,14s-1.4,2.8 -2.5,4s-2.7,1.8 -4,3s-3.7,2.8 -4,4s1.2,2 2,3s3.2,2.2 3,3s-2,1.2 -4,2s-7.5,2 -8,3s2.8,2.2 5,3s6.7,1.7 8,2z"/><path fill="#4E5B85" d="M160.7,1051h14c1.2-.3 5-1.2 7-2s5.2-2 5-3s-4.3-2 -6-3s-3.5-2 -4-3s.8-2 1-3s.5-1.8 0-3s-2-2.7 -3-4s-2.2-2.7 -3-4s-1.5-2.5 -2-4s-.7-3.3 -1-5s-.5-4.2 -.6-5H167.3c-.1,.8 -.3,3.3 -.6,5s-.5,3.5 -1,5s-1.2,2.7 -2,4s-2,2.7 -3,4s-2.5,2.8 -3,4s-.2,2 0,3s1.5,2 1,3s-2.3,2 -4,3s-5.8,2 -6,3s3,2.2 5,3s5.8,1.7 7,2z"/><path fill="#C8C8C8" d="M203.4,1051h12c1.2-.3 4.8-1.2 7-2s6.3-2 6-3s-6-2.2 -8-3s-3.8-1.2 -4-2s2.2-2 2.5-3s.1-1.8 -.5-3s-2.1-2.7 -3-4s-1.8-2.5 -2.5-4s-1.6-3.5 -2-5s-.3-2.6 -.5-4s-.5-3.7 -.6-4.4H209c-.1,.7 -.4,3 -.6,4.4s-.1,2.5 -.5,4s-1.2,3.5 -2,5s-1.6,2.7 -2.5,4s-2.4,2.8 -3,4s-.8,2 -.5,3s2.8,2.2 2.5,3s-2,1.2 -4,2s-7.7,2 -8,3s3.8,2.2 6,3s5.8,1.7 7,2z"/><path fill="#B26CC0" d="M247.1,1050h8c1.2-.3 4.7-1.2 7-2s6.3-2 7-3s-2-1.8 -3-3s-2.3-2.7 -3-4s-.5-2.7 -1-4s-1-2.8 -2-4s-2.9-1.8 -4-3s-1.9-2.5 -2.5-4s-.7-3.2 -1-5s-.5-4.3 -.7-6s-.3-3.7 -.4-4.4H250.7c-.1,.7 -.2,2.7 -.4,4.4s-.4,4.2 -.7,6s-.4,3.5 -1,5s-1.4,2.8 -2.5,4s-3,1.8 -4,3s-1.5,2.7 -2,4s-.3,2.7 -1,4s-2,2.8 -3,4s-3.7,2 -3,3s4.7,2.2 7,3s5.8,1.7 7,2z"/><path fill="#13917A" d="M286.8,1051h12c1.2-.3 4.8-1.2 7-2s6.2-2 6-3s-5.3-2 -7-3s-2.8-2 -3-3s1.7-2 2-3s.7-1.8 0-3s-2.8-2.7 -4-4s-2.2-2.5 -3-4s-1.5-3 -2-5s-.7-4.2 -1-7s-.5-8.3 -.6-10H292.4c-.1,1.7 -.3,7.2 -.6,10s-.5,5 -1,7s-1.2,3.5 -2,5s-1.8,2.7 -3,4s-3.3,2.8 -4,4s-.3,2 0,3s2.2,2 2,3s-1.3,2 -3,3s-6.8,2 -7,3s3.8,2.2 6,3s5.8,1.7 7,2z"/><path fill="#A31F30" d="M327.5,1051h14c1.2-.3 5-1.2 7-2s5-2 5-3s-3.7-2 -5-3s-2.8-2 -3-3s1.2-2 1.5-3s.8-1.8 .5-3s-1.2-2.7 -2-4s-1.7-2.7 -2.5-4s-1.7-2.7 -2.5-4s-1.8-2.5 -2.5-4s-1.6-2.8 -2-5s-.3-5.3 -.5-8s-.5-7 -.6-8.4H334.1c-.1,1.4 -.4,5.7 -.6,8.4s-.1,5.8 -.5,8s-1.2,3.5 -2,5s-1.7,2.7 -2.5,4s-1.7,2.7 -2.5,4s-1.8,2.7 -2.5,4s-1.8,2.8 -2,4s.2,2 .5,3s1.8,2 1.5,3s-1.7,2 -3,3s-5,2 -5,3s3,2.2 5,3s5.8,1.7 7,2z"/><path fill="#EAB323" d="M369.2,1051h14c1.2-.3 5.2-1.2 7-2s3.7-1.8 4-3s-1.5-2.7 -2-4s-.5-2.7 -1-4s-1.3-2.7 -2-4s-1.3-2.7 -2-4s-1.2-2.7 -2-4s-2.2-2.7 -3-4s-1.3-2.7 -2-4s-1.5-2.3 -2-4s-.7-3.1 -1-6s-.5-9.5 -.6-11.4H375.8c-.1,1.9 -.3,8.5 -.6,11.4s-.5,4.3 -1,6s-1.3,2.7 -2,4s-1.2,2.7 -2,4s-2.2,2.7 -3,4s-1.3,2.7 -2,4s-1.3,2.7 -2,4s-1.5,2.7 -2,4s-.5,2.7 -1,4s-2.3,2.8 -2,4s2.2,2.2 4,3s5.8,1.7 7,2z"/><path fill="#13917A" d="M410.9,1050h14c1.2-.3 5-1.2 7-2s5.3-1.9 5-2.7s-5.2-1.6 -7-2.3s-3.7-1.2 -4-2s1.7-2.1 2-3s.7-1.2 0-2.4s-3-3.2 -4-4.6s-1.5-2.7 -2-4s-.6-2.5 -1-4s-1.1-3.1 -1.5-5s-.9-5.1 -1.1-6.1H417.5c-.2,1 -.7,4.2 -1.1,6.1s-1.1,3.5 -1.5,5s-.5,2.7 -1,4s-1,2.6 -2,4s-3.3,3.4 -4,4.6s-.3,1.5 0,2.4s2.3,2.2 2,3s-2.2,1.3 -4,2s-6.7,1.5 -7,2.3s3,1.9 5,2.7s5.8,1.7 7,2z"/><path fill="#C8C8C8" d="M453.6,1050h12c1.2-.3 4.8-1.2 7-2s6.5-1.6 6-2.5s-6.8-2.1 -9-3s-3.8-1.6 -4-2.5s2-2 3-3s3.5-2 3-3s-4.5-2 -6-3s-2.2-2.3 -3-3s-1.2,1.8 -1.5-1.2s-.3-10.3 -.5-16.8s-.5-18.2 -.6-21.9H459.2c-.1,3.6 -.4,15.4 -.6,21.9s-.2,13.8 -.5,16.8s-.8,.5 -1.5,1.2s-1.5,2 -3,3s-5.5,2 -6,3s2,2 3,3s3.2,2.1 3,3s-1.8,1.6 -4,2.5s-8.5,2.1 -9,3s3.8,1.8 6,2.5s5.8,1.7 7,2z"/><path fill="#88B5AA" d="M494.3,1050h14c1.2-.3 5-1.2 7-2s5-1.7 5-2.7s-3.7-2.2 -5-3.3s-2.7-2 -3-3s.8-2.1 1-3s.7-1 0-2.2s-2.8-3.3 -4-4.8s-2.3-2.8 -3-4s-.5-1.8 -1-3.5s-1.5-4.6 -2-6.5s-.5-3.3 -.8-5s-.7-4.3 -.8-5.2H500.9c-.1,.9 -.5,3.5 -.8,5.2s-.3,3.1 -.8,5s-1.5,4.8 -2,6.5s-.3,2.2 -1,3.5s-1.8,2.5 -3,4s-3.3,3.6 -4,4.8s-.2,1.3 0,2.2s1.3,2 1,3s-1.7,2 -3,3s-5,2.3 -5,3.3s3,1.9 5,2.7s5.8,1.7 7,2z"/><path fill="#C8C8C8" d="M537,1050h12c1.2-.3 4.8-.9 7-2s6.3-3.2 6-4.5s-6.3-2.5 -8-3.5s-1.9-1.6 -2-2.6s1.3-2.2 1.5-3.4s.2-2.4 -.5-3.7s-2.8-2.9 -4-4.3s-2.3-2.7 -3-4s-.7-2.3 -1-4s-.7-4 -1-6s-.5-5 -.6-6H542.6c-.1,1 -.3,4 -.6,6s-.7,4.3 -1,6s-.3,2.7 -1,4s-1.8,2.6 -3,4s-3.2,3 -4,4.3s-.7,2.5 -.5,3.7s1.6,2.4 1.5,3.4s-.3,1.6 -2,2.6s-7.7,2.2 -8,3.5s3.8,3.4 6,4.5s5.8,1.7 7,2z"/><path fill="#DD2B2A" d="M577.7,1050h14c1.2-.3 5-1.1 7-2s5.2-2.3 5-3.5s-4.8-2.4 -6-3.5s-1-1.8 -1-3s1.2-2.7 1-4s-1.2-2.7 -2-4s-2-2.9 -3-4s-2.2-1.5 -3-2.7s-1.3-2.7 -2-4.3s-2-4.5 -2.4-5.4H584.1c-.4,.9 -1.7,3.8 -2.4,5.4s-1.2,3.1 -2,4.3s-2,1.6 -3,2.7s-2.2,2.7 -3,4s-1.8,2.7 -2,4s1,2.8 1,4s.2,1.9 -1,3s-5.8,2.3 -6,3.5s3,2.6 5,3.5s5.8,1.7 7,2z"/><path fill="#88B5AA" d="M619.4,1050h14c1.2-.3 5-.8 7-2s5-3.5 5-5s-3.8-2.7 -5-4s-1.3-2.7 -2-4s-1.2-2.7 -2-4s-2.1-2.7 -3-4s-1.8-2.5 -2.5-4s-1-3.2 -1.5-5s-1.2-3.8 -1.5-6s-.3-4.5 -.5-7s-.5-6.4 -.6-7.7H626c-.1,1.3 -.4,5.2 -.6,7.7s-.2,4.8 -.5,7s-1,4.2 -1.5,6s-.8,3.5 -1.5,5s-1.6,2.7 -2.5,4s-2.2,2.7 -3,4s-1.3,2.7 -2,4s-.8,2.7 -2,4s-5,2.5 -5,4s3,3.8 5,5s5.8,1.7 7,2z"/><path fill="#C8C8C8" d="M661.1,1050h14c1.2-.3 5-1 7-2s4.5-2.8 5-4s-1.2-1.8 -2-3s-2.1-2.7 -3-4s-1.7-2.7 -2.5-4s-1.7-2.7 -2.5-4s-1.8-2.5 -2.5-4s-1.5-3.3 -2-5s-.6-3.3 -1-5s-1-3.5 -1.5-5s-1.2-3.6 -1.4-4.3H667.5c-.2,.7 -.9,2.8 -1.4,4.3s-1.1,3.3 -1.5,5s-.5,3.3 -1,5s-1.2,3.5 -2,5s-1.7,2.7 -2.5,4s-1.7,2.7 -2.5,4s-1.6,2.7 -2.5,4s-2.2,2.8 -3,4s-2.5,1.8 -2,3s3,3 5,4s5.8,1.7 7,2z"/><path fill="#13917A" d="M702.8,1050h14c1.2-.3 5-1 7-2s4.5-2.7 5-4s-1.2-2.7 -2-4s-2.2-2.7 -3-4s-1.3-2.7 -2-4s-1.2-2.7 -2-4s-1.8-2.7 -2.5-4s-1.4-2.7 -2-4s-1-2.7 -1.5-4s-1-2.7 -1.5-4s-.9-2.9 -1.3-4s-.7-2.2 -.8-2.6H709.4c-.1,.4 -.4,1.5 -.8,2.6s-.8,2.7 -1.3,4s-1,2.7 -1.5,4s-.9,2.7 -1.5,4s-1.2,2.7 -2,4s-1.8,2.7 -2.5,4s-1.3,2.7 -2,4s-1.2,2.7 -2,4s-2.2,2.7 -3,4s-2.5,2.7 -2,4s3,3 5,4s5.8,1.7 7,2z"/><path fill="#4A97BE" d="M741.5,1050.4h20c1-.4 4.6-1.5 6-2.4s2-2.1 2.5-3s.6-1.4 .5-2.6s-.7-3.1 -1-4.4s-.5-2.3 -1-3.6s-1.3-2.9 -2-4.4s-1-2.9 -2-4.4s-2.8-3.1 -4-4.6s-2.5-2.6 -3-4.3s0-3.9 0-5.7s.3-3.6 0-5s-1.5-2 -2-3.5s-.8-3.9 -1-5.5s-.2-2.9 -.5-4s-.8-2.4 -1-2.9H750c-.2,.5 -.8,1.8 -1,2.9s-.2,2.4 -.5,4s-.5,4 -1,5.5s-1.7,2.1 -2,3.5s0,3.2 0,5s.5,4 0,5.7s-1.8,2.8 -3,4.3s-3,3.1 -4,4.6s-1.3,2.9 -2,4.4s-1.5,3.1 -2,4.4s-.7,2.3 -1,3.6s-.9,3.2 -1,4.4s0,1.7 .5,2.6s1.1,2.1 2.5,3s5,2 6,2.4z"/><path fill="#EAB323" d="M778.2,1048.6h30c.5-.4 2.3-1.5 3-2.6s.8-2.5 1-4s0-3.5 0-5s.2-2.8 0-4.3s-.7-2.9 -1-4.7s-.3-4 -1-6s-1.8-3.9 -3-6s-2.7-4.4 -4-6.4s-2.8-3.8 -4-5.6s-2.4-3.5 -3-5s-.3-3.1 -.5-4s-.4-1.1 -.5-1.3H791.2c-.1,.2 -.3,.4 -.5,1.3s.1,2.5 -.5,4s-1.8,3.2 -3,5s-2.7,3.6 -4,5.6s-2.8,4.3 -4,6.4s-2.3,4 -3,6s-.7,4.2 -1,6s-.8,3.2 -1,4.7s0,2.8 0,4.3s-.2,3.5 0,5s.3,2.9 1,4s2.5,2.2 3,2.6z"/><path fill="#C8C8C8" d="M827.9,1050h14c1.2-.3 5-.9 7-2s5.5-3.3 5-4.7s-6-2.6 -8-3.8s-3.6-2 -4-3.3s1.2-3 1.5-4.2s1.1-1.8 .5-3s-3-2.5 -4-4s-1.5-3 -2-4.7s-.9-3.6 -1.2-5.3s-.6-3.2 -.8-5s-.5-4.8 -.6-5.7H834.5c-.1,1 -.4,3.9 -.6,5.7s-.5,3.3 -.8,5s-.7,3.6 -1.2,5.3s-1,3.2 -2,4.7s-3.4,2.8 -4,4s.2,1.8 .5,3s1.9,3 1.5,4.2s-2,2.1 -4,3.3s-7.5,2.4 -8,3.8s3,3.6 5,4.7s5.8,1.7 7,2z"/><path fill="#73A7B8" d="M869.6,1050h14c1.2-.3 5-1 7-2s5-2.7 5-4s-3.7-2.7 -5-4s-2.2-3.1 -3-4s-1.2-.6 -2-1.6s-2-2.9 -3-4.4s-2.3-2.9 -3-4.4s-.6-2.8 -1-4.6s-1.3-5 -1.6-6H876.2c-.3,1 -1.2,4.2 -1.6,6s-.3,3.1 -1,4.6s-2,2.9 -3,4.4s-2.2,3.4 -3,4.4s-1.2,.7 -2,1.6s-1.7,2.7 -3,4s-5,2.7 -5,4s3,3 5,4s5.8,1.7 7,2z"/><path fill="#13917A" d="M911.3,1050h14c1.2-.3 5-1 7-2s4.7-2.7 5-4s-2-2.7 -3-4s-2-2.5 -3-4s-2-3.4 -3-5.1s-2.2-3.2 -3-4.9s-1.5-3.5 -2-5s-.7-2.7 -1-4s-.6-2.3 -1-3.8s-1.2-3 -1.5-5.2s-.3-5.8 -.5-8s-.5-4.5 -.6-5.4H917.9c-.1,.9 -.4,3.2 -.6,5.4s-.2,5.8 -.5,8s-1.1,3.7 -1.5,5.2s-.7,2.5 -1,3.8s-.5,2.5 -1,4s-1.2,3.3 -2,5s-2,3.2 -3,4.9s-2,3.6 -3,5.1s-2,2.7 -3,4s-3.3,2.7 -3,4s3,3 5,4s5.8,1.7 7,2z"/><path fill="#E8A0C8" d="M950,1050h20c.8-.3 3.7-1.2 5-2s2.3-1.9 3-3s1.3-2.2 1-3.5s-1.8-3.1 -3-4.5s-2.8-2.7 -4-4s-2.3-3.1 -3-4s-.9-.9 -1-1.6s.5-1.5 .5-2.4s-.1-1.8 -.5-3s-1.3-2.5 -2-4s-1.3-3.3 -2-4.8s-1.6-2.8 -2-4.2s-.1-2.8 -.2-4s-.2-2.8 -.3-3.3H958.5c0,.5 -.2,2.1 -.3,3.3s.2,2.6 -.2,4s-1.3,2.7 -2,4.2s-1.3,3.3 -2,4.8s-1.6,2.8 -2,4s-.5,2.1 -.5,3s.6,1.7 .5,2.4s-.3,.7 -1,1.6s-1.8,2.7 -3,4s-2.8,2.6 -4,4s-2.7,3.2 -3,4.5s.3,2.4 1,3.5s1.7,2.2 3,3s4.2,1.7 5,2z"/><path fill="#D6DFDD" d="M984.7,1048.6h34c.3-.4 1.7-1.7 2-2.6s.1-1.5 0-2.7s-.2-2.8 -.5-4.3s-.8-3.7 -1-5s.1-1.8 -.5-3.1s-2-3.1 -3-4.9s-2-3.9 -3-6s-2-4.6 -3-6.8s-2.2-4.2 -3-6.2s-1.5-4.3 -2-6s-1-3.1 -1.2-4s-.2-1.3 -.3-1.6H1000.2c0,.3 -.1,.7 -.3,1.6s-.7,2.3 -1.2,4s-1.2,4 -2,6s-2,4 -3,6.2s-2,4.7 -3,6.8s-2,4.2 -3,6s-2.4,3.6 -3,4.9s-.2,1.8 -.5,3.1s-.8,3.5 -1,5s-.4,3.1 -.5,4.3s-.3,1.8 0,2.7s1.7,2.2 2,2.6z"/></g>
<path d="M101 975.6V1054.9M100.5 1054.4H1027" stroke="#333" stroke-width="1.1" fill="none"/>
<path d="M97 991H101M97 1015.6H101M97 1037.4H101M126 1054.4V1057.9M167.7 1054.4V1057.9M209.4 1054.4V1057.9M251.1 1054.4V1057.9M292.8 1054.4V1057.9M334.5 1054.4V1057.9M376.2 1054.4V1057.9M417.9 1054.4V1057.9M459.6 1054.4V1057.9M501.3 1054.4V1057.9M543 1054.4V1057.9M584.7 1054.4V1057.9M626.4 1054.4V1057.9M668.1 1054.4V1057.9M709.8 1054.4V1057.9M751.5 1054.4V1057.9M793.2 1054.4V1057.9M834.9 1054.4V1057.9M876.6 1054.4V1057.9M918.3 1054.4V1057.9M960 1054.4V1057.9M1001.7 1054.4V1057.9" stroke="#333" stroke-width="1" fill="none"/>
<g font-size="15" text-anchor="end" fill="#111"><text x="90.5" y="996.2">10000</text><text x="90.5" y="1020.8">3000</text><text x="90.5" y="1042.6">1000</text></g>
<g font-size="16.5" text-anchor="middle" font-weight="bold"><text x="47" y="1017.5" transform="rotate(-90 47 1017.5)"># UMI</text></g>
<g stroke="#333" stroke-width="1.25" stroke-linejoin="round"><path fill="#C8C8C8" d="M117,1155h18c1-.3 4.3-1.3 6-2s4.2-1.2 4-2s-3.3-2 -5-3s-3.9-2 -5-3s-1.8-2 -1.5-3s2.9-2 3.5-3s.5-1.8 0-3s-2-2.7 -3-4s-2.2-2.7 -3-4s-1.4-2.3 -2-4s-1.2-2 -1.5-6s-.3-11.3 -.5-18s-.5-18.3 -.6-22H125.6c-.1,3.7 -.4,15.3 -.6,22s-.2,14 -.5,18s-.9,4.3 -1.5,6s-1.2,2.7 -2,4s-2,2.7 -3,4s-2.5,2.8 -3,4s-.6,2 0,3s3.2,2 3.5,3s-.4,2 -1.5,3s-3.3,2 -5,3s-4.8,2.2 -5,3s2.3,1.3 4,2s5,1.7 6,2z"/><path fill="#4E5B85" d="M158.7,1155h18c1-.3 4.3-1.3 6-2s4-1 4-2s-2.7-2.7 -4-4s-3.4-2.8 -4-4s.3-2 .5-3s.8-1.8 .5-3s-1.2-2.7 -2-4s-2-2.7 -3-4s-2.2-2.5 -3-4s-1-3.2 -1.5-5s-.9-3.6 -1.3-6s-.7-7 -.8-8.4H167.3c-.1,1.4 -.5,6 -.8,8.4s-.8,4.2 -1.3,6s-.8,3.5 -1.5,5s-2,2.7 -3,4s-2.2,2.7 -3,4s-1.8,2.8 -2,4s.3,2 .5,3s1.1,1.8 .5,3s-2.7,2.7 -4,4s-4,3 -4,4s2.3,1.3 4,2s5,1.7 6,2z"/><path fill="#C8C8C8" d="M200.4,1155h18c1-.3 4.3-1.3 6-2s4.2-1.2 4-2s-3.3-1.8 -5-3s-3.8-2.8 -5-4s-2.6-2 -2.5-3s2.4-2 3-3s.8-1.8 .5-3s-1.7-2.7 -2.5-4s-1.8-2.5 -2.5-4s-1.4-3.3 -2-5s-1.1-2.2 -1.5-5s-.9-10 -1.1-12H209c-.2,2 -.7,9.2 -1.1,12s-.9,3.3 -1.5,5s-1.2,3.5 -2,5s-1.7,2.7 -2.5,4s-2.2,2.8 -2.5,4s-.1,2 .5,3s2.9,2 3,3s-1.2,1.8 -2.5,3s-3.3,2.8 -5,4s-4.8,2.2 -5,3s2.3,1.3 4,2s5,1.7 6,2z"/><path fill="#B26CC0" d="M242.1,1155h18c1-.3 4.3-1.3 6-2s4.2-1 4-2s-3.3-2.7 -5-4s-4.1-3 -5-4s-.7-1.2 -.5-2s1.4-1.8 1.5-3s-.5-2.7 -1-4s-1.2-2.7 -2-4s-1.8-2.5 -2.5-4s-1.5-3.2 -2-5s-.9-3.7 -1.3-6s-.7-6.7 -.8-8H250.7c-.1,1.3 -.4,5.7 -.8,8s-.8,4.2 -1.3,6s-1.2,3.5 -2,5s-1.8,2.7 -2.5,4s-1.5,2.7 -2,4s-1.1,2.8 -1,4s1.3,2.2 1.5,3s.4,1 -.5,2s-3.3,2.7 -5,4s-4.8,3 -5,4s2.3,1.3 4,2s5,1.7 6,2z"/><path fill="#13917A" d="M283.8,1155h18c1-.3 4.3-1.3 6-2s3.8-1 4-2s-2-2.7 -3-4s-2.5-2.8 -3-4s-.3-2 0-3s1.9-1.8 2-3s-.8-2.7 -1.5-4s-1.6-2.7 -2.5-4s-2.1-2.5 -3-4s-1.8-3.5 -2.5-5s-1-2.5 -1.5-4s-1-3 -1.5-5s-.9-4.3 -1.3-7s-.7-7.5 -.8-9H292.4c-.1,1.5 -.4,6.3 -.8,9s-.8,5 -1.3,7s-1,3.5 -1.5,5s-.8,2.5 -1.5,4s-1.6,3.5 -2.5,5s-2.1,2.7 -3,4s-1.8,2.7 -2.5,4s-1.6,2.8 -1.5,4s1.7,2 2,3s.5,1.8 0,3s-2,2.7 -3,4s-3.2,3 -3,4s2.3,1.3 4,2s5,1.7 6,2z"/><path fill="#A31F30" d="M325.5,1155h18c1-.3 4.3-1.3 6-2s3.8-1 4-2s-2-2.7 -3-4s-2.4-2.8 -3-4s-.8-1.8 -.5-3s1.6-2.7 2-4s.6-2.7 .5-4s-.6-2.7 -1-4s-.8-2.7 -1.5-4s-1.8-2.7 -2.5-4s-1.3-2.5 -2-4s-1.3-3.3 -2-5s-1.4-3.2 -2-5s-1-4 -1.5-6s-.9-3.7 -1.3-6s-.7-6.7 -.8-8H334.1c-.1,1.3 -.4,5.7 -.8,8s-.8,4 -1.3,6s-.9,4.2 -1.5,6s-1.3,3.3 -2,5s-1.3,3.5 -2,5s-1.2,2.7 -2,4s-1.8,2.7 -2.5,4s-1.1,2.7 -1.5,4s-.9,2.7 -1,4s.1,2.7 .5,4s1.8,2.8 2,4s.1,1.8 -.5,3s-2,2.7 -3,4s-3.2,3 -3,4s2.3,1.3 4,2s5,1.7 6,2z"/><path fill="#EAB323" d="M367.2,1155h18c1-.3 4.3-1.3 6-2s3.7-1 4-2s-1.5-2.7 -2-4s-.7-2.7 -1-4s-.7-2.7 -1-4s-.5-2.5 -1-4s-1.2-3.3 -2-5s-2.2-3.3 -3-5s-1.4-3.3 -2-5s-1.1-3.3 -1.5-5s-.5-3.2 -1-5s-1.4-4.2 -2-6s-.9-3.3 -1.3-5s-.7-4.2 -.8-5H375.8c-.1,.8 -.4,3.3 -.8,5s-.8,3.2 -1.3,5s-1.5,4.2 -2,6s-.6,3.3 -1,5s-.9,3.3 -1.5,5s-1.2,3.3 -2,5s-2.2,3.3 -3,5s-1.5,3.5 -2,5s-.7,2.7 -1,4s-.7,2.7 -1,4s-.5,2.7 -1,4s-2.3,3 -2,4s2.3,1.3 4,2s5,1.7 6,2z"/><path fill="#13917A" d="M408.9,1154.3h18c1-.4 4.3-1.2 6-2.3s4.2-2.7 4-4s-3.3-2.5 -5-4s-3.8-3.6 -5-5s-1.9-2 -2-3.2s1.2-2.6 1.5-3.8s1.1-1.9 .5-3.2s-2.8-3.2 -4-4.8s-2.4-3 -3-5s-.5-4.4 -.8-7s-.7-7.2 -.8-8.7H417.5c-.1,1.5 -.5,6.1 -.8,8.7s-.2,5 -.8,7s-1.8,3.4 -3,5s-3.4,3.5 -4,4.8s.2,2 .5,3.2s1.6,2.6 1.5,3.8s-.8,1.8 -2,3.2s-3.3,3.5 -5,5s-4.8,2.7 -5,4s2.3,3 4,4s5,1.9 6,2.3z"/><path fill="#C8C8C8" d="M450.6,1154.3h18c1-.4 4.3-1.4 6-2.3s4.5-1.8 4-3s-4.8-2.7 -7-4s-4.7-2.8 -6-4s-1.9-2.4 -2-3.4s1.2-1.7 1.5-2.6s.7-1.5 .5-2.7s-1-2.8 -1.5-4.3s-1-2.3 -1.5-4.5s-1.1-5.1 -1.5-8.5s-.9-9.8 -1.1-11.7H459.2c-.2,2 -.7,8.3 -1.1,11.7s-1,6.3 -1.5,8.5s-1,3 -1.5,4.5s-1.3,3.1 -1.5,4.3s.2,1.8 .5,2.7s1.6,1.6 1.5,2.6s-.7,2.2 -2,3.4s-3.8,2.7 -6,4s-6.5,2.8 -7,4s2.3,2.1 4,3s5,1.9 6,2.3z"/><path fill="#88B5AA" d="M492.3,1154.3h18c1-.4 4.3-1.2 6-2.3s3.8-2.7 4-4s-2-2.5 -3-4s-2.3-3 -3-4.7s-.7-3.8 -1-5.3s-.7-2.8 -1-4s-.2-1.5 -1-3s-2.3-4 -3.5-6s-2.7-4 -3.5-6.3s-1.1-5.1 -1.5-7.7s-.9-6.8 -1.1-8.1H500.9c-.2,1.3 -.7,5.5 -1.1,8.1s-.7,5.4 -1.5,7.7s-2.3,4.2 -3.5,6.3s-2.8,4.5 -3.5,6s-.7,1.8 -1,3s-.7,2.5 -1,4s-.3,3.6 -1,5.3s-2,3.2 -3,4.7s-3.2,2.7 -3,4s2.3,3 4,4s5,1.9 6,2.3z"/><path fill="#C8C8C8" d="M534,1154.3h18c1-.4 4.3-1.4 6-2.3s4.2-1.8 4-3s-3.5-2.5 -5-4s-3.4-3.7 -4-5s.2-2 .5-3s1.5-1.8 1.5-3s-.8-2.5 -1.5-4s-1.6-2.9 -2.5-4.7s-2-4.2 -3-6.3s-2.4-3.8 -3-6s-.5-4.5 -.8-7s-.7-6.7 -.8-8H542.6c-.1,1.3 -.5,5.5 -.8,8s-.2,4.8 -.8,7s-2,4 -3,6s-2.1,4.5 -3,6.3s-1.8,3.2 -2.5,4.7s-1.5,2.8 -1.5,4s1.2,2 1.5,3s1.1,1.7 .5,3s-2.5,3.5 -4,5s-4.8,2.8 -5,4s2.3,2.1 4,3s5,1.9 6,2.3z"/><path fill="#DD2B2A" d="M575.7,1154.3h18c1-.4 4.3-1.2 6-2.3s4.2-2.7 4-4s-3.6-2.7 -5-4s-2.8-2.9 -3.5-4s-.7-1.4 -.5-2.4s1.2-2.4 1.5-3.6s1-2.2 .5-3.5s-2.5-3.1 -3.5-4.5s-1.8-2.7 -2.5-4s-1.3-2.3 -2-3.8s-1.4-3.5 -2-5.2s-1.2-4.4 -1.5-5.3H584.2c-.2,.9 -.9,3.5 -1.5,5.3s-1.3,3.7 -2,5.2s-1.2,2.5 -2,3.8s-1.5,2.6 -2.5,4s-3,3.2 -3.5,4.5s.2,2.3 .5,3.5s1.3,2.6 1.5,3.6s.2,1.3 -.5,2.4s-2.1,2.7 -3.5,4s-4.8,2.7 -5,4s2.3,3 4,4s5,1.9 6,2.3z"/><path fill="#88B5AA" d="M617.4,1154.3h18c1-.4 4.3-1.4 6-2.3s3.8-1.8 4-3s-2.1-2.7 -3-4s-2-2.7 -2.5-4s-.2-2.7 -.5-4s-.7-2.6 -1-4s-.3-2.7 -1-4.2s-2.1-3.2 -3-4.8s-1.8-3.5 -2.5-5s-.9-2.5 -1.5-4.3s-1.5-4.6 -2-6.7s-.5-4 -.8-6s-.7-4.8 -.8-5.8H626c-.1,1 -.5,3.8 -.8,5.8s-.3,3.9 -.8,6s-1.4,4.9 -2,6.7s-.8,2.8 -1.5,4.3s-1.6,3.4 -2.5,5s-2.3,3.3 -3,4.8s-.7,2.8 -1,4.2s-.8,2.7 -1,4s0,2.7 -.5,4s-1.6,2.7 -2.5,4s-3.2,2.8 -3,4s2.3,2.1 4,3s5,1.9 6,2.3z"/><path fill="#C8C8C8" d="M659.1,1154.3h18c1-.4 4.3-1.4 6-2.3s4-1.8 4-3s-2.8-2.7 -4-4s-2.2-2.5 -3-4s-1.4-3.5 -2-5.2s-1-3.2 -1.5-4.8s-1-3.3 -1.5-5s-1-3.3 -1.5-5s-1-3.2 -1.5-5s-1-4 -1.5-6s-1.4-4.8 -1.7-5.8H667.3c-.3,1 -1.2,3.8 -1.7,5.8s-1,4.2 -1.5,6s-1,3.3 -1.5,5s-1,3.3 -1.5,5s-1,3.4 -1.5,5s-.9,3.1 -1.5,4.8s-1.2,3.7 -2,5.2s-1.8,2.7 -3,4s-4,2.8 -4,4s2.3,2.1 4,3s5,1.9 6,2.3z"/><path fill="#13917A" d="M700.8,1154.3h18c1-.4 4.3-1.4 6-2.3s3.8-1.8 4-3s-2.1-2.7 -3-4s-2-2.7 -2.5-4s-.2-2.5 -.5-4s-1-3.3 -1.5-5s-.8-3.3 -1.5-5s-2.2-3.3 -3-5s-1.5-3.8 -2-5s-.5-.8 -1-2.3s-1.5-4.4 -2-6.7s-.7-4.8 -1-7s-.5-5.4 -.6-6.5H709.4c-.1,1.1 -.3,4.2 -.6,6.5s-.5,4.7 -1,7s-1.5,5.2 -2,6.7s-.5,1.1 -1,2.3s-1.2,3.3 -2,5s-2.2,3.3 -3,5s-1,3.3 -1.5,5s-1.2,3.5 -1.5,5s0,2.7 -.5,4s-1.6,2.7 -2.5,4s-3.2,2.8 -3,4s2.3,2.1 4,3s5,1.9 6,2.3z"/><path fill="#4A97BE" d="M735.5,1154h32c.4-.5 2-1.7 2.5-3s.4-3.3 .5-5s0-3.5 0-5s.2-1.9 0-3.7s-1-4.9 -1.5-7.3s-.8-4.8 -1.5-7s-2-4 -3-6s-2.2-4.1 -3-6.3s-1.5-4.6 -2-6.7s-.7-4.2 -1-6s-.6-3.3 -1-5s-1-3.3 -1.5-5s-1-3.6 -1.5-5s-1.2-2.8 -1.5-3.4H750c-.2,.6 -1,2 -1.5,3.4s-1,3.3 -1.5,5s-1.1,3.3 -1.5,5s-.7,3.2 -1,5s-.5,3.9 -1,6s-1.2,4.5 -2,6.7s-2,4.2 -3,6.3s-2.2,3.8 -3,6s-1,4.6 -1.5,7s-1.2,5.5 -1.5,7.3s0,2.2 0,3.7s-.1,3.3 0,5s0,3.7 .5,5s2.1,2.5 2.5,3z"/><path fill="#EAB323" d="M778.2,1153.2h30c.5-.5 2.3-2 3-3.2s1.1-2.7 1-4s-1.2-2.5 -1.5-4s-.5-3.2 -.5-4.7s.6-2.8 .5-4.3s-.8-3.3 -1-5s0-3.2 -.5-5s-1.5-4 -2.5-6s-2.4-4.1 -3.5-6.3s-2.1-4.6 -3-6.7s-1.9-4.2 -2.5-6s-1.1-3.9 -1.3-5s-.2-1.5 -.2-1.8H790.2c0,.3 0,.7 -.2,1.8s-.7,3.2 -1.3,5s-1.6,3.9 -2.5,6s-1.9,4.5 -3,6.7s-2.5,4.2 -3.5,6.3s-2,4.2 -2.5,6s-.2,3.3 -.5,5s-.9,3.5 -1,5s.5,2.8 .5,4.3s-.2,3.2 -.5,4.7s-1.4,2.7 -1.5,4s.3,2.8 1,4s2.5,2.7 3,3.2z"/><path fill="#C8C8C8" d="M825.9,1154h18c1-.3 4.3-1.1 6-2s4.3-1.9 4-3.2s-4.2-3.3 -6-4.8s-4-2.9 -5-4s-1.1-1.7 -1-2.7s1.2-2.1 1.5-3.3s.9-2.3 .5-3.8s-2-3.4 -3-5.2s-2.2-3.3 -3-5.5s-1.1-4.4 -1.5-7.5s-.9-9.2 -1.1-11.1H834.5c-.2,1.8 -.7,8 -1.1,11.1s-.8,5.3 -1.5,7.5s-2,3.7 -3,5.5s-2.6,3.7 -3,5.2s.2,2.6 .5,3.8s1.4,2.3 1.5,3.3s0,1.6 -1,2.7s-3.2,2.5 -5,4s-5.7,3.5 -6,4.8s2.3,2.3 4,3.2s5,1.7 6,2z"/><path fill="#73A7B8" d="M867.6,1154h18c1-.3 4.3-1 6-2s3.8-2.5 4-4s-2.1-3.5 -3-5s-1.8-2.8 -2.5-4s-.8-2 -1.5-3.5s-2.1-3.9 -3-5.5s-1.7-2.8 -2.5-4s-1.8-1.5 -2.5-3s-1.5-4.2 -2-6s-.5-3.3 -.8-5s-.7-4.1 -.8-4.9H876.2c-.1,.8 -.5,3.2 -.8,4.9s-.3,3.2 -.8,5s-1.2,4.5 -2,6s-1.7,1.8 -2.5,3s-1.6,2.4 -2.5,4s-2.2,4 -3,5.5s-.8,2.2 -1.5,3.5s-1.6,2.5 -2.5,4s-3.2,3.5 -3,5s2.3,3 4,4s5,1.7 6,2z"/><path fill="#13917A" d="M909.3,1154h18c1-.3 4.3-1 6-2s4.2-2.7 4-4s-3.4-2.7 -5-4s-3.5-2.9 -4.5-4s-1.5-1.7 -1.5-2.7s1.2-2.1 1.5-3.3s.8-2.5 .5-3.8s-1.7-2.8 -2.5-4.2s-1.9-2.9 -2.5-4s-.5-.8 -1-2.5s-1.5-5.2 -2-7.5s-.5-4 -.8-6s-.7-5 -.8-6H917.9c-.1,1 -.5,4 -.8,6s-.3,3.8 -.8,6s-1.5,5.8 -2,7.5s-.4,1.4 -1,2.5s-1.7,2.6 -2.5,4s-2.2,2.9 -2.5,4.2s.2,2.6 .5,3.8s1.5,2.3 1.5,3.3s-.5,1.6 -1.5,2.7s-2.9,2.7 -4.5,4s-4.8,2.7 -5,4s2.3,3 4,4s5,1.7 6,2z"/><path fill="#E8A0C8" d="M946,1154h28c.6-.3 2.7-1.4 3.5-2s1.6-.5 1.5-1.5s-1.2-2.7 -2-4.4s-1.7-4.1 -2.5-6.1s-1.8-4.1 -2.5-6s-1.2-3.6 -2-5.6s-1.8-4.5 -2.5-6.4s-1.4-3.4 -2-5s-1-2.9 -1.5-4.6s-1.1-3.8 -1.5-5.4s-.7-2.7 -1-4s-.8-3.2 -.9-3.9H959.4c-.1,.7 -.6,2.6 -.9,3.9s-.6,2.4 -1,4s-1,3.7 -1.5,5.4s-.9,3 -1.5,4.6s-1.2,3.1 -2,5s-1.8,4.4 -2.5,6.4s-1.2,3.7 -2,5.6s-1.7,4 -2.5,6s-1.8,4.3 -2.5,6.1s-1.9,3.4 -2,4.4s.7,.9 1.5,1.5s2.9,1.7 3.5,2z"/><path fill="#D6DFDD" d="M985.7,1154h32c.4-.5 2-1.8 2.5-3s.4-2.9 .5-4s.3-1.4 0-2.7s-1.4-3.6 -2-5.3s-1-3.5 -1.5-5s-.9-1.8 -1.5-3.8s-1.3-5.5 -2-8.2s-1.2-5.5 -2-7.8s-2-4.1 -3-6.2s-2.2-4 -3-6.2s-1.2-4.8 -1.5-6.8s-.4-3.9 -.5-5s-.2-1.2 -.2-1.5H999.9c0,.2 -.1,.4 -.2,1.5s-.2,3 -.5,5s-.8,4.6 -1.5,6.8s-2,4.1 -3,6.2s-2.2,3.9 -3,6.2s-1.3,5.1 -2,7.8s-1.4,6.2 -2,8.2s-1,2.3 -1.5,3.8s-.9,3.3 -1.5,5s-1.7,4 -2,5.3s-.1,1.6 0,2.7s0,2.8 .5,4s2.1,2.5 2.5,3z"/></g>
<path d="M101 1076V1159.5M100.5 1159H1027" stroke="#333" stroke-width="1.1" fill="none"/>
<path d="M97 1078.4H101M97 1120H101M97 1146.4H101M126 1159V1162.5M167.7 1159V1162.5M209.4 1159V1162.5M251.1 1159V1162.5M292.8 1159V1162.5M334.5 1159V1162.5M376.2 1159V1162.5M417.9 1159V1162.5M459.6 1159V1162.5M501.3 1159V1162.5M543 1159V1162.5M584.7 1159V1162.5M626.4 1159V1162.5M668.1 1159V1162.5M709.8 1159V1162.5M751.5 1159V1162.5M793.2 1159V1162.5M834.9 1159V1162.5M876.6 1159V1162.5M918.3 1159V1162.5M960 1159V1162.5M1001.7 1159V1162.5" stroke="#333" stroke-width="1" fill="none"/>
<g font-size="15" text-anchor="end" fill="#111"><text x="90.5" y="1083.6">3000</text><text x="90.5" y="1125.2">1000</text><text x="90.5" y="1151.6">500</text></g>
<g font-size="16.5" text-anchor="middle" font-weight="bold"><text x="47" y="1125.5" transform="rotate(-90 47 1125.5)"># Genes</text></g>
<g stroke="#333" stroke-width="1.25" stroke-linejoin="round"><path fill="#C8C8C8" d="M125.6,1258h.8c.1-1.5 .2-6 .6-9s.2-6.4 2-9s6.1-3.5 8.8-6.7s7.2-8.2 7.2-12.3s-4.4-8.2 -7.2-12s-7.9-8.2 -9.8-10.6s-1.3-3.3 -1.6-4H125.6c-.3,.7 .3,1.6 -1.6,4s-7,6.8 -9.8,10.6s-7.2,8 -7.2,12s4.5,9.1 7.2,12.3s7,4.1 8.8,6.7s1.6,6 2,9s.5,7.5 .6,9z"/><path fill="#4E5B85" d="M167.3,1265h.8c.1-3.2 -.2-13 .6-19.5s2.2-15.3 4-19.5s4.5-2.9 6.8-5.6s7.2-7.4 7.2-10.4s-4.4-5.4 -7.2-7.9s-7.9-5.5 -9.8-7.1s-1.3-2.2 -1.6-2.6H167.3c-.3,.4 .3,1 -1.6,2.6s-7,4.6 -9.8,7.1s-7.2,4.9 -7.2,7.9s4.9,7.7 7.2,10.4s5,1.4 6.8,5.6s3.2,13 4,19.5s.5,16.2 .6,19.5z"/><path fill="#C8C8C8" d="M209,1258h.8c.1-1.8 .2-7.3 .6-11s.2-8.1 2-11s6.1-3.3 8.8-6.3s7.2-7.8 7.2-11.7s-4.4-7.9 -7.2-11.5s-7.9-8 -9.8-10.3s-1.3-3.2 -1.6-3.8H209c-.3,.6 .3,1.5 -1.6,3.8s-7,6.7 -9.8,10.3s-7.2,7.6 -7.2,11.5s4.5,8.7 7.2,11.7s7,3.4 8.8,6.3s1.6,7.3 2,11s.5,9.2 .6,11z"/><path fill="#B26CC0" d="M250.7,1240h.8c.1-1 .4-4 .6-6s.6-4.2 .8-6s.3-3.5 .7-5s.6-2.7 1.5-4s2.5-2.8 4-4s3.5-2 5-3s3.1-2 4-3s1.7-2 1.5-3s-1.8-1.8 -2.5-3s-.9-2.7 -1.5-4s-1.1-2.7 -2-4s-2.2-2.9 -3.5-4s-3.3-2.1 -4-2.5H246.1c-.7,.4 -2.8,1.4 -4,2.5s-2.6,2.7 -3.5,4s-1.4,2.7 -2,4s-.8,2.8 -1.5,4s-2.3,2 -2.5,3s.6,2 1.5,3s2.5,2 4,3s3.5,1.8 5,3s3.1,2.7 4,4s1.1,2.5 1.5,4s.5,3.2 .7,5s.6,4 .8,6s.5,5 .6,6z"/><path fill="#13917A" d="M292.4,1250h.8c.1-1.4 .2-5.7 .6-8.5s.2-6 2-8.5s6.1-3.3 8.8-6.3s7.2-7.9 7.2-11.7s-4.4-7.8 -7.2-11.4s-7.9-7.9 -9.8-10.2s-1.3-3.2 -1.6-3.8H292.4c-.3,.6 .3,1.5 -1.6,3.8s-7,6.6 -9.8,10.2s-7.2,7.6 -7.2,11.4s4.5,8.7 7.2,11.7s7,3.8 8.8,6.3s1.6,5.7 2,8.5s.5,7.1 .6,8.5z"/><path fill="#A31F30" d="M334.1,1256h.8c.1-1.7 .2-6.7 .6-10s.2-7.3 2-10s6.1-3.3 8.8-6.3s7.2-7.5 7.2-11.7s-4.4-9.1 -7.2-13.3s-7.9-9.2 -9.8-11.9s-1.3-3.7 -1.6-4.4H334.1c-.3,.7 .3,1.7 -1.6,4.4s-7,7.7 -9.8,11.9s-7.2,9.1 -7.2,13.3s4.5,8.7 7.2,11.7s7,3.6 8.8,6.3s1.6,6.7 2,10s.5,8.3 .6,10z"/><path fill="#EAB323" d="M375.8,1252h.8c.1-1.2 .2-4.7 .6-7s.2-4.6 2-7s6.1-3.8 8.8-7.3s7.2-9.6 7.2-13.7s-4.4-7.4 -7.2-10.8s-7.9-7.4 -9.8-9.6s-1.3-3 -1.6-3.6H375.8c-.3,.6 .3,1.4 -1.6,3.6s-7,6.2 -9.8,9.6s-7.2,6.7 -7.2,10.8s4.5,10.2 7.2,13.7s7,4.9 8.8,7.3s1.6,4.7 2,7s.5,5.8 .6,7z"/><path fill="#13917A" d="M417.5,1258h.8c.1-2.1 .2-8.5 .6-12.8s.2-9.5 2-12.7s6.1-3.4 8.8-6.5s7.2-8.2 7.2-12s-4.4-7.4 -7.2-10.7s-7.9-7.2 -9.8-9.4s-1.3-3 -1.6-3.6H417.5c-.3,.6 .3,1.4 -1.6,3.6s-7,6 -9.8,9.4s-7.2,6.9 -7.2,10.7s4.5,8.9 7.2,12s7,3.3 8.8,6.5s1.6,8.5 2,12.7s.5,10.7 .6,12.8z"/><path fill="#C8C8C8" d="M459.2,1251.8h.8c.1-1.6 .2-6.4 .6-9.6s.2-7.1 2-9.7s6.1-3.2 8.8-6.1s7.2-8.4 7.2-11.4s-4.4-4.4 -7.2-6.4s-7.9-4.4 -9.8-5.7s-1.3-1.8 -1.6-2.1H459.2c-.3,.4 .3,.8 -1.6,2.1s-7,3.7 -9.8,5.7s-7.2,3.4 -7.2,6.4s4.5,8.5 7.2,11.4s7,3.5 8.8,6.1s1.6,6.5 2,9.7s.5,8 .6,9.6z"/><path fill="#88B5AA" d="M500.9,1260.6h.8c.1-2.6 .2-10.5 .6-15.8s.2-12.1 2-15.8s6.1-3.3 8.8-6.2s7.2-8 7.2-11.4s-4.4-6.2 -7.2-9.1s-7.9-6.2 -9.8-8.1s-1.3-2.5 -1.6-3H500.9c-.3,.5 .3,1.2 -1.6,3s-7,5.2 -9.8,8.1s-7.2,5.7 -7.2,9.1s4.5,8.5 7.2,11.4s7,2.5 8.8,6.2s1.6,10.5 2,15.8s.5,13.2 .6,15.8z"/><path fill="#C8C8C8" d="M542.6,1248.3h.8c.1-1.2 .2-4.7 .6-7.1s.2-4.9 2-7.2s6.1-3.5 8.8-6.7s7.2-8.5 7.2-12.3s-4.4-7.2 -7.2-10.5s-7.9-7.2 -9.8-9.3s-1.3-2.9 -1.6-3.5H542.6c-.3,.6 .3,1.4 -1.6,3.5s-7,6 -9.8,9.3s-7.2,6.7 -7.2,10.5s4.5,9.1 7.2,12.3s7,4.4 8.8,6.7s1.6,4.8 2,7.2s.5,5.9 .6,7.1z"/><path fill="#DD2B2A" d="M584.3,1256.2h.8c.1-2.3 .3-9.1 .6-13.6s-.8-10.1 1-13.6s7-3.7 9.8-7.1s7.2-9.5 7.2-13.1s-4.4-6 -7.2-8.7s-7.9-6 -9.8-7.8s-1.3-2.4 -1.6-2.9H584.3c-.3,.5 .3,1.1 -1.6,2.9s-7,5 -9.8,7.8s-7.2,5.1 -7.2,8.7s4.4,9.7 7.2,13.1s8,3.6 9.8,7.1s.7,9.1 1,13.6s.5,11.3 .6,13.6z"/><path fill="#88B5AA" d="M626,1248.3h.8c.1-1.5 .2-6 .6-9.1s.2-6.7 2-9.2s6.1-2.9 8.8-5.6s7.2-6.7 7.2-10.4s-4.4-7.9 -7.2-11.6s-7.9-7.9 -9.8-10.3s-1.3-3.2 -1.6-3.9H626c-.3,.6 .3,1.5 -1.6,3.9s-7,6.7 -9.8,10.3s-7.2,7.9 -7.2,11.6s4.5,7.7 7.2,10.4s7,3.1 8.8,5.6s1.6,6.2 2,9.2s.5,7.6 .6,9.1z"/><path fill="#C8C8C8" d="M667.7,1248.3h.8c.1-1.2 .2-4.7 .6-7.1s.2-4.9 2-7.2s6.1-3.4 8.8-6.4s7.2-8.2 7.2-11.8s-4.4-6.5 -7.2-9.5s-7.9-6.5 -9.8-8.4s-1.3-2.7 -1.6-3.2H667.7c-.3,.5 .3,1.3 -1.6,3.2s-7,5.4 -9.8,8.4s-7.2,6 -7.2,9.5s4.5,8.8 7.2,11.8s7,4.1 8.8,6.4s1.6,4.8 2,7.2s.5,5.9 .6,7.1z"/><path fill="#13917A" d="M709.4,1250.7h.8c.1-1.6 .2-6.5 .6-9.7s.2-7.2 2-9.8s6.1-3.1 8.8-5.9s7.2-7.3 7.2-10.9s-4.4-7.4 -7.2-10.8s-7.9-7.4 -9.8-9.6s-1.3-3 -1.6-3.6H709.4c-.3,.6 .3,1.4 -1.6,3.6s-7,6.2 -9.8,9.6s-7.2,7.2 -7.2,10.8s4.5,8.1 7.2,10.9s7,3.3 8.8,5.9s1.6,6.5 2,9.8s.5,8.1 .6,9.7z"/><path fill="#4A97BE" d="M751.1,1261.3h.8c.1-1.6 .2-6.5 .6-9.8s.2-6.9 2-9.7s6.1-3.9 8.8-7.4s7.2-9.8 7.2-13.8s-4.4-6.8 -7.2-10s-7.9-6.9 -9.8-8.9s-1.3-2.8 -1.6-3.3H751.1c-.3,.5 .3,1.3 -1.6,3.3s-7,5.7 -9.8,8.9s-7.2,6 -7.2,10s4.5,10.3 7.2,13.8s7,4.5 8.8,7.4s1.6,6.5 2,9.7s.5,8.2 .6,9.8z"/><path fill="#EAB323" d="M792.8,1257.8h.8c.1-3 .2-13.2 .6-17.8s.8-7.3 1.5-10s1.2-4.1 2.5-5.9s3.3-3.4 5-5.1s3.5-3.2 5-5s3.5-3.9 4-5.9s-.2-4.1 -1-6.1s-2.3-4.2 -4-6s-4.3-3.8 -6-5s-3.2-2 -4-2.5s-.8-.6 -1-.7H790.2c-.2,.1 -.2,.2 -1,.7s-2.3,1.2 -4,2.5s-4.3,3.2 -6,5s-3.2,4 -4,6s-1.5,4.1 -1,6.1s2.5,4.1 4,5.9s3.3,3.3 5,5s3.8,3.3 5,5.1s1.8,3.2 2.5,5.9s1.1,5.4 1.5,10s.5,14.8 .6,17.8z"/><path fill="#C8C8C8" d="M834.5,1262.2h.8c.1-2.6 .2-10.3 .6-15.5s.2-12 2-15.5s6.1-2.9 8.8-5.6s7.2-7.4 7.2-10.4s-4.4-5.2 -7.2-7.6s-7.9-5.2 -9.8-6.7s-1.3-2.1 -1.6-2.5H834.5c-.3,.4 .3,1 -1.6,2.5s-7,4.3 -9.8,6.7s-7.2,4.6 -7.2,7.6s4.5,7.7 7.2,10.4s7,2.1 8.8,5.6s1.6,10.3 2,15.5s.5,12.9 .6,15.5z"/><path fill="#73A7B8" d="M876.2,1248h.8c.1-1.2 .2-5 .6-7.5s.2-5.2 2-7.5s6.1-3.2 8.8-6.2s7.2-8.3 7.2-11.6s-4.7-5.8 -7.2-8.4s-6.5-5.7 -7.8-7.4s0-2.3 0-2.8H872.6c0,.5 1.3,1.1 0,2.8s-5.3,4.8 -7.8,7.4s-7.2,5.1 -7.2,8.4s4.5,8.6 7.2,11.6s7,3.9 8.8,6.2s1.6,5 2,7.5s.5,6.2 .6,7.5z"/><path fill="#13917A" d="M917.9,1252.5h.8c.1-1.3 .2-5.3 .6-8s.2-5.4 2-8s6.1-4 8.8-7.5s7.2-10.1 7.2-13.8s-4.4-5.8 -7.2-8.4s-7.9-5.7 -9.8-7.4s-1.3-2.3 -1.6-2.8H917.9c-.3,.5 .3,1.1 -1.6,2.8s-7,4.8 -9.8,7.4s-7.2,4.7 -7.2,8.4s4.5,10.2 7.2,13.8s7,4.9 8.8,7.5s1.6,5.3 2,8s.5,6.7 .6,8z"/><path fill="#E8A0C8" d="M955,1245.4h10c1-.6 4.1-1.8 6-3.4s4.2-4 5.5-6s1.6-4.3 2-6s.5-2.4 .5-4.1s0-3.9 -.5-5.9s-1.4-4 -2.5-6s-2.7-4 -4-6s-2.7-4.2 -4-6s-3-3.7 -4-5s-1.4-2.2 -2-3s-1.3-1.5 -1.6-1.8H959.6c-.3,.3 -1,1 -1.6,1.8s-1,1.7 -2,3s-2.7,3.2 -4,5s-2.7,4 -4,6s-2.9,4 -4,6s-2,4 -2.5,6s-.5,4.2 -.5,5.9s.1,2.4 .5,4.1s.8,4 2,6s3.6,4.4 5.5,6s5,2.8 6,3.4z"/><path fill="#D6DFDD" d="M1001.2,1245.4h1c.6-.7 2.1-2.8 3.5-4.4s3.3-3.2 5-5s3.7-4.3 5-6s2.2-2.7 3-4s2.2-2.4 2-3.7s-1.8-2.9 -3-4.3s-3.1-3 -4-4s-.7-1.3 -1.5-2.3s-2.4-2.4 -3.5-3.7s-2.2-3 -3-4s-1.6-1.5 -2-2s-.4-.8 -.5-1H1000.2c-.1,.2 -.1,.5 -.5,1s-1.2,1 -2,2s-1.9,2.7 -3,4s-2.7,2.7 -3.5,3.7s-.6,1.2 -1.5,2.3s-2.8,2.6 -4,4s-2.8,3 -3,4.3s1.2,2.4 2,3.7s1.7,2.3 3,4s3.3,4.2 5,6s3.6,3.4 5,5s2.9,3.7 3.5,4.4z"/></g>
<path d="M101 1184.4V1268.5M100.5 1268H1027" stroke="#333" stroke-width="1.1" fill="none"/>
<path d="M97 1189H101M97 1215H101M97 1243H101M126 1268V1271.5M167.7 1268V1271.5M209.4 1268V1271.5M251.1 1268V1271.5M292.8 1268V1271.5M334.5 1268V1271.5M376.2 1268V1271.5M417.9 1268V1271.5M459.6 1268V1271.5M501.3 1268V1271.5M543 1268V1271.5M584.7 1268V1271.5M626.4 1268V1271.5M668.1 1268V1271.5M709.8 1268V1271.5M751.5 1268V1271.5M793.2 1268V1271.5M834.9 1268V1271.5M876.6 1268V1271.5M918.3 1268V1271.5M960 1268V1271.5M1001.7 1268V1271.5" stroke="#333" stroke-width="1" fill="none"/>
<g font-size="15" text-anchor="end" fill="#111"><text x="90.5" y="1194.2">30</text><text x="90.5" y="1220.2">10</text><text x="90.5" y="1248.2">3</text></g>
<g font-size="16.5" text-anchor="middle" font-weight="bold"><text x="47" y="1229" transform="rotate(-90 47 1229)">% mito</text></g>
<path fill="#111" d="M97 989H100.5V993H97z"/>
<g font-size="13.7" text-anchor="end" fill="#111"><text x="127.5" y="1288" transform="rotate(-19 127.5 1288)">Neuro1</text><text x="169.2" y="1288" transform="rotate(-19 169.2 1288)">GABAergic</text><text x="210.9" y="1288" transform="rotate(-19 210.9 1288)">Neuro2</text><text x="252.6" y="1288" transform="rotate(-19 252.6 1288)">Glycinergic</text><text x="294.3" y="1288" transform="rotate(-19 294.3 1288)">Glutamatergic1</text><text x="336" y="1288" transform="rotate(-19 336 1288)">Cholinergic1</text><text x="377.7" y="1288" transform="rotate(-19 377.7 1288)">Glial1</text><text x="419.4" y="1288" transform="rotate(-19 419.4 1288)">Glutamatergic2</text><text x="461.1" y="1288" transform="rotate(-19 461.1 1288)">Neuro3</text><text x="502.8" y="1288" transform="rotate(-19 502.8 1288)">Tyraminergic</text><text x="544.5" y="1288" transform="rotate(-19 544.5 1288)">Neuro4</text><text x="586.2" y="1288" transform="rotate(-19 586.2 1288)">Cholinergic2</text><text x="627.9" y="1288" transform="rotate(-19 627.9 1288)">Serotoninergic</text><text x="669.6" y="1288" transform="rotate(-19 669.6 1288)">Neuro5</text><text x="711.3" y="1288" transform="rotate(-19 711.3 1288)">Glutamatergic3</text><text x="753" y="1288" transform="rotate(-19 753 1288)">Dopaminergic1</text><text x="794.7" y="1288" transform="rotate(-19 794.7 1288)">Glial2</text><text x="836.4" y="1288" transform="rotate(-19 836.4 1288)">Neuro6</text><text x="878.1" y="1288" transform="rotate(-19 878.1 1288)">Dopaminergic2</text><text x="919.8" y="1288" transform="rotate(-19 919.8 1288)">Glutamatergic4</text><text x="961.5" y="1288" transform="rotate(-19 961.5 1288)">Blood</text><text x="1003.2" y="1288" transform="rotate(-19 1003.2 1288)">White body</text></g>
<path d="M125.9 1395.1L143.6 1381.4L147.6 1387.3L159.4 1395.1L173.2 1397.1L177.1 1414.8L179.1 1432.6L173.2 1442.4L165.3 1446.4L153.5 1450.3L147.6 1466L137.7 1462.1L129.8 1454.2L125.9 1434.5L127.9 1418.8z" fill="url(#p0)"/>
<path transform="translate(63.5 1371.5)" d="M81 10zm-2 0zm-7 7zm1-1zm0 0zm1 0zm0 1zm1-3zm0 1zm3-3zm10 5zm12 6zm-7-1zm-1-4zm-3 1zm-2 0zm-3 4zm-1-2zm-2 0zm-4 2zm-2-4zm-2-1zm-6 2zm-1 2zm-1-2zm0 3zm-2-1zm-1 7zm1-2zm0-3zm1 2zm15-1zm9 4zm18-2zm2-3zm3 3zm2 6zm-1-3zm-10 5zm-7-3zm-1-2zm-8 3zm-1 2zm-9-1zm-3 0zm-9-3zm0 4zm-1-1zm-1-2zm0 1zm3 6zm3-2zm2 0zm1 2zm4 2zm6-5zm4 1zm0-1zm1 5zm4-3zm0 2zm5 0zm0 0zm1 1zm10-4zm5 2zm2-3zm2 11zm-2-3zm0-2zm-1 5zm-6-3zm-4-1zm-5 3zm-14-3zm0-1zm-1 5zm-3 0zm-1-1zm-2-1zm-8-3zm-5 2zm0 6zm1 3zm13-2zm1 0zm16-2zm5-1zm8 5zm1-1zm2-1zm0 0zm4-2zm0-1zm2 11zm-13-2zm-16-1zm0 3zm-2-1zm-8-3zm-6 4zm0-5zm-3 3zm-2-1zm-5 7zm0 1zm1-1zm7 0zm23 0zm11-3zm4 4zm3 0zm2-4zm3 0zm-2 8zm-6 2zm-1 1zm-4 0zm-1-5zm0 5zm-25-4zm-2 1zm-6 0zm-5 4zm2 0zm0 4zm10-3zm10 4zm8-5zm2 3zm8-1zm2-1zm4-1zm-16 6zm-3 3zm0 2zm-2-1zm-8-1zm-5-3zm-7 5zm-2-4zm0 5zm2 1zm4 3zm4-2zm1 2zm2 0zm3 0zm5-1zm0-2zm-1 5zm-1 0zm-3 3zm-8-3z" stroke="#C8C8C8" stroke-width="2.5" stroke-linecap="round" fill="none"/>
<path d="M108.2 1507.4L118 1505.4L125.9 1513.3L127.9 1527.1L120 1529.1L110.1 1521.2z" fill="url(#p0)"/>
<path transform="translate(63.5 1371.5)" d="M46 135zm0 2zm5-5zm5 2zm2 2zm5 6zm-2 0zm0 1zm-5-4zm-11 1zm-2 0zm2 5zm2 1zm5-2zm6 2zm5-1zm0 3zm3 3zm-1-1zm0 5zm0-2zm-3-2zm-3 2zm-3-3zm-2 4zm-2 0zm-1-3zm8 5zm1 2z" stroke="#C8C8C8" stroke-width="2.5" stroke-linecap="round" fill="none"/>
<path transform="translate(63.5 1371.5)" d="M50 122zm0 2zm1-1zm2 1zm0-1zm1 2zm0-3zm1 1zm1 0zm0 0zm-1 4zm0 4zm-1-5zm0 3zm-1 1zm0 0zm-1-2zm-1-2zm0 0zm-1 0z" stroke="#C8C8C8" stroke-width="2.5" stroke-linecap="round" fill="none"/>
<path transform="translate(63.5 1371.5)" d="M25 27zm0 0zm1 0zm0 0zm1 2zm0 0zm0 0zm1-4zm0 1zm0 3zm1 0zm0-3zm0-1zm1 4zm0-4zm0 2zm1 3zm0 0zm-2 2zm0 2zm-1-4zm0 0zm0 4zm0-4zm0 3zm-1 1zm-1 1zm0-1zm0-2zm-1-1zm0 0zm0-1zm0 1zm0-1zm-1 1zm1 5zm1 2zm1-2zm0 2zm1-2z" stroke="#D6DFDD" stroke-width="2.5" stroke-linecap="round" fill="none"/>
<path d="M92.4 1414.8L98.3 1422.7L106.2 1434.5L113.1 1436.5L112.1 1440.4L102.3 1442.4L98.3 1450.3L92.4 1458.2L92.4 1466L86.5 1468L84.5 1458.2L86.5 1446.4L88.5 1436.5L94.4 1432.6L92.4 1422.7z" fill="url(#p1)"/>
<path transform="translate(63.5 1371.5)" d="M31 45zm-2 5zm4-2zm1 1zm0 0zm2 4zm1 3zm0 1zm-2 1zm-5-2zm0 1zm-1 7zm1-4zm2 1zm9 4zm2-1zm2-1zm4 6zm0 0zm0-2zm-13 1zm-11 0zm-1 3zm-3 1zm4 5zm1-4zm8 3zm0 4zm0 1zm-2-1zm-5 0zm-3-2zm-2 5zm-1-1zm0 6zm1 0zm0 0zm5 1zm2 0zm0-5zm1 2zm1 1zm0 4zm-6 4zm-3-3zm0 1zm2 3zm1 0z" stroke="#EAB323" stroke-width="2.5" stroke-linecap="round" fill="none"/>
<path d="M212.6 1473.9L222.4 1468L228.3 1475.9L226.3 1485.7L216.5 1483.8L212.6 1479.8z" fill="url(#p1)"/>
<path transform="translate(63.5 1371.5)" d="M150 101zm6-3zm0 0zm1 1zm2-2zm4 4zm-6 2zm-2-1zm-3 1zm-1 0zm-2 2zm2 7zm2-2zm0 3zm2-1zm3 1zm1-5zm2 1zm2 1zm-4 5zm-4-1z" stroke="#EAB323" stroke-width="2.5" stroke-linecap="round" fill="none"/>
<path transform="translate(63.5 1371.5)" d="M151 76zm1-2zm1-2zm0 3zm1 0zm0-1zm1 0zm1 0zm0 0zm1 1zm0 1zm0-1z" stroke="#EAB323" stroke-width="2.5" stroke-linecap="round" fill="none"/>
<path transform="translate(63.5 1371.5)" d="M156 37zm0 3zm0 0zm0-1zm1-1zm0 1zm1 1zm-1 5zm0-3zm-1 1zm-1 1zm0 2z" stroke="#EAB323" stroke-width="2.5" stroke-linecap="round" fill="none"/>
<path transform="translate(63.5 1371.5)" d="M60 65zm0 0zm3-1zm0 4zm-1-2zm0 0zm-1 3zm0-2zm0 1zm-2 2zm0-4zm0 1zm-1 2zm0 1zm0 1zm0-2zm0 0zm-1-3zm0 2zm0 0zm0-2zm-1 1zm0-1zm0 2zm-1 1z" stroke="#EAB323" stroke-width="2.5" stroke-linecap="round" fill="none"/>
<path transform="translate(63.5 1371.5)" d="M45 95zm-3 0zm0-1zm-1 0zm-1 2zm0 0zm1 0zm0 0zm0 1zm1-1zm0 0zm0 1zm1 1zm1-1zm0 2zm0-3zm0 1zm0-1zm1 1zm0 0zm1 1zm1 0zm0-2zm2 1zm0 2z" stroke="#E8A0C8" stroke-width="2.5" stroke-linecap="round" fill="none"/>
<path transform="translate(63.5 1371.5)" d="M15 114zm0 1zm-1 1zm-1 0zm0 1zm-1-1zm0 1zm0 1zm-1-2zm0 3zm0-2zm-1 1zm0 0zm0 0zm-1 1zm0 0zm0 1zm1 2zm0-1zm1-1z" stroke="#E8A0C8" stroke-width="2.5" stroke-linecap="round" fill="none"/>
<path d="M192.9 1426.7L204.7 1424.7L206.7 1432.6L202.7 1442.4L196.8 1444.4L192.9 1434.5z" fill="url(#p2)"/>
<path transform="translate(63.5 1371.5)" d="M134 53zm3 0zm5 0zm0 2zm-1 3zm-2-4zm-1 1zm-7 0zm-1-1zm-2 1zm0 5zm6 3zm5 0zm0 6zm-2 2zm-1 0zm-3 2zm0 0zm1-1zm0 1z" stroke="#88B5AA" stroke-width="2.5" stroke-linecap="round" fill="none"/>
<path transform="translate(63.5 1371.5)" d="M133 137zm0-1zm1 1zm1-2zm2 1zm0 0zm0 1zm1-2zm0 3zm0 2zm-1 0zm0 2zm0 1zm0 0zm-1-1zm-1 0zm0-1zm0 0zm0 2zm0-4zm0 3zm0-3zm-1-1zm2 7zm0 0z" stroke="#88B5AA" stroke-width="2.5" stroke-linecap="round" fill="none"/>
<path d="M143.6 1525.1L153.5 1521.2L157.4 1529.1L155.4 1542.9L147.6 1542.9L143.6 1535z" fill="url(#p2)"/>
<path transform="translate(63.5 1371.5)" d="M92 155zm-3-4zm-5 1zm0 1zm-2 0zm-2 1zm-2 4zm1-2zm2 1zm1 3zm0-4zm7 4zm1-4zm5 4zm-2 5zm0-2zm-1 3zm-5-2zm-6 5zm0 0zm1 0zm1 1zm1 0zm6 0zm2 0zm0 1z" stroke="#88B5AA" stroke-width="2.5" stroke-linecap="round" fill="none"/>
<path d="M155.4 1450.3L165.3 1446.4L177.1 1454.2L181 1462.1L173.2 1473.9L165.3 1475.9L157.4 1468L153.5 1458.2z" fill="url(#p3)"/>
<path transform="translate(63.5 1371.5)" d="M94 77zm9-2zm0 0zm1 2zm2 0zm1-2zm5 8zm-2-1zm0 1zm-1-4zm-1-1zm0 5zm0-1zm-1-1zm-2-2zm-2 1zm0 1zm-5-1zm-8-2zm1 6zm5 0zm0 3zm5-2zm5 1zm2 0zm1 2zm4-4zm0 4zm0-2zm4 6zm-3 1zm-6 1zm-10-3zm-6 0zm7 8zm9 1zm1 0zm0-3zm3 1zm1 1zm-3 4zm-2-1zm-3 2zm0-1zm-1 1zm0-1zm-1 0zm-1 2z" stroke="#A31F30" stroke-width="2.5" stroke-linecap="round" fill="none"/>
<path d="M177.1 1444.4L190.9 1440.4L195.8 1450.3L190.9 1462.1L181 1460.1L175.1 1452.3z" fill="url(#p4)"/>
<path transform="translate(63.5 1371.5)" d="M127 68zm-1 1zm-3 2zm-10 5zm0 0zm1-2zm0-2zm1 2zm3-1zm4 4zm0 0zm3-1zm2-1zm2-3zm3 6zm0 3zm-1-3zm0 5zm-1-1zm-2-1zm-1 0zm0 0zm-3 2zm-3-5zm-4 0zm-2 4zm-2-3zm-1 3zm0 1zm-1-2zm3 3zm3 3zm0 0zm6 1zm4-3zm1 2z" stroke="#DD2B2A" stroke-width="2.5" stroke-linecap="round" fill="none"/>
<path d="M185 1466L196.8 1464.1L204.7 1473.9L210.6 1485.7L208.6 1495.6L198.8 1493.6L190.9 1487.7L185 1477.9z" fill="url(#p5)"/>
<path transform="translate(63.5 1371.5)" d="M134 92zm-1 1zm0 2zm-2-2zm-10 7zm0-2zm1-2zm0 2zm1 0zm3 1zm1-3zm2 5zm5-3zm2-1zm0 1zm4 2zm1 3zm-1-1zm-17 7zm2 0zm7 1zm2 0zm6 3zm4-5zm0 0zm0 0zm2 5zm2 2zm-2 2zm-2 1zm-2 1zm0-3zm-2 2zm-1 1zm-2-2zm-5 1zm-2 1zm0-4zm0 5zm4 0zm1 1zm2 1zm5-2zm4 4zm0-4zm1 3zm0-2z" stroke="#B26CC0" stroke-width="2.5" stroke-linecap="round" fill="none"/>
<path transform="translate(63.5 1371.5)" d="M85 125zm0-3zm1 3zm1 0zm1-4zm1 2zm1 1zm1-3zm0 3zm1-1zm1-3zm1 4zm3 6zm-1-4zm-1 1zm0 0zm-1-1zm0 4zm-1-2zm0 3zm0-1zm0-4zm-1 1zm-1-1zm0 4zm0-1zm0-1zm-3 3zm0-4zm0 4zm-1-5zm-1 0zm0 5zm-1-5zm0 0zm0 0zm0 2zm0 2zm2 3zm1 4zm0-2zm0-1zm0-1zm1-1zm0 2zm0-1zm1 1zm0-1zm1 3zm0-3zm0 1zm1 1zm0 0zm0 0zm1 0zm0 0zm1-1zm1 0zm0 2zm2-4z" stroke="#B26CC0" stroke-width="2.5" stroke-linecap="round" fill="none"/>
<path d="M165.3 1470L181 1468L188.9 1477.9L188.9 1493.6L181 1503.5L169.2 1503.5L163.3 1489.7z" fill="url(#p6)"/>
<path transform="translate(63.5 1371.5)" d="M100 101zm1 0zm1-2zm1 1zm4-3zm3 0zm1 0zm0 0zm2-1zm0 3zm0 0zm2-2zm2 0zm1 2zm0 0zm6 6zm0 0zm-1 0zm-2 0zm-2-3zm-1 0zm-2 5zm0 0zm-5-5zm-6 2zm0-1zm-2 0zm-2 9zm7-4zm3 4zm4 1zm11-2zm-6 6zm-4-2zm-1 2zm-2-1zm-4 2zm-1-4zm0 2zm-6 3zm-1-5zm-1 6zm2 0zm1 4zm1 1zm4-1zm11 1zm2-5zm0 2zm2 7zm-14-3zm-2 4zm-3-1zm0-2zm3 5zm2 1zm6 1zm1 0zm1-2z" stroke="#4E5B85" stroke-width="2.5" stroke-linecap="round" fill="none"/>
<path d="M129.8 1462.1L141.7 1458.2L151.5 1466L149.5 1481.8L137.7 1483.8L129.8 1475.9z" fill="url(#p7)"/>
<path transform="translate(63.5 1371.5)" d="M75 88zm1 0zm0-1zm1 1zm12 7zm-3-4zm-4 3zm-3-3zm-1-1zm-4 2zm-7 0zm0 3zm-1-4zm0 2zm0-1zm-1 1zm1 6zm0 2zm11-2zm7-1zm1-2zm0 10zm-7-1zm-4-2zm-5 3zm1 3zm2-1zm9 4zm0 0zm4-4zm1 2zm1 0zm0-2zm1 1z" stroke="#4A97BE" stroke-width="2.5" stroke-linecap="round" fill="none"/>
<path d="M127.9 1483.8L135.7 1481.8L141.7 1495.6L141.7 1509.4L137.7 1525.1L132.8 1523.2L131.8 1507.4L128.9 1495.6z" fill="url(#p8)"/>
<path transform="translate(63.5 1371.5)" d="M63 113zm3-2zm0 2zm0-1zm2 0zm4-1zm4 7zm-1-2zm-1 0zm0 3zm-2-5zm-1 3zm-6-1zm0 0zm-1 0zm0 4zm1 1zm2 2zm1 0zm9-3zm1 3zm1 3zm-3 1zm-8 10zm3 0zm2-4zm5 0zm-1 7zm0-1zm-4 0zm-3 0zm-2-1zm0 10zm1 1zm5 6zm-2 0zm-3-3z" stroke="#3BA8E0" stroke-width="2.5" stroke-linecap="round" fill="none"/>
<path d="M129.8 1493.6L141.7 1493.6L147.6 1509.4L159.4 1517.3L173.2 1513.3L181 1515.3L183 1529.1L175.1 1537L167.3 1535L159.4 1525.1L145.6 1517.3L137.7 1513.3L131.8 1503.5z" fill="url(#p9)"/>
<path transform="translate(63.5 1371.5)" d="M66 124zm0-1zm1-1zm4 3zm2-3zm0 3zm2-4zm3 3zm1-1zm0 1zm1 1zm2 6zm-1-2zm0 2zm-13-2zm-1-3zm0 4zm7 7zm43 6zm-2 0zm-2-1zm-3 0zm-3 1zm-18-3zm-1 2zm-10 0zm-3 0zm-1-1zm-1-3zm-1 0zm0 0zm5 6zm0 1zm1-1zm3 0zm2 2zm2-1zm3 1zm1 2zm9-4zm6 0zm4 0zm4 5zm1-4zm8 5zm-2 3zm-1-1zm0-1zm0 4zm-3-2zm-1 2zm-4 0zm-2-1zm-3-2zm-1 3zm-3-4zm-2 4zm-6-5zm-4 0zm13 10zm0 0zm2 1zm2-5zm2 2zm1 3zm2-4zm6 5zm-4 3zm-1-1zm-1 0zm0 1zm-5-1zm-2-1zm-1-1z" stroke="#13917A" stroke-width="2.5" stroke-linecap="round" fill="none"/>
<path d="M120 1554.7L127.9 1537L133.8 1548.8L141.7 1554.7L139.7 1566.5L127.9 1568.5L118 1562.6z" fill="url(#p9)"/>
<path transform="translate(63.5 1371.5)" d="M64 167zm0 5zm5 4zm-1-2zm0 1zm0 2zm-7 1zm0-2zm-1 1zm-1 0zm-3 8zm0-2zm0 1zm1 0zm2 1zm0 0zm0-3zm2-1zm2 4zm8-1zm4-2zm2 1zm1 0zm0 3zm-1 1zm0 3zm-4 1zm-1-1zm0-3zm-3 3zm-12-1zm-1 0zm-3 3zm0 0zm5 3zm3 0zm2-1zm1 2zm3-3zm2 4zm0-1zm2-1zm0-2zm3 3zm2-4z" stroke="#13917A" stroke-width="2.5" stroke-linecap="round" fill="none"/>
<path d="M157.4 1554.7L165.3 1552.7L169.2 1562.6L165.3 1572.4L157.4 1570.4z" fill="url(#p9)"/>
<path transform="translate(63.5 1371.5)" d="M99 179zm-3 5zm1-1zm2-1zm6 3zm-2 1zm-1 2zm0 1zm-2 1zm-6 1zm-1 2zm0 2zm1-3zm0 1zm0-1zm1 5zm0 0zm8-5zm3 0zm0 4zm1-4zm-5 8z" stroke="#13917A" stroke-width="2.5" stroke-linecap="round" fill="none"/>
<path transform="translate(63.5 1371.5)" d="M95 191zm-2 0zm-3 0zm0 0zm-2 0zm-3-1zm-4 1zm-3-1zm-1 1zm1 1zm1 2zm1 1zm5-2zm0-1zm0 1zm1 1zm2-1zm0 2zm0 0zm1-3zm0 0zm2 3zm2 0zm1-1zm0 1z" stroke="#13917A" stroke-width="2.5" stroke-linecap="round" fill="none"/>
<path transform="translate(63.5 1371.5)" d="M74 15zm13 8zm-4-2zm-9-1zm-4 3zm-8 5zm10 1zm2-2zm25 4zm-2 2zm-17 0zm-16-1zm16 5zm31 10zm-42 1zm18 1zm15 1zm6 1zm3-2zm-29 8zm-3-1zm0 2zm-2-2zm-13 0zm3 9zm26-3zm-13 5zm0 8zm8-3zm8 0zm7 4zm-21 6zm-3-4zm-7 1zm2 5zm8 6z" stroke="#A31F30" stroke-width="2.5" stroke-linecap="round" fill="none"/>
<path transform="translate(63.5 1371.5)" d="M73 29zm14-1zm6 5zm-18 0zm-5 0zm15 11zm11 26zm-3 0zm-18-3zm1 9zm25-3zm-19 12z" stroke="#4E5B85" stroke-width="2.5" stroke-linecap="round" fill="none"/>
<path transform="translate(63.5 1371.5)" d="M77 18zm-10 2zm38 20zm-5 30zm-4 0zm-12 15z" stroke="#B26CC0" stroke-width="2.5" stroke-linecap="round" fill="none"/>
<path transform="translate(63.5 1371.5)" d="M121 105zm-2-2zm-4 2zm-9 8zm3-1zm2-2zm1 3zm12 6zm-6-3zm-2 2zm-9-3zm-2-1zm4 7zm3-1zm2 4zm2 1zm2 3zm-6 0z" stroke="#A31F30" stroke-width="2.5" stroke-linecap="round" fill="none"/>
<path transform="translate(63.5 1371.5)" d="M117 105zm-7 2zm-5-1zm12 3zm8 2zm-2 8zm-14-2zm-1 7zm3-4zm7 2zm3 1zm-3 4z" stroke="#B26CC0" stroke-width="2.5" stroke-linecap="round" fill="none"/>
<path transform="translate(63.5 1371.5)" d="M76 126zm-8 3zm13 8zm1 3zm-4-2zm21 7zm6 4zm6-3zm4 9zm-4-1zm-9 5zm7 4z" stroke="#C8C8C8" stroke-width="2.5" stroke-linecap="round" fill="none"/>
<path transform="translate(63.5 1371.5)" d="M72 124zm0 4zm45 27zm-1-3zm-18-1zm-4 1z" stroke="#A31F30" stroke-width="2.5" stroke-linecap="round" fill="none"/>
<path transform="translate(63.5 1371.5)" d="M79 134zm3 9zm15 4zm14 5zm-1 3zm7 7z" stroke="#B26CC0" stroke-width="2.5" stroke-linecap="round" fill="none"/>
<path d="M63.5 1581.4H251.2" stroke="#111" stroke-width="1.6" fill="none"/>
<g font-size="18.6" text-anchor="middle" font-weight="bold"><text x="160.2" y="1365.5">HatchlingOL1</text></g>
<path d="M325.4 1395.1L343.1 1381.4L347.1 1387.3L358.9 1395.1L372.7 1397.1L376.6 1414.8L378.6 1432.6L372.7 1442.4L364.8 1446.4L353 1450.3L347.1 1466L337.2 1462.1L329.3 1454.2L325.4 1434.5L327.4 1418.8z" fill="url(#p0)"/>
<path transform="translate(263 1371.5)" d="M79 10zm-10 6zm1 0zm4 0zm7-4zm3 3zm1 1zm9 4zm-2-1zm-1 1zm-5-2zm-5 1zm-9-1zm-2 1zm-2-1zm-1 3zm-1-3zm-1 3zm-1 2zm-2 6zm0-4zm3 1zm3 2zm0-4zm15 0zm2 0zm10 1zm11 0zm2 4zm0 0zm2-3zm1 8zm0 1zm-6-5zm-7 1zm-14 1zm-12-2zm0 2zm-3-2zm-5 2zm4 8zm0-4zm0 1zm4 0zm7-1zm0 0zm15 3zm1 0zm8-1zm8-2zm1 5zm1 3zm-12 0zm-1 1zm-1-2zm-12 0zm-23-1zm-1 9zm2-1zm4-2zm13 2zm3 3zm4-5zm1 1zm25 4zm2 6zm-1 0zm-3-1zm-7-4zm-1 1zm-3 4zm-9-3zm-8 3zm-2 0zm-14-5zm-6 1zm-1 1zm1 7zm0 2zm0-3zm1 2zm3-4zm8 0zm3 1zm0 0zm5 3zm1-2zm4-2zm1 2zm2 2zm1-2zm4 3zm0-1zm1-2zm8 3zm4-4zm6 2zm-4 7zm-16 1zm-2-5zm-11 0zm-9 2zm-9 0zm0 1zm-1-1zm-1 0zm-1 0zm5 4zm4 3zm8-1zm15 2zm0 1zm1-4zm1 1zm0 0zm5 1zm3-2zm1 0zm3-1zm0 0zm2 0zm-13 6zm-2 0zm-3 0zm-5 5zm-4-4zm-4 2zm-5-2zm-6 0zm-1 2zm0-3zm2 8zm11 0zm7 3zm0-1zm1-3zm1 1zm-2 4zm-3 2zm-3 2zm0-4zm-6 1z" stroke="#C8C8C8" stroke-width="2.5" stroke-linecap="round" fill="none"/>
<path d="M307.7 1507.4L317.5 1505.4L325.4 1513.3L327.4 1527.1L319.5 1529.1L309.6 1521.2z" fill="url(#p0)"/>
<path transform="translate(263 1371.5)" d="M44 136zm6 1zm1 0zm5-2zm0 1zm6 3zm-3 0zm-2 2zm-10 0zm-1-1zm-1 6zm0-1zm2 2zm1 1zm0-2zm13-2zm2 5zm2 4zm-1-3zm-1 4zm-1-4zm-1 5zm0-2zm-9 2zm-1-3zm-1 1zm4 3zm2 0z" stroke="#C8C8C8" stroke-width="2.5" stroke-linecap="round" fill="none"/>
<path transform="translate(263 1371.5)" d="M51 123zm1 2zm1-2zm0 1zm1-1zm0 0zm0 0zm1 1zm1 3zm-2 4zm0 0zm0-4zm-1 4zm-1-3zm0 0zm0-1zm0 0zm0-1zm-2 2zm0 1z" stroke="#C8C8C8" stroke-width="2.5" stroke-linecap="round" fill="none"/>
<path transform="translate(263 1371.5)" d="M24 28zm1 0zm0 1zm1-3zm0 3zm1-3zm0 0zm1 1zm0 0zm1 2zm0 0zm0-4zm0 3zm1-1zm0 2zm0-1zm0-2zm0 4zm0 5zm-2 0zm0-2zm0-1zm0 3zm-1-4zm0 3zm0-1zm0-2zm0 4zm0-2zm0 1zm-1-2zm-1-1zm0 3zm0-2zm-1 0zm2 5zm0 1zm1-2zm0 0zm0 1z" stroke="#D6DFDD" stroke-width="2.5" stroke-linecap="round" fill="none"/>
<path d="M291.9 1414.8L297.8 1422.7L305.7 1434.5L312.6 1436.5L311.6 1440.4L301.8 1442.4L297.8 1450.3L291.9 1458.2L291.9 1466L286 1468L284 1458.2L286 1446.4L288 1436.5L293.9 1432.6L291.9 1422.7z" fill="url(#p1)"/>
<path transform="translate(263 1371.5)" d="M30 47zm0-3zm-3 9zm5-5zm7 8zm-1 0zm-3-2zm-6 5zm0-2zm-4 8zm0 0zm15-5zm2 1zm1 2zm1 1zm3-1zm3 7zm0-4zm0 1zm-1 4zm0 0zm-5 0zm-2 0zm-10-1zm-2 0zm-4 0zm-3 1zm0 1zm12 5zm4-5zm-5 8zm-4 3zm-1 0zm-1-3zm-6-2zm0 8zm4-1zm4 1zm0 0zm0 1zm-1 5zm0 0zm0 3zm-1-1zm0 1zm-2-3zm-1-1zm-2 2zm-1 4zm3-1z" stroke="#EAB323" stroke-width="2.5" stroke-linecap="round" fill="none"/>
<path d="M412.1 1473.9L421.9 1468L427.8 1475.9L425.8 1485.7L416 1483.8L412.1 1479.8z" fill="url(#p1)"/>
<path transform="translate(263 1371.5)" d="M152 100zm4-1zm0-1zm2-2zm1 0zm0 5zm1-4zm2 1zm3 4zm0 4zm-3-1zm-1-1zm-6 0zm-6 1zm-2-3zm3 6zm1 2zm1 0zm4-2zm8 5zm-5 1z" stroke="#EAB323" stroke-width="2.5" stroke-linecap="round" fill="none"/>
<path transform="translate(263 1371.5)" d="M150 73zm2 4zm0-3zm0 2zm0 1zm1-4zm0 4zm1-2zm0 1zm1-1zm0 1zm1-4zm2 4zm-5 2z" stroke="#EAB323" stroke-width="2.5" stroke-linecap="round" fill="none"/>
<path transform="translate(263 1371.5)" d="M155 38zm2 2zm0-1zm2 1zm1 0zm-2 4zm0-1zm0 1zm-1-2zm0 1zm-1 0zm-1 2z" stroke="#EAB323" stroke-width="2.5" stroke-linecap="round" fill="none"/>
<path transform="translate(263 1371.5)" d="M59 65zm2 0zm1-1zm1 0zm0 4zm0-2zm-1 0zm0 1zm-1-1zm0 2zm0 0zm0-1zm-1 0zm-1 2zm0 1zm-1-2zm0 2zm-2-3zm0 3zm0-3zm0 2zm-1-1zm0-1zm0 1zm0-2z" stroke="#EAB323" stroke-width="2.5" stroke-linecap="round" fill="none"/>
<path transform="translate(263 1371.5)" d="M46 95zm0 0zm-3 0zm-1-1zm-1 1zm-1 0zm0 0zm0-2zm0 2zm1 1zm1 0zm1 2zm0 0zm0-2zm1 0zm0 1zm0 1zm1-1zm0 1zm1-2zm1 0zm1 1zm0 2zm1-2zm1 2z" stroke="#E8A0C8" stroke-width="2.5" stroke-linecap="round" fill="none"/>
<path transform="translate(263 1371.5)" d="M13 112zm1 1zm1 1zm0 1zm-1 0zm-1-1zm-1 4zm0-1zm-1 0zm0 0zm0 2zm0-1zm0 1zm-1-2zm-2 2zm1 3zm0 0zm1-2zm0 0zm0 1z" stroke="#E8A0C8" stroke-width="2.5" stroke-linecap="round" fill="none"/>
<path d="M392.4 1426.7L404.2 1424.7L406.2 1432.6L402.2 1442.4L396.3 1444.4L392.4 1434.5z" fill="url(#p2)"/>
<path transform="translate(263 1371.5)" d="M142 56zm-8-1zm-1 0zm-2 3zm0-3zm-1 1zm-1 8zm0 0zm0 0zm12-4zm1 6zm-1 0zm-1 5zm-4-5zm-3 4zm-2 0zm0-4zm0 5zm1 3z" stroke="#88B5AA" stroke-width="2.5" stroke-linecap="round" fill="none"/>
<path transform="translate(263 1371.5)" d="M133 137zm1 0zm1-1zm0 1zm1-1zm0-1zm0 1zm1 0zm0 1zm2 4zm-1-1zm0 2zm0-4zm0 4zm-1-4zm0 0zm0 1zm0 1zm0-1zm0 1zm-1 2zm0-2zm-1-2zm-1 1zm1 5z" stroke="#88B5AA" stroke-width="2.5" stroke-linecap="round" fill="none"/>
<path d="M343.1 1525.1L353 1521.2L356.9 1529.1L354.9 1542.9L347.1 1542.9L343.1 1535z" fill="url(#p2)"/>
<path transform="translate(263 1371.5)" d="M91 151zm0 2zm-1-2zm-1 4zm-1-5zm-3 3zm-1-2zm-2 2zm-2 1zm0 5zm3-1zm1-2zm3 3zm5-3zm3 2zm-1 4zm0 1zm-6-1zm-3 1zm-4 0zm4 8zm1 2zm1-1zm1-3zm4 2zm2-3z" stroke="#88B5AA" stroke-width="2.5" stroke-linecap="round" fill="none"/>
<path d="M354.9 1450.3L364.8 1446.4L376.6 1454.2L380.5 1462.1L372.7 1473.9L364.8 1475.9L356.9 1468L353 1458.2z" fill="url(#p3)"/>
<path transform="translate(263 1371.5)" d="M97 77zm3 0zm3-1zm2 1zm6 5zm-1-2zm0 0zm0 3zm-2-3zm-1 2zm-3-1zm-5-1zm-6-1zm0 0zm0 4zm-1-5zm-2 8zm1 0zm16-2zm1 3zm6-1zm0 2zm1-4zm2 3zm2 4zm-3 4zm-1-4zm-2 0zm0-1zm-2 1zm-4-1zm-1 1zm-3 1zm-2-1zm-5-1zm-1 3zm-1 0zm0-1zm-2 0zm0-2zm4 7zm1 3zm1-2zm2 3zm1-3zm1 0zm1 3zm2-2zm8-1z" stroke="#A31F30" stroke-width="2.5" stroke-linecap="round" fill="none"/>
<path d="M376.6 1444.4L390.4 1440.4L395.3 1450.3L390.4 1462.1L380.5 1460.1L374.6 1452.3z" fill="url(#p4)"/>
<path transform="translate(263 1371.5)" d="M129 70zm-8 1zm-1 0zm-7 4zm1-2zm0 0zm3-1zm1 2zm1 0zm0 2zm6 0zm1-2zm0 2zm2-2zm3 1zm1 0zm-1 5zm-4 2zm0-2zm-3-1zm-10 1zm-1 2zm1 2zm3 4zm2-4zm2 5zm1 0zm3-5zm0 5zm1-3zm0-2zm1 0zm2 3zm1-1zm0 3zm-3 2z" stroke="#DD2B2A" stroke-width="2.5" stroke-linecap="round" fill="none"/>
<path d="M384.5 1466L396.3 1464.1L404.2 1473.9L410.1 1485.7L408.1 1495.6L398.3 1493.6L390.4 1487.7L384.5 1477.9z" fill="url(#p5)"/>
<path transform="translate(263 1371.5)" d="M128 93zm-1 0zm0 1zm-1-1zm-6 5zm3 3zm12-4zm5 3zm0-2zm0 8zm0 0zm-8-1zm-4 1zm0-2zm-4-1zm-3 2zm5 8zm1-3zm3 2zm5 0zm0 1zm1-1zm7-1zm1-1zm0 2zm3 1zm1 4zm-1-2zm-8 4zm-2-3zm-1 3zm-1-4zm-4 4zm-1-1zm-2-1zm7 3zm2 3zm0-2zm3 4zm1-2zm0-1zm1 2zm1 0zm1-1zm3-1zm1-1zm-4 5z" stroke="#B26CC0" stroke-width="2.5" stroke-linecap="round" fill="none"/>
<path transform="translate(263 1371.5)" d="M85 122zm0 2zm0 1zm1 0zm1-2zm0 2zm0 0zm0 0zm2-3zm0 3zm0-1zm1-3zm0 1zm1 0zm0 2zm1 0zm1 0zm0 1zm0-2zm1 0zm0 2zm1 3zm0 2zm0-2zm-4 3zm0 0zm-2-2zm-1-3zm-1 4zm0 0zm-1-4zm0 2zm0-1zm-2 1zm0 4zm0 0zm2 0zm1 2zm0-2zm1 2zm0 1zm0 1zm0-2zm0-2zm1 2zm1 3zm0-3zm0 0zm2 0zm0-2zm0 4zm0-2zm0 1zm1 1zm0-2zm0 2zm1-4zm2 0zm0 4zm1-3z" stroke="#B26CC0" stroke-width="2.5" stroke-linecap="round" fill="none"/>
<path d="M364.8 1470L380.5 1468L388.4 1477.9L388.4 1493.6L380.5 1503.5L368.7 1503.5L362.8 1489.7z" fill="url(#p6)"/>
<path transform="translate(263 1371.5)" d="M105 97zm4 1zm4 3zm1-4zm2 0zm2 1zm0-1zm1 3zm0 0zm1 1zm6 3zm-1 3zm-3-5zm-4 1zm0 0zm-7 4zm-8-4zm-1 3zm-1 1zm-1 6zm0 0zm8-2zm2 0zm1-3zm3 1zm3 0zm7 0zm1-1zm0 5zm2 1zm-1 4zm-2-4zm-1 0zm-3 2zm-14-2zm-4 5zm-3-3zm0 2zm0 3zm1 2zm1-2zm5-1zm3 5zm3-3zm11 2zm2-2zm0 0zm0 4zm-11 5zm-2-4zm-4 0zm-1 2zm-2-1zm0 2zm-1-2zm6 4zm1 1zm5-1zm3 0z" stroke="#4E5B85" stroke-width="2.5" stroke-linecap="round" fill="none"/>
<path d="M329.3 1462.1L341.2 1458.2L351 1466L349 1481.8L337.2 1483.8L329.3 1475.9z" fill="url(#p7)"/>
<path transform="translate(263 1371.5)" d="M75 87zm1 1zm6 1zm3 0zm2 3zm-2 1zm0 1zm-1-3zm-9 0zm0-1zm-4 2zm-2-2zm1 9zm4-1zm1 3zm3 0zm0-4zm1 3zm8-4zm0 4zm0 1zm1-5zm-1 6zm-17 5zm-1 0zm-1 0zm5 3zm2 1zm2 1zm1 0zm0-2zm3 1zm1 0zm6-1z" stroke="#4A97BE" stroke-width="2.5" stroke-linecap="round" fill="none"/>
<path d="M327.4 1483.8L335.2 1481.8L341.2 1495.6L341.2 1509.4L337.2 1525.1L332.3 1523.2L331.3 1507.4L328.4 1495.6z" fill="url(#p8)"/>
<path transform="translate(263 1371.5)" d="M68 110zm3 0zm0 1zm2-1zm1 5zm-1-1zm0 1zm-8-1zm-2 11zm1-5zm1 4zm0-2zm10 0zm0-1zm2 4zm0-1zm0 3zm-1 0zm-3 3zm-4-2zm-1 3zm-1-3zm0 6zm2 1zm5-2zm-5 7zm0 1zm-1 8zm8-3zm3-1zm-4 8zm0-1zm-1 1zm-1 1zm0-2zm-2 1zm-4-2z" stroke="#3BA8E0" stroke-width="2.5" stroke-linecap="round" fill="none"/>
<path d="M329.3 1493.6L341.2 1493.6L347.1 1509.4L358.9 1517.3L372.7 1513.3L380.5 1515.3L382.5 1529.1L374.6 1537L366.8 1535L358.9 1525.1L345.1 1517.3L337.2 1513.3L331.3 1503.5z" fill="url(#p9)"/>
<path transform="translate(263 1371.5)" d="M66 122zm1 0zm2 0zm0 0zm0 1zm2-2zm2 0zm0 3zm1-3zm0 4zm3-3zm0 0zm2 3zm2 6zm0-1zm-12-2zm1 5zm1 3zm4 0zm6-4zm2 1zm30 10zm-2-1zm0 1zm-4-3zm-1 2zm-2 0zm-4 1zm-10-1zm0 0zm-4-4zm-1 1zm-2 2zm-1-1zm-6-1zm-3 1zm4 5zm4-1zm1 1zm0 0zm3 1zm5 0zm1 0zm1 1zm6-1zm1-1zm3 1zm1 3zm8-5zm1 0zm5 0zm1 3zm1 6zm-1-1zm-12-2zm-1 1zm-1 0zm-5 3zm0-1zm-2 2zm-4-2zm8 8zm3 0zm6-5zm4 0zm1 1zm2 2zm0 1zm-1 3zm0-1zm-6 1zm-1 2zm-5-1zm-1-2z" stroke="#13917A" stroke-width="2.5" stroke-linecap="round" fill="none"/>
<path d="M319.5 1554.7L327.4 1537L333.3 1548.8L341.2 1554.7L339.2 1566.5L327.4 1568.5L317.5 1562.6z" fill="url(#p9)"/>
<path transform="translate(263 1371.5)" d="M63 166zm0-1zm-1 1zm4 5zm0 1zm1 0zm0-1zm2 2zm2 4zm-2 2zm-1-5zm0 2zm-1 0zm-3 1zm-2-2zm-6 8zm8 1zm2-2zm1 2zm5-2zm0 2zm6-1zm-1 8zm0 0zm-1-4zm-3-1zm0 2zm-1 1zm-7-2zm-2 3zm-2-1zm-1-1zm-4 0zm-1-1zm0-1zm3 8zm4 3zm2-1zm9 0zm2-2zm1 0zm0-1zm1 1zm1-2zm-12 6z" stroke="#13917A" stroke-width="2.5" stroke-linecap="round" fill="none"/>
<path d="M356.9 1554.7L364.8 1552.7L368.7 1562.6L364.8 1572.4L356.9 1570.4z" fill="url(#p9)"/>
<path transform="translate(263 1371.5)" d="M94 183zm5-2zm1 0zm2-1zm1 4zm2 3zm-1 1zm-1-2zm-1 2zm-6-2zm-2 4zm0 5zm1 2zm4-4zm1 1zm4 1zm-4 5zm-1 0zm-1 0zm0 1zm0-1zm-1-2z" stroke="#13917A" stroke-width="2.5" stroke-linecap="round" fill="none"/>
<path transform="translate(263 1371.5)" d="M94 189zm-2 2zm-3 0zm0-2zm-3 1zm-1 1zm-2 0zm0-1zm-2 0zm-1 0zm-5 3zm5 0zm1 1zm0 0zm0 1zm0-2zm1 1zm0-1zm2 2zm0-3zm4 0zm3 0zm1 0zm1 1zm0 3z" stroke="#13917A" stroke-width="2.5" stroke-linecap="round" fill="none"/>
<path transform="translate(263 1371.5)" d="M78 17zm6-2zm-13 6zm-9 5zm2-1zm12 4zm5 0zm11 5zm-19 0zm-2 0zm-5 0zm2 7zm4-1zm8-1zm9-3zm22 1zm-3 10zm-14 0zm-4-5zm-14 3zm-2-3zm-4 0zm-2 9zm1-3zm34 3zm10-2zm-14 10zm-12-3zm-1 2zm-16-4zm-2 6zm4 1zm10 2zm3 0zm3-2zm1 4zm11 5zm-8-4zm-10 4zm-8 0zm-1-1zm-5 1zm2 5zm4-2zm17 0zm2 3zm1-1zm-12 15z" stroke="#A31F30" stroke-width="2.5" stroke-linecap="round" fill="none"/>
<path transform="translate(263 1371.5)" d="M81 21zm3 5zm20-1zm-5 8zm-3 1zm-14 1zm28 2zm-6 10zm-4-5zm-33 4zm-1 2zm12 6zm-1 4zm-7-1zm-2 7zm34-1zm-8 8zm-19 10z" stroke="#4E5B85" stroke-width="2.5" stroke-linecap="round" fill="none"/>
<path transform="translate(263 1371.5)" d="M73 17zm14 3zm4 4zm-14 12zm2 0zm4 0zm7 4zm20 1zm2 4zm-23-1zm-24 4zm22 5zm24 5zm-7-3zm-21 8zm13 2zm9-1zm7-3zm-21 10zm-8-4zm2 7zm3 2zm-8 5zm-6 7z" stroke="#B26CC0" stroke-width="2.5" stroke-linecap="round" fill="none"/>
<path transform="translate(263 1371.5)" d="M115 101zm0-5zm7 7zm0 3zm-5 1zm-5-3zm-4 2zm-2 4zm1-1zm1 0zm15-1zm0 7zm-12 2zm0-3zm0 3zm-10-2zm0 1zm1 7zm1 0zm14-2zm1 1zm6 1zm-16 5zm-1-2z" stroke="#A31F30" stroke-width="2.5" stroke-linecap="round" fill="none"/>
<path transform="translate(263 1371.5)" d="M106 101zm10 4zm-11 6zm1-3zm2 3zm8-1zm0-2zm4 0zm0 4zm-12 4zm-5 8zm3-4z" stroke="#B26CC0" stroke-width="2.5" stroke-linecap="round" fill="none"/>
<path transform="translate(263 1371.5)" d="M74 126zm-1 10zm14 7zm-11-3zm7 7zm3-3zm28 1zm5 10zm-15-2zm2 5zm6-2zm3 3z" stroke="#C8C8C8" stroke-width="2.5" stroke-linecap="round" fill="none"/>
<path transform="translate(263 1371.5)" d="M68 130zm12 4zm6 13zm3 0zm6 2zm15 1zm-6 1zm-4 1zm4 7z" stroke="#A31F30" stroke-width="2.5" stroke-linecap="round" fill="none"/>
<path transform="translate(263 1371.5)" d="M71 125zm8 12zm27 11zm3-2zm-6 7zm-1 5z" stroke="#B26CC0" stroke-width="2.5" stroke-linecap="round" fill="none"/>
<path d="M263 1581.4H452.4" stroke="#111" stroke-width="1.6" fill="none"/>
<g font-size="18.6" text-anchor="middle" font-weight="bold"><text x="355.7" y="1365.5">HatchlingOL1 rep1</text></g>
<path d="M526.1 1395.1L543.8 1381.4L547.8 1387.3L559.6 1395.1L573.4 1397.1L577.3 1414.8L579.3 1432.6L573.4 1442.4L565.5 1446.4L553.7 1450.3L547.8 1466L537.9 1462.1L530 1454.2L526.1 1434.5L528.1 1418.8z" fill="url(#p10)"/>
<path transform="translate(463.7 1371.5)" d="M74 13zm4 1zm1-2zm6 3zm9 8zm-2-1zm-2 0zm-8-3zm-13 0zm-8 6zm47-1zm0 3zm3 6zm-7-3zm0 4zm-6-1zm-7-1zm-3 2zm-5-3zm-3 2zm-15-3zm-1 5zm-1-5zm0 5zm-1 0zm0 0zm2 2zm38 2zm4 2zm7-3zm1 6zm-5 3zm-21-1zm-3 1zm-22-4zm0 0zm0 0zm2 5zm16 2zm3 3zm16 0zm10-5zm3 0zm1 4zm0 0zm-2 3zm-13 3zm-8-4zm-27 3zm0 2zm-1-2zm0-1zm-1 6zm0-2zm24 0zm20 3zm8 0zm-3 3zm-4 1zm-8-1zm-21 5zm-13-1zm-2-2zm0-2zm-1 8zm2 2zm13-1zm17 2zm8-2zm2-2zm2 0zm1 0zm1 0zm-15 6zm0-1zm-1 1zm-22 1zm-3 3zm0-2zm-1-1zm-1 4zm4 2zm6 2zm12-1zm3-3zm-5 7zm-1 2zm0-1zm-2 0zm0 0zm-5 2zm-1-4zm-3 0zm0 1z" stroke="#C8C8C8" stroke-width="2.5" stroke-linecap="round" fill="none"/>
<path d="M508.4 1507.4L518.2 1505.4L526.1 1513.3L528.1 1527.1L520.2 1529.1L510.3 1521.2z" fill="url(#p10)"/>
<path transform="translate(463.7 1371.5)" d="M49 137zm13 6zm-1-3zm-1-2zm-8 4zm-2-3zm-4 3zm0 6zm1 1zm0 0zm0-3zm12 3zm2-3zm1-2zm1 1zm0 2zm1 3zm0 4zm-7 1zm-3-1zm-3-3zm-3 1zm15 4z" stroke="#C8C8C8" stroke-width="2.5" stroke-linecap="round" fill="none"/>
<path transform="translate(463.7 1371.5)" d="M52 123zm1 0zm2 0zm0 2zm0 1zm0 3zm-2-3zm-1 5zm0-1zm1 2z" stroke="#C8C8C8" stroke-width="2.5" stroke-linecap="round" fill="none"/>
<path transform="translate(463.7 1371.5)" d="M25 29zm1-4zm2 0zm1 1zm1 0zm0 1zm1 5zm-1 0zm-1 0zm-1-2zm0 3zm-2-1zm-1-2zm0 7zm0-1zm2 2zm0-1zm2 0zm0 1zm1 1z" stroke="#D6DFDD" stroke-width="2.5" stroke-linecap="round" fill="none"/>
<path d="M492.6 1414.8L498.5 1422.7L506.4 1434.5L513.3 1436.5L512.3 1440.4L502.5 1442.4L498.5 1450.3L492.6 1458.2L492.6 1466L486.7 1468L484.7 1458.2L486.7 1446.4L488.7 1436.5L494.6 1432.6L492.6 1422.7z" fill="url(#p11)"/>
<path transform="translate(463.7 1371.5)" d="M28 46zm-1-2zm0 9zm3-1zm5-2zm3 6zm-2-2zm-5 3zm-5 6zm6-3zm8 4zm10 6zm-4 0zm-1 0zm-2-2zm-1 1zm-1 1zm-3 1zm0-3zm-5 1zm-1 0zm-6 2zm-1-2zm-2 5zm0-1zm1 1zm11 3zm2 0zm-2 2zm-1 0zm-2 0zm-10-1zm-1 5zm0-5zm0 9zm0 0zm1-1zm4 1zm4-1zm3-2zm-9 10zm-1-1zm0 0zm-1-3zm2 6z" stroke="#EAB323" stroke-width="2.5" stroke-linecap="round" fill="none"/>
<path transform="translate(463.7 1371.5)" d="M153 100zm3 1zm0-2zm2 0zm1-1zm0 0zm2 1zm2 2zm0 2zm0 2zm0 1zm0-1zm-1 1zm-1 1zm-1-2zm0 0zm0-1zm-1 0zm0 1zm0-1zm-1 1zm0 0zm0-3zm-1 0zm0 1zm-6 3zm0 0zm-1-1zm0-3zm0 4zm-1 1zm0 0zm0-4zm-1 5zm4 0zm2 4zm2-2zm1-2zm0 2zm0-2zm0 5zm0-1zm1-1zm0-3zm2 4zm0-2zm1 2zm1-2zm2 3zm-2 1z" stroke="#EAB323" stroke-width="2.5" stroke-linecap="round" fill="none"/>
<path transform="translate(463.7 1371.5)" d="M151 74zm2 2zm0-1zm1 0zm0 2zm2-2z" stroke="#EAB323" stroke-width="2.5" stroke-linecap="round" fill="none"/>
<path transform="translate(463.7 1371.5)" d="M158 40zm1-2zm-1 5zm0 2zm-1 0zm0-1z" stroke="#EAB323" stroke-width="2.5" stroke-linecap="round" fill="none"/>
<path transform="translate(463.7 1371.5)" d="M60 65zm0 0zm1 0zm2 0zm0 1zm-3 2zm0-1zm0 1zm-1-2zm0 0z" stroke="#EAB323" stroke-width="2.5" stroke-linecap="round" fill="none"/>
<path transform="translate(463.7 1371.5)" d="M46 95zm-7 2zm2-1zm1 2zm1 0zm3 0zm1-1zm0 3zm2-1zm0 0z" stroke="#E8A0C8" stroke-width="2.5" stroke-linecap="round" fill="none"/>
<path transform="translate(463.7 1371.5)" d="M14 116zm-1 0zm-1-2zm-2 4zm0 1zm-2 2zm1 0zm1-1zm0 1zm0-1z" stroke="#E8A0C8" stroke-width="2.5" stroke-linecap="round" fill="none"/>
<path transform="translate(463.7 1371.5)" d="M141 56zm0-1zm0 1zm-1 2zm0 1zm-1-5zm-1 3zm0 1zm-1-3zm-1 3zm-1-1zm0 0zm0 0zm-1-1zm-1 2zm-3-2zm-1 2zm2 2zm0 4zm0 1zm1-5zm2 3zm1 0zm2-1zm1-1zm0 1zm3 1zm1 3zm-1 1zm-2 0zm0 4zm0-5zm-2 3zm0-3zm-1 2zm0 3zm0 0zm-1-4zm-1 2zm-2 0z" stroke="#88B5AA" stroke-width="2.5" stroke-linecap="round" fill="none"/>
<path transform="translate(463.7 1371.5)" d="M133 135zm0 1zm0-2zm1 3zm1-1zm0 0zm2 1zm2 3zm0 2zm-1-1zm-1-2zm0 0z" stroke="#88B5AA" stroke-width="2.5" stroke-linecap="round" fill="none"/>
<path transform="translate(463.7 1371.5)" d="M92 153zm-1 0zm0 0zm-1-1zm-1 3zm0-2zm-1 2zm0-1zm-1-3zm-2 3zm-1 0zm-1-1zm-2 2zm-2 6zm0 0zm1-4zm0 4zm2 0zm1-1zm0-3zm1 2zm0 2zm1-1zm1-2zm0-2zm0 0zm1 2zm0-2zm0 4zm3 0zm2 0zm0-3zm0 0zm0 4zm2-4zm-1 8zm0 2zm-2-3zm0 0zm-1-1zm-2 1zm-1 3zm0-2zm-2-1zm0-1zm-2 2zm0-1zm0 0zm0 1zm0-1zm0 3zm1 2zm0 1zm2-2zm3 3zm0-2zm1-1zm1 2zm0 0zm1 0z" stroke="#88B5AA" stroke-width="2.5" stroke-linecap="round" fill="none"/>
<path d="M555.6 1450.3L565.5 1446.4L577.3 1454.2L581.2 1462.1L573.4 1473.9L565.5 1475.9L557.6 1468L553.7 1458.2z" fill="url(#p3)"/>
<path transform="translate(463.7 1371.5)" d="M94 77zm2 0zm2 0zm1-2zm1 2zm1-3zm11 8zm0 0zm-4-3zm-13-1zm0 2zm-6 8zm2-3zm6 3zm3-3zm3 2zm4 2zm8-4zm2 5zm-1 0zm-6 5zm-17-2zm-2 0zm0 2zm11 5zm8 1zm1 0zm2-5zm0 0zm2 1zm0 0zm-13 6zm-1-1z" stroke="#A31F30" stroke-width="2.5" stroke-linecap="round" fill="none"/>
<path d="M577.3 1444.4L591.1 1440.4L596 1450.3L591.1 1462.1L581.2 1460.1L575.3 1452.3z" fill="url(#p4)"/>
<path transform="translate(463.7 1371.5)" d="M128 71zm-8 0zm-5 2zm15 0zm2 3zm0 1zm-1 4zm-7 2zm-2-1zm-9 0zm-1-4zm0 0zm3 7zm1 2zm1-2zm3 2zm1 0zm1 1zm0-2zm2 3zm2 0zm1 0zm2-5z" stroke="#DD2B2A" stroke-width="2.5" stroke-linecap="round" fill="none"/>
<path d="M585.2 1466L597 1464.1L604.9 1473.9L610.8 1485.7L608.8 1495.6L599 1493.6L591.1 1487.7L585.2 1477.9z" fill="url(#p5)"/>
<path transform="translate(463.7 1371.5)" d="M135 92zm-3 1zm0 0zm-3 0zm-4 1zm-2 1zm-2 1zm6 2zm4 1zm2 1zm4-3zm1 2zm1 0zm-6 3zm-12 4zm0 1zm-2-4zm3 7zm16 2zm6 1zm1-2zm0-1zm1 2zm-5 2zm-11 5zm-2-3zm-1 0zm4 4zm2 0zm0 1zm4 1zm4 3zm0-4zm4 0zm1 2z" stroke="#B26CC0" stroke-width="2.5" stroke-linecap="round" fill="none"/>
<path transform="translate(463.7 1371.5)" d="M88 123zm1 0zm1 2zm5 0zm2 2zm-2 2zm-1 0zm-1 1zm0 0zm0 0zm-2-4zm-1 2zm0 2zm-3-2zm-1 0zm-1-2zm-1 1zm0 2zm2 3zm1 2zm1 2zm1 0zm1-3zm1 4zm0-3zm1-2zm1 3zm1-2zm0 2zm1-2z" stroke="#B26CC0" stroke-width="2.5" stroke-linecap="round" fill="none"/>
<path d="M565.5 1470L581.2 1468L589.1 1477.9L589.1 1493.6L581.2 1503.5L569.4 1503.5L563.5 1489.7z" fill="url(#p6)"/>
<path transform="translate(463.7 1371.5)" d="M101 101zm1-2zm0 0zm2 1zm0 0zm8-1zm2-1zm2 0zm1-1zm0 1zm8 5zm-1 0zm-3-1zm0 5zm-7-1zm-4-4zm-10 3zm0 5zm1 0zm0 3zm9-3zm2-1zm2-1zm11 2zm0-2zm3 7zm-13 4zm-7 0zm-7-4zm2 8zm14 0zm6 1zm0 1zm1-4zm0 1zm-1 4zm-3 2zm-8 0zm-4 3zm-4-4zm3 5z" stroke="#4E5B85" stroke-width="2.5" stroke-linecap="round" fill="none"/>
<path d="M530 1462.1L541.9 1458.2L551.7 1466L549.7 1481.8L537.9 1483.8L530 1475.9z" fill="url(#p12)"/>
<path transform="translate(463.7 1371.5)" d="M71 88zm0 1zm7-3zm0 1zm0 0zm12 8zm-6-4zm-1 1zm-5-1zm-4 4zm-3-5zm-5 5zm1 5zm0 0zm21 4zm-1 3zm0-3zm-2-1zm-14-1zm-4 2zm-1 1zm-1-1zm6 7zm5 2zm3-2zm0 0z" stroke="#4A97BE" stroke-width="2.5" stroke-linecap="round" fill="none"/>
<path transform="translate(463.7 1371.5)" d="M65 113zm2 0zm1 0zm1 0zm5 3zm0 3zm-1-3zm0 3zm0-2zm-2-1zm0 1zm0 2zm-1-1zm-2 1zm-2-5zm-1 4zm1 3zm2 0zm0 1zm1 0zm2 3zm1 0zm0-2zm2-1zm0 3zm1-2zm0 0zm0 8zm-2-1zm-1-2zm-2-1zm-4 0zm3 5zm1 2zm0 2zm0-4zm1 2zm0-1zm0 3zm1-1zm1 1zm3-4zm2 8zm-1-1zm-2 4zm-2-2zm-1 0zm-2-3zm0 5zm-1-4zm-1 2zm0 3zm3 0zm2 3zm1-2zm0 0zm1 2zm-1 6zm-1-1zm-2-1z" stroke="#3BA8E0" stroke-width="2.5" stroke-linecap="round" fill="none"/>
<path d="M530 1493.6L541.9 1493.6L547.8 1509.4L559.6 1517.3L573.4 1513.3L581.2 1515.3L583.2 1529.1L575.3 1537L567.5 1535L559.6 1525.1L545.8 1517.3L537.9 1513.3L532 1503.5z" fill="url(#p13)"/>
<path transform="translate(463.7 1371.5)" d="M66 125zm1-3zm1-1zm0 2zm5 1zm2-2zm1 2zm0 0zm6 4zm-1 1zm0 1zm-1 1zm-8-3zm-2 0zm0 8zm11-1zm1-1zm2 3zm1-2zm27 6zm-3 0zm-2 0zm-5 2zm-27-2zm-1-1zm-2-1zm9 6zm2 0zm4 3zm8-3zm0-1zm0 1zm2 0zm4-1zm2 0zm0 0zm1 1zm11 1zm3 8zm-6-1zm-18-2zm3 5zm3 2zm0-1zm6-1zm11 5zm1-1zm2-2zm0 0zm1-1zm-11 8zm-6-2zm-2 0z" stroke="#13917A" stroke-width="2.5" stroke-linecap="round" fill="none"/>
<path d="M520.2 1554.7L528.1 1537L534 1548.8L541.9 1554.7L539.9 1566.5L528.1 1568.5L518.2 1562.6z" fill="url(#p9)"/>
<path transform="translate(463.7 1371.5)" d="M65 166zm-1 1zm-2-2zm-1 8zm3-5zm3 2zm2 9zm0-5zm-9 3zm-1-2zm-3 7zm0 3zm1-5zm3 0zm16 2zm1 1zm1 5zm-1 1zm0 0zm-6 1zm-2-2zm-13 3zm-1-5zm0 5zm-2-1zm7 5zm7 0zm3 0zm2 1zm0-2zm7 2z" stroke="#13917A" stroke-width="2.5" stroke-linecap="round" fill="none"/>
<path transform="translate(463.7 1371.5)" d="M95 183zm0 1zm1 0zm1-1zm2 1zm1-1zm0 1zm2-1zm1 2zm2 5zm-1-3zm-1 1zm0 3zm0-3zm-1 0zm0 3zm-1-4zm0 1zm0 0zm0 3zm0-4zm-1 1zm0 3zm-1-3zm0 3zm0-3zm0 3zm0-1zm-1 1zm0-3zm-1 0zm0 0zm-1 2zm0-1zm0-3zm0 2zm-1-1zm0 1zm-1 2zm0-3zm0 9zm0 1zm1-4zm0 4zm1-4zm0 2zm0 1zm0-3zm1 4zm0-1zm2-2zm0-2zm1 0zm1 4zm1 0zm3-3zm-6 5zm0 0zm-2 1zm-2 0z" stroke="#13917A" stroke-width="2.5" stroke-linecap="round" fill="none"/>
<path transform="translate(463.7 1371.5)" d="M93 190zm-4 1zm-2 0zm-4 0zm-2-1zm-3 0zm-2 2zm3 3zm2-1zm1 1zm1-1zm1 1zm4 0zm4-3zm1 1z" stroke="#13917A" stroke-width="2.5" stroke-linecap="round" fill="none"/>
<path transform="translate(463.7 1371.5)" d="M74 22zm-2 3zm4 3zm2 0zm11-3zm18 7zm-5 1zm-16-3zm-22 2zm11 9zm3-4zm0-1zm11 0zm5 2zm0 2zm1 0zm10 1zm1 1zm-15 10zm16-3zm3 5zm-7 5zm-13-1zm-6 0zm-6 1zm6 1zm3 2zm2 2zm7-1zm6-2zm-12 10zm-6-1zm-4 0zm-10 2zm9 5zm4 4z" stroke="#A31F30" stroke-width="2.5" stroke-linecap="round" fill="none"/>
<path transform="translate(463.7 1371.5)" d="M79 23zm-6-1zm21 7zm-12 6zm-1 0zm30 6zm-2 3zm-8 2zm-10 0zm-18 5zm38 5zm-6 2zm-9-3zm-8 3zm-11 3zm12 3zm23-4zm-39 26z" stroke="#4E5B85" stroke-width="2.5" stroke-linecap="round" fill="none"/>
<path transform="translate(463.7 1371.5)" d="M97 23zm-24-5zm7 11zm2-1zm8 0zm12 3zm-9 4zm-1-4zm-29 9zm21 5zm-6 1zm-11 0zm2 2zm12 2zm7-1zm-7 6zm-4 2zm1 8zm21-5zm3 5zm-14 10zm-7 6zm-7 1zm12 3z" stroke="#B26CC0" stroke-width="2.5" stroke-linecap="round" fill="none"/>
<path transform="translate(463.7 1371.5)" d="M103 98zm21 9zm-3 0zm-6-2zm-5-2zm-2 2zm0 6zm5 2zm9 1zm-8 5zm-4 0zm-7-3zm-1 4zm0 0zm2 1zm0 1zm0 3zm3-4zm8-1zm2 0zm7 3zm-12 4zm0-1zm-8 0z" stroke="#A31F30" stroke-width="2.5" stroke-linecap="round" fill="none"/>
<path transform="translate(463.7 1371.5)" d="M102 97zm20 10zm-1-4zm-10 2zm-6-2zm5 7zm2 1zm1 2zm6-4zm5 10zm-9-2zm-2-3zm0 3zm-1 2zm-13-3zm10 7zm5 0zm1-2zm2 3zm3 0zm2-1zm2-2zm-18 9zm-1 0z" stroke="#B26CC0" stroke-width="2.5" stroke-linecap="round" fill="none"/>
<path transform="translate(463.7 1371.5)" d="M72 125zm-1 4zm3 8zm5-5zm1 11zm10 5zm4 1zm16-5zm1 2zm0 0zm8 9zm-15-2zm-1 1zm-2 0zm-10-4zm13 7zm2 4zm1-1z" stroke="#C8C8C8" stroke-width="2.5" stroke-linecap="round" fill="none"/>
<path transform="translate(463.7 1371.5)" d="M70 123zm2-1zm4 2zm4 1zm0 11zm-4 2zm7 6zm19 5zm4-1zm8 7zm-3 6zm1 3z" stroke="#A31F30" stroke-width="2.5" stroke-linecap="round" fill="none"/>
<path transform="translate(463.7 1371.5)" d="M78 126zm-4 2zm14 15zm-3-4zm24 8zm-2 8zm-4 0zm-5-5zm0 5zm-6-4zm16 10zm4 1z" stroke="#B26CC0" stroke-width="2.5" stroke-linecap="round" fill="none"/>
<path d="M463.7 1581.4H652" stroke="#111" stroke-width="1.6" fill="none"/>
<g font-size="18.6" text-anchor="middle" font-weight="bold"><text x="552.4" y="1365.5">HatchlingOL1 rep2</text></g>
<path d="M725.6 1395.1L743.3 1381.4L747.3 1387.3L759.1 1395.1L772.9 1397.1L776.8 1414.8L778.8 1432.6L772.9 1442.4L765 1446.4L753.2 1450.3L747.3 1466L737.4 1462.1L729.5 1454.2L725.6 1434.5L727.6 1418.8z" fill="url(#p10)"/>
<path transform="translate(663.2 1371.5)" d="M70 17zm1 0zm3-1zm1-1zm0-1zm1-1zm11 4zm5 6zm-2-2zm-1-3zm0 1zm-3-1zm-16 1zm-2 4zm-1-4zm0 4zm-1-4zm0 1zm-3 6zm12-1zm2 1zm24-2zm7 5zm0-2zm6 8zm-3-5zm0 4zm-1-3zm-7 0zm0-1zm-39 3zm-1 0zm1 3zm11 2zm3-1zm6 2zm3 1zm13-3zm3 2zm9-3zm0 1zm1 10zm-12-5zm-15 5zm-1-2zm0 1zm-22-3zm0 9zm0 1zm2-4zm16 4zm9 0zm24-3zm1-2zm0 2zm1 4zm-1 1zm-50 0zm-2 3zm-1 1zm0 2zm0 1zm16 2zm30 4zm-5 1zm-10-2zm-2 3zm-1 1zm-5-2zm-18-3zm-1 5zm-1-1zm0-2zm-1 2zm-1 3zm2-1zm11 5zm0-4zm15 0zm5 4zm1-1zm2 0zm2-2zm3 1zm5-3zm-16 6zm-10 6zm2 4zm1 2zm0 4zm-1-2zm-1 1zm-4-2zm-1 0z" stroke="#C8C8C8" stroke-width="2.5" stroke-linecap="round" fill="none"/>
<path d="M707.9 1507.4L717.7 1505.4L725.6 1513.3L727.6 1527.1L719.7 1529.1L709.8 1521.2z" fill="url(#p0)"/>
<path transform="translate(663.2 1371.5)" d="M45 135zm2 0zm5 1zm5 1zm0 0zm5 4zm0 2zm-1-2zm-1 0zm-1 0zm-1-3zm-13 5zm0-4zm19 11zm-6 0zm-3 2zm-9-2zm9 6zm1 2zm0 0zm1 0zm2-1zm4 0z" stroke="#C8C8C8" stroke-width="2.5" stroke-linecap="round" fill="none"/>
<path transform="translate(663.2 1371.5)" d="M50 123zm1-1zm1 3zm3 2zm-2-1zm0 2zm-1-2zm0 4zm-1-1zm-1 2z" stroke="#C8C8C8" stroke-width="2.5" stroke-linecap="round" fill="none"/>
<path transform="translate(663.2 1371.5)" d="M26 29zm0-4zm0 4zm1-4zm1 0zm1 2zm0 4zm0 1zm0 0zm-1 0zm-1-1zm0 3zm-1-1zm-1-1zm0 0zm0 0zm0 1zm0-2zm-2 2zm2 4z" stroke="#D6DFDD" stroke-width="2.5" stroke-linecap="round" fill="none"/>
<path d="M692.1 1414.8L698 1422.7L705.9 1434.5L712.8 1436.5L711.8 1440.4L702 1442.4L698 1450.3L692.1 1458.2L692.1 1466L686.2 1468L684.2 1458.2L686.2 1446.4L688.2 1436.5L694.1 1432.6L692.1 1422.7z" fill="url(#p14)"/>
<path transform="translate(663.2 1371.5)" d="M33 46zm0 1zm-1 0zm0-2zm-1-1zm0 3zm-1-3zm-1 3zm-1-3zm-1 7zm2 2zm0-1zm2-4zm4 2zm3 5zm-1 1zm-4 0zm-2-1zm-1 1zm-3 6zm15 0zm5 2zm3 1zm-1 4zm0-2zm-1 0zm0 0zm-1 3zm-7 0zm-14-4zm-3 5zm0 2zm12 4zm-14 8zm1 0zm7 3zm0-3zm1 1zm0 1zm1-2zm0 2zm-5 10z" stroke="#EAB323" stroke-width="2.5" stroke-linecap="round" fill="none"/>
<path transform="translate(663.2 1371.5)" d="M153 101zm3 0zm1 0zm0-1zm3 1zm4 6zm0-1zm0 1zm-2 0zm-1-2zm0 0zm0-3zm-1 4zm0 1zm-2-4zm0-1zm-1 4zm-2-2zm0 1zm0-1zm-1 2zm-1 1zm-1-5zm-1 1zm0 4zm0-4zm-1 4zm0-2zm-1 4zm2 0zm1-1zm1 1zm4 4zm0-3zm1-2zm1 3zm1 1zm0-2zm2 2zm1-4z" stroke="#EAB323" stroke-width="2.5" stroke-linecap="round" fill="none"/>
<path transform="translate(663.2 1371.5)" d="M152 74zm0 1zm2 2zm0 0zm1-1zm1 0z" stroke="#EAB323" stroke-width="2.5" stroke-linecap="round" fill="none"/>
<path transform="translate(663.2 1371.5)" d="M155 40zm2 0zm2-2zm0 5zm-2 2zm0 1z" stroke="#EAB323" stroke-width="2.5" stroke-linecap="round" fill="none"/>
<path transform="translate(663.2 1371.5)" d="M60 63zm2 1zm0 0zm-3 4zm-1 3zm0-2zm0-1zm-1 0zm0-1zm0 6z" stroke="#EAB323" stroke-width="2.5" stroke-linecap="round" fill="none"/>
<path transform="translate(663.2 1371.5)" d="M42 95zm-2-1zm0 3zm4 2zm4-3zm0 2zm0 0zm1-2zm0 2zm0 1z" stroke="#E8A0C8" stroke-width="2.5" stroke-linecap="round" fill="none"/>
<path transform="translate(663.2 1371.5)" d="M13 114zm-1 3zm-1 0zm-2 2zm0 0zm-1 1zm1 0zm0 0zm1 2zm0 0z" stroke="#E8A0C8" stroke-width="2.5" stroke-linecap="round" fill="none"/>
<path transform="translate(663.2 1371.5)" d="M142 56zm-1 1zm-1 2zm-1-2zm-1 0zm0 0zm-1-1zm0 3zm-2-2zm-1 2zm-1-1zm-1 0zm0-3zm-1 9zm3 1zm1-1zm1-3zm1 2zm1 1zm1-3zm1 0zm0 4zm1-2zm0 0zm0-2zm2 0zm-2 7zm-1-2zm-1 1zm0 0zm0 0zm0 2zm-1-3zm0 5zm-1-3zm-1 1zm-1 0zm-1-1zm-2 1zm-1 0z" stroke="#88B5AA" stroke-width="2.5" stroke-linecap="round" fill="none"/>
<path transform="translate(663.2 1371.5)" d="M135 137zm0 0zm1 0zm2 0zm1 3zm-1-2zm-1 2zm-1 2zm-1 0zm-1-1zm-1-2zm2 6z" stroke="#88B5AA" stroke-width="2.5" stroke-linecap="round" fill="none"/>
<path transform="translate(663.2 1371.5)" d="M92 154zm-1 0zm-1-4zm0 3zm-1 0zm-1 1zm-1-1zm-1-2zm-3 3zm-1 1zm0 0zm-1-3zm0 6zm1 1zm0 0zm0 2zm1-2zm1-2zm1-1zm0 0zm1 3zm2 2zm1-1zm1-3zm0 4zm2-4zm0 2zm1-1zm0-1zm0-1zm1 1zm-3 8zm-1-2zm0 2zm0-1zm-1 0zm-1 0zm0 2zm-3-2zm0 3zm-1-4zm0 2zm-1-3zm-1 5zm0-1zm0 0zm0 1zm-1-5zm0 2zm4 7zm0-1zm1 0zm1-1zm1-1zm0 2zm0-1zm0 1zm0 0zm3 0zm0-2z" stroke="#88B5AA" stroke-width="2.5" stroke-linecap="round" fill="none"/>
<path d="M755.1 1450.3L765 1446.4L776.8 1454.2L780.7 1462.1L772.9 1473.9L765 1475.9L757.1 1468L753.2 1458.2z" fill="url(#p3)"/>
<path transform="translate(663.2 1371.5)" d="M101 74zm11 9zm-2-4zm-4 3zm-2-2zm-5-1zm-6 0zm-1 3zm-2 7zm1 0zm1 0zm5 0zm12-2zm1 1zm3-4zm3 3zm1 6zm-3-1zm-3-1zm-19-1zm0 5zm4 3zm2 2zm4-4zm9 3zm2 1zm1-4zm-7 6zm-3 3zm-2-1zm-1-1zm0 0zm-2 0z" stroke="#A31F30" stroke-width="2.5" stroke-linecap="round" fill="none"/>
<path d="M776.8 1444.4L790.6 1440.4L795.5 1450.3L790.6 1462.1L780.7 1460.1L774.8 1452.3z" fill="url(#p4)"/>
<path transform="translate(663.2 1371.5)" d="M129 71zm-1-1zm-3 0zm-1-2zm-3 3zm0 0zm-1 0zm-6-1zm-1 6zm2 0zm13-4zm1 1zm0 0zm1 2zm1 2zm1 5zm-8 0zm-12-3zm6 5zm2 4zm3-1zm6-3zm-4 8z" stroke="#DD2B2A" stroke-width="2.5" stroke-linecap="round" fill="none"/>
<path d="M784.7 1466L796.5 1464.1L804.4 1473.9L810.3 1485.7L808.3 1495.6L798.5 1493.6L790.6 1487.7L784.7 1477.9z" fill="url(#p5)"/>
<path transform="translate(663.2 1371.5)" d="M137 95zm-2 0zm-2-3zm-2 1zm-3-1zm-4 2zm-1-1zm-1 2zm-2 4zm7-1zm9 1zm7 7zm-5-2zm-6 2zm-10-3zm1 9zm7 1zm14-5zm2 5zm1 2zm-11-1zm-6 2zm-1 3zm-2-5zm5 6zm2 0zm3 4zm0-4zm2 3zm0-2zm0 2zm2 2zm2-2zm0-3zm3 2z" stroke="#B26CC0" stroke-width="2.5" stroke-linecap="round" fill="none"/>
<path transform="translate(663.2 1371.5)" d="M84 123zm1 0zm2 1zm3 0zm0 0zm0 1zm4-3zm3 9zm-1-3zm-1-1zm0 3zm-2 0zm-1 1zm-2 0zm0-2zm-4-3zm0 5zm0-2zm-1 2zm0 0zm1 3zm1-2zm1 1zm1-1zm1 0zm0 3zm1 2zm3-3zm1-2zm1 1z" stroke="#B26CC0" stroke-width="2.5" stroke-linecap="round" fill="none"/>
<path d="M765 1470L780.7 1468L788.6 1477.9L788.6 1493.6L780.7 1503.5L768.9 1503.5L763 1489.7z" fill="url(#p6)"/>
<path transform="translate(663.2 1371.5)" d="M103 96zm1 1zm9 0zm4 0zm2 4zm2-1zm1 0zm2 5zm-2 0zm-3 1zm-11-3zm-4 2zm-3 1zm-2 4zm2 0zm1 0zm8-2zm15 0zm0 0zm1 6zm0 5zm-13-5zm-2 2zm-1 3zm-10-1zm-1 3zm1 1zm1 0zm4-2zm15 5zm5-3zm0 1zm-4 4zm-4 0zm-12 0zm-1 2zm0-1zm2 5zm3-1z" stroke="#4E5B85" stroke-width="2.5" stroke-linecap="round" fill="none"/>
<path d="M729.5 1462.1L741.4 1458.2L751.2 1466L749.2 1481.8L737.4 1483.8L729.5 1475.9z" fill="url(#p12)"/>
<path transform="translate(663.2 1371.5)" d="M74 89zm0-2zm2 0zm1 1zm4 1zm6 4zm-2-2zm-8 0zm-8 0zm-4 8zm4 1zm13 0zm5-1zm0-1zm-1 6zm-16 3zm-2-1zm-3-2zm8 4zm0 0zm2 2zm1 1zm4-1zm3 1zm1-1zm1-2z" stroke="#4A97BE" stroke-width="2.5" stroke-linecap="round" fill="none"/>
<path transform="translate(663.2 1371.5)" d="M65 113zm2 0zm1-2zm1 2zm2-1zm5 7zm-8-1zm-1-3zm-1 1zm0 8zm3 0zm2-3zm0 3zm1-1zm2 2zm1-4zm0 0zm1 1zm1 0zm1 2zm0-3zm-2 6zm0 2zm0 0zm-2-3zm0 5zm0-2zm-1-2zm-2 2zm0 0zm-2-3zm-2 0zm4 9zm1 0zm0-1zm2 2zm0-1zm1 1zm4-4zm-2 9zm-1-3zm-1 2zm-3-1zm-1-1zm-1 2zm-1 1zm1 5zm0-1zm1 1zm0-2zm0 2zm3 3zm0-5zm2 0zm0 0zm-2 7zm0 0zm-2-1zm-1 0zm-1 1z" stroke="#3BA8E0" stroke-width="2.5" stroke-linecap="round" fill="none"/>
<path d="M729.5 1493.6L741.4 1493.6L747.3 1509.4L759.1 1517.3L772.9 1513.3L780.7 1515.3L782.7 1529.1L774.8 1537L767 1535L759.1 1525.1L745.3 1517.3L737.4 1513.3L731.5 1503.5z" fill="url(#p13)"/>
<path transform="translate(663.2 1371.5)" d="M68 122zm2 0zm8 3zm1-3zm3 6zm-2 1zm-2-3zm-7 3zm-2 2zm-2-1zm-1-2zm0-1zm2 6zm0-1zm14 2zm0 0zm34 9zm-11 0zm-13 0zm-1 0zm-5-3zm-1-2zm-1 0zm-2 2zm-7 2zm-3-3zm9 7zm1 0zm3 3zm1 0zm1-1zm3-4zm7 1zm4-1zm0 3zm5-1zm4-1zm1 2zm7-1zm3 3zm-2 5zm0-4zm-2 3zm-26-2zm6 7zm12 3zm0-1zm6 1zm0 2zm-3 1zm-1 1zm-1 0zm-6 0z" stroke="#13917A" stroke-width="2.5" stroke-linecap="round" fill="none"/>
<path d="M719.7 1554.7L727.6 1537L733.5 1548.8L741.4 1554.7L739.4 1566.5L727.6 1568.5L717.7 1562.6z" fill="url(#p9)"/>
<path transform="translate(663.2 1371.5)" d="M66 167zm-2-2zm0 2zm-1 1zm0 0zm3 2zm0-2zm0 3zm0-1zm7 9zm-3-3zm-4-2zm-5 1zm-1 1zm-4 6zm0-2zm1 4zm19 0zm1-3zm1 4zm1 6zm-10-2zm0-3zm-10 7zm4 3zm3 1zm2-3zm3 0zm3 1zm1-2zm1 1z" stroke="#13917A" stroke-width="2.5" stroke-linecap="round" fill="none"/>
<path transform="translate(663.2 1371.5)" d="M97 183zm1-1zm0 1zm1 1zm0-2zm0 0zm3 1zm2 0zm0 6zm0-1zm0 0zm0 2zm-1-4zm-1 1zm-1 0zm-1 3zm0-2zm-3 3zm-1-4zm-1-1zm0 1zm-1 0zm0 5zm1 3zm1-3zm1 2zm0 2zm1-1zm0 0zm0-3zm0 3zm0-3zm1 3zm0-2zm1 4zm1-4zm0 1zm0-2zm0 4zm1 1zm0-3zm0 0zm1 0zm0 2zm0-1zm0-3zm1 4zm0 1zm0 0zm0-4zm0 2zm0 0zm-3 4zm-1 0zm0 0zm0 0zm-2 0zm-1 0zm-1-1zm-1 0z" stroke="#13917A" stroke-width="2.5" stroke-linecap="round" fill="none"/>
<path transform="translate(663.2 1371.5)" d="M94 189zm-6 2zm-1-1zm0 0zm-5 1zm-4-1zm-1 1zm-1 0zm2 1zm3 0zm3 0zm4 0zm1 2zm1-1zm1 0z" stroke="#13917A" stroke-width="2.5" stroke-linecap="round" fill="none"/>
<path transform="translate(663.2 1371.5)" d="M69 24zm10 1zm15 6zm-3 4zm-25-2zm30 8zm8-5zm5 1zm2 0zm-30 14zm6-1zm17 2zm-31 11zm5-3zm11 5zm6-2zm13-3zm1 0zm-30 11zm-13-5zm1 10zm0 2zm-1 0zm20 12z" stroke="#A31F30" stroke-width="2.5" stroke-linecap="round" fill="none"/>
<path transform="translate(663.2 1371.5)" d="M97 26zm-32 11zm44 7zm0 7zm-1 3zm-17 1zm9 11zm-11 4zm-5 21z" stroke="#4E5B85" stroke-width="2.5" stroke-linecap="round" fill="none"/>
<path transform="translate(663.2 1371.5)" d="M71 25zm41 13zm-34 7zm10 4zm18 0zm-16 7zm20 9zm-35 4zm0 17z" stroke="#B26CC0" stroke-width="2.5" stroke-linecap="round" fill="none"/>
<path transform="translate(663.2 1371.5)" d="M125 103zm-3 2zm-1-3zm0 11zm3 3zm-11-1zm1 5zm1 4zm1 7zm0 0zm-6-4zm-2 6z" stroke="#A31F30" stroke-width="2.5" stroke-linecap="round" fill="none"/>
<path transform="translate(663.2 1371.5)" d="M113 99zm11 6zm-18-3zm-4 1zm20 10zm-2 3zm-19 5zm7 2zm5 2zm3 4zm-6 2zm-1-2z" stroke="#B26CC0" stroke-width="2.5" stroke-linecap="round" fill="none"/>
<path transform="translate(663.2 1371.5)" d="M71 131zm11 11zm-4-4zm0 0zm-4 3zm14 6zm2 2zm14-4zm7 0zm-11 10zm1 1zm11 1z" stroke="#C8C8C8" stroke-width="2.5" stroke-linecap="round" fill="none"/>
<path transform="translate(663.2 1371.5)" d="M77 135zm7 5zm29 16zm2 4zm1-4zm0 5z" stroke="#A31F30" stroke-width="2.5" stroke-linecap="round" fill="none"/>
<path transform="translate(663.2 1371.5)" d="M71 123zm6 8zm-6-3zm16 21zm10 7zm4 3z" stroke="#B26CC0" stroke-width="2.5" stroke-linecap="round" fill="none"/>
<path d="M663.2 1581.4H852.6" stroke="#111" stroke-width="1.6" fill="none"/>
<g font-size="18.6" text-anchor="middle" font-weight="bold"><text x="749.1" y="1365.5">HatchlingOL2</text></g>
<path d="M923.4 1395.1L941.1 1381.4L945.1 1387.3L956.9 1395.1L970.7 1397.1L974.6 1414.8L976.6 1432.6L970.7 1442.4L962.8 1446.4L951 1450.3L945.1 1466L935.2 1462.1L927.3 1454.2L923.4 1434.5L925.4 1418.8z" fill="url(#p0)"/>
<path transform="translate(861 1371.5)" d="M80 11zm-9 5zm1-1zm5-2zm19 9zm-6-2zm-2-1zm-19 3zm-1-1zm-1-2zm-4 3zm-2 7zm1-5zm0 1zm1 2zm0 2zm2 0zm31-2zm1-3zm4 2zm4 5zm-13 4zm-3-1zm-2-4zm-6 4zm-16-3zm-1 9zm0 1zm2-2zm8-1zm2-2zm19 3zm14-1zm2 2zm5 4zm-1 0zm-1 1zm-2 0zm-11-1zm-4 2zm-8-4zm-17 5zm-8-5zm-1 0zm1 9zm1-1zm7 2zm11 0zm7 0zm1 0zm3-2zm3 2zm17-1zm0 1zm0-4zm3 9zm-2-1zm-1 1zm-20 0zm-20-2zm0 3zm-5 0zm-5-2zm0 3zm-1-2zm-1 8zm1-3zm0-2zm8 1zm5 0zm5 2zm2-3zm2 4zm4-3zm21 3zm4-4zm1 2zm-1 5zm-3 1zm-1 0zm0 0zm-6 0zm-3 3zm-7-1zm-8-4zm-7 3zm-13 2zm-2-5zm-1 9zm1-1zm0-1zm2 4zm0-1zm21 0zm8-1zm4 1zm6-3zm-9 5zm-3 1zm-1-1zm-2 2zm-11 0zm-6 1zm-3-2zm-3 4zm-2-5zm5 9zm0-1zm1 0zm6 3zm8-1zm3 1zm-4 6zm-1-3zm0-2zm-1 4zm-1-1zm-8-2z" stroke="#C8C8C8" stroke-width="2.5" stroke-linecap="round" fill="none"/>
<path d="M905.7 1507.4L915.5 1505.4L923.4 1513.3L925.4 1527.1L917.5 1529.1L907.6 1521.2z" fill="url(#p0)"/>
<path transform="translate(861 1371.5)" d="M47 136zm3-1zm2-2zm1 2zm2 0zm2 1zm1 0zm3 7zm-3-3zm-5-2zm-3 2zm-3 1zm-1 2zm-1 0zm0 1zm7 0zm7 4zm4-1zm1 6zm-1 2zm-8-2zm-4-1zm-1 1zm-3-2zm10 6zm3-1z" stroke="#C8C8C8" stroke-width="2.5" stroke-linecap="round" fill="none"/>
<path transform="translate(861 1371.5)" d="M49 125zm1-3zm1 1zm1 2zm0 0zm0 0zm1-3zm1 8zm0-4zm0 5zm-1-1zm0-4zm-1 4zm-1 0zm0-1z" stroke="#C8C8C8" stroke-width="2.5" stroke-linecap="round" fill="none"/>
<path transform="translate(861 1371.5)" d="M24 28zm0 1zm0 0zm1 0zm0 0zm1-4zm0 4zm0-5zm1 5zm1-2zm0-1zm1-1zm2 3zm-1 7zm0-5zm0 3zm-2 1zm0 1zm-1-4zm0 2zm-1 1zm0 0zm-1 0zm-1 1zm0-1zm-1-4zm1 6zm1 0zm1 0zm4 1z" stroke="#D6DFDD" stroke-width="2.5" stroke-linecap="round" fill="none"/>
<path d="M889.9 1414.8L895.8 1422.7L903.7 1434.5L910.6 1436.5L909.6 1440.4L899.8 1442.4L895.8 1450.3L889.9 1458.2L889.9 1466L884 1468L882 1458.2L884 1446.4L886 1436.5L891.9 1432.6L889.9 1422.7z" fill="url(#p11)"/>
<path transform="translate(861 1371.5)" d="M30 45zm-1 3zm1 4zm1-4zm0 5zm6 0zm-1 1zm-5 3zm-5 8zm1-1zm4-4zm0 1zm1 0zm2 0zm5-1zm1 1zm5 3zm3 1zm1 1zm-9 5zm-15-2zm-1-1zm-1 3zm0-5zm1 6zm13 4zm0 0zm2-3zm-4 6zm-1 2zm0-1zm-1 0zm-4 1zm-4-3zm-2 1zm-1-1zm-1 0zm0 11zm0-2zm0 1zm1-1zm8-1zm-2 6zm1 4z" stroke="#EAB323" stroke-width="2.5" stroke-linecap="round" fill="none"/>
<path transform="translate(861 1371.5)" d="M155 100zm1-2zm0 3zm1-1zm1-3zm0 4zm0-3zm0 3zm1-1zm1-1zm1 1zm4 5zm-2 2zm0 0zm-1-1zm-1-3zm0 1zm-1-2zm0 5zm-1-1zm-3-1zm-1-3zm-1 3zm0 0zm-1 0zm0 0zm-1-3zm-1 5zm0-1zm-1-2zm0 0zm0 4zm1 3zm1 1zm0-4zm2 5zm0-2zm2 1zm0-3zm1 0zm0 2zm0 1zm1-2zm0-1zm1 2zm0 1zm0 0zm1-3zm0 3zm1 1zm0 0zm0-4zm1 2zm1 0zm0-2zm0 4zm1-5zm0 1zm-2 5zm-1 0z" stroke="#EAB323" stroke-width="2.5" stroke-linecap="round" fill="none"/>
<path transform="translate(861 1371.5)" d="M153 73zm1 3zm0 0zm0-1zm0-3zm0 3zm1-2zm3 2z" stroke="#EAB323" stroke-width="2.5" stroke-linecap="round" fill="none"/>
<path transform="translate(861 1371.5)" d="M156 40zm3-1zm0 3zm-3 2zm0-2zm0 2zm0-2zm-1 0z" stroke="#EAB323" stroke-width="2.5" stroke-linecap="round" fill="none"/>
<path transform="translate(861 1371.5)" d="M61 65zm0 0zm1-1zm0 1zm0 2zm0-1zm-3 1zm0 4zm-2-1zm0-2zm0 1zm0-3zm-2 3zm1 3zm3 0z" stroke="#EAB323" stroke-width="2.5" stroke-linecap="round" fill="none"/>
<path transform="translate(861 1371.5)" d="M43 94zm0 0zm-1 0zm-2-1zm2 5zm1 0zm2-1zm1-1zm0 2zm1 0zm1-2zm2 1z" stroke="#E8A0C8" stroke-width="2.5" stroke-linecap="round" fill="none"/>
<path transform="translate(861 1371.5)" d="M12 112zm1 0zm0 5zm-1 2zm-1-1zm0-1zm0 2zm0-2zm-1-1zm0 3zm-2 0zm2 2z" stroke="#E8A0C8" stroke-width="2.5" stroke-linecap="round" fill="none"/>
<path transform="translate(861 1371.5)" d="M142 57zm-1-1zm0 0zm0-1zm-2 0zm0-1zm0 3zm-1 2zm0-4zm0 0zm-1 4zm0-4zm-3 1zm0 3zm0 0zm-1 0zm0-2zm0 2zm-1-2zm-1 2zm-2 2zm1 1zm0-2zm1 5zm1-2zm0-2zm2 2zm0-2zm0 2zm0-2zm1 0zm1 0zm1 2zm0-1zm1 0zm0-2zm0 2zm1 1zm0 2zm0-2zm1-2zm0-1zm1 1zm1 3zm-1 2zm-2 2zm-1-2zm0 4zm-2-1zm-1-3zm0 2zm0-2zm-1 3zm0-1zm-1 1zm0-1zm0 2zm1 2zm1 0zm2 0z" stroke="#88B5AA" stroke-width="2.5" stroke-linecap="round" fill="none"/>
<path transform="translate(861 1371.5)" d="M132 136zm0-1zm1 2zm5-1zm1 4zm0-1zm-1 3zm0-1zm0-3zm-1 5zm0-4zm-1-1zm0 0zm0 2zm0 3zm0-2zm0-3zm-2 5zm0-4zm0-1z" stroke="#88B5AA" stroke-width="2.5" stroke-linecap="round" fill="none"/>
<path d="M941.1 1525.1L951 1521.2L954.9 1529.1L952.9 1542.9L945.1 1542.9L941.1 1535z" fill="url(#p2)"/>
<path transform="translate(861 1371.5)" d="M93 155zm-6-1zm-3-4zm-3 2zm-1 9zm1-1zm0-4zm3 0zm6 5zm3 0zm1-5zm0 9zm-3 2zm-4-1zm-3-1zm-1 1zm-1 1zm2 3zm1 1zm1 1zm4-2zm0 0zm2 0z" stroke="#88B5AA" stroke-width="2.5" stroke-linecap="round" fill="none"/>
<path d="M952.9 1450.3L962.8 1446.4L974.6 1454.2L978.5 1462.1L970.7 1473.9L962.8 1475.9L954.9 1468L951 1458.2z" fill="url(#p3)"/>
<path transform="translate(861 1371.5)" d="M93 77zm4-1zm2 0zm4 0zm2 0zm1 1zm8 2zm-1 1zm-3-2zm0 3zm-5-3zm-5 3zm-6 1zm-4 1zm-1 5zm11-4zm7 1zm2 1zm2 2zm3-3zm2 2zm2 0zm-3 5zm-6 2zm-1-2zm-7 1zm-3 2zm-5-3zm5 7zm7 2zm1-5zm1 1zm3 3zm1-2zm1 1zm-3 4zm-3 1zm-3 1zm-1-1z" stroke="#A31F30" stroke-width="2.5" stroke-linecap="round" fill="none"/>
<path d="M974.6 1444.4L988.4 1440.4L993.3 1450.3L988.4 1462.1L978.5 1460.1L972.6 1452.3z" fill="url(#p4)"/>
<path transform="translate(861 1371.5)" d="M125 69zm-1 1zm-1 1zm-5 0zm-3 1zm0 1zm6 2zm1-3zm3 0zm1 3zm1 1zm2 0zm1 0zm2-1zm1 1zm-4 2zm-15 5zm-1-2zm0-3zm0 6zm0 0zm4 3zm0-1zm1 2zm0-1zm0-2zm1 2zm1 3z" stroke="#DD2B2A" stroke-width="2.5" stroke-linecap="round" fill="none"/>
<path d="M982.5 1466L994.3 1464.1L1002.2 1473.9L1008.1 1485.7L1006.1 1495.6L996.3 1493.6L988.4 1487.7L982.5 1477.9z" fill="url(#p5)"/>
<path transform="translate(861 1371.5)" d="M136 94zm-1-1zm0 2zm-1-2zm0-1zm-1 0zm-2 2zm0-1zm-9 1zm-2 3zm2 0zm2 0zm7-1zm6 1zm6 7zm-1 3zm0-2zm0-3zm-6 2zm0 0zm-16-2zm3 6zm1 0zm4 0zm9 3zm5 2zm1-5zm2 5zm0-2zm1 2zm0 2zm-11 3zm-3 1zm-6-2zm9 5zm3 0zm4-1zm0 0zm3 1zm0 0zm1 1z" stroke="#B26CC0" stroke-width="2.5" stroke-linecap="round" fill="none"/>
<path transform="translate(861 1371.5)" d="M85 124zm1 1zm2 0zm2-2zm0 2zm1-2zm0-2zm0 1zm0 1zm3 1zm0-1zm0 6zm0 2zm0-2zm-1-2zm-3 2zm0-2zm-1 0zm0 1zm-1-1zm-1-1zm-1 2zm0-1zm-1 2zm0 0zm0 4zm2 3zm0-4zm1 3zm0-3zm1 3zm0-1zm0-2zm2 5zm1-1zm2-3zm1 2zm0-1zm0 0zm3-1z" stroke="#B26CC0" stroke-width="2.5" stroke-linecap="round" fill="none"/>
<path d="M962.8 1470L978.5 1468L986.4 1477.9L986.4 1493.6L978.5 1503.5L966.7 1503.5L960.8 1489.7z" fill="url(#p6)"/>
<path transform="translate(861 1371.5)" d="M115 94zm-14 7zm13-5zm1 4zm4 4zm-1 1zm-3 0zm-9-2zm-3 4zm-2-3zm-1-1zm0 7zm2-1zm1 4zm0-3zm0-2zm6 0zm10 3zm7-3zm0 1zm-1 10zm-1-4zm-13-1zm-8 1zm-2 4zm1 5zm0-1zm2 2zm7 0zm0-3zm5 3zm2-2zm4 2zm3-3zm1 0zm-6 4zm-1 0zm-1 4zm-1 1zm0-2zm-12 1zm-1-3zm-1 0zm9 5zm5 0zm0 0zm2 0z" stroke="#4E5B85" stroke-width="2.5" stroke-linecap="round" fill="none"/>
<path d="M927.3 1462.1L939.2 1458.2L949 1466L947 1481.8L935.2 1483.8L927.3 1475.9z" fill="url(#p7)"/>
<path transform="translate(861 1371.5)" d="M71 89zm9 0zm1-1zm0 1zm-9 1zm-2 0zm-3 1zm-3 5zm22 1zm1 4zm1 0zm1-2zm-1 3zm-3 5zm-2-1zm-2-2zm-11 2zm-1 0zm-4-3zm5 5zm3 1zm3 4zm8-4zm0 0zm1 1zm0 2zm0-3zm1-1zm1 1z" stroke="#4A97BE" stroke-width="2.5" stroke-linecap="round" fill="none"/>
<path d="M925.4 1483.8L933.2 1481.8L939.2 1495.6L939.2 1509.4L935.2 1525.1L930.3 1523.2L929.3 1507.4L926.4 1495.6z" fill="url(#p8)"/>
<path transform="translate(861 1371.5)" d="M66 112zm2-1zm4-1zm2 3zm2 5zm-1-4zm0 0zm0 1zm-1 0zm-8 4zm-1-2zm0 2zm-1-4zm13 7zm1 5zm-4 2zm-6 0zm-3-2zm0 2zm1 4zm2 0zm7 4zm2-1zm0 1zm1 6zm-1-2zm-1 1zm-6-1zm0-2zm-2 5zm7 3zm-1 6zm-1 1zm-3-2z" stroke="#3BA8E0" stroke-width="2.5" stroke-linecap="round" fill="none"/>
<path d="M927.3 1493.6L939.2 1493.6L945.1 1509.4L956.9 1517.3L970.7 1513.3L978.5 1515.3L980.5 1529.1L972.6 1537L964.8 1535L956.9 1525.1L943.1 1517.3L935.2 1513.3L929.3 1503.5z" fill="url(#p9)"/>
<path transform="translate(861 1371.5)" d="M66 123zm1 1zm4 1zm1-2zm6 3zm-3 3zm-4 0zm-1 1zm-2 0zm0-3zm3 6zm1 4zm3-5zm7 1zm0 4zm1-5zm0 5zm30 6zm-2 0zm-5 0zm-14 0zm0-1zm-2 0zm0-2zm-10-1zm0 2zm-1 2zm-2 0zm-3-4zm0 0zm6 8zm3-1zm0-2zm6 0zm5 2zm4 0zm0-1zm1 2zm5-3zm1 2zm12-1zm1 0zm1 2zm2 5zm-2 0zm-1 2zm-23 0zm-5-3zm10 10zm3 0zm2-5zm1 5zm13 0zm0-3zm1 1zm-7 5zm-2 2zm-1-3zm0 0zm-6 0zm-1-1zm-1 1z" stroke="#13917A" stroke-width="2.5" stroke-linecap="round" fill="none"/>
<path d="M917.5 1554.7L925.4 1537L931.3 1548.8L939.2 1554.7L937.2 1566.5L925.4 1568.5L915.5 1562.6z" fill="url(#p9)"/>
<path transform="translate(861 1371.5)" d="M60 173zm2-1zm1-1zm2 1zm1-4zm7 11zm-1-1zm-2-2zm-2-2zm-1 1zm-3 3zm-2-2zm-2 2zm-3 5zm4-3zm0 2zm14-2zm1 5zm1 0zm2 4zm-1 0zm-2-1zm0 3zm-2-1zm-12-1zm-2 2zm-3 1zm1 2zm2 0zm1 0zm1 2zm0-3zm6 3zm3 0zm1-1zm2 0z" stroke="#13917A" stroke-width="2.5" stroke-linecap="round" fill="none"/>
<path d="M954.9 1554.7L962.8 1552.7L966.7 1562.6L962.8 1572.4L954.9 1570.4z" fill="url(#p9)"/>
<path transform="translate(861 1371.5)" d="M93 183zm2 2zm2-1zm2-2zm0-2zm1 1zm0 2zm1-1zm1 0zm1 6zm-7 1zm-4 0zm1 8zm0-2zm2-1zm8 1zm0-3zm2 3zm-3 6zm-2 0z" stroke="#13917A" stroke-width="2.5" stroke-linecap="round" fill="none"/>
<path transform="translate(861 1371.5)" d="M92 190zm-3 1zm-5 0zm-1-1zm-1 1zm-3 0zm-1-1zm-2 1zm4 1zm1 2zm3-2zm2 2zm0-1zm2 1zm1 1zm1 0zm0-2zm0-1zm2 0zm0 2z" stroke="#13917A" stroke-width="2.5" stroke-linecap="round" fill="none"/>
<path transform="translate(861 1371.5)" d="M81 11zm0 8zm-1 2zm-11 1zm0 1zm-5-1zm7 6zm1-2zm19 2zm18 2zm-20 2zm1 11zm-1 1zm-19 3zm-5 1zm19 5zm4-3zm7 2zm13 7zm-17-2zm-8 0zm-3 5zm25-2zm0 0zm-3 10zm-23-1zm-7 3zm0 3zm-2 10zm10 8z" stroke="#A31F30" stroke-width="2.5" stroke-linecap="round" fill="none"/>
<path transform="translate(861 1371.5)" d="M73 17zm35 10zm0 2zm-34 2zm-7 4zm19 12zm7 2zm-6 5zm13 11zm0 1zm-4 10zm-19 3z" stroke="#4E5B85" stroke-width="2.5" stroke-linecap="round" fill="none"/>
<path transform="translate(861 1371.5)" d="M73 20zm12 9zm-3 18zm28 6zm-2 6zm-4-3zm-8 9zm-18 12zm-2 12z" stroke="#B26CC0" stroke-width="2.5" stroke-linecap="round" fill="none"/>
<path transform="translate(861 1371.5)" d="M118 99zm6 8zm-8-2zm-5-2zm-4 3zm-3 7zm5-1zm8 0zm6 1zm-16 2zm-3 2zm-3 0zm2 8zm0-2zm6-3zm1 4zm1-3zm6 7z" stroke="#A31F30" stroke-width="2.5" stroke-linecap="round" fill="none"/>
<path transform="translate(861 1371.5)" d="M120 101zm-2 1zm-14 9zm5 2zm9 6zm-13-5zm-3 2zm4 5zm2-1zm7 4zm3-2zm-5 8z" stroke="#B26CC0" stroke-width="2.5" stroke-linecap="round" fill="none"/>
<path transform="translate(861 1371.5)" d="M81 131zm-4-3zm-4-1zm-2 4zm20 12zm-7-4zm-2 4zm15 4zm14 7zm-10 0zm-2 0zm5 9z" stroke="#C8C8C8" stroke-width="2.5" stroke-linecap="round" fill="none"/>
<path transform="translate(861 1371.5)" d="M67 122zm9 10zm6 4zm31 11zm4 9zm-6 7z" stroke="#A31F30" stroke-width="2.5" stroke-linecap="round" fill="none"/>
<path transform="translate(861 1371.5)" d="M74 134zm1 3zm2-1zm4 5zm3 4zm32 14z" stroke="#B26CC0" stroke-width="2.5" stroke-linecap="round" fill="none"/>
<path d="M861 1581.4H1049.8" stroke="#111" stroke-width="1.6" fill="none"/>
<g font-size="18.6" text-anchor="middle" font-weight="bold"><text x="948.1" y="1365.5">HatchlingOL2 dil</text></g>
<path d="M63.6 1369.5V1582.2" stroke="#111" stroke-width="1.6" fill="none"/>
<g font-size="17.5" text-anchor="middle"><text x="56.5" y="1476.4" transform="rotate(-90 56.5 1476.4)">UMAP  2</text><text x="553.6" y="1600.5">UMAP  1</text></g>
<path d="M161.9 1642.5V1894.8M314.6 1642.5V1894.8M467.3 1642.5V1894.8M620 1642.5V1894.8M772.7 1642.5V1894.8M925.4 1642.5V1894.8M120.2 1671.8H1037.1M120.2 1720.4H1037.1M120.2 1768.8H1037.1M120.2 1817.5H1037.1M120.2 1865.9H1037.1" stroke="#222" stroke-width="1.2" fill="none"/>
<g stroke="#1a1a1a" stroke-width="1.5"><path fill="#4E5B85" d="M161.9 1650.1H163.6V1693.5H161.9zM560.7 1650.1H640.2V1693.5H560.7z"/><path fill="#E8A0C8" d="M163.6 1650.1H165.7V1693.5H163.6z"/><path fill="#13917A" d="M165.7 1650.1H172.9V1693.5H165.7zM218.1 1650.1H235.9V1693.5H218.1zM321.8 1650.1H350.5V1693.5H321.8zM396.2 1650.1H446.7V1693.5H396.2z"/><path fill="#78A9BD" d="M172.9 1650.1H187.5V1693.5H172.9z"/><path fill="#C8C8C8" d="M187.5 1650.1H192.3V1693.5H187.5zM235.9 1650.1H245.5V1693.5H235.9zM283.2 1650.1H297.8V1693.5H283.2zM319.1 1650.1H321.8V1693.5H319.1zM473.3 1650.1H560.7V1693.5H473.3zM640.2 1650.1H695.5V1693.5H640.2z"/><path fill="#EAB323" d="M192.3 1650.1H202.9V1693.5H192.3zM350.5 1650.1H373.1V1693.5H350.5z"/><path fill="#4A97BE" d="M202.9 1650.1H218.1V1693.5H202.9z"/><path fill="#88B5AA" d="M245.5 1650.1H259.8V1693.5H245.5zM297.8 1650.1H319.1V1693.5H297.8z"/><path fill="#DD2B2A" d="M259.8 1650.1H283.2V1693.5H259.8z"/><path fill="#A31F30" d="M373.1 1650.1H396.2V1693.5H373.1z"/><path fill="#B26CC0" d="M446.7 1650.1H473.3V1693.5H446.7z"/></g>
<g font-size="16" text-anchor="middle" fill="#1a1a1a"><text x="341.91" y="1671.8" transform="rotate(-90 341.91 1671.8)">Glut2</text><text x="367.56" y="1671.8" transform="rotate(-90 367.56 1671.8)">Glial1</text><text x="390.41" y="1671.8" transform="rotate(-90 390.41 1671.8)">Chol1</text><text x="421.45" y="1677.56">Glut1</text></g>
<g font-size="8.5" text-anchor="middle" fill="#1a1a1a"><text x="463" y="1671.8" transform="rotate(-72 463 1671.8)">Glycinergic</text></g>
<g font-size="16" text-anchor="middle" fill="#1a1a1a"><text x="517" y="1677.56">Neuro2</text><text x="600.45" y="1677.56">GABAergic</text><text x="667.85" y="1677.56">Neuro1</text></g>
<g font-size="15.5" text-anchor="end" fill="#444"><text x="111.7" y="1677.3">HOL2_dil</text></g>
<g stroke="#1a1a1a" stroke-width="1.5"><path fill="#D6DFDD" d="M161.9 1698.7H163.6V1742.1H161.9z"/><path fill="#E8A0C8" d="M163.6 1698.7H165.7V1742.1H163.6zM165.7 1698.7H172.9V1742.1H165.7z"/><path fill="#13917A" d="M172.9 1698.7H182.7V1742.1H172.9zM207.4 1698.7H219.4V1742.1H207.4zM327.6 1698.7H344.9V1742.1H327.6zM380.3 1698.7H401.5V1742.1H380.3z"/><path fill="#C8C8C8" d="M182.7 1698.7H194.2V1742.1H182.7zM219.4 1698.7H233.5V1742.1H219.4zM258 1698.7H271.3V1742.1H258zM285.1 1698.7H327.6V1742.1H285.1zM423.3 1698.7H444.1V1742.1H423.3zM468.8 1698.7H506.6V1742.1H468.8z"/><path fill="#EAB323" d="M194.2 1698.7H204V1742.1H194.2zM344.9 1698.7H361.7V1742.1H344.9z"/><path fill="#4A97BE" d="M204 1698.7H207.4V1742.1H204z"/><path fill="#88B5AA" d="M233.5 1698.7H247.3V1742.1H233.5zM271.3 1698.7H285.1V1742.1H271.3z"/><path fill="#DD2B2A" d="M247.3 1698.7H258V1742.1H247.3z"/><path fill="#A31F30" d="M361.7 1698.7H380.3V1742.1H361.7z"/><path fill="#B26CC0" d="M401.5 1698.7H423.3V1742.1H401.5z"/><path fill="#4E5B85" d="M444.1 1698.7H468.8V1742.1H444.1z"/></g>
<g font-size="13" text-anchor="middle" fill="#1a1a1a"><text x="306.35" y="1725.08">Neuro3</text></g>
<g font-size="16" text-anchor="middle" fill="#1a1a1a"><text x="342.01" y="1720.4" transform="rotate(-90 342.01 1720.4)">Glut2</text><text x="359.06" y="1720.4" transform="rotate(-90 359.06 1720.4)">Glial1</text><text x="376.76" y="1720.4" transform="rotate(-90 376.76 1720.4)">Chol1</text><text x="396.66" y="1720.4" transform="rotate(-90 396.66 1720.4)">Glut1</text></g>
<g font-size="7.5" text-anchor="middle" fill="#1a1a1a"><text x="415.1" y="1720.4" transform="rotate(-90 415.1 1720.4)">Glycinergic</text></g>
<g font-size="13" text-anchor="middle" fill="#1a1a1a"><text x="438.38" y="1720.4" transform="rotate(-90 438.38 1720.4)">Neuro2</text></g>
<g font-size="9" text-anchor="middle" fill="#1a1a1a"><text x="459.69" y="1720.4" transform="rotate(-90 459.69 1720.4)">GABAergic</text></g>
<g font-size="14" text-anchor="middle" fill="#1a1a1a"><text x="492.74" y="1720.4" transform="rotate(-90 492.74 1720.4)">Neuro1</text></g>
<g font-size="15.5" text-anchor="end" fill="#444"><text x="103" y="1725.9">HOL2</text></g>
<g stroke="#1a1a1a" stroke-width="1.5"><path fill="#4E5B85" d="M161.9 1747.1H163.6V1790.5H161.9zM521.2 1747.1H571.8V1790.5H521.2z"/><path fill="#E8A0C8" d="M163.6 1747.1H165.7V1790.5H163.6zM165.7 1747.1H168.4V1790.5H165.7z"/><path fill="#13917A" d="M168.4 1747.1H174.2V1790.5H168.4zM198.1 1747.1H214.6V1790.5H198.1zM320.4 1747.1H340.4V1790.5H320.4zM409.5 1747.1H438.8V1790.5H409.5z"/><path fill="#78A9BD" d="M174.2 1747.1H179.5V1790.5H174.2z"/><path fill="#C8C8C8" d="M179.5 1747.1H186.2V1790.5H179.5zM214.6 1747.1H230.8V1790.5H214.6zM262 1747.1H278.7V1790.5H262zM301.8 1747.1H320.4V1790.5H301.8zM496.7 1747.1H521.2V1790.5H496.7zM571.8 1747.1H619.2V1790.5H571.8z"/><path fill="#EAB323" d="M186.2 1747.1H192.3V1790.5H186.2zM340.4 1747.1H374.9V1790.5H340.4z"/><path fill="#4A97BE" d="M192.3 1747.1H198.1V1790.5H192.3z"/><path fill="#88B5AA" d="M230.8 1747.1H250V1790.5H230.8zM278.7 1747.1H301.8V1790.5H278.7z"/><path fill="#DD2B2A" d="M250 1747.1H262V1790.5H250z"/><path fill="#A31F30" d="M374.9 1747.1H409.5V1790.5H374.9z"/><path fill="#B26CC0" d="M438.8 1747.1H496.7V1790.5H438.8z"/></g>
<g font-size="13" text-anchor="middle" fill="#1a1a1a"><text x="315.78" y="1768.8" transform="rotate(-90 315.78 1768.8)">Neuro3</text></g>
<g font-size="16" text-anchor="middle" fill="#1a1a1a"><text x="336.16" y="1768.8" transform="rotate(-90 336.16 1768.8)">Glut2</text><text x="363.41" y="1768.8" transform="rotate(-90 363.41 1768.8)">Glial1</text><text x="397.96" y="1768.8" transform="rotate(-90 397.96 1768.8)">Chol1</text><text x="429.91" y="1768.8" transform="rotate(-90 429.91 1768.8)">Glut1</text></g>
<g font-size="13" text-anchor="middle" fill="#1a1a1a"><text x="469.75" y="1772.8" transform="rotate(-35 469.75 1772.8)">Glycinergic</text></g>
<g font-size="12" text-anchor="middle" fill="#1a1a1a"><text x="513.27" y="1768.8" transform="rotate(-90 513.27 1768.8)">Neuro2</text></g>
<g font-size="10" text-anchor="middle" fill="#1a1a1a"><text x="548.5" y="1772.8" transform="rotate(-35 548.5 1772.8)">GABAergic</text></g>
<g font-size="16" text-anchor="middle" fill="#1a1a1a"><text x="595.5" y="1774.56">Neuro1</text></g>
<g font-size="15.5" text-anchor="end" fill="#444"><text x="117" y="1774.3">HOL1_rep2</text></g>
<g stroke="#1a1a1a" stroke-width="1.5"><path fill="#D6DFDD" d="M161.9 1795.8H171V1839.2H161.9z"/><path fill="#E8A0C8" d="M171 1795.8H180.9V1839.2H171z"/><path fill="#13917A" d="M180.9 1795.8H190.2V1839.2H180.9zM275.8 1795.8H293.1V1839.2H275.8zM426 1795.8H456.6V1839.2H426zM563.1 1795.8H610.9V1839.2H563.1z"/><path fill="#78A9BD" d="M190.2 1795.8H200.8V1839.2H190.2z"/><path fill="#C8C8C8" d="M200.8 1795.8H210.1V1839.2H200.8zM293.1 1795.8H313.3V1839.2H293.1zM358.2 1795.8H383.7V1839.2H358.2zM412.2 1795.8H426V1839.2H412.2zM683.5 1795.8H764.6V1839.2H683.5zM859 1795.8H995.4V1839.2H859z"/><path fill="#EAB323" d="M210.1 1795.8H237.5V1839.2H210.1zM456.6 1795.8H494.6V1839.2H456.6z"/><path fill="#4A97BE" d="M237.5 1795.8H275.8V1839.2H237.5z"/><path fill="#88B5AA" d="M313.3 1795.8H334.5V1839.2H313.3zM383.7 1795.8H412.2V1839.2H383.7z"/><path fill="#DD2B2A" d="M334.5 1795.8H358.2V1839.2H334.5z"/><path fill="#A31F30" d="M494.6 1795.8H563.1V1839.2H494.6z"/><path fill="#B26CC0" d="M610.9 1795.8H683.5V1839.2H610.9z"/><path fill="#4E5B85" d="M764.6 1795.8H859V1839.2H764.6z"/></g>
<g font-size="12" text-anchor="middle" fill="#1a1a1a"><text x="423.42" y="1817.5" transform="rotate(-90 423.42 1817.5)">Neuro3</text></g>
<g font-size="16" text-anchor="middle" fill="#1a1a1a"><text x="447.06" y="1817.5" transform="rotate(-90 447.06 1817.5)">Glut2</text><text x="481.36" y="1817.5" transform="rotate(-90 481.36 1817.5)">Glial1</text><text x="528.85" y="1823.26">Chol1</text><text x="587" y="1823.26">Glut1</text></g>
<g font-size="11.5" text-anchor="middle" fill="#1a1a1a"><text x="647.2" y="1821.64">Glycinergic</text></g>
<g font-size="16" text-anchor="middle" fill="#1a1a1a"><text x="724.05" y="1823.26">Neuro2</text><text x="811.8" y="1823.26">GABAergic</text><text x="927.2" y="1823.26">Neuro1</text></g>
<g font-size="15.5" text-anchor="end" fill="#444"><text x="117" y="1823">HOL1_rep1</text></g>
<g stroke="#1a1a1a" stroke-width="1.5"><path fill="#D6DFDD" d="M161.9 1844.2H170.2V1887.6H161.9z"/><path fill="#E8A0C8" d="M170.2 1844.2H180.1V1887.6H170.2z"/><path fill="#13917A" d="M180.1 1844.2H188.8V1887.6H180.1zM247.3 1844.2H264.6V1887.6H247.3zM422.8 1844.2H460.6V1887.6H422.8zM551.1 1844.2H607.2V1887.6H551.1z"/><path fill="#78A9BD" d="M188.8 1844.2H198.7V1887.6H188.8z"/><path fill="#C8C8C8" d="M198.7 1844.2H209.6V1887.6H198.7zM264.6 1844.2H285.9V1887.6H264.6zM329.7 1844.2H361.7V1887.6H329.7zM388.2 1844.2H422.8V1887.6H388.2zM658.3 1844.2H725.5V1887.6H658.3zM796.5 1844.2H897.5V1887.6H796.5z"/><path fill="#EAB323" d="M209.6 1844.2H232.7V1887.6H209.6zM460.6 1844.2H497.2V1887.6H460.6z"/><path fill="#4A97BE" d="M232.7 1844.2H247.3V1887.6H232.7z"/><path fill="#88B5AA" d="M285.9 1844.2H305.8V1887.6H285.9zM361.7 1844.2H388.2V1887.6H361.7z"/><path fill="#DD2B2A" d="M305.8 1844.2H329.7V1887.6H305.8z"/><path fill="#A31F30" d="M497.2 1844.2H551.1V1887.6H497.2z"/><path fill="#B26CC0" d="M607.2 1844.2H658.3V1887.6H607.2z"/><path fill="#4E5B85" d="M725.5 1844.2H796.5V1887.6H725.5z"/></g>
<g font-size="10.5" text-anchor="middle" fill="#1a1a1a"><text x="409.28" y="1865.9" transform="rotate(-90 409.28 1865.9)">Neuro3</text></g>
<g font-size="16" text-anchor="middle" fill="#1a1a1a"><text x="447.46" y="1865.9" transform="rotate(-90 447.46 1865.9)">Glut2</text><text x="484.66" y="1865.9" transform="rotate(-90 484.66 1865.9)">Glial1</text><text x="524.15" y="1871.66">Chol1</text><text x="579.15" y="1871.66">Glut1</text></g>
<g font-size="12" text-anchor="middle" fill="#1a1a1a"><text x="634.75" y="1869.9" transform="rotate(-35 634.75 1869.9)">Glycinergic</text></g>
<g font-size="16" text-anchor="middle" fill="#1a1a1a"><text x="691.9" y="1871.66">Neuro2</text></g>
<g font-size="15" text-anchor="middle" fill="#1a1a1a"><text x="763" y="1869.9" transform="rotate(-35 763 1869.9)">GABAergic</text></g>
<g font-size="16" text-anchor="middle" fill="#1a1a1a"><text x="847" y="1871.66">Neuro1</text></g>
<g font-size="15.5" text-anchor="end" fill="#444"><text x="102.5" y="1871.4">HOL1</text></g>
<rect x="120.2" y="1642.5" width="916.9" height="252.3" fill="none" stroke="#222" stroke-width="1.4" />
<g font-size="15.4" text-anchor="middle" fill="#444"><text x="163.6" y="1923">0</text></g>
<path d="M161.9 1894.8V1897.8" stroke="#222" stroke-width="1.6" fill="none"/>
<g font-size="15.4" text-anchor="middle" fill="#444"><text x="472.3" y="1923">2000</text></g>
<path d="M467.3 1894.8V1897.8" stroke="#222" stroke-width="1.6" fill="none"/>
<g font-size="15.4" text-anchor="middle" fill="#444"><text x="779.2" y="1923">4000</text></g>
<path d="M772.7 1894.8V1897.8" stroke="#222" stroke-width="1.6" fill="none"/>
<g font-size="17" text-anchor="middle" font-weight="bold"><text x="550.5" y="1936">#Cells</text></g>
<g font-size="11" text-anchor="middle" fill="#1a1a1a"><text x="350.3" y="1619">Neuro3</text></g>
<rect x="1129" y="948.4" width="1037.4" height="992.6" fill="none" stroke="#6f6f6f" stroke-width="1.3" />
<g font-size="47" font-weight="bold"><text x="1083" y="979.5">d</text></g>
<g stroke="#333" stroke-width="1.2" stroke-linejoin="round"><path fill="#88B5AA" d="M1223,1043.6h8c.8-.3 3.6-1 5-1.6s3.7-1.3 3.5-2s-3.2-1.3 -4.5-2s-2.6-1.2 -3.5-2s-1.5-1.8 -2-3s-.8-2.2 -1-4s-.3-4.7 -.5-7s-.5-5.8 -.6-7H1226.6c-.1,1.2 -.4,4.7 -.6,7s-.2,5.2 -.5,7s-.5,2.8 -1,4s-1.1,2.2 -2,3s-2.2,1.3 -3.5,2s-4.3,1.3 -4.5,2s2.1,1.4 3.5,2s4.2,1.3 5,1.6z"/><path fill="#C8C8C8" d="M1249,1043h10c.8-.2 3.8-1 5-1.5s2.8-.8 2.5-1.5s-2.8-2 -4-3s-2.1-1.8 -3-3s-1.9-2.7 -2.5-4s-.7-1.5 -1-4s-.5-7.2 -.8-11s-.6-10 -.7-12H1253.6c-.1,2 -.5,8.2 -.8,12s-.5,8.5 -.8,11s-.4,2.7 -1,4s-1.6,2.8 -2.5,4s-1.8,2 -3,3s-3.8,2.2 -4,3s1.2,1 2.5,1.5s4.2,1.2 5,1.5z"/><path fill="#5F5F5F" d="M1275.1,1043h12c.8-.3 3.9-1.2 5-2s1.2-1.7 1.5-3s.2-3.3 0-5s-.6-3.2 -1-5s-.9-4 -1.5-6s-1.5-4 -2-6s-.8-4 -1-6s-.3-4.2 -.5-6s-.2-3.2 -.5-5s-.9-4.3 -1.5-6s-1.4-3 -2-4s-1.2-1.7 -1.5-2H1280.1c-.2,.3 -.9,1 -1.5,2s-1.4,2.3 -2,4s-1.2,4.2 -1.5,6s-.3,3.2 -.5,5s-.2,4 -.5,6s-.5,4 -1,6s-1.4,4 -2,6s-1.1,4.2 -1.5,6s-.8,3.3 -1,5s-.2,3.7 0,5s.4,2.2 1.5,3s4.2,1.7 5,2z"/><path fill="#C8C8C8" d="M1302.2,1043h12c.8-.5 3.9-2 5-3s1.8-1.8 1.5-3s-2.4-2.8 -3.5-4s-2.2-1.8 -3-3s-1.4-2.5 -2-4s-1.2-2.7 -1.5-5s-.4-6 -.5-9s.1-6.3 0-9s-.2-3.2 -.5-7s-.9-13.3 -1.1-16H1307.8c-.2,2.7 -.8,12.2 -1.1,16s-.4,4.3 -.5,7s.1,6 0,9s-.2,6.7 -.5,9s-.9,3.5 -1.5,5s-1.2,2.8 -2,4s-1.9,1.8 -3,3s-3.2,2.8 -3.5,4s.4,2 1.5,3s4.2,2.5 5,3z"/><path fill="#C8C8C8" d="M1334.2,1043.5h2c1-.4 4.1-1.6 6-2.5s5.5-2 5.5-3s-4-2 -5.5-3s-2.6-1.8 -3.5-3s-1.4-1.2 -1.7-4s-.2-9 -.3-13s-.1-7.5 -.3-11s-.7-8.3 -.8-10H1334.8c-.1,1.7 -.6,6.5 -.8,10s-.2,7 -.3,11s0,10.2 -.3,13s-.8,2.8 -1.7,4s-2,2 -3.5,3s-5.5,2 -5.5,3s3.6,2.1 5.5,3s5,2.1 6,2.5z"/><path fill="#C8C8C8" d="M1357.2,1043h10c1-.5 4.7-1.8 6-3s1.6-2.7 1.6-4s-.8-2.7 -1.6-4s-2.3-2.7 -3-4s-1.4-2.7 -1.4-4s1.3-2.7 1.4-4s-.3-2.7 -1-4s-2.6-2.3 -3.4-4s-1.2-3.2 -1.6-6s-.5-7.5 -.7-11s-.7-8.3 -.8-10H1361.8c-.1,1.7 -.5,6.5 -.8,10s-.4,8.2 -.8,11s-.6,4.3 -1.4,6s-2.8,2.7 -3.6,4s-1.1,2.7 -1,4s1.6,2.7 1.6,4s-.8,2.7 -1.6,4s-2.3,2.7 -3,4s-1.4,2.7 -1.4,4s.2,2.8 1.4,4s5,2.5 6,3z"/><path fill="#E8A0C8" d="M1384.3,1043h10c.8-.3 3.8-1.2 5-2s2.5-1.8 2.5-3s-1.6-2.7 -2.5-4s-2.2-2.7 -3-4s-1.3-2.5 -2-4s-1.4-3 -2-5s-1.2-4.2 -1.5-7s-.3-6.7 -.5-10s-.5-8.3 -.6-10H1388.9c-.1,1.7 -.4,6.7 -.6,10s-.2,7.2 -.5,10s-.9,5 -1.5,7s-1.3,3.5 -2,5s-1.2,2.7 -2,4s-2.1,2.7 -3,4s-2.5,2.8 -2.5,4s1.2,2.2 2.5,3s4.2,1.7 5,2z"/><path fill="#A31F30" d="M1409.3,1042h14c.7-.3 3.1-1.3 4-2s1.7-1.2 1.5-2s-1.6-2 -2.5-3s-2.1-1.8 -3-3s-1.8-2.7 -2.5-4s-1.1-2 -1.5-4s-.7-4.8 -1-8s-.8-6.8 -1-11s-.4-11.7 -.5-14H1415.9c-.1,2.3 -.3,9.8 -.6,14s-.7,7.8 -1,11s-.6,6 -1,8s-.8,2.7 -1.5,4s-1.6,2.8 -2.5,4s-2.1,2 -3,3s-2.3,2.2 -2.5,3s.6,1.3 1.5,2s3.3,1.7 4,2z"/><path fill="#13917A" d="M1441.9,1040h3c.3-.5 1.4-2 2-3s.9-2 1.5-3s1.1-1.8 2-3s2.6-2.8 3.5-4s1.8-1.8 2-3s-.5-2.5 -1-4s-1.4-3.3 -2-5s-1-3.2 -1.5-5s-1.1-3.8 -1.5-6s-.6-4.7 -1-7s-1.1-4.7 -1.5-7s-.8-4.7 -1-7s-.2-4.7 -.5-7s-1.2-5.8 -1.5-7H1442.4c-.2,1.2 -1.2,4.7 -1.5,7s-.2,4.7 -.5,7s-.6,4.7 -1,7s-1.1,4.7 -1.5,7s-.6,4.8 -1,7s-1,4.2 -1.5,6s-.9,3.3 -1.5,5s-1.5,3.5 -2,5s-1.2,2.8 -1,4s1.1,1.8 2,3s2.6,2.8 3.5,4s1.4,2 2,3s.9,2 1.5,3s1.7,2.5 2,3z"/><path fill="#A31F30" d="M1466.5,1042.4h8c0-.6 -.1-2.3 0-3.4s.2-1.8 .5-3s.8-2.8 1.5-4s1.9-1.8 3-3s3.3-2.7 3.5-4s-1.6-2.7 -2.5-4s-2.1-2.5 -3-4s-1.8-3.2 -2.5-5s-1.1-4 -1.5-6s-.6-3.3 -.8-6s-.1-6.7 -.2-10s-.2-6.5 -.5-10s-.9-9.2 -1.1-11H1470c-.2,1.8 -.8,7.5 -1,11s-.4,6.7 -.5,10s-.1,7.3 -.3,10s-.3,4 -.7,6s-.8,4.2 -1.5,6s-1.6,3.5 -2.5,5s-2.1,2.7 -3,4s-2.7,2.7 -2.5,4s2.4,2.8 3.5,4s2.2,1.8 3,3s1.2,2.8 1.5,4s.4,1.9 .5,3s0,2.8 0,3.4z"/><path fill="#E8A0C8" d="M1491.5,1041h12c.8-.3 3.9-1.2 5-2s1.7-1.8 1.5-3s-1.8-2.7 -2.5-4s-1.3-2.7 -2-4s-1.3-2.7 -2-4s-1.5-2.7 -2-4s-.6-2 -1-4s-1.1-4.5 -1.5-8s-.9-10.8 -1.1-13H1497.1c-.2,2.2 -.7,9.5 -1.1,13s-1.1,6 -1.5,8s-.5,2.7 -1,4s-1.3,2.7 -2,4s-1.3,2.7 -2,4s-1.2,2.7 -2,4s-2.3,2.8 -2.5,4s.4,2.2 1.5,3s4.2,1.7 5,2z"/><path fill="#A31F30" d="M1523,1042h3c.1-.5 .2-2 .5-3s.6-2 1-3s.8-2 1.5-3s1.7-1.8 3-3s4.6-2.7 5-4s-1.6-2.7 -2.5-4s-2.1-2.7 -3-4s-1.8-2.7 -2.5-4s-1.6-1.7 -2-4s-.3-5.8 -.5-10s-.2-9.7 -.5-15s-.8-14.2 -1-17H1524.1c-.2,2.8 -.8,11.7 -1.1,17s-.3,10.8 -.5,15s-.1,7.7 -.5,10s-1.2,2.7 -2,4s-1.6,2.7 -2.5,4s-2.1,2.7 -3,4s-2.9,2.7 -2.5,4s3.7,2.8 5,4s2.2,2 3,3s1.1,2 1.5,3s.8,2 1,3s.4,2.5 .5,3z"/><path fill="#6F8FCF" d="M1542.6,1043h18c.5-.5 2.4-1.8 3-3s.6-2.5 .5-4s-.7-3.3 -1-5s-.8-3.3 -1-5s-.2-3.3 -.5-5s-.5-3.3 -1-5s-1.3-3.3 -2-5s-1.3-3.3 -2-5s-1.4-3.3 -2-5s-1.1-3.7 -1.5-5s-.8-2.5 -1-3H1551.1c-.2,.5 -.6,1.7 -1,3s-.9,3.3 -1.5,5s-1.3,3.3 -2,5s-1.3,3.3 -2,5s-1.5,3.3 -2,5s-.8,3.3 -1,5s-.2,3.3 -.5,5s-.7,3.3 -1,5s-.9,3.5 -1,5s-.1,2.8 .5,4s2.5,2.5 3,3z"/><path fill="#88B5AA" d="M1570.7,1043h16c.7-.5 3.2-1.5 4-3s.4-3.8 .5-6s.1-4.7 0-7s-.2-4.7 -.5-7s-1-4.7 -1.5-7s-1-4.7 -1.5-7s-1-4.7 -1.5-7s-1-4.7 -1.5-7s-1-4.8 -1.5-7s-1.1-3.8 -1.5-6s-.6-4.7 -1-7s-1.2-5.8 -1.5-7H1578.2c-.2,1.2 -1.1,4.7 -1.5,7s-.6,4.8 -1,7s-1,3.8 -1.5,6s-1,4.7 -1.5,7s-1,4.7 -1.5,7s-1,4.7 -1.5,7s-1,4.7 -1.5,7s-1.2,4.7 -1.5,7s-.4,4.7 -.5,7s-.1,4.8 0,7s-.2,4.5 .5,6s3.3,2.5 4,3z"/><path fill="#E8A0C8" d="M1600.7,1042h10c.8-.5 3.8-1.8 5-3s2.2-2.5 2.5-4s-.2-3.2 -.5-5s-1-4 -1.5-6s-.9-4 -1.5-6s-1.3-4 -2-6s-1.4-4 -2-6s-1-4 -1.5-6s-1-4 -1.5-6s-1.2-5 -1.5-6H1605.2c-.2,1 -1,4 -1.5,6s-1,4 -1.5,6s-.9,4 -1.5,6s-1.3,4 -2,6s-1.4,4 -2,6s-1,4 -1.5,6s-1.2,4.2 -1.5,6s-.8,3.5 -.5,5s1.2,2.8 2.5,4s4.2,2.5 5,3z"/><path fill="#88B5AA" d="M1627.8,1042h10c.8-.3 3.8-1.3 5-2s2.4-1.2 2.4-2s-1.5-1.8 -2.4-3s-2.1-2.7 -3-4s-1.9-2.5 -2.6-4s-1-3 -1.4-5s-.7-3.3 -1-7s-.4-10 -.6-15s-.2-9.3 -.4-15s-.5-15.8 -.6-19H1632.3c-.1,3.2 -.3,13.3 -.5,19s-.4,10 -.6,15s-.2,11.3 -.4,15s-.6,5 -1,7s-.9,3.5 -1.6,5s-1.5,2.7 -2.4,4s-2.1,2.8 -3,4s-2.6,2.2 -2.6,3s1.3,1.3 2.6,2s4.2,1.7 5,2z"/><path fill="#E8A0C8" d="M1655.8,1042h8c.8-.2 3.6-1 5-1.5s3.7-.8 3.5-1.5s-3.2-1.8 -4.5-3s-2.6-2.7 -3.5-4s-1.5-2.7 -2-4s-.8-1.3 -1-4s-.3-8 -.5-12s-.5-10 -.6-12H1659.4c-.1,2 -.4,8 -.6,12s-.2,9.3 -.5,12s-.5,2.7 -1,4s-1.1,2.7 -2,4s-2.2,2.8 -3.5,4s-4.3,2.2 -4.5,3s2.1,1 3.5,1.5s4.2,1.2 5,1.5z"/><path fill="#E8A0C8" d="M1682.8,1042h8c1-.3 4.6-1.2 6-2s2.7-1.8 2.5-3s-2.4-2.7 -3.5-4s-2.2-2.7 -3-4s-1.4-2.5 -2-4s-1.1-3.3 -1.5-5s-.8-1.7 -1-5s-.3-9 -.5-15s-.5-17.5 -.6-21H1686.4c-.1,3.5 -.4,15 -.6,21s-.2,11.7 -.5,15s-.6,3.3 -1,5s-.9,3.5 -1.5,5s-1.2,2.7 -2,4s-1.9,2.7 -3,4s-3.3,2.8 -3.5,4s1.1,2.2 2.5,3s5,1.7 6,2z"/><path fill="#A31F30" d="M1708.9,1042h10c.8-.3 3.8-1.3 5-2s2.7-1.2 2.5-2s-2.5-2 -3.5-3s-1.8-1.8 -2.5-3s-1.2-2.7 -2-4s-2-1.8 -2.5-4s-.6-5 -.8-9s-.1-9.2 -.2-15s-.5-16.7 -.6-20H1713.5c-.1,3.3 -.5,14.2 -.6,20s0,11 -.2,15s-.2,6.8 -.8,9s-1.8,2.7 -2.5,4s-1.2,2.8 -2,4s-1.5,2 -2.5,3s-3.3,2.2 -3.5,3s1.2,1.3 2.5,2s4.2,1.7 5,2z"/><path fill="#4E5B85" d="M1737,1042h8c.8-.3 3.6-1.3 5-2s3.7-1.3 3.5-2s-3.2-1.3 -4.5-2s-2-1.2 -3-2s-2.4-.7 -3-3s-.4-5.8 -.5-11s-.1-10.8 -.3-20s-.7-29.2 -.8-35H1740.5c-.1,5.8 -.5,25.8 -.7,35s-.2,14.8 -.3,20s.1,8.7 -.5,11s-2,2.2 -3,3s-1.8,1.3 -3,2s-4.3,1.3 -4.5,2s2.1,1.3 3.5,2s4.2,1.7 5,2z"/><path fill="#C8C8C8" d="M1762,1043h12c.6-.5 2.8-1.8 3.5-3s1-2.7 1-4s-.5-2.7 -1-4s-1.6-2.7 -2-4s-.8-2.7 -.5-4s1.6-2.7 2.5-4s2.8-2.7 3-4s-.8-2.7 -1.5-4s-1.7-2.5 -2.5-4s-1.8-3.2 -2.5-5s-1.5-4.2 -2-6s-.8-3.2 -1-5s-.2-4.3 -.5-6s-.7-3 -1-4s-.8-1.7 -1-2H1767.5c-.2,.3 -.7,1 -1,2s-.8,2.3 -1,4s-.2,4.2 -.5,6s-.5,3.2 -1,5s-1.2,4.2 -2,6s-1.7,3.5 -2.5,5s-1.8,2.7 -2.5,4s-1.8,2.7 -1.5,4s2.1,2.7 3,4s2.2,2.7 2.5,4s-.1,2.7 -.5,4s-1.5,2.7 -2,4s-1,2.7 -1,4s.2,2.8 1,4s2.9,2.5 3.5,3z"/><path fill="#4DB8D8" d="M1788.1,1043h14c.7-.5 3.1-1.8 4-3s1.6-2.5 1.5-4s-1.2-3.3 -2-5s-1.7-3.3 -2.5-5s-1.8-3.3 -2.5-5s-1.5-3.2 -2-5s-.7-3.8 -1-6s-.8-4.7 -1-7s-.3-4.7 -.5-7s-.5-5.8 -.6-7H1794.7c-.1,1.2 -.4,4.7 -.6,7s-.2,4.7 -.5,7s-.7,4.8 -1,7s-.5,4.2 -1,6s-1.2,3.3 -2,5s-1.7,3.3 -2.5,5s-1.8,3.3 -2.5,5s-1.9,3.5 -2,5s.6,2.8 1.5,4s3.3,2.5 4,3z"/><path fill="#E8A0C8" d="M1816.1,1043h12c.8-.5 3.4-1.8 4.5-3s1.8-2.5 2-4s-.1-3.3 -.5-5s-1.2-3.3 -2-5s-1.8-3.3 -2.5-5s-1.2-3.3 -1.5-5s.1-3.3 0-5s-.3-3.3 -.5-5s-.3-3.3 -.5-5s-.2-3.5 -.5-5s-.9-2.8 -1.5-4s-1.7-2.5 -2-3H1821.1c-.3,.5 -1.4,1.8 -2,3s-1.2,2.5 -1.5,4s-.3,3.3 -.5,5s-.3,3.3 -.5,5s-.4,3.3 -.5,5s.2,3.3 0,5s-.8,3.3 -1.5,5s-1.8,3.3 -2.5,5s-1.6,3.3 -2,5s-.8,3.5 -.5,5s.9,2.8 2,4s3.8,2.5 4.5,3z"/><path fill="#E8A0C8" d="M1843.2,1040h12c.7-.5 3-1.8 4-3s1.6-2.5 2-4s.4-3.2 .5-5s0-4 0-6s.2-4 0-6s-.6-4 -1-6s-.8-4.2 -1.5-6s-1.5-3.5 -2.5-5s-2.7-2.7 -3.5-4s-1.2-2.8 -1.5-4s-.2-1.8 -.5-3s-1-3.3 -1.2-4H1848.4c-.2,.7 -.9,2.8 -1.2,4s-.2,1.8 -.5,3s-.7,2.7 -1.5,4s-2.5,2.5 -3.5,4s-1.8,3.2 -2.5,5s-1.1,4 -1.5,6s-.8,4 -1,6s0,4 0,6s-.1,4.2 0,6s.1,3.5 .5,5s1,2.8 2,4s3.3,2.5 4,3z"/><path fill="#C8C8C8" d="M1869.2,1043h14c.7-.5 3.1-1.8 4-3s1.4-2.5 1.5-4s-.5-3.2 -1-5s-1.4-4 -2-6s-1-4 -1.5-6s-1-4 -1.5-6s-1.1-4 -1.5-6s-.7-4 -1-6s-.7-4.2 -1-6s-.6-3.2 -1-5s-1.2-5 -1.4-6H1875.6c-.2,1 -1,4.2 -1.4,6s-.7,3.2 -1,5s-.7,4 -1,6s-.6,4 -1,6s-1,4 -1.5,6s-1,4 -1.5,6s-.9,4 -1.5,6s-1.5,4.2 -2,6s-1.1,3.5 -1,5s.6,2.8 1.5,4s3.3,2.5 4,3z"/><path fill="#C8C8C8" d="M1896.2,1043h14c.7-.5 3.1-1.8 4-3s1.7-2.5 1.6-4s-1.2-3.3 -2-5s-1.8-3.2 -2.6-5s-1.5-4 -2-6s-.7-4 -1-6s-.8-3.8 -1-6s-.2-4.7 -.4-7s-.3-4.8 -.6-7s-1.1-3.7 -1.4-6s-.4-5.2 -.6-8s-.4-7.5 -.5-9H1902.8c-.1,1.5 -.4,6.2 -.6,9s-.1,5.7 -.4,8s-1.3,3.8 -1.6,6s-.2,4.7 -.4,7s-.3,4.8 -.6,7s-.7,4 -1,6s-.5,4 -1,6s-1.3,4.2 -2,6s-1.7,3.3 -2.4,5s-1.9,3.5 -2,5s.5,2.8 1.4,4s3.3,2.5 4,3z"/><path fill="#C8C8C8" d="M1924.3,1043h12c.8-.5 3.9-2 5-3s1.7-1.8 1.5-3s-1.7-2.7 -2.5-4s-1.7-2.5 -2.5-4s-1.9-3.3 -2.5-5s-.7-3.2 -1-5s-.7-3.8 -1-6s-.8-4.7 -1-7s-.3-4.8 -.5-7s-.4-5 -.5-6H1929.3c-.1,1 -.3,3.8 -.5,6s-.2,4.7 -.5,7s-.7,4.8 -1,7s-.7,4.2 -1,6s-.4,3.3 -1,5s-1.7,3.5 -2.5,5s-1.7,2.7 -2.5,4s-2.3,2.8 -2.5,4s.4,2 1.5,3s4.2,2.5 5,3z"/><path fill="#4DB8D8" d="M1952.3,1043h10c.8-.5 3.8-2 5-3s2.5-1.8 2.5-3s-1.7-2.7 -2.5-4s-1.7-2.7 -2.5-4s-1.8-2.7 -2.5-4s-1.5-2.5 -2-4s-.7-2.8 -1-5s-.5-5.5 -.8-8s-.6-5.8 -.7-7H1956.9c-.1,1.2 -.5,4.5 -.8,7s-.5,5.8 -.8,8s-.5,3.5 -1,5s-1.2,2.7 -2,4s-1.7,2.7 -2.5,4s-1.7,2.7 -2.5,4s-2.5,2.8 -2.5,4s1.2,2 2.5,3s4.2,2.5 5,3z"/><path fill="#88B5AA" d="M1980.4,1043h8c.8-.3 3.6-1.3 5-2s3.5-1.2 3.5-2s-2.3-1.8 -3.5-3s-2.4-2.7 -3.5-4s-2.3-2 -3-4s-.8-3.3 -1-8s-.2-13.3 -.3-20s-.1-14.3 -.2-20s-.5-11.7 -.6-14H1984c-.1,2.3 -.5,8.3 -.6,14s-.1,13.3 -.2,20s-.1,15.3 -.3,20s-.3,6 -1,8s-1.9,2.7 -3,4s-2.3,2.8 -3.5,4s-3.5,2.2 -3.5,3s2.1,1.3 3.5,2s4.2,1.7 5,2z"/><path fill="#88B5AA" d="M2006.5,1043h10c.8-.4 3.8-1.7 5-2.5s2.6-1.4 2.5-2.5s-2-2.7 -3-4s-2.2-2.7 -3-4s-1.3-2.5 -2-4s-1.5-3 -2-5s-.6-3.5 -.8-7s-.3-9.3 -.5-14s-.7-11.7 -.8-14H2011c-.1,2.3 -.6,9.3 -.8,14s-.3,10.5 -.5,14s-.2,5 -.7,7s-1.3,3.5 -2,5s-1.2,2.7 -2,4s-2,2.7 -3,4s-2.9,2.9 -3,4s1.2,1.7 2.5,2.5s4.2,2.1 5,2.5z"/><path fill="#4DB8D8" d="M2032.5,1043h12c.8-.5 3.9-1.8 5-3s1.7-2.7 1.5-4s-1.7-2.7 -2.5-4s-1.8-2.7 -2.5-4s-1.2-2.5 -2-4s-1.9-3.3 -2.5-5s-.7-2.7 -1-5s-.5-5.5 -.8-9s-.7-10 -.8-12H2038.1c-.1,2 -.5,8.5 -.8,12s-.5,6.7 -.8,9s-.4,3.3 -1,5s-1.8,3.5 -2.5,5s-1.2,2.7 -2,4s-1.7,2.7 -2.5,4s-2.3,2.7 -2.5,4s.4,2.8 1.5,4s4.2,2.5 5,3z"/><path fill="#C8C8C8" d="M2054.6,1040h22c.2-.5 1.2-1.8 1.5-3s0-2.7 0-4s.2-2.7 0-4s-1.2-2.7 -1.5-4s-.3-2.7 -.5-4s-.2-2.7 -.5-4s-.9-2.7 -1.5-4s-1.3-2.7 -2-4s-1.3-2.8 -2-4s-1.4-2.2 -2-3s-1.4-1.7 -1.7-2H2064.8c-.3,.3 -1.1,1.2 -1.7,2s-1.3,1.8 -2,3s-1.3,2.7 -2,4s-1.4,2.7 -2,4s-1.2,2.7 -1.5,4s-.3,2.7 -.5,4s-.2,2.7 -.5,4s-1.2,2.7 -1.5,4s0,2.7 0,4s-.2,2.8 0,4s1.2,2.5 1.5,3z"/><path fill="#EAB323" d="M2088.6,1040h8c.4-.3 1.7-1.3 2.5-2s1.6-1.2 2.5-2s2.4-2 3-3s1-2 .5-3s-2.3-2 -3.5-3s-2.8-1.8 -3.5-3s-.7-2.7 -1-4s-.7-2.7 -1-4s-.7-2.7 -1-4s-.8-2 -1-4s-.3-4.8 -.5-8s-.5-9.2 -.6-11H2092.2c-.1,1.8 -.4,7.8 -.6,11s-.2,6 -.5,8s-.7,2.7 -1,4s-.7,2.7 -1,4s-.7,2.7 -1,4s-.2,2.8 -1,4s-2.3,2 -3.5,3s-3,2 -3.5,3s-.1,2 .5,3s2.1,2.2 3,3s1.7,1.3 2.5,2s2.1,1.7 2.5,2z"/><path fill="#4A97BE" d="M2115.7,1042h8c.8-.2 3.6-1 5-1.5s3.7-.8 3.5-1.5s-3.2-1.7 -4.5-2.5s-2.6-1.6 -3.5-2.5s-1.5-1.8 -2-3s-.8-2.5 -1-4s-.3-3.3 -.5-5s-.5-4.2 -.6-5H2119.2c-.1,.8 -.3,3.3 -.5,5s-.2,3.5 -.5,5s-.5,2.8 -1,4s-1.1,2.1 -2,3s-2.2,1.7 -3.5,2.5s-4.3,1.8 -4.5,2.5s2.1,1 3.5,1.5s4.2,1.2 5,1.5z"/></g>
<path d="M1211 960V1047.9M1210.5 1047.4H2138" stroke="#333" stroke-width="1.1" fill="none"/>
<path d="M1207 978.4H1211M1207 1011H1211M1207 1043.6H1211M1227 1047.4V1050.9M1254 1047.4V1050.9M1281.1 1047.4V1050.9M1308.2 1047.4V1050.9M1335.2 1047.4V1050.9M1362.2 1047.4V1050.9M1389.3 1047.4V1050.9M1416.3 1047.4V1050.9M1443.4 1047.4V1050.9M1470.5 1047.4V1050.9M1497.5 1047.4V1050.9M1524.5 1047.4V1050.9M1551.6 1047.4V1050.9M1578.7 1047.4V1050.9M1605.7 1047.4V1050.9M1632.8 1047.4V1050.9M1659.8 1047.4V1050.9M1686.8 1047.4V1050.9M1713.9 1047.4V1050.9M1741 1047.4V1050.9M1768 1047.4V1050.9M1795.1 1047.4V1050.9M1822.1 1047.4V1050.9M1849.2 1047.4V1050.9M1876.2 1047.4V1050.9M1903.2 1047.4V1050.9M1930.3 1047.4V1050.9M1957.3 1047.4V1050.9M1984.4 1047.4V1050.9M2011.5 1047.4V1050.9M2038.5 1047.4V1050.9M2065.6 1047.4V1050.9M2092.6 1047.4V1050.9M2119.7 1047.4V1050.9" stroke="#333" stroke-width="1" fill="none"/>
<g font-size="15" text-anchor="end" fill="#111"><text x="1204.5" y="983.6">10000</text><text x="1204.5" y="1016.2">1000</text><text x="1204.5" y="1048.8">100</text></g>
<g font-size="16.5" text-anchor="middle" font-weight="bold"><text x="1156" y="1005.5" transform="rotate(-90 1156 1005.5)"># UMI</text></g>
<g stroke="#333" stroke-width="1.2" stroke-linejoin="round"><path fill="#88B5AA" d="M1222,1144.4h10c.8-.2 3.8-.9 5-1.4s2.8-.9 2.5-1.5s-3.2-1.2 -4.5-2s-2.5-1.4 -3.5-2.5s-2-2.5 -2.5-4s-.3-2.8 -.5-5s-.3-5 -.5-8s-.5-8.3 -.6-10H1226.6c-.1,1.7 -.4,7 -.6,10s-.3,5.8 -.5,8s0,3.5 -.5,5s-1.5,2.9 -2.5,4s-2.2,1.8 -3.5,2.5s-4.2,1.4 -4.5,2s1.2,1 2.5,1.5s4.2,1.2 5,1.4z"/><path fill="#C8C8C8" d="M1249,1144.4h10c.8-.2 3.8-.8 5-1.4s2.6-1.2 2.5-2s-1.9-1.8 -3-3s-2.5-2.7 -3.5-4s-1.8-2.7 -2.5-4s-1.1-1.5 -1.5-4s-.5-6.2 -.8-11s-.6-15 -.7-18H1253.6c-.1,3 -.5,13.2 -.8,18s-.4,8.5 -.8,11s-.8,2.7 -1.5,4s-1.5,2.7 -2.5,4s-2.4,2.8 -3.5,4s-2.9,2.2 -3,3s1.2,1.4 2.5,2s4.2,1.2 5,1.4z"/><path fill="#5F5F5F" d="M1270.1,1144.4h22c.2-.6 1.2-2 1.5-3.4s.1-3.3 0-5s-.2-3.2 -.5-5s-.6-4 -1-6s-1-4 -1.5-6s-1.1-4 -1.5-6s-.7-4 -1-6s-.8-4.2 -1-6s-.2-3.3 -.5-5s-.5-3.7 -1-5s-1.4-2.2 -2-3s-1.2-1.7 -1.5-2H1280.1c-.2,.3 -.9,1.2 -1.5,2s-1.5,1.7 -2,3s-.8,3.3 -1,5s-.2,3.2 -.5,5s-.7,4 -1,6s-.6,4 -1,6s-1,4 -1.5,6s-1.1,4 -1.5,6s-.8,4.2 -1,6s-.4,3.3 -.5,5s-.2,3.6 0,5s1.2,2.8 1.5,3.4z"/><path fill="#C8C8C8" d="M1303.2,1144.4h10c.8-.6 3.8-2.2 5-3.4s2.5-2.7 2.5-4s-1.6-2.8 -2.5-4s-2.1-1.8 -3-3s-1.8-2.5 -2.5-4s-1.1-2.7 -1.5-5s-.7-5.8 -.8-9s0-7 0-10s.3-5.7 .3-8s-.2-3.7 -.5-6s-.7-5.7 -1-8s-.5-5 -.6-6H1307.8c-.1,1 -.3,3.7 -.6,6s-.8,5.7 -1,8s-.5,3.7 -.5,6s.2,5 .3,8s.1,6.8 0,10s-.4,6.7 -.8,9s-.8,3.5 -1.5,5s-1.6,2.8 -2.5,4s-2.1,1.8 -3,3s-2.5,2.7 -2.5,4s1.2,2.8 2.5,4s4.2,2.8 5,3.4z"/><path fill="#C8C8C8" d="M1330.2,1144.4h10c.8-.4 3.8-1.6 5-2.4s2.8-1.5 2.5-2.5s-2.7-2.2 -4-3.5s-3-2.5 -4-4s-1.5-2.7 -2-5s-.5-4.5 -.7-9s-.1-12.8 -.3-18s-.9-10.8 -1.1-13H1334.8c-.2,2.2 -.9,7.8 -1.1,13s-.1,13.5 -.3,18s-.2,6.7 -.7,9s-1,3.5 -2,5s-2.7,2.8 -4,4s-3.8,2.5 -4,3.5s1.2,1.7 2.5,2.5s4.2,2 5,2.4z"/><path fill="#C8C8C8" d="M1357.2,1144.4h10c.9-.4 4.3-1.5 5.6-2.4s1.9-1.7 2-3s-.8-3.3 -1.6-5s-2.6-3.3 -3.4-5s-1.5-3.3 -1.6-5s.7-3.3 1-5s.8-3.3 .6-5s-.9-3.3 -1.6-5s-1.7-3.3 -2.4-5s-1.2-2.7 -1.6-5s-.5-5.8 -.7-9s-.7-8.3 -.8-10H1361.8c-.1,1.7 -.5,6.8 -.8,10s-.4,6.7 -.8,9s-.7,3.3 -1.4,5s-1.9,3.3 -2.6,5s-1.2,3.3 -1.4,5s.2,3.3 .4,5s1.1,3.3 1,5s-.6,3.3 -1.4,5s-2.8,3.3 -3.6,5s-1.5,3.7 -1.4,5s.8,2.1 2,3s4.5,2 5.4,2.4z"/><path fill="#E8A0C8" d="M1384.3,1144.4h10c.8-.4 3.8-1.3 5-2.4s2.5-2.5 2.5-4s-1.7-3.3 -2.5-5s-1.7-3.2 -2.5-5s-1.8-4 -2.5-6s-1.5-3.7 -2-6s-.9-5.2 -1.2-8s-.6-5.8 -.8-9s-.5-8.3 -.6-10H1388.9c-.1,1.7 -.4,6.8 -.6,10s-.5,6.2 -.8,9s-.7,5.7 -1.2,8s-1.2,4 -2,6s-1.7,4.2 -2.5,6s-1.7,3.3 -2.5,5s-2.5,3.5 -2.5,5s1.2,2.9 2.5,4s4.2,2 5,2.4z"/><path fill="#A31F30" d="M1409.3,1144.4h14c.7-.4 3.1-1.7 4-2.4s1.7-1 1.5-2s-1.6-2.7 -2.5-4s-2-2.5 -3-4s-2.2-3.3 -3-5s-1.1-2.2 -1.5-5s-.5-7.8 -.7-12s-.6-8.7 -.8-13s-.4-10.8 -.5-13H1415.9c-.1,2.2 -.4,8.7 -.6,13s-.5,8.8 -.8,13s-.3,9.2 -.7,12s-.8,3.3 -1.5,5s-2,3.5 -3,5s-2.1,2.7 -3,4s-2.3,3 -2.5,4s.6,1.3 1.5,2s3.3,2 4,2.4z"/><path fill="#13917A" d="M1442.4,1144h2c.2-.5 1.1-1.8 1.5-3s.5-2.7 1-4s1.2-2.7 2-4s1.6-2.7 2.5-4s2.2-2.7 3-4s1.4-2.7 1.5-4s-.2-2.5 -1-4s-2.6-3.5 -3.5-5s-1.4-2.3 -2-4s-1.1-4 -1.5-6s-.8-4 -1-6s-.4-3.7 -.5-6s.1-5.3 0-8s-.3-6 -.5-8s-.2-3 -.5-4s-.8-1.7 -1-2H1442.4c-.2,.3 -.8,1 -1,2s-.3,2 -.5,4s-.4,5.3 -.5,8s.1,5.7 0,8s-.2,4 -.5,6s-.6,4 -1,6s-.9,4.3 -1.5,6s-1.1,2.5 -2,4s-2.8,3.5 -3.5,5s-1.1,2.7 -1,4s.8,2.7 1.5,4s2.1,2.7 3,4s1.8,2.7 2.5,4s1.5,2.7 2,4s.6,2.8 1,4s1.2,2.5 1.5,3z"/><path fill="#A31F30" d="M1466,1144.4h9c0-.6 -.1-2.2 0-3.4s.1-2.7 .5-4s1.2-2.7 2-4s2.1-2.7 3-4s2.3-2.7 2.5-4s-.7-2.5 -1.5-4s-2.4-3.3 -3.5-5s-2.2-3.3 -3-5s-1.6-2.8 -2-5s-.4-4.5 -.5-8s-.2-9.2 -.3-13s-.3-7.3 -.5-10s-.7-5 -.8-6H1470c-.1,1 -.6,3.3 -.8,6s-.4,6.2 -.5,10s-.1,9.5 -.2,13s-.1,5.8 -.5,8s-1.2,3.3 -2,5s-1.9,3.3 -3,5s-2.7,3.5 -3.5,5s-1.7,2.7 -1.5,4s1.6,2.7 2.5,4s2.2,2.7 3,4s1.6,2.7 2,4s.4,2.8 .5,4s0,2.8 0,3.4z"/><path fill="#E8A0C8" d="M1491.5,1144.4h12c.8-.4 3.4-1.3 4.5-2.4s2.1-2.7 2-4s-1.7-2.7 -2.5-4s-1.7-2.3 -2.5-4s-1.8-4 -2.5-6s-1.5-3.7 -2-6s-.9-5 -1.2-8s-.6-7 -.8-10s-.5-6.7 -.6-8H1497.1c-.1,1.3 -.4,5 -.6,8s-.5,7 -.8,10s-.7,5.7 -1.2,8s-1.2,4 -2,6s-1.7,4.3 -2.5,6s-1.7,2.7 -2.5,4s-2.4,2.7 -2.5,4s.9,2.9 2,4s3.8,2 4.5,2.4z"/><path fill="#A31F30" d="M1523,1144.4h3c.1-.6 .2-2.2 .5-3.4s.5-2.7 1-4s1.1-2.7 2-4s2.2-2.7 3.5-4s3.7-2.7 4-4s-1.2-2.7 -2-4s-1.8-2.5 -2.5-4s-.8-3.5 -1.5-5s-1.8-2.7 -2.5-4s-1.2-1 -1.5-4s-.3-9.7 -.5-14s-.2-8.3 -.5-12s-.8-8.3 -1-10H1524.1c-.2,1.7 -.8,6.3 -1.1,10s-.3,7.7 -.5,12s-.2,11 -.5,14s-.8,2.7 -1.5,4s-1.8,2.5 -2.5,4s-.8,3.5 -1.5,5s-1.8,2.7 -2.5,4s-2.3,2.7 -2,4s2.8,2.7 4,4s2.6,2.7 3.5,4s1.5,2.7 2,4s.8,2.8 1,4s.4,2.8 .5,3.4z"/><path fill="#6F8FCF" d="M1542.6,1144.4h18c.5-.6 2.4-2 3-3.4s.7-3.3 .5-5s-.9-3.2 -1.5-5s-1.4-4 -2-6s-1-4 -1.5-6s-1.1-4 -1.5-6s-.7-4 -1-6s-.7-4 -1-6s-.6-4.2 -1-6s-1.1-3.7 -1.5-5s-.8-2.5 -1-3H1551.1c-.2,.5 -.6,1.7 -1,3s-1.1,3.2 -1.5,5s-.7,4 -1,6s-.7,4 -1,6s-.6,4 -1,6s-1,4 -1.5,6s-.9,4 -1.5,6s-1.4,4.2 -2,6s-1.3,3.3 -1.5,5s-.1,3.6 .5,5s2.5,2.8 3,3.4z"/><path fill="#88B5AA" d="M1569.7,1144.4h18c.5-.6 2.4-1.8 3-3.4s.4-3.8 .5-6s.1-4.7 0-7s-.2-4.7 -.5-7s-.6-4.7 -1-7s-1-4.7 -1.5-7s-.9-4.7 -1.5-7s-1.4-4.7 -2-7s-1-4.7 -1.5-7s-1.1-4.7 -1.5-7s-.6-4.7 -1-7s-1.2-5.8 -1.5-7H1578.2c-.2,1.2 -1.1,4.7 -1.5,7s-.6,4.7 -1,7s-1,4.7 -1.5,7s-.9,4.7 -1.5,7s-1.4,4.7 -2,7s-1,4.7 -1.5,7s-1.1,4.7 -1.5,7s-.8,4.7 -1,7s-.4,4.7 -.5,7s-.1,4.8 0,7s-.1,4.4 .5,6s2.5,2.8 3,3.4z"/><path fill="#E8A0C8" d="M1599.7,1144.4h12c.8-.6 3.4-2 4.5-3.4s1.8-3.2 2-5s-.1-3.8 -.5-6s-1.3-4.7 -2-7s-1.3-4.7 -2-7s-1.4-4.7 -2-7s-1-4.7 -1.5-7s-1-5 -1.5-7s-.8-3.5 -1.2-5s-1.1-3.3 -1.3-4H1605.2c-.2,.7 -.9,2.5 -1.3,4s-.8,3 -1.2,5s-1,4.7 -1.5,7s-.9,4.7 -1.5,7s-1.3,4.7 -2,7s-1.3,4.7 -2,7s-1.6,4.8 -2,7s-.8,4.2 -.5,6s.9,3.6 2,5s3.8,2.8 4.5,3.4z"/><path fill="#88B5AA" d="M1627.8,1144.4h10c.8-.4 3.8-1.3 5-2.4s2.2-2.5 2.4-4s-.7-3.3 -1.4-5s-1.8-3.3 -2.6-5s-1.3-3.3 -2-5s-1.4-3.2 -2-5s-1-3.8 -1.4-6s-.7-3.3 -1-7s-.4-10.5 -.6-15s-.2-8.2 -.4-12s-.5-9.2 -.6-11H1632.3c-.1,1.8 -.3,7.2 -.5,11s-.4,7.5 -.6,12s-.2,11.3 -.4,15s-.6,4.8 -1,7s-1,4.2 -1.6,6s-1.3,3.3 -2,5s-1.3,3.3 -2,5s-1.7,3.3 -2.4,5s-1.8,3.5 -1.6,5s1.3,2.9 2.6,4s4.2,2 5,2.4z"/><path fill="#E8A0C8" d="M1655.8,1144.4h8c.8-.3 3.6-1.2 5-1.9s3.6-1.1 3.5-2s-2.9-2.2 -4-3.5s-1.8-2.7 -2.5-4s-1.4-2.5 -2-4s-1.1-3.2 -1.5-5s-.8-2.8 -1-6s-.3-8.8 -.5-13s-.5-10 -.6-12H1659.4c-.1,2 -.4,7.8 -.6,12s-.2,9.8 -.5,13s-.6,4.2 -1,6s-.9,3.5 -1.5,5s-1.2,2.7 -2,4s-1.4,2.8 -2.5,4s-3.9,2.6 -4,3.5s2.1,1.3 3.5,2s4.2,1.6 5,1.9z"/><path fill="#E8A0C8" d="M1682.8,1144.4h8c.8-.3 3.6-1.2 5-1.9s3.5-1.4 3.5-2.5s-2.4-2.5 -3.5-4s-2.1-3.3 -3-5s-1.8-3.3 -2.5-5s-1.2-2.3 -1.5-5s-.3-6.7 -.5-11s-.3-9.8 -.5-15s-.5-13.3 -.6-16H1686.4c-.1,2.7 -.4,10.8 -.6,16s-.3,10.7 -.5,15s-.2,8.3 -.5,11s-.8,3.3 -1.5,5s-1.6,3.3 -2.5,5s-1.9,3.5 -3,5s-3.5,2.9 -3.5,4s2.1,1.8 3.5,2.5s4.2,1.6 5,1.9z"/><path fill="#A31F30" d="M1708.9,1144.4h10c.8-.3 3.8-1.2 5-1.9s2.5-1.1 2.5-2s-1.7-2.2 -2.5-3.5s-1.7-2.7 -2.5-4s-1.8-2.5 -2.5-4s-1.5-3.2 -2-5s-.8-2.8 -1-6s-.3-8.3 -.5-13s-.3-10.5 -.5-15s-.5-10 -.6-12H1713.5c-.1,2 -.4,7.5 -.6,12s-.3,10.3 -.5,15s-.2,9.8 -.5,13s-.5,4.2 -1,6s-1.2,3.5 -2,5s-1.7,2.7 -2.5,4s-1.7,2.8 -2.5,4s-2.5,2.6 -2.5,3.5s1.2,1.3 2.5,2s4.2,1.6 5,1.9z"/><path fill="#4E5B85" d="M1734,1144.4h14c.6-.4 2.6-1.5 3.5-2.4s1.8-2 2-3s.2-2 -.5-3s-2.4-2 -3.5-3s-2.1-2 -3-3s-1.9-1.7 -2.5-3s-.8-2.2 -1-5s-.3-7.5 -.5-12s-.3-10.8 -.5-15s-.5-8.3 -.6-10H1740.5c-.1,1.7 -.3,5.8 -.5,10s-.3,10.5 -.5,15s-.2,9.2 -.5,12s-.4,3.7 -1,5s-1.6,2 -2.5,3s-1.9,2 -3,3s-2.8,2 -3.5,3s-.8,2 -.5,3s1.1,2.1 2,3s2.9,2 3.5,2.4z"/><path fill="#C8C8C8" d="M1762,1144.4h12c.6-.6 2.8-2 3.5-3.4s.6-3.3 .5-5s-.6-3.3 -1-5s-1.3-3.3 -1.5-5s-.1-3.3 .5-5s2.2-3.5 3-5s1.5-2.7 1.5-4s-.8-2.5 -1.5-4s-1.7-3.2 -2.5-5s-1.8-4 -2.5-6s-1.5-4.2 -2-6s-.8-3.3 -1-5s-.2-3.7 -.5-5s-.7-2.2 -1-3s-.8-1.7 -1-2H1767.5c-.2,.3 -.7,1.2 -1,2s-.8,1.7 -1,3s-.2,3.3 -.5,5s-.5,3.2 -1,5s-1.2,4 -2,6s-1.7,4.2 -2.5,6s-1.8,3.5 -2.5,5s-1.5,2.7 -1.5,4s.8,2.5 1.5,4s2.4,3.3 3,5s.7,3.3 .5,5s-1.1,3.3 -1.5,5s-.9,3.3 -1,5s-.2,3.6 .5,5s2.9,2.8 3.5,3.4z"/><path fill="#4DB8D8" d="M1788.1,1144.4h14c.7-.6 3.1-2 4-3.4s1.5-3.3 1.5-5s-.9-3.3 -1.5-5s-1.2-3.2 -2-5s-1.8-4 -2.5-6s-1.4-4 -2-6s-1-3.8 -1.5-6s-.9-4.3 -1.2-7s-.6-5.7 -.8-9s-.5-9.2 -.6-11H1794.7c-.1,1.8 -.4,7.7 -.6,11s-.5,6.3 -.8,9s-.8,4.8 -1.2,7s-.9,4 -1.5,6s-1.2,4 -2,6s-1.8,4.2 -2.5,6s-1.4,3.3 -2,5s-1.5,3.3 -1.5,5s.6,3.6 1.5,5s3.3,2.8 4,3.4z"/><path fill="#E8A0C8" d="M1818.1,1144.4h8c.8-.6 3.7-2 5-3.4s2.4-3.3 3-5s.8-3.3 .5-5s-1.2-3.3 -2-5s-1.9-3.3 -2.5-5s-1-3.5 -1-5s.7-2.7 1-4s1.1-2.7 1-4s-.8-2.7 -1.5-4s-1.8-2.7 -2.5-4s-1.5-2.7 -2-4s-.6-2.5 -1-4s-1.2-4.2 -1.5-5H1821.6c-.2,.8 -1.1,3.5 -1.5,5s-.5,2.7 -1,4s-1.2,2.7 -2,4s-1.8,2.7 -2.5,4s-1.4,2.7 -1.5,4s.7,2.7 1,4s1,2.5 1,4s-.4,3.3 -1,5s-1.8,3.3 -2.5,5s-1.8,3.3 -2,5s-.1,3.3 .5,5s1.7,3.6 3,5s4.2,2.8 5,3.4z"/><path fill="#E8A0C8" d="M1848.7,1144.4h1c.6-.6 2.2-2 3.5-3.4s2.8-3.3 4-5s2.2-3.3 3-5s1.5-3.3 1.5-5s-1-3.7 -1.5-5s-1.4-1.8 -1.5-3s.7-2.7 1-4s.9-2.7 1-4s.1-2.7 -.5-4s-1.8-2.8 -3-4s-3.1-1.8 -4-3s-1.2-2.2 -1.5-4s-.2-4.7 -.5-7s-1.2-5.8 -1.5-7H1848.7c-.2,1.2 -1.2,4.7 -1.5,7s-.2,5.2 -.5,7s-.6,2.8 -1.5,4s-2.8,1.8 -4,3s-2.4,2.7 -3,4s-.6,2.7 -.5,4s.7,2.7 1,4s1.1,2.8 1,4s-1,1.7 -1.5,3s-1.5,3.3 -1.5,5s.8,3.3 1.5,5s1.8,3.3 3,5s2.8,3.6 4,5s2.9,2.8 3.5,3.4z"/><path fill="#C8C8C8" d="M1869.2,1144.4h14c.7-.6 3.1-2 4-3.4s1.3-3.2 1.5-5s-.2-3.8 -.5-6s-.9-4.7 -1.5-7s-1.4-4.7 -2-7s-1-4.7 -1.5-7s-1-4.7 -1.5-7s-1.1-4.8 -1.5-7s-.7-4 -1-6s-.6-4.2 -1-6s-1.2-4.2 -1.5-5H1875.7c-.2,.8 -1.1,3.2 -1.5,5s-.7,4 -1,6s-.6,3.8 -1,6s-1,4.7 -1.5,7s-1,4.7 -1.5,7s-.9,4.7 -1.5,7s-1.4,4.7 -2,7s-1.2,4.8 -1.5,7s-.7,4.2 -.5,6s.6,3.6 1.5,5s3.3,2.8 4,3.4z"/><path fill="#C8C8C8" d="M1896.2,1144.4h14c.7-.6 3.1-2 4-3.4s1.6-3.3 1.6-5s-1-3.3 -1.6-5s-1.3-3 -2-5s-1.4-4.7 -2-7s-1-4.7 -1.4-7s-.7-4.5 -1-7s-.7-5.5 -1-8s-.3-4.7 -.6-7s-.7-4.5 -1-7s-.8-5.5 -1-8s-.4-5.8 -.5-7H1902.8c-.1,1.2 -.3,4.5 -.6,7s-.7,5.5 -1,8s-.8,4.7 -1,7s-.2,4.5 -.4,7s-.7,5.5 -1,8s-.6,4.7 -1,7s-1,4.7 -1.6,7s-1.3,5 -2,7s-1.4,3.3 -2,5s-1.4,3.3 -1.4,5s.5,3.6 1.4,5s3.3,2.8 4,3.4z"/><path fill="#C8C8C8" d="M1924.3,1144.4h12c.8-.6 3.9-2.2 5-3.4s1.6-2.5 1.5-4s-1.2-3.3 -2-5s-1.7-3.2 -2.5-5s-1.8-4 -2.5-6s-1.1-4 -1.5-6s-.7-3.8 -1-6s-.6-4.7 -.8-7s-.1-5 -.2-7s-.3-3.5 -.5-5s-.6-3.3 -.7-4H1929.5c-.1,.7 -.5,2.5 -.7,4s-.4,3 -.5,5s0,4.7 -.2,7s-.5,4.8 -.8,7s-.6,4 -1,6s-.8,4 -1.5,6s-1.7,4.2 -2.5,6s-1.8,3.3 -2.5,5s-1.9,3.5 -2,5s.4,2.8 1.5,4s4.2,2.8 5,3.4z"/><path fill="#4DB8D8" d="M1952.3,1144.4h10c.8-.5 3.8-1.8 5-2.9s2.5-2.2 2.5-3.5s-1.7-2.7 -2.5-4s-1.7-2.5 -2.5-4s-1.8-3.3 -2.5-5s-1.5-3 -2-5s-.7-4.8 -1-7s-.5-4 -.8-6s-.6-5 -.7-6H1956.9c-.1,1 -.5,4 -.8,6s-.5,3.8 -.8,6s-.5,5 -1,7s-1.2,3.3 -2,5s-1.7,3.5 -2.5,5s-1.7,2.7 -2.5,4s-2.5,2.8 -2.5,4s1.2,2.4 2.5,3.5s4.2,2.4 5,2.9z"/><path fill="#88B5AA" d="M1980.4,1144.4h8c.8-.3 3.6-1.2 5-1.9s3.5-1.1 3.5-2s-2.4-2.2 -3.5-3.5s-2.1-2.7 -3-4s-1.8-2.5 -2.5-4s-1.2-1.8 -1.5-5s-.3-9.7 -.5-14s-.3-8.2 -.5-12s-.5-9.2 -.6-11H1984c-.1,1.8 -.4,7.2 -.6,11s-.3,7.7 -.5,12s-.2,10.8 -.5,14s-.8,3.5 -1.5,5s-1.6,2.7 -2.5,4s-1.9,2.8 -3,4s-3.5,2.6 -3.5,3.5s2.1,1.3 3.5,2s4.2,1.6 5,1.9z"/><path fill="#88B5AA" d="M2006.5,1144.4h10c.8-.5 3.8-1.8 5-2.9s2.5-2.2 2.5-3.5s-1.8-2.7 -2.5-4s-1.4-2.5 -2-4s-1-3.3 -1.5-5s-1-3.3 -1.5-5s-1-3 -1.5-5s-1.2-4.5 -1.5-7s-.2-5.5 -.5-8s-.9-5.8 -1.1-7H2011c-.2,1.2 -.8,4.5 -1,7s-.2,5.5 -.5,8s-1,5 -1.5,7s-1,3.3 -1.5,5s-1,3.3 -1.5,5s-.9,3.5 -1.5,5s-1.2,2.7 -2,4s-2.5,2.8 -2.5,4s1.2,2.4 2.5,3.5s4.2,2.4 5,2.9z"/><path fill="#4DB8D8" d="M2032.5,1144.4h12c.8-.5 3.4-1.8 4.5-2.9s2.1-2.2 2-3.5s-1.7-2.7 -2.5-4s-1.8-2.7 -2.5-4s-1.3-2.5 -2-4s-1.5-3.3 -2-5s-.7-2.8 -1-5s-.8-5 -1-8s-.3-6.7 -.5-10s-.5-8.3 -.6-10H2038.1c-.1,1.7 -.4,6.7 -.6,10s-.2,7 -.5,10s-.7,5.8 -1,8s-.5,3.3 -1,5s-1.3,3.5 -2,5s-1.2,2.7 -2,4s-1.7,2.7 -2.5,4s-2.4,2.8 -2.5,4s.9,2.4 2,3.5s3.8,2.4 4.5,2.9z"/><path fill="#C8C8C8" d="M2055.6,1144.4h20c.4-.4 2.1-1.3 2.5-2.4s0-2.7 0-4s.3-2.7 0-4s-1.7-2.7 -2-4s-.1-2.5 0-4s.6-3.3 .5-5s-.5-3.3 -1-5s-1.2-3.3 -2-5s-1.7-3.5 -2.5-5s-1.8-2.8 -2.5-4s-1.7-2.5 -2-3H2064.6c-.3,.5 -1.2,1.8 -2,3s-1.7,2.5 -2.5,4s-1.8,3.3 -2.5,5s-1.5,3.3 -2,5s-.9,3.3 -1,5s.4,3.5 .5,5s.3,2.7 0,4s-1.7,2.7 -2,4s0,2.7 0,4s-.4,2.9 0,4s2.1,2 2.5,2.4z"/><path fill="#EAB323" d="M2090.1,1144.4h5c.4-.4 1.6-1.5 2.5-2.4s2-1.8 3-3s2.2-2.7 3-4s1.7-2.7 1.5-4s-1.8-2.7 -2.5-4s-1.4-2.7 -2-4s-1-2.7 -1.5-4s-.9-2.7 -1.5-4s-1.4-2.3 -2-4s-1.2-3.3 -1.5-6s-.3-6.5 -.5-10s-.5-9.2 -.6-11H2092.2c-.1,1.8 -.4,7.5 -.6,11s-.2,7.3 -.5,10s-.9,4.3 -1.5,6s-1.4,2.7 -2,4s-1,2.7 -1.5,4s-.9,2.7 -1.5,4s-1.2,2.7 -2,4s-2.3,2.7 -2.5,4s.8,2.7 1.5,4s2,2.8 3,4s2.1,2.1 3,3s2.1,2 2.5,2.4z"/><path fill="#4A97BE" d="M2115.7,1144.4h8c.8-.3 3.6-1.3 5-1.9s3.7-.8 3.5-1.5s-3.2-1.8 -4.5-3s-2.6-2.7 -3.5-4s-1.5-2.3 -2-4s-.8-4 -1-6s-.3-4.2 -.5-6s-.5-4.2 -.6-5H2119.2c-.1,.8 -.3,3.2 -.5,5s-.2,4 -.5,6s-.5,4.3 -1,6s-1.1,2.7 -2,4s-2.2,2.8 -3.5,4s-4.3,2.2 -4.5,3s2.1,.9 3.5,1.5s4.2,1.6 5,1.9z"/></g>
<path d="M1211 1061V1148.5M1210.5 1148H2138" stroke="#333" stroke-width="1.1" fill="none"/>
<path d="M1207 1076H1211M1207 1098H1211M1207 1122H1211M1207 1144.4H1211M1227 1148V1151.5M1254 1148V1151.5M1281.1 1148V1151.5M1308.2 1148V1151.5M1335.2 1148V1151.5M1362.2 1148V1151.5M1389.3 1148V1151.5M1416.3 1148V1151.5M1443.4 1148V1151.5M1470.5 1148V1151.5M1497.5 1148V1151.5M1524.5 1148V1151.5M1551.6 1148V1151.5M1578.7 1148V1151.5M1605.7 1148V1151.5M1632.8 1148V1151.5M1659.8 1148V1151.5M1686.8 1148V1151.5M1713.9 1148V1151.5M1741 1148V1151.5M1768 1148V1151.5M1795.1 1148V1151.5M1822.1 1148V1151.5M1849.2 1148V1151.5M1876.2 1148V1151.5M1903.2 1148V1151.5M1930.3 1148V1151.5M1957.3 1148V1151.5M1984.4 1148V1151.5M2011.5 1148V1151.5M2038.5 1148V1151.5M2065.6 1148V1151.5M2092.6 1148V1151.5M2119.7 1148V1151.5" stroke="#333" stroke-width="1" fill="none"/>
<g font-size="15" text-anchor="end" fill="#111"><text x="1204.5" y="1081.2">3000</text><text x="1204.5" y="1103.2">1000</text><text x="1204.5" y="1127.2">300</text><text x="1204.5" y="1149.6">100</text></g>
<g font-size="16.5" text-anchor="middle" font-weight="bold"><text x="1156" y="1113" transform="rotate(-90 1156 1113)"># Genes</text></g>
<g stroke="#333" stroke-width="1.2" stroke-linejoin="round"><path fill="#88B5AA" d="M1225.5,1251h3c0-1.5 -.1-5.8 0-9s.3-7 .5-10s.2-5.7 .5-8s.8-4 1.5-6s2-4 3-6s2.2-4 3-6s1.6-4.2 2-6s.6-3.3 .5-5s-.4-3.3 -1-5s-1.4-3.3 -2.5-5s-2.9-3.5 -4-5s-2-3 -2.5-4s-.4-1.7 -.5-2H1225c-.1,.3 0,1 -.5,2s-1.4,2.5 -2.5,4s-2.9,3.3 -4,5s-1.9,3.3 -2.5,5s-.9,3.3 -1,5s.1,3.2 .5,5s1.2,4 2,6s2,4 3,6s2.2,4 3,6s1.2,3.7 1.5,6s.3,5 .5,8s.4,6.8 .5,10s0,7.5 0,9z"/><path fill="#C8C8C8" d="M1252.5,1251h3c.1-.8 .4-3.2 .5-5s.1-3.8 .2-6s.2-4.7 .3-7s.1-4.8 .5-7s1.2-4 2-6s2-4 3-6s2.2-4 3-6s1.5-4 1.5-6s-.8-4 -1.5-6s-2-4.2 -3-6s-2.1-3.3 -3-5s-1.8-3.5 -2.5-5s-1.7-3.3 -2-4H1253.5c-.3,.7 -1.2,2.5 -2,4s-1.6,3.3 -2.5,5s-2,3.2 -3,5s-2.2,4 -3,6s-1.5,4 -1.5,6s.8,4 1.5,6s2,4 3,6s2.2,4 3,6s1.6,3.8 2,6s.4,4.7 .5,7s.2,4.8 .3,7s.1,4.2 .2,6s.4,4.2 .5,5z"/><path fill="#5F5F5F" d="M1277.1,1251h8c.1-.8 .4-3.3 .5-5s-.1-3.3 0-5s0-3.3 .5-5s1.5-3.3 2.5-5s2.7-3.2 3.5-5s1.3-4 1.5-6s.1-4 -.5-6s-2-4 -3-6s-2-4.2 -3-6s-2.3-3.3 -3-5s-.7-3 -1-5s-.5-4.7 -.8-7s-.7-5.8 -.8-7H1280.7c-.1,1.2 -.5,4.7 -.8,7s-.5,5 -.8,7s-.3,3.3 -1,5s-2,3.2 -3,5s-2,4 -3,6s-2.4,4 -3,6s-.7,4 -.5,6s.7,4.2 1.5,6s2.5,3.3 3.5,5s2,3.3 2.5,5s.4,3.3 .5,5s-.1,3.3 0,5s.4,4.2 .5,5z"/><path fill="#C8C8C8" d="M1307.2,1251h2c.3-.7 1.2-2.7 2-4s1.6-2.5 2.5-4s2.1-3.2 3-5s1.9-3.8 2.5-6s.8-4.7 1-7s.4-4.7 .5-7s.2-4.7 0-7s-.5-4.7 -1-7s-1.2-4.7 -2-7s-1.6-4.8 -2.5-7s-2.2-4.2 -3-6s-1.4-3.3 -2-5s-1.3-4.2 -1.6-5H1307.8c-.3,.8 -1,3.3 -1.6,5s-1.2,3.2 -2,5s-2.1,3.8 -3,6s-1.8,4.7 -2.5,7s-1.5,4.7 -2,7s-.8,4.7 -1,7s-.1,4.7 0,7s.2,4.7 .5,7s.4,4.8 1,7s1.6,4.2 2.5,6s2.1,3.5 3,5s1.8,2.7 2.5,4s1.7,3.3 2,4z"/><path fill="#C8C8C8" d="M1334.2,1251h2c.1-1 .3-3.8 .5-6s.2-4.8 .5-7s.5-4 1-6s1.2-4 2-6s1.7-4 2.5-6s1.8-3.8 2.5-6s1.6-4.7 2-7s.6-4.8 .5-7s-.5-4 -1-6s-1.2-4.2 -2-6s-1.9-3.3 -3-5s-2.5-3.7 -3.5-5s-2.1-2.5 -2.5-3H1334.7c-.4,.5 -1.5,1.7 -2.5,3s-2.4,3.3 -3.5,5s-2.2,3.2 -3,5s-1.5,4 -2,6s-.9,3.8 -1,6s.1,4.7 .5,7s1.2,4.8 2,7s1.7,4 2.5,6s1.8,4 2.5,6s1.5,4 2,6s.8,3.8 1,6s.3,4.8 .5,7s.4,5 .5,6z"/><path fill="#C8C8C8" d="M1359.8,1251h5c.1-.8 0-3.3 .4-5s1.2-3.2 2-5s2-4 3-6s2.2-4 3-6s1.3-4 1.6-6s.3-3.8 0-6s-1-4.7 -1.6-7s-1.3-4.7 -2-7s-1.6-4.7 -2.4-7s-1.8-4.7 -2.6-7s-1.4-4.8 -2-7s-1.2-5 -1.4-6H1361.8c-.3,1 -1,3.8 -1.6,6s-1.3,4.7 -2,7s-1.6,4.7 -2.4,7s-1.8,4.7 -2.6,7s-1.4,4.7 -2,7s-1.2,4.8 -1.4,7s-.2,4 0,6s.7,4 1.4,6s2,4 3,6s2.2,4.2 3,6s1.6,3.3 2,5s.5,4.2 .6,5z"/><path fill="#E8A0C8" d="M1378.3,1251h22c0-.5 .1-2 0-3s-.6-1.8 -.5-3s.7-2.5 1-4s.9-3.2 1-5s-.1-4 -.5-6s-1.3-4 -2-6s-1.4-4 -2-6s-1-3.8 -1.5-6s-1-4.7 -1.5-7s-1-4.5 -1.5-7s-1.1-5.7 -1.5-8s-.7-4 -1-6s-.5-5 -.6-6H1388.9c-.1,1 -.3,4 -.6,6s-.6,3.7 -1,6s-1,5.5 -1.5,8s-1,4.7 -1.5,7s-1,4.8 -1.5,7s-.9,4 -1.5,6s-1.3,4 -2,6s-1.6,4 -2,6s-.6,4.2 -.5,6s.7,3.5 1,5s.9,2.8 1,4s-.4,2 -.5,3s0,2.5 0,3z"/><path fill="#A31F30" d="M1415.8,1228h1c0-1.3 .1-5.3 .3-8s.3-5.8 .7-8s1-3.2 1.5-5s1-4.2 1.5-6s.9-3.3 1.5-5s1.2-3.3 2-5s1.8-3.3 2.5-5s1.8-3.5 2-5s-.2-3 -.5-4s-.8-1.7 -1-2H1405.3c-.2,.3 -.8,1 -1,2s-.8,2.5 -.5,4s1.2,3.3 2,5s1.8,3.3 2.5,5s1.4,3.3 2,5s1,3.2 1.5,5s1,4.2 1.5,6s1.1,2.8 1.5,5s.5,5.3 .7,8s.2,6.7 .3,8z"/><path fill="#13917A" d="M1440.9,1251h5c.4-.5 1.6-1.8 2.5-3s2.3-2.5 3-4s.9-3.3 1-5s-.1-3.3 -.5-5s-1.4-3.3 -2-5s-1.3-3.3 -1.5-5s0-3.3 .5-5s1.6-3.2 2.5-5s2.2-4 3-6s1.3-4 1.5-6s0-4 -.5-6s-1.5-4 -2.5-6s-2.5-4.2 -3.5-6s-1.9-3.5 -2.5-5s-.8-3.3 -1-4H1440.9c-.2,.7 -.4,2.5 -1,4s-1.5,3.2 -2.5,5s-2.5,4 -3.5,6s-2,4 -2.5,6s-.7,4 -.5,6s.8,4 1.5,6s2.1,4.2 3,6s2,3.3 2.5,5s.7,3.3 .5,5s-.9,3.3 -1.5,5s-1.6,3.3 -2,5s-.6,3.3 -.5,5s.3,3.5 1,5s2.1,2.8 3,4s2.1,2.5 2.5,3z"/><path fill="#A31F30" d="M1467.5,1251h6c.5-.5 2.2-1.8 3-3s1.6-2.5 2-4s.8-3.3 .5-5s-1.2-3.3 -2-5s-2-3.3 -2.5-5s-.7-3.3 -.5-5s.9-3.2 1.5-5s1.3-4 2-6s1.3-3.8 2-6s1.5-4.8 2-7s.8-3.8 1-6s.5-4.8 .5-7s-.1-4.3 -.5-6s-1.3-3 -2-4s-1.7-1.7 -2-2H1462.5c-.3,.3 -1.3,1 -2,2s-1.6,2.3 -2,4s-.5,3.8 -.5,6s.2,4.8 .5,7s.5,3.8 1,6s1.3,4.8 2,7s1.3,4 2,6s1.4,4.2 2,6s1.3,3.3 1.5,5s0,3.3 -.5,5s-1.8,3.3 -2.5,5s-1.8,3.3 -2,5s.1,3.5 .5,5s1.2,2.8 2,4s2.5,2.5 3,3z"/><path fill="#E8A0C8" d="M1494,1251h7c.4-.5 1.8-1.8 2.5-3s1.2-2.3 1.5-4s.4-4 .5-6s0-4 0-6s-.1-4 0-6s.2-3.8 .5-6s1-4.7 1.5-7s1.1-4.7 1.5-7s.9-4.8 1-7s.1-4 -.5-6s-1.9-4.2 -3-6s-2.4-3.5 -3.5-5s-2.2-3 -3-4s-1.7-1.7 -2-2H1497c-.3,.3 -1.2,1 -2,2s-1.9,2.5 -3,4s-2.4,3.2 -3.5,5s-2.4,4 -3,6s-.6,3.8 -.5,6s.6,4.7 1,7s1,4.7 1.5,7s1.2,4.8 1.5,7s.4,4 .5,6s0,4 0,6s-.1,4 0,6s.2,4.3 .5,6s.8,2.8 1.5,4s2.1,2.5 2.5,3z"/><path fill="#A31F30" d="M1524,1251h1c.3-.7 1.4-2.5 2-4s1.1-3.3 1.5-5s1-3.3 1-5s-.8-3.3 -1-5s-.7-3.3 -.5-5s.9-3.3 1.5-5s1.2-3.3 2-5s2.1-3.3 3-5s2.2-3.3 2.5-5s-.1-3.3 -.5-5s-1.6-3.3 -2-5s-.6-3.3 -.5-5s.9-3.3 1-5s-.1-3.5 -.5-5s-1.5-2.8 -2-4s-.8-2.5 -1-3H1517.5c-.2,.5 -.5,1.8 -1,3s-1.6,2.5 -2,4s-.6,3.3 -.5,5s.9,3.3 1,5s-.1,3.3 -.5,5s-1.6,3.3 -2,5s-.8,3.3 -.5,5s1.6,3.3 2.5,5s2.2,3.3 3,5s1.4,3.3 2,5s1.3,3.3 1.5,5s-.2,3.3 -.5,5s-1,3.3 -1,5s.6,3.3 1,5s.9,3.5 1.5,5s1.7,3.3 2,4z"/><path fill="#6F8FCF" d="M1544.6,1251h14c.5-.5 2.2-1.7 3-3s1.3-3.2 1.5-5s-.2-4 -.5-6s-1.1-4 -1.5-6s-.8-4 -1-6s-.1-4 0-6s.2-4 .5-6s.7-3.8 1-6s.6-4.7 1-7s1.2-4.7 1.5-7s.2-4.8 0-7s-.9-4.3 -1.5-6s-1.6-3.2 -2-4s-.4-.8 -.5-1H1543.1c-.1,.2 -.1,.2 -.5,1s-1.4,2.3 -2,4s-1.2,3.8 -1.5,6s-.2,4.7 0,7s1.1,4.7 1.5,7s.7,4.8 1,7s.8,4 1,6s.4,4 .5,6s.2,4 0,6s-.6,4 -1,6s-1.2,4 -1.5,6s-.7,4.2 -.5,6s.8,3.7 1.5,5s2.5,2.5 3,3z"/><path fill="#88B5AA" d="M1571.7,1251h14c.6-.5 2.7-1.7 3.5-3s1.2-3 1.5-5s.5-4.7 .5-7s-.3-4.7 -.5-7s-.4-4.7 -.5-7s-.1-4.7 0-7s.3-4.7 .5-7s.4-4.7 .5-7s.2-4.7 0-7s-.5-4.8 -1-7s-1.3-4.3 -2-6s-1.4-3 -2-4s-1.2-1.7 -1.5-2H1572.7c-.2,.3 -.9,1 -1.5,2s-1.3,2.3 -2,4s-1.5,3.8 -2,6s-.8,4.7 -1,7s-.1,4.7 0,7s.3,4.7 .5,7s.4,4.7 .5,7s.1,4.7 0,7s-.3,4.7 -.5,7s-.5,4.7 -.5,7s.2,5 .5,7s.7,3.7 1.5,5s2.9,2.5 3.5,3z"/><path fill="#E8A0C8" d="M1600.7,1251h10c.7-.5 2.9-1.7 4-3s1.9-3 2.5-5s.9-4.7 1-7s-.2-4.7 -.5-7s-1-4.7 -1.5-7s-1.1-4.7 -1.5-7s-.7-4.7 -1-7s-.5-4.7 -1-7s-1.3-4.8 -2-7s-1.4-4 -2-6s-1.1-4.2 -1.5-6s-.8-4.2 -1-5H1605.2c-.2,.8 -.6,3.2 -1,5s-.9,4 -1.5,6s-1.3,3.8 -2,6s-1.5,4.7 -2,7s-.7,4.7 -1,7s-.6,4.7 -1,7s-1,4.7 -1.5,7s-1.2,4.7 -1.5,7s-.6,4.7 -.5,7s.4,5 1,7s1.4,3.7 2.5,5s3.3,2.5 4,3z"/><path fill="#88B5AA" d="M1622.8,1251h20c.3-.5 1.6-1.5 2-3s.3-3.8 .4-6s.1-4.7 0-7s-.2-4.7 -.4-7s-.5-4.7 -.6-7s-.1-4.7 0-7s.4-4.7 .6-7s.3-4.7 .4-7s.2-4.8 0-7s-.7-4.2 -1.4-6s-2.2-3.7 -3-5s-1.5-2.3 -2-3s-.8-.8 -1-1H1627.8c-.2,.2 -.5,.3 -1,1s-1.2,1.7 -2,3s-2.2,3.2 -3,5s-1.3,3.8 -1.6,6s-.1,4.7 0,7s.4,4.7 .6,7s.3,4.7 .4,7s.1,4.7 0,7s-.2,4.7 -.4,7s-.5,4.7 -.6,7s-.1,4.8 0,7s.2,4.5 .6,6s1.7,2.5 2,3z"/><path fill="#E8A0C8" d="M1655.8,1251h8c.2-.5 .3-1.8 1-3s2-2.3 3-4s2.2-3.8 3-6s1.2-4.7 1.5-7s.2-4.7 0-7s-.6-4.7 -1-7s-.9-4.7 -1.5-7s-1.3-4.7 -2-7s-1.3-4.7 -2-7s-1.3-4.8 -2-7s-1.4-4.2 -2-6s-1.2-4.2 -1.5-5H1659.3c-.2,.8 -.9,3.2 -1.5,5s-1.3,3.8 -2,6s-1.3,4.7 -2,7s-1.3,4.7 -2,7s-1.4,4.7 -2,7s-1.1,4.7 -1.5,7s-.8,4.7 -1,7s-.2,4.7 0,7s.8,4.8 1.5,7s2,4.3 3,6s2.3,2.8 3,4s.8,2.5 1,3z"/><path fill="#E8A0C8" d="M1677.8,1251h18c.3-.5 1.5-1.7 2-3s.9-3 1-5s-.3-4.7 -.5-7s-.3-4.7 -.5-7s-.3-4.7 -.5-7s-.5-4.7 -.5-7s.2-4.7 .5-7s.7-4.7 1-7s1-4.7 1-7s-.4-4.8 -1-7s-1.8-4.3 -2.5-6s-1.5-3 -2-4s-.8-1.7 -1-2H1680.8c-.2,.3 -.5,1 -1,2s-1.2,2.3 -2,4s-1.9,3.8 -2.5,6s-1,4.7 -1,7s.7,4.7 1,7s.8,4.7 1,7s.5,4.7 .5,7s-.3,4.7 -.5,7s-.3,4.7 -.5,7s-.3,4.7 -.5,7s-.6,5 -.5,7s.5,3.7 1,5s1.7,2.5 2,3z"/><path fill="#A31F30" d="M1709.9,1251h8c.2-.8 .8-3.2 1-5s.3-4 .5-6s.4-4 .5-6s-.1-4 0-6s.2-4 .5-6s.6-4 1-6s.8-4 1.5-6s1.9-4 2.5-6s.9-4 1-6s0-4 -.5-6s-1.6-4.2 -2.5-6s-2.1-3.5 -3-5s-1.9-3 -2.5-4s-.8-1.7 -1-2H1710.9c-.2,.3 -.4,1 -1,2s-1.6,2.5 -2.5,4s-2.1,3.2 -3,5s-2,4 -2.5,6s-.6,4 -.5,6s.4,4 1,6s1.8,4 2.5,6s1.1,4 1.5,6s.8,4 1,6s.4,4 .5,6s-.1,4 0,6s.3,4 .5,6s.2,4.2 .5,6s.8,4.2 1,5z"/><path fill="#4E5B85" d="M1740,1251h2c0-1 .1-4 .2-6s.2-4 .3-6s.2-4 .5-6s.6-4 1-6s.8-4 1.5-6s1.6-4 2.5-6s2.1-4 3-6s2.2-4 2.5-6s.1-4 -.5-6s-2-4.2 -3-6s-2-3.3 -3-5s-2.1-3.2 -3-5s-2.1-5 -2.5-6H1740.5c-.4,1 -1.6,4.2 -2.5,6s-2,3.3 -3,5s-2,3.2 -3,5s-2.4,4 -3,6s-.8,4 -.5,6s1.6,4 2.5,6s2.1,4 3,6s1.8,4 2.5,6s1.1,4 1.5,6s.8,4 1,6s.4,4 .5,6s.2,4 .3,6s.2,5 .2,6z"/><path fill="#C8C8C8" d="M1767.5,1251h1c.3-.7 1.3-2.5 2-4s1.2-3.3 2-5s1.6-3.2 2.5-5s2.2-4 3-6s1.6-4 2-6s.7-4 .5-6s-.8-4 -1.5-6s-1.7-4 -2.5-6s-1.7-4 -2.5-6s-1.8-4.3 -2.5-6s-1-2.8 -1.5-4s-1.2-2.5 -1.5-3H1767.5c-.2,.5 -1,1.8 -1.5,3s-.8,2.3 -1.5,4s-1.7,4 -2.5,6s-1.7,4 -2.5,6s-1.8,4 -2.5,6s-1.3,4 -1.5,6s.1,4 .5,6s1.2,4 2,6s2.1,4.2 3,6s1.8,3.3 2.5,5s1.3,3.5 2,5s1.7,3.3 2,4z"/><path fill="#4DB8D8" d="M1793.6,1251h3c.4-.7 1.6-2.5 2.5-4s2.1-3.2 3-5s1.8-4 2.5-6s1.1-4 1.5-6s.8-3.8 1-6s.4-4.7 .5-7s.2-4.7 0-7s-.5-4.7 -1-7s-1.3-4.8 -2-7s-1.2-4.2 -2-6s-1.7-3.3 -2.5-5s-1.8-3.3 -2.5-5s-1.7-4.2 -2-5H1794.6c-.3,.8 -1.2,3.3 -2,5s-1.7,3.3 -2.5,5s-1.8,3.2 -2.5,5s-1.3,3.8 -2,6s-1.5,4.7 -2,7s-.8,4.7 -1,7s-.1,4.7 0,7s.2,4.8 .5,7s.6,4 1,6s.8,4 1.5,6s1.6,4.2 2.5,6s2.1,3.5 3,5s2.1,3.3 2.5,4z"/><path fill="#E8A0C8" d="M1817.1,1251h10c.6-.5 2.5-1.7 3.5-3s1.8-3.2 2.5-5s1.2-4 1.5-6s.2-4 0-6s-.6-4 -1-6s-.9-4 -1.5-6s-1.4-4 -2-6s-1-4 -1.5-6s-.9-4.2 -1.5-6s-1.4-3.5 -2-5s-1.1-2.8 -1.5-4s-.8-2.5 -1-3H1821.6c-.2,.5 -.6,1.8 -1,3s-.9,2.5 -1.5,4s-1.4,3.2 -2,5s-1,4 -1.5,6s-.9,4 -1.5,6s-1.4,4 -2,6s-1.1,4 -1.5,6s-.8,4 -1,6s-.2,4 0,6s.8,4.2 1.5,6s1.5,3.7 2.5,5s2.9,2.5 3.5,3z"/><path fill="#E8A0C8" d="M1848.7,1251h1c.5-.7 1.8-2.5 3-4s3.2-3.2 4.5-5s2.8-4 3.5-6s1.1-4 1-6s-.9-4 -1.5-6s-1.4-4 -2-6s-1-4 -1.5-6s-1-4 -1.5-6s-1-4 -1.5-6s-1-4 -1.5-6s-1.1-4 -1.5-6s-.8-5 -1-6H1848.7c-.2,1 -.6,4 -1,6s-1,4 -1.5,6s-1,4 -1.5,6s-1,4 -1.5,6s-1,4 -1.5,6s-.9,4 -1.5,6s-1.4,4 -2,6s-1.4,4 -1.5,6s.2,4 1,6s2.2,4.2 3.5,6s3.2,3.5 4.5,5s2.5,3.3 3,4z"/><path fill="#C8C8C8" d="M1870.2,1251h12c.6-.5 2.7-1.7 3.5-3s1.2-3.2 1.5-5s0-4 0-6s0-4 0-6s0-4 0-6s-.1-4 0-6s.3-3.8 .5-6s.3-4.7 .5-7s.5-4.7 .5-7s-.2-4.8 -.5-7s-.8-4 -1.5-6s-1.9-4.5 -2.5-6s-.8-2.5 -1-3H1869.2c-.2,.5 -.4,1.5 -1,3s-1.8,4 -2.5,6s-1.2,3.8 -1.5,6s-.5,4.7 -.5,7s.3,4.7 .5,7s.3,4.8 .5,7s.4,4 .5,6s0,4 0,6s0,4 0,6s0,4 0,6s-.2,4.2 0,6s.7,3.7 1.5,5s2.9,2.5 3.5,3z"/><path fill="#C8C8C8" d="M1899.8,1251h7c.1-.5 0-1.8 .4-3s1.2-2.5 2-4s2.2-3.2 3-5s1.5-4 2-6s.7-3.8 1-6s.6-4.7 .6-7s-.3-4.7 -.6-7s-.7-4.7 -1.4-7s-1.7-4.8 -2.6-7s-2.2-4.2 -3-6s-1.5-3.8 -2-5s-.8-1.7 -1-2H1901.2c-.2,.3 -.5,.8 -1,2s-1.2,3.2 -2,5s-2.1,3.8 -3,6s-1.7,4.7 -2.4,7s-1.3,4.7 -1.6,7s-.4,4.7 -.4,7s.2,4.8 .4,7s.5,4 1,6s1.2,4.2 2,6s2.2,3.5 3,5s1.6,2.8 2,4s.5,2.5 .6,3z"/><path fill="#C8C8C8" d="M1928.8,1251h3c.2-.5 .6-1.8 1-3s.8-2.5 1.5-4s1.7-3.2 2.5-5s1.8-4 2.5-6s1.5-3.8 2-6s.8-4.7 1-7s.7-4.7 .5-7s-.8-4.7 -1.5-7s-2-4.8 -3-7s-2.2-4.2 -3-6s-1.5-3.5 -2-5s-.8-3.3 -1-4H1928.3c-.2,.7 -.5,2.5 -1,4s-1.2,3.2 -2,5s-2,3.8 -3,6s-2.2,4.7 -3,7s-1.3,4.7 -1.5,7s.2,4.7 .5,7s.5,4.8 1,7s1.2,4 2,6s1.7,4.2 2.5,6s1.8,3.5 2.5,5s1.1,2.8 1.5,4s.8,2.5 1,3z"/><path fill="#4DB8D8" d="M1954.3,1251h6c0-.8 -.1-3.3 0-5s.2-3.2 .5-5s.8-4 1.5-6s1.7-3.8 2.5-6s1.8-4.7 2.5-7s1.1-4.7 1.5-7s.8-4.7 1-7s.1-4.8 0-7s.1-4.2 -.5-6s-1.9-3.3 -3-5s-2.5-3.3 -3.5-5s-1.9-3.5 -2.5-5s-.8-3.3 -1-4H1955.3c-.2,.7 -.4,2.5 -1,4s-1.5,3.3 -2.5,5s-2.4,3.3 -3.5,5s-2.4,3.2 -3,5s-.4,3.8 -.5,6s-.2,4.7 0,7s.6,4.7 1,7s.8,4.7 1.5,7s1.7,4.8 2.5,7s1.8,4 2.5,6s1.2,4.2 1.5,6s.4,3.3 .5,5s0,4.2 0,5z"/><path fill="#88B5AA" d="M1982.4,1251h4c0-1 -.1-4 0-6s.2-4 .5-6s.6-4 1-6s.8-3.8 1.5-6s1.7-4.7 2.5-7s1.8-4.7 2.5-7s1.1-4.7 1.5-7s.8-4.7 1-7s.3-4.8 0-7s-1.1-4.2 -2-6s-2.4-3.5 -3.5-5s-2.3-3 -3-4s-.8-1.7 -1-2H1981.4c-.2,.3 -.3,1 -1,2s-1.9,2.5 -3,4s-2.6,3.2 -3.5,5s-1.7,3.8 -2,6s-.2,4.7 0,7s.6,4.7 1,7s.8,4.7 1.5,7s1.7,4.7 2.5,7s1.8,4.8 2.5,7s1.1,4 1.5,6s.8,4 1,6s.4,4 .5,6s0,5 0,6z"/><path fill="#88B5AA" d="M2009.5,1251h4c0-1 -.2-4 0-6s.6-4 1-6s.9-4 1.5-6s1.2-4 2-6s1.7-3.8 2.5-6s1.9-4.7 2.5-7s.8-4.7 1-7s.2-4.7 0-7s-.4-4.8 -1-7s-1.6-4.2 -2.5-6s-2.2-3.5 -3-5s-1.5-2.8 -2-4s-.8-2.5 -1-3H2008.5c-.2,.5 -.5,1.8 -1,3s-1.2,2.5 -2,4s-2.1,3.2 -3,5s-1.9,3.8 -2.5,6s-.8,4.7 -1,7s-.2,4.7 0,7s.4,4.7 1,7s1.7,4.8 2.5,7s1.8,4 2.5,6s1.4,4 2,6s1.1,4 1.5,6s.8,4 1,6s0,5 0,6z"/><path fill="#4DB8D8" d="M2033,1251h11c.2-.5 .6-1.8 1-3s.9-2.5 1.5-4s1.4-3.2 2-5s1.1-4 1.5-6s1-4 1-6s-.6-4 -1-6s-1-4 -1.5-6s-1-4 -1.5-6s-.9-4 -1.5-6s-1.4-4 -2-6s-1-4 -1.5-6s-1-3.8 -1.5-6s-1.2-5.8 -1.5-7H2038c-.2,1.2 -1,4.8 -1.5,7s-1,4 -1.5,6s-.9,4 -1.5,6s-1.4,4 -2,6s-1,4 -1.5,6s-1,4 -1.5,6s-1.1,4 -1.5,6s-1,4 -1,6s.6,4 1,6s.9,4.2 1.5,6s1.4,3.5 2,5s1.1,2.8 1.5,4s.8,2.5 1,3z"/><path fill="#C8C8C8" d="M2064.4,1251h2.4c.1-.8 .4-3.3 .6-5s.4-3.3 .7-5s.6-3.2 1-5s.7-4 1.5-6s2.4-4 3.5-6s2.3-4.2 3-6s1.1-3.3 1-5s-.8-3.2 -1.5-5s-2.1-4 -3-6s-1.8-4 -2.5-6s-1.4-4 -2-6s-1-4 -1.5-6s-1.2-5 -1.5-6H2065.1c-.2,1 -1,4 -1.5,6s-.9,4 -1.5,6s-1.2,4 -2,6s-1.6,4 -2.5,6s-2.2,4.2 -3,6s-1.4,3.3 -1.5,5s.3,3.2 1,5s1.9,4 3,6s2.7,4 3.5,6s1.1,4.2 1.5,6s.7,3.3 1,5s.5,3.3 .7,5s.5,4.2 .6,5z"/><path fill="#EAB323" d="M2092.1,1251h1c.3-.7 1.1-2.5 2-4s2.3-3.2 3.5-5s2.6-4 3.5-6s1.5-4 2-6s1.2-4 1-6s-1.2-4 -2-6s-2.2-4 -3-6s-1.2-4 -1.5-6s-.3-4.2 -.5-6s-.2-3.5 -.5-5s-.7-2.8 -1-4s-.8-2.5 -1-3H2089.6c-.2,.5 -.7,1.8 -1,3s-.8,2.5 -1,4s-.3,3.2 -.5,5s-.2,4 -.5,6s-.8,4 -1.5,6s-2.2,4 -3,6s-1.8,4 -2,6s.5,4 1,6s1.1,4 2,6s2.3,4.2 3.5,6s2.6,3.5 3.5,5s1.7,3.3 2,4z"/><path fill="#4A97BE" d="M2117.7,1239h4c0-.8 -.1-3.3 0-5s.2-3.3 .5-5s.4-3.5 1-5s1.5-2.7 2.5-4s2.5-2.7 3.5-4s2-2.8 2.5-4s.8-1.8 .5-3s-1.5-2.7 -2.5-4s-2.3-2.8 -3.5-4s-2.5-2.2 -3.5-3s-2.1-1.7 -2.5-2H2119.2c-.4,.3 -1.5,1.2 -2.5,2s-2.3,1.8 -3.5,3s-2.5,2.7 -3.5,4s-2.2,2.8 -2.5,4s0,1.8 .5,3s1.5,2.7 2.5,4s2.5,2.7 3.5,4s1.9,2.5 2.5,4s.8,3.3 1,5s.4,3.3 .5,5s0,4.2 0,5z"/></g>
<path d="M1211 1170V1255.1M1210.5 1254.6H2138" stroke="#333" stroke-width="1.1" fill="none"/>
<path d="M1207 1177H1211M1207 1199.6H1211M1207 1226.4H1211M1207 1251H1211M1227 1254.6V1258.1M1254 1254.6V1258.1M1281.1 1254.6V1258.1M1308.2 1254.6V1258.1M1335.2 1254.6V1258.1M1362.2 1254.6V1258.1M1389.3 1254.6V1258.1M1416.3 1254.6V1258.1M1443.4 1254.6V1258.1M1470.5 1254.6V1258.1M1497.5 1254.6V1258.1M1524.5 1254.6V1258.1M1551.6 1254.6V1258.1M1578.7 1254.6V1258.1M1605.7 1254.6V1258.1M1632.8 1254.6V1258.1M1659.8 1254.6V1258.1M1686.8 1254.6V1258.1M1713.9 1254.6V1258.1M1741 1254.6V1258.1M1768 1254.6V1258.1M1795.1 1254.6V1258.1M1822.1 1254.6V1258.1M1849.2 1254.6V1258.1M1876.2 1254.6V1258.1M1903.2 1254.6V1258.1M1930.3 1254.6V1258.1M1957.3 1254.6V1258.1M1984.4 1254.6V1258.1M2011.5 1254.6V1258.1M2038.5 1254.6V1258.1M2065.6 1254.6V1258.1M2092.6 1254.6V1258.1M2119.7 1254.6V1258.1" stroke="#333" stroke-width="1" fill="none"/>
<g font-size="15" text-anchor="end" fill="#111"><text x="1204.5" y="1182.2">30</text><text x="1204.5" y="1204.8">10</text><text x="1204.5" y="1231.6">3</text><text x="1204.5" y="1256.2">1</text></g>
<g font-size="16.5" text-anchor="middle" font-weight="bold"><text x="1156" y="1215" transform="rotate(-90 1156 1215)">% mito</text></g>
<g font-size="13.4" text-anchor="end" fill="#111"><text x="1225" y="1274" transform="rotate(-24 1225 1274)">Tyraminergic</text><text x="1252.05" y="1274" transform="rotate(-24 1252.05 1274)">Neuro1_dividing</text><text x="1279.1" y="1274" transform="rotate(-24 1279.1 1274)">Non-neuro_dividing</text><text x="1306.15" y="1274" transform="rotate(-24 1306.15 1274)">Neuro2</text><text x="1333.2" y="1274" transform="rotate(-24 1333.2 1274)">Neuro3</text><text x="1360.25" y="1274" transform="rotate(-24 1360.25 1274)">Neuro4</text><text x="1387.3" y="1274" transform="rotate(-24 1387.3 1274)">Blood1</text><text x="1414.35" y="1274" transform="rotate(-24 1414.35 1274)">Cholinergic1</text><text x="1441.4" y="1274" transform="rotate(-24 1441.4 1274)">Glutamatergic1</text><text x="1468.45" y="1274" transform="rotate(-24 1468.45 1274)">Cholinergic2</text><text x="1495.5" y="1274" transform="rotate(-24 1495.5 1274)">Blood2</text><text x="1522.55" y="1274" transform="rotate(-24 1522.55 1274)">Cholinergic3</text><text x="1549.6" y="1274" transform="rotate(-24 1549.6 1274)">Endothelial</text><text x="1576.65" y="1274" transform="rotate(-24 1576.65 1274)">Monoaminergic</text><text x="1603.7" y="1274" transform="rotate(-24 1603.7 1274)">Blood3</text><text x="1630.75" y="1274" transform="rotate(-24 1630.75 1274)">Noradrenergic</text><text x="1657.8" y="1274" transform="rotate(-24 1657.8 1274)">Blood4</text><text x="1684.85" y="1274" transform="rotate(-24 1684.85 1274)">Blood5</text><text x="1711.9" y="1274" transform="rotate(-24 1711.9 1274)">Cholinergic4</text><text x="1738.95" y="1274" transform="rotate(-24 1738.95 1274)">Glycinergic</text><text x="1766" y="1274" transform="rotate(-24 1766 1274)">Muscle1</text><text x="1793.05" y="1274" transform="rotate(-24 1793.05 1274)">Neuro5</text><text x="1820.1" y="1274" transform="rotate(-24 1820.1 1274)">Blood6</text><text x="1847.15" y="1274" transform="rotate(-24 1847.15 1274)">Blood7</text><text x="1874.2" y="1274" transform="rotate(-24 1874.2 1274)">Neuro6</text><text x="1901.25" y="1274" transform="rotate(-24 1901.25 1274)">Neuro7</text><text x="1928.3" y="1274" transform="rotate(-24 1928.3 1274)">Neuro8</text><text x="1955.35" y="1274" transform="rotate(-24 1955.35 1274)">Muscle2</text><text x="1982.4" y="1274" transform="rotate(-24 1982.4 1274)">Dopaminergic1</text><text x="2009.45" y="1274" transform="rotate(-24 2009.45 1274)">Serotoninergic</text><text x="2036.5" y="1274" transform="rotate(-24 2036.5 1274)">Muscle3</text><text x="2063.55" y="1274" transform="rotate(-24 2063.55 1274)">Neuro9</text><text x="2090.6" y="1274" transform="rotate(-24 2090.6 1274)">Glia</text><text x="2117.65" y="1274" transform="rotate(-24 2117.65 1274)">Dopaminergic2</text></g>
<path d="M1353.3 1352.3L1361.2 1351.4L1370.1 1360.2L1366.1 1367.1L1361.2 1375L1357.3 1386.8L1365.1 1396.7L1366.1 1406.5L1357.3 1407.5L1347.4 1404.5L1337.6 1406.5L1333.6 1404.5L1337.6 1396.7L1345.4 1388.8L1349.4 1375L1351.3 1363.2z" fill="url(#p3)"/>
<path transform="translate(1196.8 1341.5)" d="M166 10zm-2 1zm-1-1zm-1 1zm0 0zm-3-1zm-7 4zm5 2zm5 0zm10 3zm-2 2zm-3-1zm-10-1zm-1 1zm-1-2zm-2 10zm5-2zm7 0zm1-2zm1 7zm0-1zm-2 4zm-2 0zm-4-3zm-5 0zm-1 3zm-1 0zm-2 3zm9 3zm2 1zm2-4zm0 8zm-1 1zm-2 1zm-11-4zm-1 1zm-5 9zm22-3zm3 7zm-5-1zm-6 1zm-3-3zm-12 2zm-1-1zm-2 7zm0 3zm3 0zm1 0zm1-1zm1 1zm3-2zm1 1zm0-2zm4 1zm3 1zm1-1zm0 2zm7-1zm5-4zm-11 6zm-18 0z" stroke="#A31F30" stroke-width="2.5" stroke-linecap="round" fill="none"/>
<path d="M1221.4 1388.8L1231.2 1385.8L1245 1392.7L1258.8 1402.6L1264.7 1410.4L1260.7 1416.4L1254.8 1424.2L1247 1426.2L1237.1 1420.3L1231.2 1412.4L1227.3 1402.6L1223.3 1396.7z" fill="url(#p15)"/>
<path transform="translate(1196.8 1341.5)" d="M40 47zm-2-1zm-1-3zm-6 3zm-1 0zm0 0zm-6 0zm2 4zm0-2zm8 5zm1-1zm1 0zm1 1zm4-1zm10 1zm2 2zm-25 0zm2 6zm9 1zm2-2zm7 2zm3 0zm5-2zm6 1zm1 2zm1 1zm1 1zm0-1zm1-1zm3 5zm-3 3zm-10 0zm-16-3zm-6 2zm0-3zm-1 0zm-1 0zm3 6zm1 0zm7 3zm0-2zm0 0zm22 0zm-3 4zm-3 2zm-3 1zm0-2zm-1 4zm-2-2zm-7-2zm-3 1zm-3 0zm18 4z" stroke="#E8A0C8" stroke-width="2.5" stroke-linecap="round" fill="none"/>
<path d="M1205.6 1420.3L1211.5 1410.4L1219.4 1412.4L1223.3 1420.3L1221.4 1432.1L1227.3 1438L1225.3 1451.8L1217.4 1453.8L1211.5 1447.9L1207.6 1438z" fill="url(#p15)"/>
<path transform="translate(1196.8 1341.5)" d="M23 70zm-1 0zm-5-1zm-1 2zm-2-2zm5 8zm3-5zm3 9zm-16 1zm15 7zm1 0zm0-4zm1-1zm2 8zm-1 2zm-2-3zm-13-1zm-1 2zm0 4zm1 5zm7-4zm4-1zm2 2zm4 2zm1 7zm0-3zm-1 1zm-1 1zm-10-3zm0-1zm-2 5zm-1 0zm0-5zm-1 5zm0-2zm0 1zm2 2zm6 5zm0-5zm5 3zm2-1zm0 0z" stroke="#E8A0C8" stroke-width="2.5" stroke-linecap="round" fill="none"/>
<path transform="translate(1196.8 1341.5)" d="M67 77zm3 5zm-2-4zm0 4zm-1 0zm-3-3zm0 0zm0 0zm0 3zm0-2zm-3 1zm1 5zm0-1zm1-1zm1 2zm0 1zm1-2zm3 1zm2-2zm0 5zm3-5zm4 5zm-1 3zm-4 2zm-1-1zm0-1zm-2 1zm-4 1zm4 2zm4 2z" stroke="#6F8FCF" stroke-width="2.5" stroke-linecap="round" fill="none"/>
<path d="M1229.2 1438L1239.1 1438L1245 1434.1L1252.9 1436L1258.8 1440L1260.7 1449.8L1254.8 1455.7L1247 1461.7L1252.9 1471.5L1248.9 1477.4L1243 1473.5L1237.1 1465.6L1231.2 1451.8z" fill="url(#p16)"/>
<path transform="translate(1196.8 1341.5)" d="M56 94zm-1 1zm-7 0zm-3 0zm-1 0zm-5 3zm1-2zm1 1zm1-1zm2 4zm6 0zm6-2zm3 0zm4 4zm0 5zm0-4zm-21 0zm-9-1zm-1 1zm2 10zm1-5zm8 4zm4-4zm11 5zm5-5zm-3 6zm-1 1zm-1 0zm-1-1zm-2 5zm0-5zm-7 3zm-9 5zm1 0zm12-1zm0 3zm4 7zm-1 0zm-3-5zm-6 0zm-4 1zm10 6zm3 0z" stroke="#5F5F5F" stroke-width="2.5" stroke-linecap="round" fill="none"/>
<path d="M1278.5 1507L1290.3 1499.1L1306 1495.1L1317.9 1499.1L1321.8 1507L1325.7 1526.6L1323.8 1546.3L1315.9 1558.2L1302.1 1556.2L1286.4 1546.3L1278.5 1530.6z" fill="url(#p17)"/>
<path transform="translate(1196.8 1341.5)" d="M106 155zm-3-2zm21 11zm2 10zm-14 3zm-21 0zm-10 1zm1 2zm48 6zm-1 3zm-1-1zm-1 1zm-42 8zm42-2zm1 1zm-33 2zm-10 2zm41 7zm2-3zm-9 10zm-8 0zm-7-1z" stroke="#C8C8C8" stroke-width="2.5" stroke-linecap="round" fill="none"/>
<path transform="translate(1196.8 1341.5)" d="M62 147zm0 0zm1-1zm0 1zm1 0zm0 1zm1 1zm0-1zm1 1zm2-2zm0 1zm2 5zm-3 0zm0 0zm-1 0zm-1 1zm-1 1zm0-4zm-1 0zm0 4z" stroke="#C8C8C8" stroke-width="2.5" stroke-linecap="round" fill="none"/>
<path transform="translate(1196.8 1341.5)" d="M150 101zm1-1zm1 0zm1-1zm5 1zm1 0zm1 1zm4 0zm8 4zm0 2zm-1-2zm-1 2zm-1 0zm-1-2zm-1-1zm0 1zm-2-2zm-1 0zm-1-1zm-1 5zm0-1zm0-2zm0-2zm0 2zm-1 2zm-2 1zm0-5zm0 0zm0 5zm-1-5zm-1 2zm0-2zm-1 1zm-1 3zm-2-2zm-3 1zm5 3zm4 1zm1 0zm0 0zm1-1zm0 0zm0 0zm1 2zm0-1zm4-1zm0 4zm0-3zm1 3zm2-1zm1 1zm0 0zm1-3zm1 4zm0-1zm1 1zm-1 1zm-1 2zm-2-1zm-1 0z" stroke="#C8C8C8" stroke-width="2.5" stroke-linecap="round" fill="none"/>
<path transform="translate(1196.8 1341.5)" d="M101 101zm2 5zm0-3zm0 0zm-1 3zm0-2zm-1 0zm-6 6zm3 2zm0-1zm0 0zm1 0zm0-3zm1 1zm1 0zm-4 5zm0 3zm0 1zm0-2zm-1-1zm-1 3zm-1-2zm-1 2zm0-1zm-1 0zm-2 0zm-1 1zm-1-1zm-9 5zm0 1zm1-1zm0 2zm0 0zm3 0zm0 0zm1-3zm0 4zm0-1zm0 1zm1 0zm1-4zm0 3zm1-3zm1-1zm1 1zm1 1zm1 2zm-2 2zm-5 0zm-1 0z" stroke="#4DB8D8" stroke-width="2.5" stroke-linecap="round" fill="none"/>
<path transform="translate(1196.8 1341.5)" d="M140 160zm0-1zm4 0zm2-1zm0 0zm1 3zm0-1zm0-1zm1-2zm0 4zm0-3zm4 7zm-1 1zm0 1zm-1-3zm-1 3zm0-3zm-1 2zm0-4zm-2 3zm-2 2zm-2-1zm-1-1zm-1 0zm-1 2zm0 0zm0-2zm0-3zm-1 1zm0 5zm2 4zm1-1zm0-2zm0 1zm1 3zm0-3zm2 3zm0-4zm1 3zm1-4zm0 2zm0-2zm1 5zm0-5zm0 2zm1 1zm0-3zm0 4zm1-4zm1 1zm0-1zm0 1zm0 4zm0-1zm0-1zm0-2zm1 2zm0 1zm1-4zm-9 7z" stroke="#4DB8D8" stroke-width="2.5" stroke-linecap="round" fill="none"/>
<path transform="translate(1196.8 1341.5)" d="M91 137zm0-1zm1 1zm1 2zm0-1zm0 0zm-3 2zm-2 0zm0-2zm0 2zm-1 1zm-1-1zm-1 0zm-1-2zm-3 3zm0 1zm-1 0zm0 4zm3-1zm3 0z" stroke="#E8A0C8" stroke-width="2.5" stroke-linecap="round" fill="none"/>
<path d="M1310 1477.4L1317.9 1463.6L1325.7 1449.8L1337.6 1445.9L1347.4 1447.9L1353.3 1459.7L1353.3 1471.5L1347.4 1479.4L1343.5 1487.3L1337.6 1495.1L1331.7 1499.1L1325.7 1497.1L1321.8 1487.3L1313.9 1487.3z" fill="url(#p2)"/>
<path transform="translate(1196.8 1341.5)" d="M150 107zm-1 0zm-4-1zm-3 1zm-2-3zm0 1zm-3 0zm-1 1zm-1 1zm-2-1zm-1 2zm0 0zm7 1zm5 4zm7-5zm5 8zm-1 2zm0-1zm-28-3zm-2 2zm0-1zm-5 8zm1-1zm3-2zm2 0zm6 0zm9 0zm3 1zm1 3zm4 0zm0-4zm6 2zm0 3zm2 6zm-1-1zm-24-3zm-12-1zm-2 0zm-2 3zm-2 4zm11 3zm11 0zm16 3zm-4 3zm0-4zm-5 0zm-6 5zm-2-1zm-9-3zm-7 3zm-1-4zm-1 3zm3 5zm2 1zm0-2zm0-1zm1 2zm2 0zm4 3zm14-1zm3 2zm-19 3zm0 1zm-1-4zm8 7zm2 0z" stroke="#88B5AA" stroke-width="2.5" stroke-linecap="round" fill="none"/>
<path d="M1345.4 1467.6L1357.3 1463.6L1365.1 1459.7L1369.1 1465.6L1365.1 1477.4L1363.2 1489.2L1353.3 1487.3L1345.4 1479.4z" fill="url(#p9)"/>
<path transform="translate(1196.8 1341.5)" d="M165 119zm-17 5zm1 1zm4 0zm0-2zm5 0zm11 2zm4-5zm-1 7zm-15 4zm-8-2zm0 3zm1 5zm13-4zm4 4zm0-5zm2 3zm-1 6zm-1-2zm-3 1zm-8 3zm-4-2zm-1-3zm-2 0zm-1 1zm7 6zm1-1zm6 3zm1-3zm3 1zm0 0zm0 0zm1 1zm0 0z" stroke="#13917A" stroke-width="2.5" stroke-linecap="round" fill="none"/>
<path transform="translate(1196.8 1341.5)" d="M126 152zm-2 1zm-1-2zm2 7zm5-1zm2 3zm0 6zm-3-4zm-1 4zm-2 0zm0 3zm7 3zm2-4zm-1 11zm-1-2zm-1 0zm-5 1zm5 2zm1 3zm1-1zm4-2zm0 4zm0 2zm0 1zm-3 3zm-3-1zm5 7zm4-1zm1 3zm-6 1z" stroke="#4E5B85" stroke-width="2.5" stroke-linecap="round" fill="none"/>
<path transform="translate(1196.8 1341.5)" d="M89 105zm2 7zm1-4zm3 0zm1 0zm19 11zm-14-5zm-2 4zm7 2zm8 0zm8 2zm8 2zm-1 5zm-4-1zm14 8z" stroke="#A31F30" stroke-width="2.5" stroke-linecap="round" fill="none"/>
<path transform="translate(1196.8 1341.5)" d="M127 115zm-3 0zm-2 1zm-1 3zm-1-1zm-1 1zm-1 0zm-1-2zm6 5zm1 3zm3-1zm0-2zm0-2zm1 0zm1 1zm4 1zm2 7zm-2-3zm-2 2zm-2 1zm-1-1zm-2-1zm-2 0zm-6 2zm-4-1z" stroke="#A31F30" stroke-width="2.5" stroke-linecap="round" fill="none"/>
<path transform="translate(1196.8 1341.5)" d="M98 135zm0-2zm2 2z" stroke="#EAB323" stroke-width="2.5" stroke-linecap="round" fill="none"/>
<path transform="translate(1196.8 1341.5)" d="M150 117zm-2 2zm-1-1zm-9-3zm-14 8zm12 0zm-1 7zm-3-1zm-6-2zm-5-1zm14 8zm3 5zm-9 2zm-3 2zm-4-3zm7 8zm7-4zm11 0z" stroke="#C8C8C8" stroke-width="2.5" stroke-linecap="round" fill="none"/>
<path transform="translate(1196.8 1341.5)" d="M154 116zm-25 0zm-2-1zm-2 9zm5 0zm8-1zm-11 3zm2 7zm23 3zm-17 9zm-3 10zm3 2z" stroke="#A31F30" stroke-width="2.5" stroke-linecap="round" fill="none"/>
<path transform="translate(1196.8 1341.5)" d="M121 174zm5 29zm-16-4z" stroke="#4E5B85" stroke-width="2.5" stroke-linecap="round" fill="none"/>
<path transform="translate(1196.8 1341.5)" d="M138 112zm8 9zm8-1zm-35 6zm21 9zm-7 17z" stroke="#4DB8D8" stroke-width="2.5" stroke-linecap="round" fill="none"/>
<path transform="translate(1196.8 1341.5)" d="M115 162zm-23 17zm12 13z" stroke="#E8A0C8" stroke-width="2.5" stroke-linecap="round" fill="none"/>
<path transform="translate(1196.8 1341.5)" d="M115 170zm-14 28zm12 8z" stroke="#88B5AA" stroke-width="2.5" stroke-linecap="round" fill="none"/>
<path d="M1196.8 1570.6H1380.5" stroke="#111" stroke-width="1.6" fill="none"/>
<g font-size="19" text-anchor="middle" font-weight="bold"><text x="1288" y="1349.5">v2_B1</text></g>
<path d="M1546.8 1352.3L1554.7 1351.4L1563.6 1360.2L1559.6 1367.1L1554.7 1375L1550.8 1386.8L1558.6 1396.7L1559.6 1406.5L1550.8 1407.5L1540.9 1404.5L1531.1 1406.5L1527.1 1404.5L1531.1 1396.7L1538.9 1388.8L1542.9 1375L1544.8 1363.2z" fill="url(#p3)"/>
<path transform="translate(1390.3 1341.5)" d="M155 12zm0 5zm4-5zm8 3zm2 0zm1 1zm3 2zm-5 4zm-14 0zm0 7zm3-2zm1-3zm1 1zm2-1zm5 5zm0-5zm1 3zm1 0zm-3 4zm-1 2zm0-3zm-5 4zm-6 0zm0 0zm-4 7zm3-3zm9-1zm3 1zm-2 7zm-1-1zm-10-2zm-1 1zm-2 3zm-6 7zm3-2zm0 1zm17-3zm2 2zm1-2zm0 1zm0-1zm0 2zm2 1zm2 5zm-1-1zm0 0zm0 2zm-27-4zm7 8zm10 3zm2-1zm1 0zm6-2zm1 2zm1-1zm2 1zm1-1zm-15 3zm-18 0z" stroke="#A31F30" stroke-width="2.5" stroke-linecap="round" fill="none"/>
<path d="M1414.9 1388.8L1424.7 1385.8L1438.5 1392.7L1452.3 1402.6L1458.2 1410.4L1454.2 1416.4L1448.3 1424.2L1440.5 1426.2L1430.6 1420.3L1424.7 1412.4L1420.8 1402.6L1416.8 1396.7z" fill="url(#p15)"/>
<path transform="translate(1390.3 1341.5)" d="M37 45zm-1-1zm-4 2zm-2 1zm-2-1zm0 2zm12 0zm4 1zm3 2zm1-2zm2 3zm4 1zm3 5zm-6-3zm-15 0zm-4 3zm-5-4zm0 0zm-1 2zm3 4zm0 1zm1 1zm0-2zm2 5zm6-1zm5 0zm11-3zm2 3zm2-2zm4-1zm2 3zm4 3zm-15 3zm-16 0zm-1 1zm1 1zm4 4zm22 0zm1 0zm1-4zm1 1zm-6 8zm0-2zm-6 0zm-1 1zm0-1zm-4 2zm-3 1zm-7-4zm10 6z" stroke="#E8A0C8" stroke-width="2.5" stroke-linecap="round" fill="none"/>
<path d="M1399.1 1420.3L1405 1410.4L1412.9 1412.4L1416.8 1420.3L1414.9 1432.1L1420.8 1438L1418.8 1451.8L1410.9 1453.8L1405 1447.9L1401.1 1438z" fill="url(#p18)"/>
<path transform="translate(1390.3 1341.5)" d="M14 71zm-4 6zm12-3zm3 1zm3 8zm-1-4zm-1 2zm0 0zm-15-1zm-2 7zm15-3zm0 3zm2 0zm2 7zm-2-3zm-5 9zm4-4zm4 6zm-1 3zm-2 1zm-11-3zm-1 3zm-1-2zm-1 0zm4 5zm7 3zm1-1zm0 1zm0 0zm5-2zm0-1zm0-1z" stroke="#E8A0C8" stroke-width="2.5" stroke-linecap="round" fill="none"/>
<path d="M1452.3 1420.3L1460.2 1416.4L1466.1 1423.2L1468 1432.1L1462.1 1440L1456.2 1436L1452.3 1428.2z" fill="url(#p19)"/>
<path transform="translate(1390.3 1341.5)" d="M66 73zm1 4zm1 0zm1-1zm7 6zm0-2zm-1 0zm-1 1zm-1-1zm-2 1zm0-3zm-6 4zm-1-4zm0 1zm-3 7zm2-1zm7 2zm7-1zm0 0zm1 0zm0 6zm-1-2zm-3 1zm0 1zm-10-2zm7 7z" stroke="#6F8FCF" stroke-width="2.5" stroke-linecap="round" fill="none"/>
<path d="M1422.7 1438L1432.6 1438L1438.5 1434.1L1446.4 1436L1452.3 1440L1454.2 1449.8L1448.3 1455.7L1440.5 1461.7L1446.4 1471.5L1442.4 1477.4L1436.5 1473.5L1430.6 1465.6L1424.7 1451.8z" fill="url(#p20)"/>
<path transform="translate(1390.3 1341.5)" d="M56 93zm-5 1zm-1 0zm-2-4zm-1 4zm-16 2zm0 1zm2 0zm1 1zm3-1zm1-1zm4 0zm20 4zm1 4zm0-1zm-1 1zm-5-2zm-2 0zm-3 5zm0-2zm-18-2zm2 8zm5-3zm5 5zm14-2zm1 0zm1-3zm2 1zm0-1zm-8 10zm-2-2zm-1 1zm-6-2zm-8 1zm-1 7zm2 0zm0-1zm1-2zm8 1zm1 1zm2 1zm2 1zm-6 7zm-1 0zm-3-5zm7 10zm1-1zm2 0z" stroke="#5F5F5F" stroke-width="2.5" stroke-linecap="round" fill="none"/>
<path d="M1472 1507L1483.8 1499.1L1499.5 1495.1L1511.4 1499.1L1515.3 1507L1519.2 1526.6L1517.3 1546.3L1509.4 1558.2L1495.6 1556.2L1479.9 1546.3L1472 1530.6z" fill="url(#p0)"/>
<path transform="translate(1390.3 1341.5)" d="M105 155zm-7-1zm-13 7zm9-2zm1-3zm1 0zm2 3zm1-2zm0-1zm4 1zm10 0zm2 0zm4 0zm1 2zm1-2zm2 2zm1 6zm-1-3zm-5 3zm-9 1zm-3-2zm-4 3zm-5-4zm0 1zm-1 1zm-3 0zm-8-3zm-1 3zm-3 2zm2 2zm13 0zm0 0zm0 0zm8 2zm7 2zm11-3zm1 3zm1-3zm0-2zm3 3zm1 6zm-2-1zm0-1zm-1 3zm-3 1zm-8-3zm-3 1zm-11-1zm-4-2zm-14 3zm-2-1zm0 5zm2-1zm0 0zm2 3zm4 0zm6-1zm7-1zm14-1zm6 1zm6 1zm1 1zm0-1zm2 3zm1 3zm-3 1zm0 1zm0-3zm-2-1zm-7 5zm-34-3zm-3 4zm2 4zm2 0zm4-3zm6 4zm7-3zm14 2zm2-3zm2 2zm7-2zm0 9zm-13-1zm-2-1zm-4 1zm-9 0zm-1 2zm-5 0zm-4-1zm-2-1zm-2-2zm4 7zm4 1zm0 2zm0-2zm6-1zm1-2zm19 0zm4 4zm2-4zm-11 8zm-6 1zm-7 1zm-5-4zm21 7z" stroke="#C8C8C8" stroke-width="2.5" stroke-linecap="round" fill="none"/>
<path transform="translate(1390.3 1341.5)" d="M61 149zm2-3zm1 0zm1 0zm1 0zm0 3zm1 0zm0-2zm0 1zm1 1zm0-1zm1 1zm0 2zm-1 0zm0 2zm0-1zm-1 2zm-1 0zm-1-3zm0 0z" stroke="#C8C8C8" stroke-width="2.5" stroke-linecap="round" fill="none"/>
<path d="M1538.9 1440L1550.8 1440L1562.6 1447.9L1564.5 1457.7L1558.6 1457.7L1550.8 1451.8L1540.9 1447.9z" fill="url(#p0)"/>
<path transform="translate(1390.3 1341.5)" d="M151 99zm0-1zm3 3zm2-1zm0 0zm4-3zm13 10zm0 0zm-2-1zm-3-1zm-2-3zm0 0zm-7 5zm-1-3zm-9 3zm11 4zm1 0zm1 1zm2 0zm8 1zm0 4zm-1-1zm0 0zm-4 0z" stroke="#C8C8C8" stroke-width="2.5" stroke-linecap="round" fill="none"/>
<path transform="translate(1390.3 1341.5)" d="M104 105zm-1-1zm-2 1zm0-3zm-1 2zm-4 4zm1 3zm0-2zm1 2zm0-2zm0 4zm1-2zm0 1zm0-3zm0 2zm1-3zm0 5zm0-2zm0-1zm-1 4zm0 1zm-2 2zm0 2zm-1-3zm-1-2zm-1 2zm0 1zm-4 1zm0-1zm0 2zm-1 0zm-2 0zm0-1zm-2 1zm-5 6zm0-3zm0-1zm3 2zm1 2zm0 0zm1-5zm2 2zm1 1zm0 1zm0-3zm1-1zm0 2zm0-1zm2-1zm0 2zm1 3zm1-3zm1-1zm-5 5zm-3 1zm-2 0zm0 0zm0 1zm-2-2zm0 2z" stroke="#4DB8D8" stroke-width="2.5" stroke-linecap="round" fill="none"/>
<path d="M1529.1 1501L1537 1497.1L1542.9 1505L1540.9 1514.8L1533 1516.8L1527.1 1510.9z" fill="url(#p21)"/>
<path transform="translate(1390.3 1341.5)" d="M139 160zm1 1zm1-2zm0 1zm1-2zm1 3zm2-4zm3 4zm3 4zm-6-1zm-9 3zm2 3zm2-2zm2 3zm1 1zm6 1zm1 0zm2-1zm-2 2zm-9 2z" stroke="#4DB8D8" stroke-width="2.5" stroke-linecap="round" fill="none"/>
<path transform="translate(1390.3 1341.5)" d="M92 137zm2 2zm-1-1zm-1 0zm0 1zm-1-1zm0 3zm-1-2zm0 0zm0 1zm-1 2zm0-2zm-1 3zm-1-2zm-1 0zm-1 1zm0-3zm0 1zm0 3zm0-4zm-1 3zm-1-2zm0 1zm0-2zm0 1zm0 1zm-1-1zm0 3zm-2-3zm0-1zm-1 2zm0-1zm0 1zm-1 2zm4 2zm0 0zm1-1zm4 0zm0 0zm2 0z" stroke="#E8A0C8" stroke-width="2.5" stroke-linecap="round" fill="none"/>
<path d="M1483.8 1443.9L1511.4 1436L1540.9 1438L1562.6 1447.9L1566.5 1467.6L1550.8 1487.3L1535 1507L1523.2 1522.7L1511.4 1526.6L1499.5 1516.8L1491.7 1497.1L1483.8 1477.4z" fill="url(#p22)"/>
<path transform="translate(1390.3 1341.5)" d="M154 99zm14 6zm-18 1zm-57-3zm-1 4zm5 2zm9 0zm68 20zm-79 7zm65 0zm6 1zm2-1zm-74 2zm23 12zm-13 9zm23-2zm18 9zm0-2zm-30 14zm-7-4zm11 10zm14-1zm0-1z" stroke="#88B5AA" stroke-width="2.5" stroke-linecap="round" fill="none"/>
<path d="M1503.5 1477.4L1511.4 1463.6L1519.2 1449.8L1531.1 1445.9L1540.9 1447.9L1546.8 1459.7L1546.8 1471.5L1540.9 1479.4L1537 1487.3L1531.1 1495.1L1525.2 1499.1L1519.2 1497.1L1515.3 1487.3L1507.4 1487.3z" fill="url(#p23)"/>
<path transform="translate(1390.3 1341.5)" d="M152 106zm-2-1zm-2 1zm-2 1zm-6-3zm-1 0zm-2 1zm-11 7zm1 1zm1-1zm22-3zm7 8zm-1 1zm-1-2zm-31 3zm-2-1zm-3 7zm2-1zm7-2zm28 2zm0 5zm-8 0zm-4 2zm-3-2zm-3-3zm-11 2zm-8-2zm-4 5zm-2 3zm0 1zm0 1zm0-1zm0 0zm11-1zm14-1zm5 4zm1-1zm4-4zm4 4zm-3 7zm-4-2zm-23 2zm-4 0zm-2 0zm-2-5zm9 9zm0-2zm0 1zm1-1zm4 4zm20-4zm-17 10zm-3-1zm0 1zm2 3zm0-1zm3 0zm2 3zm1-3zm2-1z" stroke="#88B5AA" stroke-width="2.5" stroke-linecap="round" fill="none"/>
<path d="M1538.9 1467.6L1550.8 1463.6L1558.6 1459.7L1562.6 1465.6L1558.6 1477.4L1556.7 1489.2L1546.8 1487.3L1538.9 1479.4z" fill="url(#p9)"/>
<path transform="translate(1390.3 1341.5)" d="M167 119zm-1 0zm-8 2zm4 0zm0 0zm5 4zm3-3zm0-2zm2 9zm-7 2zm-8-3zm-4 1zm-4 3zm1 4zm4 1zm3-2zm3-1zm4-1zm4 2zm0-1zm0 6zm0 2zm0-3zm-1 2zm0-2zm-1 2zm-16 0zm11 6zm1-1zm1 0zm2 0zm0-1zm1 3zm0-2zm0 3zm1-3z" stroke="#13917A" stroke-width="2.5" stroke-linecap="round" fill="none"/>
<path d="M1511.4 1491.2L1519.2 1491.2L1525.2 1507L1531.1 1526.6L1535 1538.5L1529.1 1542.4L1521.2 1536.5L1517.3 1516.8L1513.3 1503z" fill="url(#p6)"/>
<path transform="translate(1390.3 1341.5)" d="M132 154zm-5-3zm-3 3zm-2 1zm-1-3zm-2-1zm2 8zm0-1zm3-2zm1 4zm8-3zm3 7zm-9 0zm-2 3zm-1 0zm2 6zm0-1zm5-3zm4 0zm0 2zm1 2zm1-3zm1 3zm1 0zm0 3zm-8-2zm-3 5zm0-3zm0-2zm-1 5zm-2-4zm2 8zm1 2zm1-2zm4-2zm0 3zm7-2zm0 1zm0-2zm2 8zm-7-1zm-4 7zm5 1zm5-2zm1-1zm3 3zm-4 2zm-1 2zm0-2z" stroke="#4E5B85" stroke-width="2.5" stroke-linecap="round" fill="none"/>
<path d="M1472 1440L1483.8 1447.9L1499.5 1457.7L1511.4 1461.7L1523.2 1465.6L1531.1 1471.5L1529.1 1477.4L1519.2 1473.5L1507.4 1469.5L1495.6 1463.6L1483.8 1455.7L1472 1445.9z" fill="url(#p24)"/>
<path transform="translate(1390.3 1341.5)" d="M82 101zm10 4zm0 1zm-7 0zm-3-3zm0 2zm-1-3zm4 6zm2 1zm4-1zm6 2zm2 0zm1 3zm17 5zm-5-1zm-4-1zm0 1zm-9 1zm-6-3zm8 6zm6 2zm3 2zm5-5zm5 0zm4 0zm2 2zm1-1zm3 2zm0 1zm1 0zm2 1zm9 5zm-1-1zm0 2zm-1-1zm-2-1zm-10 2zm-5 0zm0 1zm3 0zm4 1zm5 2zm0 1zm4-4zm0 5z" stroke="#A31F30" stroke-width="2.5" stroke-linecap="round" fill="none"/>
<path transform="translate(1390.3 1341.5)" d="M133 117zm-5-1zm-1-1zm0 3zm-1-1zm-1 1zm-1-2zm-5 3zm-7 4zm2 1zm7-3zm0 1zm1 3zm0-1zm1-2zm1 1zm0-3zm8 5zm1-3zm0 6zm0-2zm-2 5zm-1-5zm-1 1zm-1 1zm-5 0zm-2 1zm0 0zm-3 1zm-5-3z" stroke="#A31F30" stroke-width="2.5" stroke-linecap="round" fill="none"/>
<path transform="translate(1390.3 1341.5)" d="M97 134zm1 0zm0 0zm0 1zm1 1zm0-2z" stroke="#EAB323" stroke-width="2.5" stroke-linecap="round" fill="none"/>
<path transform="translate(1390.3 1341.5)" d="M127 96zm4 1zm2 5zm-42 2zm6 8zm1 1zm50 0zm5-5zm11 6zm-11 2zm-12 1zm-1-1zm-5 0zm-36 6zm74-1zm-10 6zm-67 8zm67 1zm1-3zm-37 10zm-10-3zm-1-1zm-1 2zm-14 4zm32 3zm4-4zm0 1zm3 5zm-10 0zm-17 10zm22-3zm-8 10zm-15-3zm-8-1zm32 6zm-12 5z" stroke="#C8C8C8" stroke-width="2.5" stroke-linecap="round" fill="none"/>
<path transform="translate(1390.3 1341.5)" d="M107 100zm47 2zm-43 5zm39 5zm-50 19zm0 1zm37 13zm10 5zm-26 11zm19 9zm-21 11zm6 3z" stroke="#A31F30" stroke-width="2.5" stroke-linecap="round" fill="none"/>
<path transform="translate(1390.3 1341.5)" d="M138 107zm-5 4zm18 4zm-8 1zm-2-1zm-17 1zm-1 2zm0 4zm0-1zm8 1zm0 0zm6 3zm2-4zm14 3zm-3 3zm-5 4zm-3-1zm-5-1zm-16-2zm-5 8zm11-1zm5-2zm2 5zm1-3zm16 1zm-3 3zm-12 1zm-11 3zm-2-1zm-3 1zm-3-4zm12 10zm1-2zm8 3zm2-3zm-11 8z" stroke="#C8C8C8" stroke-width="2.5" stroke-linecap="round" fill="none"/>
<path transform="translate(1390.3 1341.5)" d="M130 113zm20-2zm3 4zm-3-1zm-1 1zm-7 0zm-15 0zm18 10zm2 0zm1-2zm-20 5zm0 0zm18 4zm3 4zm-2 5zm-8-1zm-6 3zm-12-2zm9 7zm3-4zm5 4zm2-3zm3 1zm-10 6z" stroke="#A31F30" stroke-width="2.5" stroke-linecap="round" fill="none"/>
<path transform="translate(1390.3 1341.5)" d="M103 160zm11 0zm8 3zm-12 3zm-28 0zm38 4zm-11 9zm-11-1zm-8-4zm24 6zm12 2zm0 8zm-18 1zm-22-4zm6 9zm28 2zm-9 5zm-12-3zm-1 4zm14 0zm5 0zm1 3zm9-1zm-17 8z" stroke="#4E5B85" stroke-width="2.5" stroke-linecap="round" fill="none"/>
<path transform="translate(1390.3 1341.5)" d="M150 110zm3 1zm-7 5zm-10 3zm-12-2zm1 8zm26-5zm3 1zm0 4zm-1 4zm-7 1zm-7-4zm-16 4zm-6 0zm7 3zm0 7zm-4 0zm12 7z" stroke="#4DB8D8" stroke-width="2.5" stroke-linecap="round" fill="none"/>
<path transform="translate(1390.3 1341.5)" d="M94 173zm-1 2zm-2 12zm-1 4zm0 2zm25-1zm10 9zm-24 2zm-12 1zm19 1zm14 1zm-17 5z" stroke="#E8A0C8" stroke-width="2.5" stroke-linecap="round" fill="none"/>
<path transform="translate(1390.3 1341.5)" d="M122 164zm-8 1zm-7 2zm-7-5zm-6 6zm1 2zm8-2zm16 8zm0 2zm-16-3zm-3 3zm-11-1zm7 4zm16 3zm2-4zm6 0zm5 9zm-17-1zm-21 4zm30 0zm-4 11zm-20 0zm28 10zm-14 2z" stroke="#88B5AA" stroke-width="2.5" stroke-linecap="round" fill="none"/>
<path d="M1390.3 1570.6H1574" stroke="#111" stroke-width="1.6" fill="none"/>
<g font-size="19" text-anchor="middle" font-weight="bold"><text x="1480.8" y="1349.5">v3_60dph_B1</text></g>
<path d="M1740.7 1352.3L1748.6 1351.4L1757.5 1360.2L1753.5 1367.1L1748.6 1375L1744.7 1386.8L1752.5 1396.7L1753.5 1406.5L1744.7 1407.5L1734.8 1404.5L1725 1406.5L1721 1404.5L1725 1396.7L1732.8 1388.8L1736.8 1375L1738.7 1363.2z" fill="url(#p3)"/>
<path transform="translate(1584.2 1341.5)" d="M165 10zm0 1zm-7-3zm-3 9zm0-4zm0 2zm0 1zm0 1zm1-2zm0-1zm1-1zm8 0zm4 0zm2 3zm-1 3zm-13 1zm-2-2zm-2 5zm1 4zm0 2zm1-1zm0-1zm2-3zm7 1zm4 3zm0 0zm-4 3zm-2 3zm-10 2zm6 2zm4-2zm1 1zm-1 6zm0 4zm-1-2zm0 0zm0-2zm-15 6zm8-1zm6 4zm0-2zm5 1zm4 8zm0 0zm-3-1zm-5-3zm-4-1zm-14 0zm-1 0zm-2 2zm0 2zm-1 1zm-1 2zm0 2zm1-1zm0 3zm1-4zm1 2zm7-3zm4 4zm2-1zm3 0zm0 1zm10 0zm3-4z" stroke="#A31F30" stroke-width="2.5" stroke-linecap="round" fill="none"/>
<path d="M1608.8 1388.8L1618.6 1385.8L1632.4 1392.7L1646.2 1402.6L1652.1 1410.4L1648.1 1416.4L1642.2 1424.2L1634.4 1426.2L1624.5 1420.3L1618.6 1412.4L1614.7 1402.6L1610.7 1396.7z" fill="url(#p15)"/>
<path transform="translate(1584.2 1341.5)" d="M40 46zm-4-3zm-2 2zm-3 0zm0 1zm-7 2zm1 1zm17-1zm20 11zm-7-3zm-3 3zm-2-1zm-3-2zm-10 1zm-9 0zm-2-2zm2 8zm2-3zm2 2zm15 1zm4 1zm8-2zm4 0zm0 2zm5 6zm-1-2zm-4-1zm-14 1zm-2-2zm-4 4zm-1-1zm-6 1zm0-4zm-2 2zm-2 2zm5 2zm4 5zm0-3zm15 3zm6-3zm4 0zm-4 4zm-2 2zm-1 2zm-2-3zm-2-1zm-2 4zm0 1zm-10-3zm-2-1zm0-1zm-2 1zm11 6zm1-1z" stroke="#E8A0C8" stroke-width="2.5" stroke-linecap="round" fill="none"/>
<path d="M1593 1420.3L1598.9 1410.4L1606.8 1412.4L1610.7 1420.3L1608.8 1432.1L1614.7 1438L1612.7 1451.8L1604.8 1453.8L1598.9 1447.9L1595 1438z" fill="url(#p15)"/>
<path transform="translate(1584.2 1341.5)" d="M23 71zm-5-3zm-2 1zm-1 2zm-7 6zm3-2zm8 1zm1-4zm5 3zm2 5zm0 1zm-9-2zm-9 0zm-1 4zm1 1zm3 5zm3-1zm8 1zm-3 2zm-1 4zm-1-2zm-7 2zm-1 3zm1 0zm1-2zm0 5zm2-1zm4-2zm2 1zm7-3zm4 5zm0-5zm0 3zm-2 7zm0-3zm-7-1zm-7 2zm0 2zm-2-1zm0 2zm7 4zm0-1zm2 2zm2 0zm5-2z" stroke="#E8A0C8" stroke-width="2.5" stroke-linecap="round" fill="none"/>
<path d="M1646.2 1420.3L1654.1 1416.4L1660 1423.2L1661.9 1432.1L1656 1440L1650.1 1436L1646.2 1428.2z" fill="url(#p19)"/>
<path transform="translate(1584.2 1341.5)" d="M64 77zm3-2zm3 2zm2 1zm0 3zm-4 2zm-6-3zm0 0zm1 7zm4-3zm8 1zm1 1zm1-2zm1 1zm-3 8zm-1-2zm0 4zm-1-4zm0 1zm-1 0zm-4 1zm-2-2zm-1 0zm-1 0zm4 7zm3 0z" stroke="#6F8FCF" stroke-width="2.5" stroke-linecap="round" fill="none"/>
<path d="M1616.6 1438L1626.5 1438L1632.4 1434.1L1640.3 1436L1646.2 1440L1648.1 1449.8L1642.2 1455.7L1634.4 1461.7L1640.3 1471.5L1636.3 1477.4L1630.4 1473.5L1624.5 1465.6L1618.6 1451.8z" fill="url(#p20)"/>
<path transform="translate(1584.2 1341.5)" d="M53 93zm-5 0zm-2 2zm-1-1zm-14 5zm2-1zm1 2zm0-1zm0-1zm6-1zm1 0zm8 4zm1-3zm13 0zm1 5zm-8 0zm-4-1zm-6 1zm-3 4zm-4-4zm-4 0zm-2 2zm0-2zm2 9zm2 1zm0-1zm2-4zm6 2zm14 3zm2-3zm2 0zm1 1zm0-2zm-16 10zm-12 0zm-1-2zm5 8zm1-1zm11 1zm3 6zm0-1zm-1-2zm0 2zm-9 1zm-2-4zm2 6zm4 1z" stroke="#5F5F5F" stroke-width="2.5" stroke-linecap="round" fill="none"/>
<path d="M1665.9 1507L1677.7 1499.1L1693.4 1495.1L1705.3 1499.1L1709.2 1507L1713.1 1526.6L1711.2 1546.3L1703.3 1558.2L1689.5 1556.2L1673.8 1546.3L1665.9 1530.6z" fill="url(#p0)"/>
<path transform="translate(1584.2 1341.5)" d="M98 155zm-11 6zm2-2zm10-3zm0 3zm6-2zm1 2zm7 0zm0-2zm1 0zm8 3zm5 7zm-2-2zm0 0zm-3-3zm-4 3zm-5 1zm-19-4zm-2 5zm-6-4zm-3 3zm-1-1zm-1 1zm0 2zm0 5zm11-4zm1 1zm11 3zm3-3zm21 7zm-1-3zm-6 4zm-5-3zm-5 3zm-2-1zm-6-2zm-6-1zm-12 2zm-1 3zm-3-2zm0 7zm1-4zm3 1zm4 2zm0-2zm0 1zm7 0zm2 3zm0-5zm12 1zm8-1zm7 3zm2-1zm1 2zm2 3zm-1 2zm0-2zm-1-1zm0 4zm-10-4zm-15 0zm-3 3zm-6-3zm0 5zm-1-3zm-2-2zm-10 0zm0 2zm1 6zm4 2zm8-1zm11 0zm1 1zm7-2zm1 3zm12 0zm1-3zm0 3zm-1 2zm0 2zm-2 0zm-8 0zm-2-3zm-7 1zm-16 0zm-1 4zm-2-2zm-1-2zm3 6zm1 0zm11 3zm3 1zm14-2zm4 2zm5-3zm0 0zm-5 5zm-1 3zm0-2zm-1 0zm-9 3zm-2 0zm0 0zm0-3zm-1 1zm-3 1zm0-2zm-2-1zm-4 2zm15 3zm2 0z" stroke="#C8C8C8" stroke-width="2.5" stroke-linecap="round" fill="none"/>
<path transform="translate(1584.2 1341.5)" d="M60 148zm2-2zm1 2zm1 0zm0 0zm0-1zm1 2zm0-3zm2 3zm0-3zm0 0zm1 4zm-1 1zm-2 4zm-1-3zm-1-1zm0 0zm-1 3zm0-3zm0 1z" stroke="#C8C8C8" stroke-width="2.5" stroke-linecap="round" fill="none"/>
<path d="M1732.8 1440L1744.7 1440L1756.5 1447.9L1758.4 1457.7L1752.5 1457.7L1744.7 1451.8L1734.8 1447.9z" fill="url(#p0)"/>
<path transform="translate(1584.2 1341.5)" d="M152 97zm2 4zm2-3zm2 2zm1-1zm1-3zm11 9zm-3-2zm-1-1zm-2 4zm-12 0zm-2-2zm0 2zm0-3zm-1-1zm-1 0zm2 6zm3 1zm5 0zm2 2zm2 1zm0 0zm1 1zm10 3zm-1 0zm-1 0zm-1 0zm-3 0zm-2-1z" stroke="#C8C8C8" stroke-width="2.5" stroke-linecap="round" fill="none"/>
<path transform="translate(1584.2 1341.5)" d="M101 101zm2 4zm-1-1zm0 3zm-1-1zm-1-4zm0 4zm0 1zm0-5zm0 2zm0 1zm-1 1zm-1 1zm-1 0zm-1 6zm1-3zm3-1zm0 2zm1-2zm-4 5zm-1 5zm-1 0zm-1 0zm0-3zm-1 3zm0-2zm0 0zm-2 0zm-2 2zm-2 0zm-7 4zm1 0zm1 0zm1-3zm0 2zm1 3zm0-4zm1 1zm1 3zm1-5zm1 4zm0 1zm1-2zm0-3zm1 1zm1-1zm0 2zm0-2zm1 4zm0 0zm3-3zm1-1zm-8 6zm-1 0zm-1 1zm-1-1zm-1 0zm0 1zm-2 1zm-1-2z" stroke="#4DB8D8" stroke-width="2.5" stroke-linecap="round" fill="none"/>
<path d="M1723 1501L1730.9 1497.1L1736.8 1505L1734.8 1514.8L1726.9 1516.8L1721 1510.9z" fill="url(#p21)"/>
<path transform="translate(1584.2 1341.5)" d="M147 155zm-8 5zm2-2zm3-1zm0 4zm5-1zm3 7zm-1-4zm-15 2zm1 6zm0-1zm1-2zm3 1zm1 0zm1 4zm4 0zm3-5zm2 1zm1 4zm-3 1z" stroke="#4DB8D8" stroke-width="2.5" stroke-linecap="round" fill="none"/>
<path transform="translate(1584.2 1341.5)" d="M84 137zm5 0zm1 0zm0 0zm1 0zm1 0zm2-1zm-4 7zm0-2zm0 1zm0-4zm-1 1zm-1 0zm0 1zm0-1zm-1 4zm0-5zm-1 1zm-2 0zm0-1zm0 4zm0 1zm-2-1zm-1-1zm-3 1zm1 5zm3-3zm0 1zm4-1zm1 0z" stroke="#E8A0C8" stroke-width="2.5" stroke-linecap="round" fill="none"/>
<path d="M1677.7 1443.9L1705.3 1436L1734.8 1438L1756.5 1447.9L1760.4 1467.6L1744.7 1487.3L1728.9 1507L1717.1 1522.7L1705.3 1526.6L1693.4 1516.8L1685.6 1497.1L1677.7 1477.4z" fill="url(#p25)"/>
<path transform="translate(1584.2 1341.5)" d="M141 95zm-6-1zm-8 1zm-3 0zm-1 0zm-5 0zm-23 6zm1-1zm7 0zm1-2zm1 3zm7-4zm0 1zm8-2zm5 2zm20 2zm10 0zm1-1zm0 0zm1-1zm3 2zm8 1zm4 6zm-6-2zm-5-2zm-3 3zm-62-3zm-3 4zm1 1zm8 4zm55-3zm16 2zm0 5zm-8 2zm-7 0zm-11-2zm-15-1zm-17 3zm-21-2zm0 0zm-1 5zm40 4zm16-5zm15 1zm10 0zm-1 8zm-13-2zm-13 4zm-18-1zm-1-2zm-33-2zm-3 8zm1-2zm0 3zm34 0zm11-2zm5 3zm4-3zm12 3zm11-2zm1-1zm0 2zm-35 8zm-39-2zm-3-3zm1 9zm4 2zm1 0zm25-1zm6 0zm28-4zm1 0zm-7 11zm-6-2zm-28-3zm-18 5zm-1-2zm-1-1zm0-2zm3 11zm0-5zm49 3zm0-1zm-23 4zm-19 0zm-1 4zm-4-4zm-1 0zm4 6zm2 5zm0-3zm24 3zm6-3zm2 2zm1-2zm-5 8zm-1-1zm-27-1zm12 9zm5-3zm1 0zm0 1zm0 1zm5-4z" stroke="#88B5AA" stroke-width="2.5" stroke-linecap="round" fill="none"/>
<path transform="translate(1584.2 1341.5)" d="M48 83zm-1 0zm-1-2zm-3 1zm0 1zm-1-4zm-3 1zm-4-1zm0 6zm3 3zm0-2zm0-2zm3 4zm2 0zm2-4zm2 0zm1 3zm2 0zm0-2zm4 1zm9 9zm-3-4zm-2 0zm-2-1zm0 4zm-1-4zm-1 0zm-4 3zm-2 1zm-8-4zm-3 5zm-5-3zm3 4zm1 2zm1-2zm2 0zm0 3zm2-3zm1 5zm2-3zm1-2zm1 1zm1 4zm1 0zm3-1zm1 0zm3-4zm2 3zm1 0zm2 2zm0-4zm-1 7zm-4-2zm-5 3zm-1-2zm-11 4zm-3-4zm-1 1zm8 4zm4 0z" stroke="#E8A0C8" stroke-width="2.5" stroke-linecap="round" fill="none"/>
<path d="M1697.4 1477.4L1705.3 1463.6L1713.1 1449.8L1725 1445.9L1734.8 1447.9L1740.7 1459.7L1740.7 1471.5L1734.8 1479.4L1730.9 1487.3L1725 1495.1L1719.1 1499.1L1713.1 1497.1L1709.2 1487.3L1701.3 1487.3z" fill="url(#p2)"/>
<path transform="translate(1584.2 1341.5)" d="M149 105zm-1-1zm-6-1zm-5 2zm-1 2zm-1 0zm-2 0zm-2-2zm-6 8zm2-2zm0 1zm1-1zm10 1zm3-4zm0 5zm7-5zm8 10zm-1-2zm-6 1zm-7 2zm0-4zm0 3zm-2 0zm-1-3zm-7 0zm-4 0zm-4 2zm-2 8zm2-5zm4 5zm3-4zm3-1zm4 4zm11-3zm0 0zm2 0zm5-1zm1 3zm-1 8zm-10-3zm-6 3zm-1-1zm-2 0zm-1-4zm0 2zm-12 1zm-6 0zm-1 0zm-2 2zm-3 3zm0 0zm3 3zm12-1zm2-2zm3 3zm3-5zm2 4zm1 1zm4-5zm0 3zm1-1zm11 0zm-3 4zm-1 0zm-2 5zm0-5zm-9 2zm-5 1zm0-3zm0 5zm-5-5zm-1 0zm0 0zm-7 1zm-3 4zm-2-5zm-3 1zm4 6zm1 1zm2 1zm5-1zm1 1zm5-3zm2 3zm11 2zm1-1zm0 1zm0-5zm1 3zm1-1zm-2 4zm-1 1zm-1-1zm-6 5zm-9-1zm9 3z" stroke="#88B5AA" stroke-width="2.5" stroke-linecap="round" fill="none"/>
<path d="M1732.8 1467.6L1744.7 1463.6L1752.5 1459.7L1756.5 1465.6L1752.5 1477.4L1750.6 1489.2L1740.7 1487.3L1732.8 1479.4z" fill="url(#p9)"/>
<path transform="translate(1584.2 1341.5)" d="M168 118zm-4 1zm-9 5zm12-4zm3 0zm0 2zm1 2zm1-2zm1 4zm-1 5zm-12-1zm-7-1zm-3-1zm-1-2zm-1 3zm0-1zm-1-2zm2 10zm8 1zm1-5zm5 4zm3 1zm2-1zm0-1zm1-3zm1 4zm-7 5zm-3 0zm-5 1zm0-4zm-4 0zm-1 0zm10 10zm0-4zm3 5zm1-2zm2 1zm0-3zm1-1z" stroke="#13917A" stroke-width="2.5" stroke-linecap="round" fill="none"/>
<path d="M1705.3 1491.2L1713.1 1491.2L1719.1 1507L1725 1526.6L1728.9 1538.5L1723 1542.4L1715.1 1536.5L1711.2 1516.8L1707.2 1503z" fill="url(#p26)"/>
<path transform="translate(1584.2 1341.5)" d="M128 151zm-5 2zm-3-3zm12 11zm1-3zm0 5zm-8 2zm-1-2zm0 4zm-1-5zm0 1zm-1 1zm2 5zm0-1zm1 2zm2 1zm9 0zm0-3zm1 5zm2 6zm-5-5zm-6 3zm0 5zm0 3zm1 0zm10-4zm2 4zm1 0zm1 1zm-4 0zm-10 1zm1 8zm4 2zm11-1zm0-2zm-2 5zm-4 0zm-1 2z" stroke="#4E5B85" stroke-width="2.5" stroke-linecap="round" fill="none"/>
<path d="M1665.9 1440L1677.7 1447.9L1693.4 1457.7L1705.3 1461.7L1717.1 1465.6L1725 1471.5L1723 1477.4L1713.1 1473.5L1701.3 1469.5L1689.5 1463.6L1677.7 1455.7L1665.9 1445.9z" fill="url(#p3)"/>
<path transform="translate(1584.2 1341.5)" d="M85 100zm1 1zm5 4zm-1-2zm0 4zm-2-2zm-2-2zm0 0zm-3 3zm0 0zm-2-3zm5 6zm1-1zm1 3zm3 0zm10-1zm0 1zm3 2zm2 0zm14 6zm-7-2zm-2-1zm-5-1zm-1-1zm-3 4zm-7-4zm7 6zm4 1zm5 3zm5 0zm2-4zm3 0zm0 4zm3-1zm6-2zm0 1zm2 2zm1 2zm-8 5zm-4-3zm-7-2zm6 6zm12 1zm2 3zm1-2zm2 1zm1-1zm0 0z" stroke="#A31F30" stroke-width="2.5" stroke-linecap="round" fill="none"/>
<path transform="translate(1584.2 1341.5)" d="M132 115zm0 3zm-5 1zm-2-2zm-1-1zm-1 3zm0-3zm-1 1zm0 2zm0 0zm-1 0zm0-2zm-2-3zm0 1zm-2 4zm-2-1zm-1-1zm2 6zm1-2zm0 3zm2-2zm0 0zm3 2zm0 0zm2-3zm1 4zm3 0zm0-5zm1 0zm2 3zm1 1zm0 3zm-3 4zm-2 0zm-3-5zm-1 3zm-3-1zm-1 1zm-3 1zm-2-3z" stroke="#A31F30" stroke-width="2.5" stroke-linecap="round" fill="none"/>
<path transform="translate(1584.2 1341.5)" d="M98 131zm-2 4zm2-2zm0 0zm1 2zm0-1z" stroke="#EAB323" stroke-width="2.5" stroke-linecap="round" fill="none"/>
<path transform="translate(1584.2 1341.5)" d="M123 95zm-8 6zm2-1zm9-2zm17 3zm1-2zm8 2zm5 0zm4 5zm-18-4zm-21 5zm-7-2zm-4 0zm-1-1zm0-2zm-4 3zm-3-1zm-4 2zm0 1zm-4-1zm4 4zm6 3zm2-4zm5 3zm4-2zm5 3zm8-2zm7-3zm4 3zm20 2zm5-5zm0 0zm2 3zm-1 3zm-23 2zm-5-2zm-2 5zm0-3zm-12 1zm-15-1zm-2-1zm-13 3zm7 2zm16 1zm10 0zm22 4zm3 0zm4 0zm11 0zm1 0zm0-4zm3 1zm3 2zm-4 7zm-4-5zm0 1zm-6 3zm0 1zm-2-2zm-3-1zm-8-1zm-8 4zm0-4zm-3 1zm-1 3zm-10-3zm-5-2zm-1 1zm-3 4zm0-2zm0 1zm-9-2zm-7 2zm-5-1zm19 8zm15-1zm1-2zm12-2zm4 3zm14 7zm-6 1zm-10-2zm-4 2zm0-5zm-2 5zm0-3zm-2 3zm-10-3zm-7 1zm-6 2zm-14-5zm5 6zm1 2zm12-2zm5 1zm2-1zm0 0zm6 0zm1 4zm3-1zm7-3zm3 1zm6 1zm-4 7zm-11 0zm-12-1zm-1 1zm-3-1zm-11 2zm0-3zm0-1zm-4 4zm-2 1zm4 3zm6-2zm3 0zm3 3zm0-1zm1 0zm2-2zm5 4zm0 1zm4-4zm2 2zm1-2zm6 0zm5 2zm0-3zm-5 10zm-2-4zm-3 1zm-3 1zm-1-1zm-3-1zm-2 5zm-8-4zm-8-1zm1 6zm1 3zm0-3zm3 1zm1-1zm22 0zm-7 6zm-1 4zm-2-2zm-10-2zm4 7zm5 1zm6-2z" stroke="#C8C8C8" stroke-width="2.5" stroke-linecap="round" fill="none"/>
<path transform="translate(1584.2 1341.5)" d="M128 95zm28 8zm-4-1zm-14 1zm-3 3zm-18 0zm-9 7zm29-4zm24 1zm5 5zm-26 0zm-8-1zm-39 10zm26-3zm33 0zm10 4zm-5 2zm-49 0zm-5 0zm-5 7zm9-2zm10 4zm8-2zm1-2zm20 7zm-40 8zm16 4zm-16 6zm7 4zm7-1zm6 1zm-11 4zm17 3zm3 8zm-2 3zm-19-2z" stroke="#A31F30" stroke-width="2.5" stroke-linecap="round" fill="none"/>
<path transform="translate(1584.2 1341.5)" d="M148 106zm-3-1zm-6 2zm-10 2zm0 4zm8-4zm2 0zm1 3zm5-1zm4 0zm0 1zm3-1zm1 0zm-7 3zm-3 2zm-1 2zm-3-3zm-7-1zm-8 5zm-3 6zm3-3zm0 2zm2 0zm3 1zm3-3zm0 0zm1 3zm1-4zm4 4zm5 0zm0-2zm1-2zm1 2zm5-1zm0-1zm2 3zm1-1zm1-3zm2 2zm2 4zm-11 0zm-5 3zm-6 2zm-2-1zm-1-2zm-2-2zm-3 5zm-1-4zm-1 4zm-1-4zm-1 0zm-2 4zm-4-1zm-4 5zm8 1zm2 1zm4-5zm3 5zm3-2zm4 0zm1 1zm1-3zm2 4zm1 0zm7-3zm-2 7zm0-3zm-1 2zm-2 2zm-4-2zm-1 3zm-2-5zm-7 2zm-7-1zm-2 2zm-2 4zm11 0zm1 4zm1-4zm4 3zm1-1zm0 1zm5-4zm2 3zm1-2zm-4 6zm-5 1zm-6 0zm-2-1zm5 5z" stroke="#C8C8C8" stroke-width="2.5" stroke-linecap="round" fill="none"/>
<path transform="translate(1584.2 1341.5)" d="M150 107zm-13 0zm-8 3zm18 1zm5 0zm-8 6zm-15-2zm-2 1zm-4 9zm14 0zm3-3zm13 1zm2 2zm-14 5zm-7-4zm-6 3zm-1-2zm0 0zm-3 4zm-4 0zm3 1zm5 0zm1 3zm4-1zm17-2zm-3 11zm-3-4zm0 2zm0 0zm-1 2zm-8 4zm7 1zm-6 7zm-2-2zm-2 3zm2 0z" stroke="#A31F30" stroke-width="2.5" stroke-linecap="round" fill="none"/>
<path transform="translate(1584.2 1341.5)" d="M121 164zm-1 3zm-3-2zm-3-2zm-30 6zm6 3zm24-1zm14 3zm-46 9zm0-1zm3 1zm1 2zm15-5zm7 5zm6-4zm6 5zm-23 2zm-12 6zm7 0zm35 0zm-21 7zm-15-2zm-2 2zm31 3z" stroke="#4E5B85" stroke-width="2.5" stroke-linecap="round" fill="none"/>
<path transform="translate(1584.2 1341.5)" d="M149 107zm-14 0zm2 1zm7 2zm2 2zm9 4zm-11-1zm-7 0zm0 5zm3 0zm13 0zm1 0zm-2 11zm-3-2zm-5 1zm-17 6zm1-2zm6 3zm5-1zm9 3zm-5 2zm-7-3zm-15 4zm-3-2zm0 1zm10 7zm17-1zm-8 7zm-5 0zm0 3z" stroke="#4DB8D8" stroke-width="2.5" stroke-linecap="round" fill="none"/>
<path transform="translate(1584.2 1341.5)" d="M96 161zm14-5zm4 1zm-22 11zm24 8zm-3 1zm4 10zm-1 2zm-17-2zm-5 4zm-8 0zm19 5zm21 5zm-4 2zm-16-3zm-8-2zm24 9zm-15 5z" stroke="#E8A0C8" stroke-width="2.5" stroke-linecap="round" fill="none"/>
<path transform="translate(1584.2 1341.5)" d="M104 161zm5-1zm5 1zm2-5zm0 8zm-22-2zm-2 1zm0 4zm-9 6zm10-2zm10 0zm17-1zm1-1zm5 2zm-3 4zm-1-1zm-7 4zm-20 4zm2 3zm15 0zm3 0zm3-1zm2 1zm10-2zm-7 3zm-8 5zm-5-4zm-1-1zm-3 3zm-18 0zm-4 7zm7 0zm29 4zm-8 1zm-11 7zm19 3z" stroke="#88B5AA" stroke-width="2.5" stroke-linecap="round" fill="none"/>
<path d="M1584.2 1570.6H1768" stroke="#111" stroke-width="1.6" fill="none"/>
<g font-size="19" text-anchor="middle" font-weight="bold"><text x="1675.8" y="1349.5">v3_60dph_B2</text></g>
<path d="M1934.5 1352.3L1942.4 1351.4L1951.3 1360.2L1947.3 1367.1L1942.4 1375L1938.5 1386.8L1946.3 1396.7L1947.3 1406.5L1938.5 1407.5L1928.6 1404.5L1918.8 1406.5L1914.8 1404.5L1918.8 1396.7L1926.6 1388.8L1930.6 1375L1932.5 1363.2z" fill="url(#p24)"/>
<path transform="translate(1778 1341.5)" d="M169 16zm2 1zm2 0zm0 5zm0-3zm0 1zm-1 0zm-17 7zm14-1zm1 0zm-4 8zm-1-2zm-4 0zm-7 0zm-3 2zm0 7zm1-2zm0 1zm10 0zm2-3zm0 0zm0 0zm-1 8zm-1 2zm-1-5zm0 1zm0 2zm-8-1zm-6 2zm1 3zm14 2zm7 6zm0 2zm-11-1zm-6-3zm0 2zm-12 1zm0-3zm-5 7zm2-2zm3 5zm1 0zm0-1zm0 0zm0 0zm1-2zm0 2zm2 1zm3-5zm1 4zm18 1zm2 0zm0 0zm1-5zm-7 6z" stroke="#A31F30" stroke-width="2.5" stroke-linecap="round" fill="none"/>
<path d="M1802.6 1388.8L1812.4 1385.8L1826.2 1392.7L1840 1402.6L1845.9 1410.4L1841.9 1416.4L1836 1424.2L1828.2 1426.2L1818.3 1420.3L1812.4 1412.4L1808.5 1402.6L1804.5 1396.7z" fill="url(#p15)"/>
<path transform="translate(1778 1341.5)" d="M39 47zm-1-2zm0 0zm-1-2zm-2 1zm-1 1zm-7 2zm-4 2zm3 3zm1-2zm0 0zm11 1zm2-3zm2 0zm4 2zm11 7zm-3-3zm-6 5zm-11-5zm-11 1zm6 8zm1 2zm0-4zm3 3zm3-1zm17 0zm10 7zm-5-4zm-1 0zm-1 3zm-24 2zm-1-2zm-2-3zm0 0zm8 7zm1 4zm16-4zm1 4zm5-4zm1 2zm-5 5zm-1 3zm-12-2zm0-3zm-2 4zm0-4zm-1 0zm-2 1zm9 5zm2 3zm1-3zm3 0zm0 0z" stroke="#E8A0C8" stroke-width="2.5" stroke-linecap="round" fill="none"/>
<path d="M1786.8 1420.3L1792.7 1410.4L1800.6 1412.4L1804.5 1420.3L1802.6 1432.1L1808.5 1438L1806.5 1451.8L1798.6 1453.8L1792.7 1447.9L1788.8 1438z" fill="url(#p15)"/>
<path transform="translate(1778 1341.5)" d="M19 71zm-3-3zm-2 3zm-1-1zm-4 6zm0 1zm3-5zm1 1zm0 2zm2-1zm8 2zm3 6zm-7-1zm0 2zm-8 3zm0-2zm4 1zm5 0zm4 3zm2 2zm-10 2zm-4 3zm-1-1zm0-1zm-1-3zm-1 0zm3 9zm3 2zm10-3zm1 3zm2-4zm3-1zm-1 8zm0 0zm0-1zm-12 2zm-1 0zm-2 2zm-1-2zm-1-2zm7 8zm2 0z" stroke="#E8A0C8" stroke-width="2.5" stroke-linecap="round" fill="none"/>
<path d="M1840 1420.3L1847.9 1416.4L1853.8 1423.2L1855.7 1432.1L1849.8 1440L1843.9 1436L1840 1428.2z" fill="url(#p19)"/>
<path transform="translate(1778 1341.5)" d="M68 75zm4 6zm-8-3zm-1 2zm-1 1zm0-2zm1 10zm0-5zm0 4zm9-2zm2-1zm2 1zm3 6zm-4 3zm-1 0zm0-5zm-1 5zm-1-2zm-2 1zm-2 1zm-3-3zm0 1zm-1-1zm10 5z" stroke="#6F8FCF" stroke-width="2.5" stroke-linecap="round" fill="none"/>
<path d="M1810.4 1438L1820.3 1438L1826.2 1434.1L1834.1 1436L1840 1440L1841.9 1449.8L1836 1455.7L1828.2 1461.7L1834.1 1471.5L1830.1 1477.4L1824.2 1473.5L1818.3 1465.6L1812.4 1451.8z" fill="url(#p27)"/>
<path transform="translate(1778 1341.5)" d="M60 95zm-10-3zm-2-1zm-1 3zm-1-1zm-7 2zm-3 5zm2-4zm2 0zm1 0zm3 1zm1 2zm17 1zm4 2zm-2 5zm-2-1zm-27 6zm4-3zm19 4zm1 0zm6-3zm-8 8zm-4-1zm-13 8zm3-3zm5-2zm2 2zm1-1zm0 2zm2 3zm0 2zm-7 2zm-1 0zm-2-4zm-2 1zm8 5zm3 3zm1 2zm2-3z" stroke="#5F5F5F" stroke-width="2.5" stroke-linecap="round" fill="none"/>
<path d="M1859.7 1507L1871.5 1499.1L1887.2 1495.1L1899.1 1499.1L1903 1507L1906.9 1526.6L1905 1546.3L1897.1 1558.2L1883.3 1556.2L1867.6 1546.3L1859.7 1530.6z" fill="url(#p10)"/>
<path transform="translate(1778 1341.5)" d="M114 155zm-2-1zm-6 0zm-2 0zm-17 7zm2 0zm1-1zm2-2zm4-2zm25 1zm1 2zm4 7zm-1-2zm-11-1zm-9 4zm-3-4zm-5 1zm-11-2zm0 4zm-1-3zm-3 8zm40-2zm4 1zm2 0zm0 3zm-1 2zm-11 2zm-8-3zm-3 2zm-9 2zm-12 0zm-1 1zm-1-5zm-2 11zm1-1zm0-2zm0-1zm12 4zm3-2zm4 2zm6 0zm13-4zm7 0zm2-1zm3 11zm-2-2zm0 0zm-7 1zm-16-4zm-5 2zm-14 1zm-5-1zm-1 0zm2 4zm1 3zm1-3zm28 2zm7 2zm8 2zm0 5zm-21-2zm-3-3zm0 3zm-2-3zm-14 4zm-2-3zm8 8zm3 2zm3 0zm10-1zm13 1zm2-2zm0 3zm0 0zm-1 0zm-15 5zm-5-2zm2 3zm5 0zm4 1zm3 0z" stroke="#C8C8C8" stroke-width="2.5" stroke-linecap="round" fill="none"/>
<path transform="translate(1778 1341.5)" d="M64 147zm1 2zm1 0zm3-2zm0 3zm-1 3zm0 2zm0-2zm-1-3zm-1 3zm0 0zm-2-2zm0 2zm0 1zm-1-1z" stroke="#C8C8C8" stroke-width="2.5" stroke-linecap="round" fill="none"/>
<path transform="translate(1778 1341.5)" d="M150 99zm0 0zm1 2zm5-1zm1-1zm1 2zm1 0zm4 0zm1 0zm7 4zm-2 2zm-1 0zm-1 0zm-1-1zm-1 1zm-1 0zm0-5zm-1 1zm0-1zm-1 2zm0-1zm-2 4zm-2 0zm0-1zm-2-3zm-1 2zm0-3zm0 4zm-1 1zm-1-4zm-2 1zm0-2zm-1 1zm9 5zm2 0zm0 2zm0 0zm1 2zm2-3zm0-1zm0 3zm1 1zm0 0zm1-2zm1 1zm0-2zm1 0zm1 0zm1 2zm0 1zm0-4zm0 1zm1 4zm1-1zm0-2zm1 0zm0 5zm-2-1zm-1 1zm-3 0z" stroke="#C8C8C8" stroke-width="2.5" stroke-linecap="round" fill="none"/>
<path transform="translate(1778 1341.5)" d="M102 101zm-1 6zm-1-3zm-2 3zm-1-1zm0 1zm0 1zm0 2zm1 1zm0 1zm1-2zm0-2zm-3 8zm0 0zm0 1zm-1 1zm0-4zm-1 1zm0 2zm-1 1zm-1 0zm0 0zm0 1zm-1-1zm0 1zm0 0zm-1-1zm-2-1zm-1 2zm-7 4zm2-1zm0 2zm1-2zm0 2zm1-2zm0-2zm3 1zm0 3zm1-3zm1 4zm1-4zm0 3zm0 0zm1-2zm0-1zm0-1zm0 0zm1 2zm-5 5zm-1 0z" stroke="#4DB8D8" stroke-width="2.5" stroke-linecap="round" fill="none"/>
<path transform="translate(1778 1341.5)" d="M139 161zm2-2zm0 0zm1 0zm0 0zm1 0zm0 1zm1 0zm0-2zm1 3zm1-3zm1 2zm0 1zm0-1zm1-2zm3 3zm-2 5zm0-3zm-1-1zm-1 4zm-1-3zm-1 2zm0-2zm0 2zm-1-3zm-1 4zm-1-4zm-1 4zm0-4zm0 3zm-1-3zm0 1zm-1 3zm-1-4zm0 0zm0 2zm-1 6zm2 0zm1 0zm4 2zm1 1zm0-2zm2 1zm0 1zm0 0zm1-1zm0-3zm0-1zm0 0zm1 2zm1 2zm0 1zm0-5zm1 1zm0 0zm0 1zm-2 5zm-3 0zm-2-1zm-1 1z" stroke="#4DB8D8" stroke-width="2.5" stroke-linecap="round" fill="none"/>
<path transform="translate(1778 1341.5)" d="M90 137zm0-1zm3 1zm2 1zm-2 2zm-1 2zm0-4zm-2 1zm0 2zm-1 2zm0-5zm-1 4zm0-4zm0 3zm0-3zm-1 1zm-1-1zm0 3zm0-2zm-1 2zm0-2zm0 4zm-1-4zm0 4zm-1-2zm0-2zm0 2zm-1 1zm-1 1zm0-2zm0 1zm-1 0zm-1-2zm0 1zm0-1zm-1 2zm4 2zm1 0zm3 1zm2 0z" stroke="#E8A0C8" stroke-width="2.5" stroke-linecap="round" fill="none"/>
<path transform="translate(1778 1341.5)" d="M136 102zm-9 3zm-9-2zm-11-1zm-14 7zm15 3zm8 0zm4-1zm19-2zm20 4zm6 5zm-29 1zm-21 0zm-4-1zm-3 0zm-2 0zm-3-1zm-7 4zm36 3zm1 0zm3-2zm7 0zm6-2zm7 0zm13 5zm0-4zm-5 9zm-18-4zm-6 3zm-40-3zm0 5zm-3-5zm-2 1zm0 7zm16-1zm41-1zm10 11zm-4 0zm-4 0zm-10-2zm-10 1zm-20 0zm-4-3zm-12 7zm14 2zm14 7zm-4-5zm-11 9zm13 2zm1-4zm19 0zm0 2zm-6 4zm-12 4zm-5-2zm-5 0zm-10-3zm26 13zm-14 3zm11 4z" stroke="#88B5AA" stroke-width="2.5" stroke-linecap="round" fill="none"/>
<path transform="translate(1778 1341.5)" d="M47 82zm-1-1zm-2 0zm0 1zm-5-3zm-2 1zm-2 3zm-3 0zm-2-4zm-2 5zm2 5zm5-3zm1 2zm5-1zm4-1zm0 0zm2-1zm7 0zm3 1zm6 8zm0 1zm-5 0zm-5-1zm-2-1zm0 0zm-2 1zm-3-2zm-5-1zm-1 1zm0 2zm0-3zm-1 1zm0-2zm-2 0zm-2 0zm-4 8zm5 2zm3 0zm1 0zm9-2zm11 0zm0-1zm1 4zm1-2zm0-3zm2 0zm-2 7zm0 2zm-3-1zm-3-2zm-2 1zm-4 0zm-4 0zm-3 3zm4 2zm1 0zm3 0zm1 1zm3-1zm2 0z" stroke="#E8A0C8" stroke-width="2.5" stroke-linecap="round" fill="none"/>
<path d="M1891.2 1477.4L1899.1 1463.6L1906.9 1449.8L1918.8 1445.9L1928.6 1447.9L1934.5 1459.7L1934.5 1471.5L1928.6 1479.4L1924.7 1487.3L1918.8 1495.1L1912.9 1499.1L1906.9 1497.1L1903 1487.3L1895.1 1487.3z" fill="url(#p23)"/>
<path transform="translate(1778 1341.5)" d="M145 106zm-1 0zm-8-1zm-2 2zm0-2zm16 3zm3 0zm1 4zm0 2zm-10 0zm-20 0zm-4 9zm1-3zm0 2zm2-2zm0 1zm0 4zm31-5zm3 2zm0 8zm0-2zm0 2zm-1 0zm-1-4zm-37 2zm-1 0zm-5 7zm1 1zm2-2zm11 2zm8-1zm0-2zm0 4zm16 0zm3-2zm1-2zm0-1zm-3 7zm-1 3zm-1-3zm-1 1zm-8 1zm-16 1zm-5 4zm0 1zm7-2zm1 4zm5-3zm4 0zm7 3zm3 0zm1-4zm1-1zm-6 7zm-3 3zm-2 1zm-3 0z" stroke="#88B5AA" stroke-width="2.5" stroke-linecap="round" fill="none"/>
<path d="M1926.6 1467.6L1938.5 1463.6L1946.3 1459.7L1950.3 1465.6L1946.3 1477.4L1944.4 1489.2L1934.5 1487.3L1926.6 1479.4z" fill="url(#p9)"/>
<path transform="translate(1778 1341.5)" d="M168 118zm-1 0zm-13 6zm1 0zm1-1zm4-3zm1 3zm0 0zm5-3zm5 1zm0 4zm1-1zm0 0zm1 1zm0-1zm-4 3zm-5 1zm-13 1zm-4 3zm1 2zm1-2zm17 0zm0 3zm2 2zm1 1zm-4 4zm-10 1zm0-4zm-2 4zm0 0zm7 1zm4 2zm4-1z" stroke="#13917A" stroke-width="2.5" stroke-linecap="round" fill="none"/>
<path transform="translate(1778 1341.5)" d="M122 149zm4 5zm1 6zm3 0zm0 0zm0 2zm-3 10zm2-1zm5 8zm-1 0zm-4-1zm0 2zm5 3zm2 2zm1-5zm-1 8zm-5-1zm5 6zm1 4zm2 1z" stroke="#4E5B85" stroke-width="2.5" stroke-linecap="round" fill="none"/>
<path d="M1859.7 1440L1871.5 1447.9L1887.2 1457.7L1899.1 1461.7L1910.9 1465.6L1918.8 1471.5L1916.8 1477.4L1906.9 1473.5L1895.1 1469.5L1883.3 1463.6L1871.5 1455.7L1859.7 1445.9z" fill="url(#p24)"/>
<path transform="translate(1778 1341.5)" d="M82 100zm0-2zm0 0zm1 0zm11 9zm-2 0zm-3-3zm-1-2zm-2 0zm0 3zm-4-1zm3 4zm1 0zm14 2zm0 1zm3 0zm0 2zm12 5zm0-1zm-2 0zm-1 0zm-3-1zm0-2zm-3 1zm-9 0zm11 10zm2-2zm10 1zm4-3zm6 3zm1-2zm0 2zm2 0zm8 5zm-14 2zm-6-4zm-7-1zm11 7zm6-1zm0 0zm1 1zm2 1zm3 1zm0 1zm2 1zm0-1z" stroke="#A31F30" stroke-width="2.5" stroke-linecap="round" fill="none"/>
<path transform="translate(1778 1341.5)" d="M126 115zm-2 4zm-2-2zm-2 1zm-3 7zm5-5zm9 4zm0 2zm-1 4zm0-1zm0 1zm-3-1zm-2 2zm-3 0zm-2-4zm-2 1zm0-1zm-1 2zm-1-1zm-1 1z" stroke="#A31F30" stroke-width="2.5" stroke-linecap="round" fill="none"/>
<path transform="translate(1778 1341.5)" d="M97 133zm2 0zm0 1z" stroke="#EAB323" stroke-width="2.5" stroke-linecap="round" fill="none"/>
<path transform="translate(1778 1341.5)" d="M157 105zm-5-2zm-33 3zm-23-1zm-1-1zm47 5zm16 1zm-14 10zm8 3zm11 1zm7 5zm-73 1zm22 11zm-19 0zm14 16zm10 10zm-8 1zm4 12z" stroke="#C8C8C8" stroke-width="2.5" stroke-linecap="round" fill="none"/>
<path transform="translate(1778 1341.5)" d="M120 97zm15 1zm14 2zm-21 10zm9 10zm-21 43z" stroke="#A31F30" stroke-width="2.5" stroke-linecap="round" fill="none"/>
<path transform="translate(1778 1341.5)" d="M139 110zm6 0zm4 3zm-14 4zm18 7zm0-3zm-4 5zm-21 0zm-2 4zm-4-4zm-2 0zm5 10zm0-1zm25 1zm-2 5zm-16-3zm-7 9zm6 1zm0 1zm1-5zm7 5zm1 2zm-6 5zm1 0z" stroke="#C8C8C8" stroke-width="2.5" stroke-linecap="round" fill="none"/>
<path transform="translate(1778 1341.5)" d="M151 112zm-13 5zm-10 5zm27 3zm0 6zm-10-2zm-1-1zm-1 3zm-19 1zm14 6zm6 7zm0 4z" stroke="#A31F30" stroke-width="2.5" stroke-linecap="round" fill="none"/>
<path transform="translate(1778 1341.5)" d="M105 174zm-16 0zm37 9zm-21 6zm-18-2zm10 8zm0 5zm26 10zm-4 1z" stroke="#4E5B85" stroke-width="2.5" stroke-linecap="round" fill="none"/>
<path transform="translate(1778 1341.5)" d="M146 119zm-13-5zm-15 10zm7-3zm7 11zm4 3zm4-2zm4 0zm11 0zm-27 10zm-13-5zm28 10z" stroke="#4DB8D8" stroke-width="2.5" stroke-linecap="round" fill="none"/>
<path transform="translate(1778 1341.5)" d="M98 184zm-12 4zm14 6zm24 4zm-18 5zm4 10z" stroke="#E8A0C8" stroke-width="2.5" stroke-linecap="round" fill="none"/>
<path transform="translate(1778 1341.5)" d="M112 166zm-3 6zm13-4zm-11 10zm-1 4zm1 8zm-26-4zm6 7zm28 8zm-20 3zm12 0zm0 3z" stroke="#88B5AA" stroke-width="2.5" stroke-linecap="round" fill="none"/>
<path d="M1778 1570.6H1961.8" stroke="#111" stroke-width="1.6" fill="none"/>
<g font-size="19" text-anchor="middle" font-weight="bold"><text x="1868.6" y="1349.5">v3_80dph_B1</text></g>
<path d="M2127.3 1352.3L2135.2 1351.4L2144.1 1360.2L2140.1 1367.1L2135.2 1375L2131.3 1386.8L2139.1 1396.7L2140.1 1406.5L2131.3 1407.5L2121.4 1404.5L2111.6 1406.5L2107.6 1404.5L2111.6 1396.7L2119.4 1388.8L2123.4 1375L2125.3 1363.2z" fill="url(#p3)"/>
<path transform="translate(1970.8 1341.5)" d="M164 9zm-2 2zm-7 4zm1-3zm4 5zm12 0zm1 1zm-1 0zm-1 5zm0-4zm-9 4zm-1-1zm-4-4zm-2 4zm0-2zm-1 1zm-1 0zm-1 7zm1 0zm1 1zm11-3zm3 3zm1-2zm-3 5zm-3-1zm-10 0zm-2 2zm1 4zm2 3zm8-4zm1 1zm1-1zm-14 10zm-3 1zm-3 5zm2-1zm2-2zm2 4zm1-2zm2 2zm6-1zm3 0zm3 0zm2 0zm0 0zm2 4zm-1 3zm-1-4zm-1 0zm-17-1zm-2 0zm-6 0zm0 2zm-1 1zm4 7zm5 0zm1-1zm7 1zm0 0zm7 1zm4-5zm1 5zm1-4zm-4 6z" stroke="#A31F30" stroke-width="2.5" stroke-linecap="round" fill="none"/>
<path d="M1995.4 1388.8L2005.2 1385.8L2019 1392.7L2032.8 1402.6L2038.7 1410.4L2034.7 1416.4L2028.8 1424.2L2021 1426.2L2011.1 1420.3L2005.2 1412.4L2001.3 1402.6L1997.3 1396.7z" fill="url(#p15)"/>
<path transform="translate(1970.8 1341.5)" d="M38 47zm-1-1zm0-2zm-1 1zm-1 1zm0 0zm-1 1zm-2-2zm-2 0zm-5 0zm5 3zm7 0zm1 5zm2 0zm0-4zm1-1zm2 0zm1 4zm1-1zm1 0zm0 0zm3 0zm1 2zm3 0zm5 6zm-2-1zm-3-2zm-8 0zm-3-1zm0 4zm-3-5zm-5 4zm-6 1zm10 4zm2-3zm0 2zm6 2zm4 0zm3-4zm5 3zm3-3zm1 0zm4 5zm2 6zm0 0zm-1-2zm0-1zm0-1zm-1 4zm-3-2zm-11-2zm-1-1zm-4 1zm-1 2zm-2-3zm-1 4zm-1-1zm-8-1zm-2-1zm4 8zm8-2zm0 4zm9-2zm6-2zm3 4zm1-1zm2-1zm-6 7zm-2-4zm-5 1zm-3 0zm-1 1zm-2 3zm-1-4zm0 0zm-4 1zm16 4z" stroke="#E8A0C8" stroke-width="2.5" stroke-linecap="round" fill="none"/>
<path d="M1979.6 1420.3L1985.5 1410.4L1993.4 1412.4L1997.3 1420.3L1995.4 1432.1L2001.3 1438L1999.3 1451.8L1991.4 1453.8L1985.5 1447.9L1981.6 1438z" fill="url(#p15)"/>
<path transform="translate(1970.8 1341.5)" d="M21 70zm-4-2zm-1 1zm-3 2zm-2 6zm1-4zm1 0zm11 3zm0 6zm-3-2zm-7-1zm-2 2zm0 2zm0-2zm0 2zm-1 0zm-2 0zm1 6zm7-3zm0-1zm1 1zm1-1zm5 3zm1-4zm0 3zm1-1zm-3 4zm-4 5zm-3 0zm-1 0zm-4-1zm0-1zm-1-1zm0 2zm3 6zm1 0zm2-4zm2 4zm2-1zm7-3zm2 2zm2 0zm-1 7zm-14 1zm-3-2zm5 5zm1 1zm0 1zm2 0zm2 0zm2 0zm1-1zm0 1zm1-3z" stroke="#E8A0C8" stroke-width="2.5" stroke-linecap="round" fill="none"/>
<path d="M2032.8 1420.3L2040.7 1416.4L2046.6 1423.2L2048.5 1432.1L2042.6 1440L2036.7 1436L2032.8 1428.2z" fill="url(#p19)"/>
<path transform="translate(1970.8 1341.5)" d="M67 76zm3-1zm1 2zm5 4zm-3-3zm-2 0zm-5 1zm-1-1zm0 0zm0 0zm0 3zm-1-3zm-2 3zm-1-3zm1 11zm3-5zm4 3zm7-1zm2 0zm-3 7zm-1 0zm-2-3zm-3 5zm-1 0zm0-2zm1 4zm7 0z" stroke="#6F8FCF" stroke-width="2.5" stroke-linecap="round" fill="none"/>
<path d="M2003.2 1438L2013.1 1438L2019 1434.1L2026.9 1436L2032.8 1440L2034.7 1449.8L2028.8 1455.7L2021 1461.7L2026.9 1471.5L2022.9 1477.4L2017 1473.5L2011.1 1465.6L2005.2 1451.8z" fill="url(#p16)"/>
<path transform="translate(1970.8 1341.5)" d="M53 95zm-2 0zm0-1zm-3-1zm-3 0zm-6 1zm-6 2zm0 1zm1 1zm4 0zm5-2zm3 0zm14 1zm2 1zm0 2zm-28 4zm-1 8zm20 1zm6-4zm3 0zm-5 6zm-1 3zm-8 1zm-12 0zm4 5zm9-3zm0 0zm2 0zm1 2zm3 8zm-2-4zm0 2zm-1-3zm-7 3zm0 0zm-1 0zm-1-1zm0-1zm4 5zm0 0zm3 2zm0-1zm0 1zm1 2z" stroke="#5F5F5F" stroke-width="2.5" stroke-linecap="round" fill="none"/>
<path d="M2052.5 1507L2064.3 1499.1L2080 1495.1L2091.9 1499.1L2095.8 1507L2099.7 1526.6L2097.8 1546.3L2089.9 1558.2L2076.1 1556.2L2060.4 1546.3L2052.5 1530.6z" fill="url(#p0)"/>
<path transform="translate(1970.8 1341.5)" d="M111 153zm-3 1zm-3 0zm0 0zm-1 0zm-14 4zm4 2zm1 0zm21-4zm3 4zm0-2zm1 1zm6 8zm0-3zm-1 3zm-1-1zm-1-1zm-24-1zm-1 0zm-7 1zm-3 1zm-5-4zm0 2zm-1 6zm1 0zm22 2zm12-3zm7 1zm1-1zm1 0zm1 2zm0 2zm-1 4zm-18 1zm0-3zm-4-1zm-6 4zm-17 0zm0 2zm1 4zm0-1zm6-3zm19 4zm1-3zm18-1zm3 7zm0 0zm-14-1zm-27 1zm-1 2zm0 2zm-6-3zm5 9zm25 0zm0-4zm13-1zm2 2zm2 2zm-1 4zm-4 3zm-2-3zm-2-1zm-31-1zm0 1zm-1-1zm-1 0zm0 2zm4 5zm1 2zm6-1zm1 2zm20-2zm0 2zm8-1zm1 0zm-8 7zm0 0zm-1-4zm-15 5zm-2-3zm0 0zm9 4zm1 0zm0 0zm2 0zm0 0zm6 1z" stroke="#C8C8C8" stroke-width="2.5" stroke-linecap="round" fill="none"/>
<path transform="translate(1970.8 1341.5)" d="M62 148zm1-2zm1 1zm3 1zm0 0zm2 1zm0 3zm-1-1zm-1 0zm0-1zm0 2zm-1 2zm-1-3zm0 2zm-1 0zm0-1zm-1 1zm-1-2zm0 0zm-1 1z" stroke="#C8C8C8" stroke-width="2.5" stroke-linecap="round" fill="none"/>
<path d="M2119.4 1440L2131.3 1440L2143.1 1447.9L2145 1457.7L2139.1 1457.7L2131.3 1451.8L2121.4 1447.9z" fill="url(#p0)"/>
<path transform="translate(1970.8 1341.5)" d="M150 100zm1-2zm5 1zm17 6zm0 2zm-2-2zm-1 0zm-1 0zm-4-3zm0 0zm-1 2zm-6 0zm-8 2zm0-4zm7 6zm6 4zm1 1zm1-4zm7 1zm2 2zm0 2zm-1 2zm-2-2zm-1 3zm0-2zm-2 3zm0-4z" stroke="#C8C8C8" stroke-width="2.5" stroke-linecap="round" fill="none"/>
<path d="M2048.5 1463.6L2058.4 1459.7L2064.3 1455.7L2068.2 1447.9L2072.2 1442L2074.1 1445.9L2068.2 1459.7L2062.3 1467.6L2052.5 1469.5z" fill="url(#p21)"/>
<path transform="translate(1970.8 1341.5)" d="M100 100zm2 1zm1 4zm-1 2zm-5-1zm-6 7zm4-2zm1 0zm5-1zm1-2zm-3 9zm-1-3zm-2 5zm-4-4zm-1-1zm-5 5zm0-1zm-5 0zm8 4zm2 2zm4-2zm-8 5zm-1 1zm-1 1zm-1-2zm-3-1z" stroke="#4DB8D8" stroke-width="2.5" stroke-linecap="round" fill="none"/>
<path d="M2109.6 1501L2117.5 1497.1L2123.4 1505L2121.4 1514.8L2113.5 1516.8L2107.6 1510.9z" fill="url(#p21)"/>
<path transform="translate(1970.8 1341.5)" d="M142 158zm1 2zm3-3zm1 0zm1-1zm6 7zm-2 3zm-2-2zm-10-1zm-4 5zm1 1zm3 1zm1 3zm1-2zm5 2zm3 1zm-2 0zm-4 1zm-1 1zm-2-1z" stroke="#4DB8D8" stroke-width="2.5" stroke-linecap="round" fill="none"/>
<path transform="translate(1970.8 1341.5)" d="M86 137zm1 0zm1 0zm0-1zm1 1zm0 0zm1-1zm5 3zm-5 4zm-1-3zm0 2zm-1 1zm0-3zm0-1zm-1 2zm0 0zm0 0zm-1 0zm0 1zm0-4zm0 0zm0 0zm-1 1zm0 0zm-1 4zm-1-1zm-1 1zm0-3zm0 1zm0-2zm-1 0zm0 1zm0-1zm0 3zm0 1zm0 0zm0 0zm-1-1zm0 0zm-1 1zm0-3zm-1 0zm0 2zm0 1zm0 0zm4 2zm0-1zm2 0zm1 0zm1 0z" stroke="#E8A0C8" stroke-width="2.5" stroke-linecap="round" fill="none"/>
<path d="M2064.3 1443.9L2091.9 1436L2121.4 1438L2143.1 1447.9L2147 1467.6L2131.3 1487.3L2115.5 1507L2103.7 1522.7L2091.9 1526.6L2080 1516.8L2072.2 1497.1L2064.3 1477.4z" fill="url(#p22)"/>
<path transform="translate(1970.8 1341.5)" d="M134 95zm-7 0zm-5-3zm-18 9zm32-4zm13-1zm3 3zm-51 6zm-7 0zm79 7zm2 5zm-42 0zm-26 8zm24 0zm11-1zm33-1zm0 4zm-54 0zm-26 9zm14 0zm5-4zm21 1zm34 2zm-2 5zm-29 0zm-16 1zm-24 2zm0-5zm58 17zm-3-1zm-28 3zm24 1zm2 1zm-47 5zm3 4zm31 7zm-2 2zm-2 1zm-10-1zm-10 1zm-4-2zm8 7zm0-1zm2 1zm3 2zm8-2zm1-3zm1 2z" stroke="#88B5AA" stroke-width="2.5" stroke-linecap="round" fill="none"/>
<path d="M1999.3 1420.3L2013.1 1420.3L2028.8 1428.2L2036.7 1438L2032.8 1447.9L2019 1451.8L2005.2 1447.9L1999.3 1436z" fill="url(#p15)"/>
<path transform="translate(1970.8 1341.5)" d="M51 83zm0-3zm-3 3zm-1-3zm-11-1zm-1 3zm-4-4zm-1 1zm-2 3zm0 3zm1 3zm17 0zm1-2zm13 2zm8 6zm-2 0zm-1 1zm0-3zm-1 1zm-14 0zm-8 0zm-1-2zm-5-1zm-5 2zm-1-2zm0 1zm-2 3zm0-2zm1 5zm3 1zm6 0zm8 3zm14-2zm1-2zm1-1zm0 2zm4-1zm0 0zm-21 7zm0 2zm-13-2zm5 4zm2 0zm7 2zm2 0zm0-1zm0 2zm0-1zm5 0zm1 1zm0-3zm3 0zm2 0z" stroke="#E8A0C8" stroke-width="2.5" stroke-linecap="round" fill="none"/>
<path d="M2084 1477.4L2091.9 1463.6L2099.7 1449.8L2111.6 1445.9L2121.4 1447.9L2127.3 1459.7L2127.3 1471.5L2121.4 1479.4L2117.5 1487.3L2111.6 1495.1L2105.7 1499.1L2099.7 1497.1L2095.8 1487.3L2087.9 1487.3z" fill="url(#p2)"/>
<path transform="translate(1970.8 1341.5)" d="M152 105zm-8 0zm-2-1zm-6 2zm-11 6zm0 1zm9 0zm11-1zm1 1zm6-5zm3 2zm2 8zm0-4zm-2 0zm0 0zm-3 1zm-10-1zm-16 0zm-1 1zm-2 4zm-4 6zm1-1zm2-3zm1 1zm0 1zm8 1zm5-4zm0 3zm0 0zm6 0zm1 2zm11-2zm0 1zm4-1zm0 4zm-8 1zm-27 2zm0-1zm-4-1zm-2 1zm0-2zm-4 8zm2 2zm1-4zm10 0zm6 4zm4-5zm5 4zm7-4zm3 4zm2-3zm-6 10zm-4-2zm0 0zm-10 0zm-1-3zm-3 2zm-13 1zm0 1zm-2 0zm1 2zm4 1zm5-1zm2 4zm13-1zm5-1zm1-1zm1 1zm0-1zm1-1zm-5 9zm0-3zm-2 4zm0-1zm-11-2zm-2-1zm-1 4zm8 3z" stroke="#88B5AA" stroke-width="2.5" stroke-linecap="round" fill="none"/>
<path d="M2119.4 1467.6L2131.3 1463.6L2139.1 1459.7L2143.1 1465.6L2139.1 1477.4L2137.2 1489.2L2127.3 1487.3L2119.4 1479.4z" fill="url(#p9)"/>
<path transform="translate(1970.8 1341.5)" d="M170 119zm-1 0zm-5 0zm-10 4zm0 2zm4-1zm2-3zm3 1zm0 2zm3 1zm0-2zm5-1zm0 8zm-1-3zm-2 1zm-7-2zm-11 4zm-1 1zm-1 4zm1-1zm14 1zm3-3zm0 3zm4 2zm-1 5zm-1-4zm-6 2zm-4 2zm-8-3zm-2 0zm6 6zm3-1zm4 3zm3 0zm1-2zm1 1z" stroke="#13917A" stroke-width="2.5" stroke-linecap="round" fill="none"/>
<path transform="translate(1970.8 1341.5)" d="M131 155zm-6-2zm-2 1zm-1-3zm0 9zm3-2zm1 1zm1 2zm1 1zm0 1zm-1 8zm1 0zm3-1zm1 0zm0 0zm2 3zm2 6zm0-5zm-1 0zm-4 3zm-1 0zm0-1zm-2-2zm-1 3zm6 5zm1 2zm3-2zm1 4zm0 1zm-2 2zm-3-3zm-1 2zm-1 1zm-1-2zm2 5zm4 4zm1-2zm0 0zm1 3zm0 1z" stroke="#4E5B85" stroke-width="2.5" stroke-linecap="round" fill="none"/>
<path d="M2052.5 1440L2064.3 1447.9L2080 1457.7L2091.9 1461.7L2103.7 1465.6L2111.6 1471.5L2109.6 1477.4L2099.7 1473.5L2087.9 1469.5L2076.1 1463.6L2064.3 1455.7L2052.5 1445.9z" fill="url(#p3)"/>
<path transform="translate(1970.8 1341.5)" d="M83 101zm2 0zm12 5zm-2 0zm-1 1zm-1-2zm-2-2zm-1 0zm-3-1zm0 5zm-6-2zm8 5zm1 1zm2-2zm1 1zm1 3zm0-1zm1 0zm1-4zm2 1zm15 10zm-5-2zm-1 1zm-1-3zm-5 2zm-4-3zm0 1zm-2 2zm-3-3zm0 0zm14 6zm1 4zm13-4zm8 5zm1-2zm3 1zm8 4zm-1 3zm-1-4zm-12 4zm-1-2zm-2-2zm-1 4zm-3-3zm-1-1zm-3 1zm0-2zm-1 1zm-1-1zm-3 1zm20 6zm7 2zm1 1zm1-4zm0 3zm2-2z" stroke="#A31F30" stroke-width="2.5" stroke-linecap="round" fill="none"/>
<path transform="translate(1970.8 1341.5)" d="M131 115zm-2 0zm-4 0zm-1 3zm0 1zm-2-2zm0-2zm-1 1zm-4-2zm-1 1zm1 10zm3-2zm2 1zm2-3zm1 2zm2 2zm0-2zm4 1zm1-2zm3 8zm-1-2zm-1 0zm-2-1zm-1 4zm-8-1zm-1-1zm0 2zm0-4zm0-1zm-4 0z" stroke="#A31F30" stroke-width="2.5" stroke-linecap="round" fill="none"/>
<path transform="translate(1970.8 1341.5)" d="M96 133zm2 0zm1 2z" stroke="#EAB323" stroke-width="2.5" stroke-linecap="round" fill="none"/>
<path transform="translate(1970.8 1341.5)" d="M136 100zm28 6zm-27 0zm-1-3zm-1 4zm-6-4zm-10 3zm-6-3zm-12 2zm20 3zm10 4zm2-1zm31-3zm5 1zm2 5zm-9 2zm-25 0zm-20-1zm-4 2zm-18-2zm19 9zm11-3zm18 3zm15-1zm8 0zm3 0zm2 2zm-3 3zm-14-2zm-22 3zm-27-2zm-8 4zm6 2zm37 2zm1 1zm3-1zm2-2zm15 5zm-2 4zm-4 1zm0-2zm-4 1zm-13 1zm-38 1zm44 1zm4-1zm10 0zm-5 8zm-15-1zm-4 4zm-13-4zm-5 0zm-6 4zm-3-2zm-8-2zm2 5zm34 1zm5 0zm5 1zm1 2zm4-1zm-11 4zm-11 1zm-21 3zm6 2zm4 2zm7 2zm1-3zm13 2zm-13 6zm-3-3zm1 5z" stroke="#C8C8C8" stroke-width="2.5" stroke-linecap="round" fill="none"/>
<path transform="translate(1970.8 1341.5)" d="M123 96zm6 1zm-25 13zm24 3zm4-5zm7 3zm22 1zm-4 2zm-45 12zm24 14zm-38 4zm5 2zm18 0zm13 6zm-31 6zm32 5zm-16 1zm7 13z" stroke="#A31F30" stroke-width="2.5" stroke-linecap="round" fill="none"/>
<path transform="translate(1970.8 1341.5)" d="M132 113zm1-5zm9 2zm12 6zm-21 0zm-4-2zm-2 3zm-2 0zm-4 7zm5 0zm2-3zm5-1zm8 5zm2-1zm1-3zm1 4zm7-1zm1 1zm4 6zm-1-3zm-4 3zm0-4zm0 0zm-1 3zm-5 1zm0-4zm0 3zm-20-4zm-11 5zm2 3zm3 0zm2 2zm1-2zm1 0zm2 0zm3 1zm21-2zm1 4zm2-4zm-8 5zm-2 4zm-1 1zm-2-5zm-1 0zm-6 1zm-3 4zm-1-2zm0-1zm-2 1zm-6 2zm-6-2zm4 5zm10-1zm5 1zm9 0zm1 0zm-5 7zm-3 0zm-2 2zm0-3z" stroke="#C8C8C8" stroke-width="2.5" stroke-linecap="round" fill="none"/>
<path transform="translate(1970.8 1341.5)" d="M144 107zm-14 5zm13-4zm9 9zm-2-3zm-8 2zm-2 0zm-6 0zm-1 4zm15 3zm-17 8zm0-2zm-13 7zm21-1zm1-1zm4-1zm1 10zm0-1zm-25-2zm-2-1zm5 7zm4-2zm3 3zm5-3z" stroke="#A31F30" stroke-width="2.5" stroke-linecap="round" fill="none"/>
<path transform="translate(1970.8 1341.5)" d="M107 157zm3 2zm12 4zm-2 1zm-28 8zm-4 3zm17 14zm-8 6zm3 1zm3 0zm10 1zm10 3z" stroke="#4E5B85" stroke-width="2.5" stroke-linecap="round" fill="none"/>
<path transform="translate(1970.8 1341.5)" d="M134 109zm4-1zm9 2zm3 1zm0 1zm0 5zm-2-3zm-25 9zm12 0zm6 1zm8-4zm6 8zm-25 1zm12 7zm3 1zm5-3zm-1 5zm-3 0zm-5 4zm-19-3zm12 9zm9-4zm-4 7zm-7 0z" stroke="#4DB8D8" stroke-width="2.5" stroke-linecap="round" fill="none"/>
<path transform="translate(1970.8 1341.5)" d="M107 159zm5 6zm-4-1zm-17-1zm15 8zm19 1zm-21 5zm-12 6zm1-2zm13 4zm-13 7zm16 7z" stroke="#E8A0C8" stroke-width="2.5" stroke-linecap="round" fill="none"/>
<path transform="translate(1970.8 1341.5)" d="M98 161zm22 0zm-3 2zm-1 1zm-5 1zm-3 0zm-2-1zm-9 8zm22-3zm6-1zm-12 10zm-4 0zm-20 6zm11 1zm14-5zm6 7zm1 6zm-9 8zm-12 1zm0-1zm-11 0zm5 3zm0 3zm17 4z" stroke="#88B5AA" stroke-width="2.5" stroke-linecap="round" fill="none"/>
<path d="M1970.8 1570.6H2154.6" stroke="#111" stroke-width="1.6" fill="none"/>
<g font-size="19" text-anchor="middle" font-weight="bold"><text x="2063" y="1349.5">v3_80dph_B2</text></g>
<path d="M1197.7 1341.5V1571.4" stroke="#111" stroke-width="1.6" fill="none"/>
<g font-size="17.5" text-anchor="middle"><text x="1182.5" y="1414.6" transform="rotate(-90 1182.5 1414.6)">UMAP  2</text><text x="1679.7" y="1588">UMAP  1</text></g>
<path d="M1296.4 1624.6V1882.5M1374 1624.6V1882.5M1451.6 1624.6V1882.5M1529.3 1624.6V1882.5M1606.9 1624.6V1882.5M1684.5 1624.6V1882.5M1762.1 1624.6V1882.5M1839.7 1624.6V1882.5M1917.4 1624.6V1882.5M1995 1624.6V1882.5M2072.6 1624.6V1882.5M1255.8 1654.4H2152.3M1255.8 1704.1H2152.3M1255.8 1753.6H2152.3M1255.8 1803.6H2152.3M1255.8 1853H2152.3" stroke="#222" stroke-width="1.2" fill="none"/>
<g stroke="#111" stroke-width="1.5"><path fill="#4A97BE" d="M1296.4 1632.1H1306V1676.7H1296.4z"/><path fill="#EAB323" d="M1306 1632.1H1310.8V1676.7H1306z"/><path fill="#C8C8C8" d="M1310.8 1632.1H1316.1V1676.7H1310.8zM1360.5 1632.1H1369.3V1676.7H1360.5zM1369.3 1632.1H1385.2V1676.7H1369.3zM1385.2 1632.1H1397.2V1676.7H1385.2zM1445.1 1632.1H1464.5V1676.7H1445.1zM1875.8 1632.1H1927.7V1676.7H1875.8zM1927.7 1632.1H1941V1676.7H1927.7zM1941 1632.1H1966.2V1676.7H1941zM2005 1632.1H2043.3V1676.7H2005z"/><path fill="#4DB8D8" d="M1316.1 1632.1H1332.6V1676.7H1316.1zM1344.8 1632.1H1360.5V1676.7H1344.8zM1430.4 1632.1H1445.1V1676.7H1430.4z"/><path fill="#88B5AA" d="M1332.6 1632.1H1337.9V1676.7H1332.6zM1337.9 1632.1H1344.8V1676.7H1337.9zM1566 1632.1H1600.1V1676.7H1566zM1625.9 1632.1H1645.5V1676.7H1625.9zM2043.3 1632.1H2080.8V1676.7H2043.3z"/><path fill="#E8A0C8" d="M1397.2 1632.1H1407V1676.7H1397.2zM1407 1632.1H1430.4V1676.7H1407zM1487.6 1632.1H1516.9V1676.7H1487.6zM1516.9 1632.1H1566V1676.7H1516.9zM1600.1 1632.1H1625.9V1676.7H1600.1zM1686 1632.1H1717.1V1676.7H1686zM1791 1632.1H1875.8V1676.7H1791z"/><path fill="#111" d="M1464.5 1632.1H1467.7V1676.7H1464.5z"/><path fill="#A31F30" d="M1467.7 1632.1H1487.6V1676.7H1467.7zM1673.7 1632.1H1686V1676.7H1673.7zM1717.1 1632.1H1731.2V1676.7H1717.1zM1753.8 1632.1H1791V1676.7H1753.8z"/><path fill="#6F8FCF" d="M1645.5 1632.1H1673.7V1676.7H1645.5z"/><path fill="#13917A" d="M1731.2 1632.1H1753.8V1676.7H1731.2z"/><path fill="#5F5F5F" d="M1966.2 1632.1H2005V1676.7H1966.2z"/></g>
<g font-size="15.7" text-anchor="end" fill="#444"><text x="1252.3" y="1659.9">v3_80dph_B2</text></g>
<g stroke="#111" stroke-width="1.5"><path fill="#111" d="M1296.4 1681.8H1301.5V1726.4H1296.4zM1305.5 1681.8H1308.1V1726.4H1305.5z"/><path fill="#4DB8D8" d="M1301.5 1681.8H1305.5V1726.4H1301.5zM1308.1 1681.8H1310.8V1726.4H1308.1zM1357.3 1681.8H1364.5V1726.4H1357.3z"/><path fill="#C8C8C8" d="M1310.8 1681.8H1316.1V1726.4H1310.8zM1316.1 1681.8H1326.8V1726.4H1316.1zM1326.8 1681.8H1334.7V1726.4H1326.8zM1364.5 1681.8H1374.1V1726.4H1364.5zM1582 1681.8H1606.7V1726.4H1582zM1606.7 1681.8H1619.2V1726.4H1606.7zM1619.2 1681.8H1640V1726.4H1619.2zM1653.8 1681.8H1659.1V1726.4H1653.8z"/><path fill="#E8A0C8" d="M1334.7 1681.8H1341.9V1726.4H1334.7zM1341.9 1681.8H1357.3V1726.4H1341.9zM1382 1681.8H1395.9V1726.4H1382zM1395.9 1681.8H1409.2V1726.4H1395.9zM1429.6 1681.8H1455.7V1726.4H1429.6zM1497.5 1681.8H1508.1V1726.4H1497.5zM1556.2 1681.8H1582V1726.4H1556.2z"/><path fill="#A31F30" d="M1374.1 1681.8H1382V1726.4H1374.1zM1487.6 1681.8H1497.5V1726.4H1487.6zM1508.1 1681.8H1521.4V1726.4H1508.1zM1542.6 1681.8H1556.2V1726.4H1542.6z"/><path fill="#88B5AA" d="M1409.2 1681.8H1429.6V1726.4H1409.2zM1455.7 1681.8H1473V1726.4H1455.7zM1659.1 1681.8H1663.9V1726.4H1659.1z"/><path fill="#6F8FCF" d="M1473 1681.8H1487.6V1726.4H1473z"/><path fill="#13917A" d="M1521.4 1681.8H1542.6V1726.4H1521.4z"/><path fill="#5F5F5F" d="M1640 1681.8H1653.8V1726.4H1640z"/></g>
<g font-size="15.7" text-anchor="end" fill="#444"><text x="1252.3" y="1709.6">v3_80dph_B1</text></g>
<g stroke="#111" stroke-width="1.5"><path fill="#111" d="M1296.4 1731.3H1300.2V1775.9H1296.4z"/><path fill="#E8E8E8" d="M1300.2 1731.3H1302.8V1775.9H1300.2z"/><path fill="#4DB8D8" d="M1302.8 1731.3H1306.8V1775.9H1302.8zM1339.5 1731.3H1349.4V1775.9H1339.5zM1401.7 1731.3H1415.8V1775.9H1401.7z"/><path fill="#88B5AA" d="M1306.8 1731.3H1322V1775.9H1306.8zM1322 1731.3H1339.5V1775.9H1322zM1492.9 1731.3H1512.1V1775.9H1492.9zM1519.5 1731.3H1538.1V1775.9H1519.5zM1988.3 1731.3H2111.4V1775.9H1988.3z"/><path fill="#C8C8C8" d="M1349.4 1731.3H1361.3V1775.9H1349.4zM1361.3 1731.3H1374.1V1775.9H1361.3zM1374.1 1731.3H1386V1775.9H1374.1zM1415.8 1731.3H1433.1V1775.9H1415.8zM1688.6 1731.3H1701.9V1775.9H1688.6zM1701.9 1731.3H1725V1775.9H1701.9zM1725 1731.3H1775V1775.9H1725zM1840.7 1731.3H1988.3V1775.9H1840.7z"/><path fill="#E8A0C8" d="M1386 1731.3H1395.1V1775.9H1386zM1395.1 1731.3H1401.7V1775.9H1395.1zM1471.7 1731.3H1483.1V1775.9H1471.7zM1483.1 1731.3H1492.9V1775.9H1483.1zM1512.1 1731.3H1519.5V1775.9H1512.1zM1576.2 1731.3H1605.1V1775.9H1576.2zM1679.8 1731.3H1688.6V1775.9H1679.8z"/><path fill="#4E5B85" d="M1433.1 1731.3H1438.4V1775.9H1433.1z"/><path fill="#A31F30" d="M1438.4 1731.3H1471.7V1775.9H1438.4zM1561.5 1731.3H1576.2V1775.9H1561.5zM1605.1 1731.3H1624V1775.9H1605.1zM1638.6 1731.3H1679.8V1775.9H1638.6z"/><path fill="#6F8FCF" d="M1538.1 1731.3H1561.5V1775.9H1538.1z"/><path fill="#13917A" d="M1624 1731.3H1638.6V1775.9H1624z"/><path fill="#5F5F5F" d="M1775 1731.3H1840.7V1775.9H1775z"/></g>
<g font-size="15.7" text-anchor="end" fill="#444"><text x="1252.3" y="1759.1">v3_60dph_B2</text></g>
<g stroke="#111" stroke-width="1.5"><path fill="#EAB323" d="M1296.4 1781.3H1300.7V1825.9H1296.4z"/><path fill="#E8E8E8" d="M1300.7 1781.3H1304.2V1825.9H1300.7z"/><path fill="#4DB8D8" d="M1304.2 1781.3H1306.8V1825.9H1304.2zM1326.8 1781.3H1332.6V1825.9H1326.8zM1396.7 1781.3H1413.2V1825.9H1396.7z"/><path fill="#111" d="M1306.8 1781.3H1310.8V1825.9H1306.8z"/><path fill="#88B5AA" d="M1310.8 1781.3H1318.2V1825.9H1310.8zM1318.2 1781.3H1326.8V1825.9H1318.2zM1507 1781.3H1513.4V1825.9H1507zM1528 1781.3H1548V1825.9H1528zM1925.8 1781.3H1944.4V1825.9H1925.8z"/><path fill="#C8C8C8" d="M1332.6 1781.3H1352.8V1825.9H1332.6zM1352.8 1781.3H1369.3V1825.9H1352.8zM1369.3 1781.3H1383.9V1825.9H1369.3zM1413.2 1781.3H1435.2V1825.9H1413.2zM1714.4 1781.3H1748.2V1825.9H1714.4zM1748.2 1781.3H1834.6V1825.9H1748.2zM1834.6 1781.3H1889.1V1825.9H1834.6zM1917.8 1781.3H1925.8V1825.9H1917.8z"/><path fill="#E8A0C8" d="M1383.9 1781.3H1391.9V1825.9H1383.9zM1391.9 1781.3H1396.7V1825.9H1391.9zM1496.9 1781.3H1500.9V1825.9H1496.9zM1500.9 1781.3H1507V1825.9H1500.9zM1513.4 1781.3H1528V1825.9H1513.4zM1604.1 1781.3H1626.7V1825.9H1604.1z"/><path fill="#4E5B85" d="M1435.2 1781.3H1492.1V1825.9H1435.2z"/><path fill="#A31F30" d="M1492.1 1781.3H1496.9V1825.9H1492.1zM1573.5 1781.3H1604.1V1825.9H1573.5zM1626.7 1781.3H1646.1V1825.9H1626.7zM1686.5 1781.3H1714.4V1825.9H1686.5z"/><path fill="#6F8FCF" d="M1548 1781.3H1573.5V1825.9H1548z"/><path fill="#13917A" d="M1646.1 1781.3H1686.5V1825.9H1646.1z"/><path fill="#5F5F5F" d="M1889.1 1781.3H1917.8V1825.9H1889.1z"/></g>
<g font-size="15.7" text-anchor="end" fill="#444"><text x="1252.3" y="1809.1">v3_60dph_B1</text></g>
<g stroke="#111" stroke-width="1.5"><path fill="#C8C8C8" d="M1296.4 1830.7H1306.8V1875.3H1296.4zM1332.6 1830.7H1344.8V1875.3H1332.6zM1437.1 1830.7H1439.7V1875.3H1437.1zM1599.3 1830.7H1604V1875.3H1599.3zM1604 1830.7H1609.9V1875.3H1604zM1624.5 1830.7H1631.2V1875.3H1624.5z"/><path fill="#111" d="M1306.8 1830.7H1310.8V1875.3H1306.8zM1331.3 1830.7H1332.6V1875.3H1331.3zM1399.1 1830.7H1401.2V1875.3H1399.1zM1594 1830.7H1599.3V1875.3H1594z"/><path fill="#5F5F5F" d="M1310.8 1830.7H1314V1875.3H1310.8zM1609.9 1830.7H1624.5V1875.3H1609.9z"/><path fill="#88B5AA" d="M1314 1830.7H1320.9V1875.3H1314zM1439.7 1830.7H1445.1V1875.3H1439.7zM1459.7 1830.7H1476.2V1875.3H1459.7zM1631.2 1830.7H1655.9V1875.3H1631.2z"/><path fill="#4DB8D8" d="M1320.9 1830.7H1331.3V1875.3H1320.9zM1383.9 1830.7H1399.1V1875.3H1383.9z"/><path fill="#E8A0C8" d="M1344.8 1830.7H1369.8V1875.3H1344.8zM1369.8 1830.7H1383.9V1875.3H1369.8zM1415.8 1830.7H1437.1V1875.3H1415.8zM1445.1 1830.7H1459.7V1875.3H1445.1zM1521.6 1830.7H1532.3V1875.3H1521.6z"/><path fill="#4E5B85" d="M1401.2 1830.7H1407.8V1875.3H1401.2z"/><path fill="#A31F30" d="M1407.8 1830.7H1415.8V1875.3H1407.8zM1482.3 1830.7H1521.6V1875.3H1482.3zM1532.3 1830.7H1579.3V1875.3H1532.3z"/><path fill="#6F8FCF" d="M1476.2 1830.7H1482.3V1875.3H1476.2z"/><path fill="#13917A" d="M1579.3 1830.7H1594V1875.3H1579.3z"/></g>
<g font-size="15.7" text-anchor="end" fill="#444"><text x="1252.3" y="1858.5">v2_B1</text></g>
<rect x="1255.8" y="1624.6" width="896.5" height="257.9" fill="none" stroke="#222" stroke-width="1.4" />
<g font-size="13.2" text-anchor="middle" fill="#444"><text x="1301.9" y="1903">0</text><text x="1457.14" y="1903">1000</text><text x="1612.38" y="1903">2000</text><text x="1767.62" y="1903">3000</text><text x="1922.86" y="1903">4000</text><text x="2078.1" y="1903">5000</text></g>
<g font-size="17" text-anchor="middle" font-weight="bold"><text x="1689" y="1923">#Cells</text></g>
</svg></body></html>
